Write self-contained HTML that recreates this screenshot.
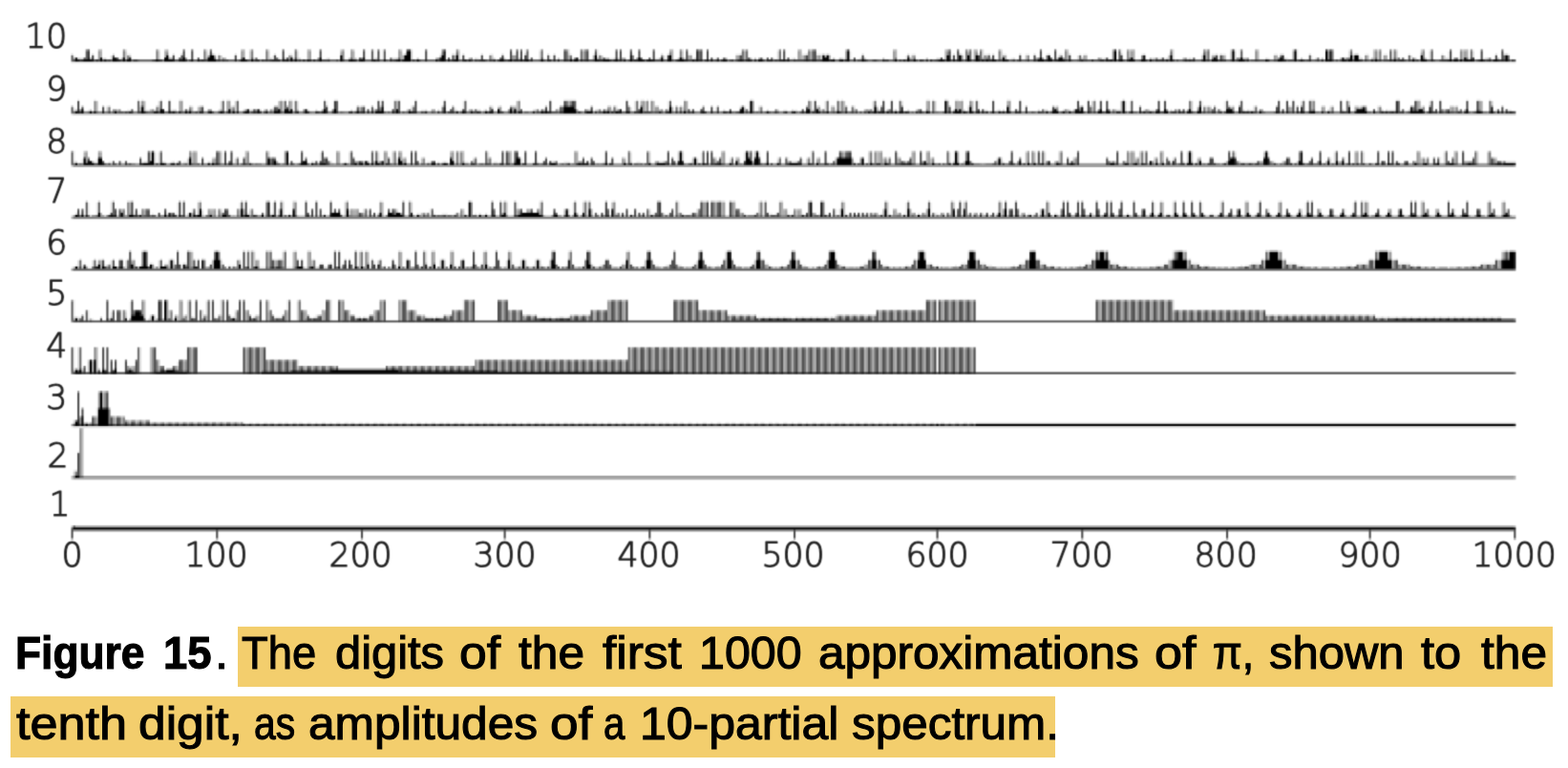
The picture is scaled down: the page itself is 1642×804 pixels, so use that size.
<!DOCTYPE html>
<html lang="en">
<head>
<meta charset="utf-8">
<title>Figure 15</title>
<style>
html,body{margin:0;padding:0;background:#fff;}
body{width:1642px;height:804px;position:relative;overflow:hidden;font-family:"Liberation Sans","DejaVu Sans",sans-serif;}
#chart{position:absolute;left:0;top:0;}
.hl{position:absolute;background:#F3CE6D;}
.cap{position:absolute;left:0;top:0;width:1642px;height:804px;margin:0;}
.w{position:absolute;display:block;white-space:nowrap;font-size:48px;line-height:80px;height:80px;color:#000;transform-origin:0 0;-webkit-text-stroke:1.1px #000;paint-order:stroke fill;}
.b{font-weight:bold;}
</style>
</head>
<body>
<div id="chart">
<svg width="1642" height="625" viewBox="0 0 1642 625">
<defs>
<filter id="b" x="0" y="0" width="1642" height="625" filterUnits="userSpaceOnUse" color-interpolation-filters="sRGB"><feColorMatrix type="matrix" values="0 0 0 0 0 0 0 0 0 0 0 0 0 0 0 1 0 0 0 0"/><feConvolveMatrix order="3" kernelMatrix="28.9 112.2 28.9 112.2 435.6 112.2 28.9 112.2 28.9" divisor="1000" edgeMode="none" preserveAlpha="false"/></filter>
<filter id="c" x="0" y="0" width="1642" height="625" filterUnits="userSpaceOnUse" color-interpolation-filters="sRGB"><feConvolveMatrix order="3" kernelMatrix="28.9 112.2 28.9 112.2 435.6 112.2 28.9 112.2 28.9" divisor="1000" edgeMode="none" preserveAlpha="false"/></filter>
</defs>
<g filter="url(#b)">
<rect x="0" y="0" width="1642" height="625" fill="#000"/>
<g fill="#fff">
<path style="mix-blend-mode:plus-lighter" fill-opacity="0.06" d="M74.49 64.49h1512.91v2.17h-1512.91zM74.49 279.07h2.17v2.17h-2.17zM91.83 279.07h4.34v2.17h-4.34zM189.37 279.07h2.17v2.17h-2.17zM208.88 279.07h2.17v2.17h-2.17zM237.06 279.07h2.17v2.17h-2.17zM252.23 279.07h2.17v2.17h-2.17zM271.74 279.07h6.5v2.17h-6.5zM299.92 279.07h6.5v2.17h-6.5zM319.42 279.07h2.17v2.17h-2.17zM347.6 279.07h2.17v2.17h-2.17zM362.77 279.07h2.17v2.17h-2.17zM369.28 279.07h2.17v2.17h-2.17zM386.62 279.07h2.17v2.17h-2.17zM393.12 279.07h2.17v2.17h-2.17zM403.95 279.07h2.17v2.17h-2.17zM477.65 279.07h2.17v2.17h-2.17zM74.49 445.97h2.17v2.17h-2.17zM76.66 57.99h2.17v2.17h-2.17zM176.37 57.99h2.17v2.17h-2.17zM1422.68 57.99h2.17v2.17h-2.17zM76.66 112.18h2.17v2.17h-2.17zM284.74 112.18h2.17v2.17h-2.17zM390.95 112.18h2.17v2.17h-2.17zM475.48 112.18h2.17v2.17h-2.17zM583.86 112.18h2.17v2.17h-2.17zM733.41 112.18h2.17v2.17h-2.17zM76.66 157.69h2.17v10.84h-2.17zM390.95 157.69h2.17v10.84h-2.17zM997.85 157.69h2.17v10.84h-2.17zM76.66 313.75h2.17v17.34h-2.17zM76.66 363.61h2.17v21.67h-2.17zM76.66 491.49h2.17v2.17h-2.17zM78.83 276.91h2.17v2.17h-2.17zM85.33 276.91h2.17v2.17h-2.17zM89.67 276.91h2.17v2.17h-2.17zM109.17 276.91h2.17v2.17h-2.17zM120.01 276.91h2.17v2.17h-2.17zM141.69 276.91h2.17v2.17h-2.17zM146.02 276.91h2.17v2.17h-2.17zM169.87 276.91h2.17v2.17h-2.17zM204.55 276.91h2.17v2.17h-2.17zM239.23 276.91h2.17v2.17h-2.17zM243.56 276.91h2.17v2.17h-2.17zM312.92 276.91h2.17v2.17h-2.17zM373.61 276.91h2.17v2.17h-2.17zM401.79 276.91h2.17v2.17h-2.17zM440.8 276.91h2.17v2.17h-2.17zM449.47 276.91h2.17v2.17h-2.17zM475.48 276.91h2.17v2.17h-2.17zM479.82 276.91h2.17v2.17h-2.17zM492.82 276.91h2.17v2.17h-2.17zM516.66 276.91h2.17v2.17h-2.17zM542.67 276.91h2.17v2.17h-2.17zM551.34 276.91h2.17v2.17h-2.17zM557.85 276.91h2.17v2.17h-2.17zM566.52 276.91h2.17v2.17h-2.17zM573.02 276.91h2.17v2.17h-2.17zM583.86 276.91h2.17v2.17h-2.17zM592.53 276.91h2.17v2.17h-2.17zM609.87 276.91h2.17v2.17h-2.17zM620.7 276.91h2.17v2.17h-2.17zM627.21 276.91h2.17v2.17h-2.17zM640.21 276.91h2.17v2.17h-2.17zM648.88 276.91h2.17v2.17h-2.17zM661.89 276.91h2.17v2.17h-2.17zM672.72 276.91h2.17v2.17h-2.17zM685.73 276.91h4.34v2.17h-4.34zM696.57 276.91h2.17v2.17h-2.17zM711.74 276.91h2.17v2.17h-2.17zM724.75 276.91h2.17v2.17h-2.17zM739.92 276.91h4.34v2.17h-4.34zM750.75 276.91h2.17v2.17h-2.17zM772.43 276.91h2.17v2.17h-2.17zM785.43 276.91h2.17v2.17h-2.17zM804.94 276.91h2.17v2.17h-2.17zM817.95 276.91h2.17v2.17h-2.17zM822.28 276.91h2.17v2.17h-2.17zM839.62 276.91h4.34v2.17h-4.34zM856.96 276.91h2.17v2.17h-2.17zM861.3 276.91h2.17v2.17h-2.17zM880.8 276.91h4.34v2.17h-4.34zM900.31 276.91h4.33v2.17h-4.33zM924.15 276.91h6.5v2.17h-6.5zM948 276.91h4.34v2.17h-4.34zM976.17 276.91h2.17v2.17h-2.17zM980.51 276.91h2.17v2.17h-2.17zM1000.02 276.91h2.17v2.17h-2.17zM1004.35 276.91h2.17v2.17h-2.17zM1032.53 276.91h6.5v2.17h-6.5zM1060.71 276.91h2.17v2.17h-2.17zM1065.04 276.91h2.17v2.17h-2.17zM1095.39 276.91h2.17v2.17h-2.17zM1099.72 276.91h4.34v2.17h-4.34zM1130.07 276.91h2.17v2.17h-2.17zM1134.4 276.91h2.17v2.17h-2.17zM1171.25 276.91h2.17v2.17h-2.17zM1175.59 276.91h4.33v2.17h-4.33zM1210.26 276.91h8.67v2.17h-8.67zM1255.78 276.91h2.17v2.17h-2.17zM1260.12 276.91h6.5v2.17h-6.5zM1299.13 276.91h2.17v2.17h-2.17zM1303.47 276.91h4.34v2.17h-4.34zM1359.82 276.91h6.5v2.17h-6.5zM1409.67 276.91h6.5v2.17h-6.5zM1418.35 276.91h2.17v2.17h-2.17zM1476.87 276.91h4.34v2.17h-4.34zM1483.37 276.91h4.34v2.17h-4.34zM1539.72 276.91h6.5v2.17h-6.5zM1548.39 276.91h2.17v2.17h-2.17zM81 103.51h2.17v2.17h-2.17zM98.34 103.51h2.17v2.17h-2.17zM143.86 103.51h2.17v2.17h-2.17zM148.19 103.51h2.17v2.17h-2.17zM167.7 103.51h2.17v2.17h-2.17zM176.37 103.51h2.17v2.17h-2.17zM187.21 103.51h4.34v2.17h-4.34zM232.72 103.51h2.17v2.17h-2.17zM237.06 103.51h4.34v2.17h-4.34zM247.9 103.51h2.17v2.17h-2.17zM293.41 103.51h2.17v2.17h-2.17zM297.75 103.51h2.17v2.17h-2.17zM302.08 103.51h4.34v2.17h-4.34zM308.59 103.51h2.17v2.17h-2.17zM338.93 103.51h2.17v2.17h-2.17zM349.77 103.51h4.34v2.17h-4.34zM395.29 103.51h2.17v2.17h-2.17zM399.62 103.51h2.17v2.17h-2.17zM412.62 103.51h6.5v2.17h-6.5zM434.3 103.51h2.17v2.17h-2.17zM464.64 103.51h2.17v2.17h-2.17zM486.32 103.51h2.17v2.17h-2.17zM542.67 103.51h2.17v2.17h-2.17zM575.19 103.51h2.17v2.17h-2.17zM590.36 103.51h13v2.17h-13zM655.38 103.51h2.17v2.17h-2.17zM666.22 103.51h2.17v2.17h-2.17zM670.56 103.51h4.33v2.17h-4.33zM677.06 103.51h2.17v2.17h-2.17zM681.39 103.51h2.17v2.17h-2.17zM700.9 103.51h2.17v2.17h-2.17zM716.07 103.51h2.17v2.17h-2.17zM787.6 103.51h2.17v2.17h-2.17zM846.12 103.51h2.17v2.17h-2.17zM852.63 103.51h2.17v2.17h-2.17zM865.63 103.51h2.17v2.17h-2.17zM876.47 103.51h2.17v2.17h-2.17zM880.8 103.51h2.17v2.17h-2.17zM915.48 103.51h2.17v2.17h-2.17zM924.15 103.51h2.17v2.17h-2.17zM932.82 103.51h2.17v2.17h-2.17zM941.49 103.51h2.17v2.17h-2.17zM969.67 103.51h4.34v2.17h-4.34zM976.17 103.51h2.17v2.17h-2.17zM991.35 103.51h2.17v2.17h-2.17zM1000.02 103.51h4.34v2.17h-4.34zM1006.52 103.51h2.17v2.17h-2.17zM1015.19 103.51h2.17v2.17h-2.17zM1021.69 103.51h2.17v2.17h-2.17zM1039.03 103.51h2.17v2.17h-2.17zM1054.2 103.51h4.34v2.17h-4.34zM1067.21 103.51h2.17v2.17h-2.17zM1127.9 103.51h2.17v2.17h-2.17zM1138.74 103.51h2.17v2.17h-2.17zM1145.24 103.51h2.17v2.17h-2.17zM1151.74 103.51h2.17v2.17h-2.17zM1158.24 103.51h2.17v2.17h-2.17zM1184.25 103.51h2.17v2.17h-2.17zM1212.43 103.51h2.17v2.17h-2.17zM1218.93 103.51h2.17v2.17h-2.17zM1244.94 103.51h2.17v2.17h-2.17zM1255.78 103.51h2.17v2.17h-2.17zM1283.96 103.51h2.17v2.17h-2.17zM1299.13 103.51h2.17v2.17h-2.17zM1338.15 103.51h2.17v2.17h-2.17zM1346.82 103.51h2.17v2.17h-2.17zM1353.32 103.51h2.17v2.17h-2.17zM1364.16 103.51h2.17v2.17h-2.17zM1370.66 103.51h6.5v2.17h-6.5zM1403.17 103.51h2.17v2.17h-2.17zM1409.67 103.51h2.17v2.17h-2.17zM1461.69 103.51h4.34v2.17h-4.34zM1481.2 103.51h6.5v2.17h-6.5zM1498.54 103.51h2.17v2.17h-2.17zM1507.21 103.51h2.17v2.17h-2.17zM1535.39 103.51h2.17v2.17h-2.17zM1546.23 103.51h4.34v2.17h-4.34zM1559.23 103.51h2.17v2.17h-2.17zM81 331.09h4.33v2.17h-4.33zM202.38 331.09h2.17v2.17h-2.17zM224.05 331.09h2.17v2.17h-2.17zM241.39 331.09h2.17v2.17h-2.17zM286.91 331.09h8.67v2.17h-8.67zM323.76 331.09h2.17v2.17h-2.17zM328.09 331.09h2.17v2.17h-2.17zM371.44 331.09h4.34v2.17h-4.34zM382.28 331.09h4.33v2.17h-4.33zM447.31 331.09h6.5v2.17h-6.5zM458.14 331.09h6.5v2.17h-6.5zM562.18 331.09h6.5v2.17h-6.5zM570.85 331.09h4.34v2.17h-4.34zM581.69 331.09h4.34v2.17h-4.34zM590.36 331.09h4.34v2.17h-4.34zM791.94 331.09h6.5v2.17h-6.5zM800.61 331.09h4.34v2.17h-4.34zM807.11 331.09h6.5v2.17h-6.5zM815.78 331.09h4.33v2.17h-4.33zM822.28 331.09h6.5v2.17h-6.5zM835.29 331.09h4.34v2.17h-4.34zM841.79 331.09h6.5v2.17h-6.5zM850.46 331.09h4.34v2.17h-4.34zM856.96 331.09h6.5v2.17h-6.5zM865.63 331.09h4.34v2.17h-4.34zM872.13 331.09h2.17v2.17h-2.17zM1440.02 331.09h6.5v2.17h-6.5zM1448.69 331.09h4.33v2.17h-4.33zM1455.19 331.09h6.5v2.17h-6.5zM1463.86 331.09h4.34v2.17h-4.34zM1472.53 331.09h4.33v2.17h-4.33zM1479.03 331.09h6.5v2.17h-6.5zM1487.7 331.09h4.34v2.17h-4.34zM1494.21 331.09h6.5v2.17h-6.5zM1502.88 331.09h4.33v2.17h-4.33zM1509.38 331.09h6.5v2.17h-6.5zM1518.05 331.09h4.34v2.17h-4.34zM1524.55 331.09h6.5v2.17h-6.5zM1533.22 331.09h4.34v2.17h-4.34zM1539.72 331.09h6.5v2.17h-6.5zM1548.39 331.09h4.34v2.17h-4.34zM1554.9 331.09h6.5v2.17h-6.5zM1563.57 331.09h4.34v2.17h-4.34zM81 471.98h2.17v2.17h-2.17zM83.16 222.72h2.17v2.17h-2.17zM113.51 222.72h2.17v2.17h-2.17zM139.52 222.72h2.17v2.17h-2.17zM143.86 222.72h4.33v2.17h-4.33zM159.03 222.72h2.17v2.17h-2.17zM174.2 222.72h2.17v2.17h-2.17zM182.87 222.72h2.17v2.17h-2.17zM239.23 222.72h2.17v2.17h-2.17zM265.24 222.72h4.33v2.17h-4.33zM276.07 222.72h2.17v2.17h-2.17zM282.57 222.72h2.17v2.17h-2.17zM302.08 222.72h2.17v2.17h-2.17zM338.93 222.72h2.17v2.17h-2.17zM356.27 222.72h2.17v2.17h-2.17zM438.63 222.72h2.17v2.17h-2.17zM453.81 222.72h2.17v2.17h-2.17zM462.48 222.72h6.5v2.17h-6.5zM475.48 222.72h2.17v2.17h-2.17zM486.32 222.72h2.17v2.17h-2.17zM497.16 222.72h2.17v2.17h-2.17zM625.04 222.72h2.17v2.17h-2.17zM648.88 222.72h2.17v2.17h-2.17zM659.72 222.72h2.17v2.17h-2.17zM674.89 222.72h2.17v2.17h-2.17zM681.39 222.72h4.33v2.17h-4.33zM698.73 222.72h2.17v2.17h-2.17zM713.91 222.72h2.17v2.17h-2.17zM722.58 222.72h2.17v2.17h-2.17zM778.93 222.72h2.17v2.17h-2.17zM789.77 222.72h2.17v2.17h-2.17zM804.94 222.72h4.33v2.17h-4.33zM811.44 222.72h2.17v2.17h-2.17zM824.45 222.72h2.17v2.17h-2.17zM828.78 222.72h2.17v2.17h-2.17zM839.62 222.72h2.17v2.17h-2.17zM856.96 222.72h2.17v2.17h-2.17zM863.46 222.72h2.17v2.17h-2.17zM885.14 222.72h2.17v2.17h-2.17zM921.99 222.72h2.17v2.17h-2.17zM930.66 222.72h2.17v2.17h-2.17zM945.83 222.72h2.17v2.17h-2.17zM980.51 222.72h2.17v2.17h-2.17zM1075.88 222.72h4.34v2.17h-4.34zM1082.38 222.72h2.17v2.17h-2.17zM1106.22 222.72h2.17v2.17h-2.17zM1221.1 222.72h4.34v2.17h-4.34zM1260.12 222.72h2.17v2.17h-2.17zM1266.62 222.72h4.34v2.17h-4.34zM1275.29 222.72h2.17v2.17h-2.17zM1314.3 222.72h2.17v2.17h-2.17zM1329.48 222.72h2.17v2.17h-2.17zM1335.98 222.72h2.17v2.17h-2.17zM1383.66 222.72h2.17v2.17h-2.17zM1414.01 222.72h2.17v2.17h-2.17zM1450.86 222.72h2.17v2.17h-2.17zM1468.2 222.72h2.17v2.17h-2.17zM85.33 166.36h2.17v4.34h-2.17zM100.5 166.36h2.17v4.34h-2.17zM839.62 166.36h2.17v4.34h-2.17zM87.5 274.74h2.17v2.17h-2.17zM113.51 274.74h2.17v2.17h-2.17zM159.03 274.74h2.17v2.17h-2.17zM172.03 274.74h4.34v2.17h-4.34zM182.87 274.74h2.17v2.17h-2.17zM187.21 274.74h2.17v2.17h-2.17zM193.71 274.74h2.17v2.17h-2.17zM219.72 274.74h2.17v2.17h-2.17zM232.72 274.74h2.17v2.17h-2.17zM334.6 274.74h4.33v2.17h-4.33zM343.26 274.74h2.17v2.17h-2.17zM358.44 274.74h2.17v2.17h-2.17zM367.11 274.74h2.17v2.17h-2.17zM412.62 274.74h2.17v2.17h-2.17zM436.47 274.74h2.17v2.17h-2.17zM497.16 274.74h2.17v2.17h-2.17zM503.66 274.74h2.17v2.17h-2.17zM536.17 274.74h2.17v2.17h-2.17zM581.69 274.74h2.17v2.17h-2.17zM599.03 274.74h2.17v2.17h-2.17zM618.54 274.74h2.17v2.17h-2.17zM631.54 274.74h2.17v2.17h-2.17zM638.04 274.74h2.17v2.17h-2.17zM651.05 274.74h4.34v2.17h-4.34zM659.72 274.74h2.17v2.17h-2.17zM683.56 274.74h2.17v2.17h-2.17zM700.9 274.74h2.17v2.17h-2.17zM707.4 274.74h2.17v2.17h-2.17zM726.91 274.74h2.17v2.17h-2.17zM737.75 274.74h2.17v2.17h-2.17zM755.09 274.74h2.17v2.17h-2.17zM768.09 274.74h2.17v2.17h-2.17zM787.6 274.74h2.17v2.17h-2.17zM800.61 274.74h4.34v2.17h-4.34zM824.45 274.74h2.17v2.17h-2.17zM837.45 274.74h2.17v2.17h-2.17zM863.46 274.74h2.17v2.17h-2.17zM876.47 274.74h2.17v2.17h-2.17zM904.65 274.74h4.34v2.17h-4.34zM921.99 274.74h2.17v2.17h-2.17zM954.5 274.74h2.17v2.17h-2.17zM969.67 274.74h6.5v2.17h-6.5zM1006.52 274.74h6.5v2.17h-6.5zM1026.03 274.74h6.5v2.17h-6.5zM1067.21 274.74h6.5v2.17h-6.5zM1091.05 274.74h4.34v2.17h-4.34zM1136.57 274.74h6.5v2.17h-6.5zM1162.58 274.74h8.67v2.17h-8.67zM1218.93 274.74h4.34v2.17h-4.34zM1247.11 274.74h8.67v2.17h-8.67zM1309.97 274.74h10.84v2.17h-10.84zM1346.82 274.74h10.84v2.17h-10.84zM1420.51 274.74h10.84v2.17h-10.84zM1463.86 274.74h13v2.17h-13zM1550.56 274.74h15.17v2.17h-15.17zM91.83 114.34h2.17v2.17h-2.17zM133.02 114.34h4.34v2.17h-4.34zM152.53 114.34h4.34v2.17h-4.34zM178.53 114.34h2.17v2.17h-2.17zM191.54 114.34h2.17v2.17h-2.17zM371.44 114.34h2.17v2.17h-2.17zM440.8 114.34h4.33v2.17h-4.33zM477.65 114.34h2.17v2.17h-2.17zM481.99 114.34h2.17v2.17h-2.17zM505.83 114.34h2.17v2.17h-2.17zM573.02 114.34h2.17v2.17h-2.17zM820.11 114.34h4.34v2.17h-4.34zM830.95 114.34h4.33v2.17h-4.33zM874.3 114.34h2.17v2.17h-2.17zM934.99 114.34h2.17v2.17h-2.17zM1030.36 114.34h4.34v2.17h-4.34zM1043.37 114.34h2.17v2.17h-2.17zM1099.72 114.34h2.17v2.17h-2.17zM1162.58 114.34h2.17v2.17h-2.17zM1203.76 114.34h6.5v2.17h-6.5zM1307.8 114.34h4.34v2.17h-4.34zM1431.35 114.34h2.17v2.17h-2.17zM1453.02 114.34h8.67v2.17h-8.67zM1466.03 114.34h2.17v2.17h-2.17zM1544.06 114.34h2.17v2.17h-2.17zM1565.73 114.34h2.17v2.17h-2.17zM1578.74 114.34h4.34v2.17h-4.34zM91.83 211.88h2.17v13h-2.17zM100.5 211.88h2.17v13h-2.17zM185.04 211.88h2.17v13h-2.17zM599.03 211.88h2.17v13h-2.17zM798.44 211.88h2.17v13h-2.17zM948 211.88h2.17v13h-2.17zM974.01 211.88h2.17v13h-2.17zM1208.1 211.88h2.17v13h-2.17zM1366.33 211.88h2.17v13h-2.17zM91.83 324.59h2.17v8.67h-2.17zM96.17 333.26h2.17v2.17h-2.17zM98.34 168.53h2.17v2.17h-2.17zM113.51 168.53h4.34v2.17h-4.34zM126.52 168.53h2.17v2.17h-2.17zM148.19 168.53h2.17v2.17h-2.17zM172.03 168.53h2.17v2.17h-2.17zM178.53 168.53h2.17v2.17h-2.17zM191.54 168.53h4.33v2.17h-4.33zM219.72 168.53h2.17v2.17h-2.17zM260.9 168.53h2.17v2.17h-2.17zM312.92 168.53h2.17v2.17h-2.17zM328.09 168.53h2.17v2.17h-2.17zM360.61 168.53h2.17v2.17h-2.17zM447.31 168.53h4.33v2.17h-4.33zM458.14 168.53h2.17v2.17h-2.17zM462.48 168.53h2.17v2.17h-2.17zM466.81 168.53h2.17v2.17h-2.17zM475.48 168.53h2.17v2.17h-2.17zM486.32 168.53h4.34v2.17h-4.34zM516.66 168.53h4.34v2.17h-4.34zM523.17 168.53h2.17v2.17h-2.17zM536.17 168.53h2.17v2.17h-2.17zM557.85 168.53h2.17v2.17h-2.17zM562.18 168.53h2.17v2.17h-2.17zM590.36 168.53h6.5v2.17h-6.5zM612.03 168.53h2.17v2.17h-2.17zM631.54 168.53h2.17v2.17h-2.17zM638.04 168.53h2.17v2.17h-2.17zM666.22 168.53h4.34v2.17h-4.34zM722.58 168.53h2.17v2.17h-2.17zM796.27 168.53h2.17v2.17h-2.17zM800.61 168.53h2.17v2.17h-2.17zM865.63 168.53h2.17v2.17h-2.17zM893.81 168.53h2.17v2.17h-2.17zM1017.36 168.53h2.17v2.17h-2.17zM1049.87 168.53h2.17v2.17h-2.17zM1060.71 168.53h2.17v2.17h-2.17zM1119.23 168.53h2.17v2.17h-2.17zM1251.45 168.53h2.17v2.17h-2.17zM1257.95 168.53h2.17v2.17h-2.17zM1264.45 168.53h2.17v2.17h-2.17zM1270.95 168.53h2.17v2.17h-2.17zM1281.79 168.53h2.17v2.17h-2.17zM1299.13 168.53h17.34v2.17h-17.34zM1333.81 168.53h2.17v2.17h-2.17zM1351.15 168.53h2.17v2.17h-2.17zM1364.16 168.53h2.17v2.17h-2.17zM1440.02 168.53h2.17v2.17h-2.17zM1463.86 168.53h2.17v2.17h-2.17zM1502.88 168.53h2.17v2.17h-2.17zM1518.05 168.53h2.17v2.17h-2.17zM100.5 426.46h2.17v8.67h-2.17zM102.67 270.4h4.33v2.17h-4.33zM137.35 270.4h4.33v2.17h-4.33zM176.37 270.4h2.17v2.17h-2.17zM180.7 270.4h2.17v2.17h-2.17zM221.89 270.4h2.17v2.17h-2.17zM230.56 270.4h2.17v2.17h-2.17zM247.9 270.4h4.34v2.17h-4.34zM267.4 270.4h4.33v2.17h-4.33zM286.91 270.4h4.33v2.17h-4.33zM325.93 270.4h4.33v2.17h-4.33zM427.8 270.4h2.17v2.17h-2.17zM460.31 270.4h2.17v2.17h-2.17zM464.64 270.4h2.17v2.17h-2.17zM481.99 270.4h2.17v2.17h-2.17zM544.84 270.4h2.17v2.17h-2.17zM549.18 270.4h2.17v2.17h-2.17zM560.01 270.4h2.17v2.17h-2.17zM564.35 270.4h2.17v2.17h-2.17zM575.19 270.4h2.17v2.17h-2.17zM674.89 270.4h2.17v2.17h-2.17zM789.77 270.4h2.17v2.17h-2.17zM833.12 270.4h2.17v2.17h-2.17zM865.63 270.4h2.17v2.17h-2.17zM917.65 270.4h2.17v2.17h-2.17zM958.83 270.4h2.17v2.17h-2.17zM1021.69 270.4h2.17v2.17h-2.17zM1145.24 270.4h2.17v2.17h-2.17zM1160.41 270.4h2.17v2.17h-2.17zM1223.27 270.4h4.34v2.17h-4.34zM1242.78 270.4h2.17v2.17h-2.17zM1322.97 270.4h2.17v2.17h-2.17zM1342.48 270.4h2.17v2.17h-2.17zM1437.85 270.4h2.17v2.17h-2.17zM1457.36 270.4h4.34v2.17h-4.34zM1567.9 270.4h4.34v2.17h-4.34zM104.84 387.45h2.17v2.17h-2.17zM111.34 110.01h2.17v2.17h-2.17zM200.21 110.01h2.17v2.17h-2.17zM206.71 110.01h2.17v2.17h-2.17zM241.39 110.01h2.17v2.17h-2.17zM375.78 110.01h2.17v2.17h-2.17zM429.97 110.01h2.17v2.17h-2.17zM514.5 110.01h2.17v2.17h-2.17zM521 110.01h2.17v2.17h-2.17zM644.55 110.01h2.17v2.17h-2.17zM703.07 110.01h2.17v2.17h-2.17zM713.91 110.01h2.17v2.17h-2.17zM774.6 110.01h2.17v2.17h-2.17zM778.93 110.01h2.17v2.17h-2.17zM794.1 110.01h2.17v2.17h-2.17zM893.81 110.01h2.17v2.17h-2.17zM917.65 110.01h2.17v2.17h-2.17zM1013.02 110.01h2.17v2.17h-2.17zM1104.06 110.01h2.17v2.17h-2.17zM1253.62 110.01h2.17v2.17h-2.17zM1262.28 110.01h2.17v2.17h-2.17zM1266.62 110.01h2.17v2.17h-2.17zM1288.29 110.01h2.17v2.17h-2.17zM1312.14 110.01h2.17v2.17h-2.17zM1351.15 110.01h2.17v2.17h-2.17zM1392.34 110.01h2.17v2.17h-2.17zM1422.68 110.01h2.17v2.17h-2.17zM1442.19 110.01h2.17v2.17h-2.17zM1487.7 110.01h2.17v2.17h-2.17zM1522.38 110.01h2.17v2.17h-2.17zM115.68 209.71h2.17v2.17h-2.17zM206.71 209.71h2.17v2.17h-2.17zM295.58 209.71h2.17v2.17h-2.17zM360.61 209.71h2.17v2.17h-2.17zM399.62 209.71h2.17v2.17h-2.17zM429.97 209.71h2.17v2.17h-2.17zM529.67 209.71h2.17v2.17h-2.17zM564.35 209.71h2.17v2.17h-2.17zM609.87 209.71h2.17v2.17h-2.17zM614.2 209.71h2.17v2.17h-2.17zM640.21 209.71h2.17v2.17h-2.17zM709.57 209.71h2.17v2.17h-2.17zM794.1 209.71h2.17v2.17h-2.17zM882.97 209.71h2.17v2.17h-2.17zM928.49 209.71h2.17v2.17h-2.17zM997.85 209.71h2.17v2.17h-2.17zM1008.69 209.71h2.17v2.17h-2.17zM1047.7 209.71h2.17v2.17h-2.17zM1097.55 209.71h2.17v2.17h-2.17zM1216.77 209.71h2.17v2.17h-2.17zM1227.61 209.71h2.17v2.17h-2.17zM1277.46 209.71h2.17v2.17h-2.17zM1338.15 209.71h2.17v2.17h-2.17zM1427.01 209.71h2.17v2.17h-2.17zM1431.35 209.71h2.17v2.17h-2.17zM1557.07 209.71h2.17v2.17h-2.17zM1572.24 209.71h2.17v2.17h-2.17zM115.68 324.59h2.17v2.17h-2.17zM126.52 324.59h2.17v10.84h-2.17zM133.02 55.82h4.34v2.17h-4.34zM217.55 55.82h2.17v2.17h-2.17zM224.05 55.82h2.17v2.17h-2.17zM228.39 55.82h2.17v2.17h-2.17zM302.08 55.82h4.34v2.17h-4.34zM421.3 55.82h2.17v2.17h-2.17zM460.31 55.82h2.17v2.17h-2.17zM475.48 55.82h2.17v2.17h-2.17zM512.33 55.82h4.34v2.17h-4.34zM536.17 55.82h4.34v2.17h-4.34zM596.86 55.82h2.17v2.17h-2.17zM620.7 55.82h2.17v2.17h-2.17zM627.21 55.82h2.17v2.17h-2.17zM661.89 55.82h2.17v2.17h-2.17zM720.41 55.82h4.34v2.17h-4.34zM770.26 55.82h4.34v2.17h-4.34zM839.62 55.82h4.34v2.17h-4.34zM854.79 55.82h6.5v2.17h-6.5zM863.46 55.82h2.17v2.17h-2.17zM867.8 55.82h2.17v2.17h-2.17zM954.5 55.82h4.33v2.17h-4.33zM1006.52 55.82h2.17v2.17h-2.17zM1030.36 55.82h4.34v2.17h-4.34zM1049.87 55.82h4.34v2.17h-4.34zM1073.71 55.82h4.34v2.17h-4.34zM1095.39 55.82h2.17v2.17h-2.17zM1108.39 55.82h4.34v2.17h-4.34zM1130.07 55.82h2.17v2.17h-2.17zM1134.4 55.82h4.34v2.17h-4.34zM1195.09 55.82h2.17v2.17h-2.17zM1223.27 55.82h2.17v2.17h-2.17zM1257.95 55.82h2.17v2.17h-2.17zM1268.79 55.82h4.34v2.17h-4.34zM1279.62 55.82h4.34v2.17h-4.34zM1333.81 55.82h4.34v2.17h-4.34zM1416.18 55.82h2.17v2.17h-2.17zM1429.18 55.82h4.34v2.17h-4.34zM1448.69 55.82h4.33v2.17h-4.33zM1474.7 55.82h2.17v2.17h-2.17zM1509.38 55.82h2.17v2.17h-2.17zM1578.74 55.82h2.17v2.17h-2.17zM135.19 315.92h2.17v17.34h-2.17zM161.2 157.69h2.17v2.17h-2.17zM165.53 157.69h2.17v2.17h-2.17zM364.94 157.69h2.17v2.17h-2.17zM395.29 157.69h2.17v2.17h-2.17zM510.16 157.69h2.17v2.17h-2.17zM659.72 157.69h2.17v2.17h-2.17zM778.93 157.69h2.17v2.17h-2.17zM794.1 157.69h2.17v2.17h-2.17zM993.51 157.69h2.17v2.17h-2.17zM1093.22 157.69h2.17v2.17h-2.17zM1292.63 157.69h2.17v2.17h-2.17zM1327.31 157.69h2.17v2.17h-2.17zM1396.67 157.69h2.17v2.17h-2.17zM1427.01 157.69h2.17v2.17h-2.17zM1511.55 157.69h2.17v2.17h-2.17zM161.2 328.93h2.17v2.17h-2.17zM191.54 328.93h2.17v2.17h-2.17zM330.26 328.93h2.17v2.17h-2.17zM874.3 328.93h2.17v2.17h-2.17zM172.03 385.28h2.17v2.17h-2.17zM185.04 60.16h2.17v2.17h-2.17zM291.25 60.16h2.17v2.17h-2.17zM341.1 60.16h2.17v2.17h-2.17zM499.32 60.16h2.17v2.17h-2.17zM568.68 60.16h2.17v2.17h-2.17zM599.03 60.16h2.17v2.17h-2.17zM638.04 60.16h4.34v2.17h-4.34zM685.73 60.16h4.34v2.17h-4.34zM724.75 60.16h2.17v2.17h-2.17zM748.59 60.16h2.17v2.17h-2.17zM755.09 60.16h2.17v2.17h-2.17zM798.44 60.16h2.17v2.17h-2.17zM809.28 60.16h2.17v2.17h-2.17zM828.78 60.16h2.17v2.17h-2.17zM882.97 60.16h2.17v2.17h-2.17zM987.01 60.16h2.17v2.17h-2.17zM1058.54 60.16h2.17v2.17h-2.17zM1101.89 60.16h2.17v2.17h-2.17zM1153.91 60.16h2.17v2.17h-2.17zM1212.43 60.16h2.17v2.17h-2.17zM1218.93 60.16h2.17v2.17h-2.17zM1242.78 60.16h2.17v2.17h-2.17zM1247.11 60.16h2.17v2.17h-2.17zM1327.31 60.16h2.17v2.17h-2.17zM1346.82 60.16h2.17v2.17h-2.17zM1466.03 60.16h2.17v2.17h-2.17zM1526.72 60.16h2.17v2.17h-2.17zM1537.56 60.16h2.17v2.17h-2.17zM1552.73 60.16h2.17v2.17h-2.17zM185.04 378.78h2.17v4.34h-2.17zM195.88 164.2h2.17v2.17h-2.17zM245.73 164.2h2.17v2.17h-2.17zM414.79 164.2h2.17v2.17h-2.17zM494.99 164.2h2.17v2.17h-2.17zM544.84 164.2h2.17v2.17h-2.17zM729.08 164.2h2.17v2.17h-2.17zM763.76 164.2h2.17v2.17h-2.17zM813.61 164.2h2.17v2.17h-2.17zM843.96 164.2h2.17v2.17h-2.17zM928.49 164.2h2.17v2.17h-2.17zM1043.37 164.2h2.17v2.17h-2.17zM1227.61 164.2h2.17v2.17h-2.17zM1392.34 164.2h2.17v2.17h-2.17zM1492.04 164.2h2.17v2.17h-2.17zM200.21 218.38h2.17v4.34h-2.17zM774.6 218.38h2.17v4.34h-2.17zM200.21 261.73h2.17v2.17h-2.17zM260.9 261.73h2.17v2.17h-2.17zM265.24 261.73h2.17v2.17h-2.17zM295.58 261.73h2.17v2.17h-2.17zM306.42 261.73h2.17v2.17h-2.17zM375.78 261.73h2.17v2.17h-2.17zM384.45 261.73h2.17v2.17h-2.17zM419.13 261.73h2.17v2.17h-2.17zM445.14 261.73h2.17v2.17h-2.17zM505.83 261.73h2.17v2.17h-2.17zM534 261.73h2.17v2.17h-2.17zM594.69 261.73h2.17v2.17h-2.17zM655.38 261.73h2.17v2.17h-2.17zM759.42 261.73h2.17v2.17h-2.17zM967.5 261.73h2.17v2.17h-2.17zM1013.02 261.73h2.17v2.17h-2.17zM1227.61 261.73h2.17v2.17h-2.17zM1572.24 261.73h2.17v2.17h-2.17zM211.05 218.38h2.17v2.17h-2.17zM215.38 313.75h2.17v2.17h-2.17zM234.89 315.92h2.17v19.51h-2.17zM250.06 211.88h2.17v6.5h-2.17zM540.51 211.88h2.17v6.5h-2.17zM254.4 441.64h2.17v2.17h-2.17zM260.9 441.64h4.33v2.17h-4.33zM267.4 441.64h4.33v2.17h-4.33zM276.07 441.64h4.34v2.17h-4.34zM282.57 441.64h4.34v2.17h-4.34zM291.25 441.64h4.33v2.17h-4.33zM297.75 441.64h4.33v2.17h-4.33zM306.42 441.64h4.33v2.17h-4.33zM312.92 441.64h4.33v2.17h-4.33zM321.59 441.64h4.33v2.17h-4.33zM330.26 441.64h2.17v2.17h-2.17zM336.76 441.64h4.34v2.17h-4.34zM345.43 441.64h2.17v2.17h-2.17zM351.94 441.64h4.33v2.17h-4.33zM360.61 441.64h4.33v2.17h-4.33zM367.11 441.64h4.33v2.17h-4.33zM375.78 441.64h4.33v2.17h-4.33zM382.28 441.64h4.33v2.17h-4.33zM390.95 441.64h4.34v2.17h-4.34zM397.45 441.64h4.34v2.17h-4.34zM406.12 441.64h4.33v2.17h-4.33zM412.62 441.64h4.33v2.17h-4.33zM421.3 441.64h4.33v2.17h-4.33zM429.97 441.64h2.17v2.17h-2.17zM436.47 441.64h4.33v2.17h-4.33zM445.14 441.64h2.17v2.17h-2.17zM451.64 441.64h4.34v2.17h-4.34zM460.31 441.64h4.33v2.17h-4.33zM466.81 441.64h4.33v2.17h-4.33zM475.48 441.64h4.33v2.17h-4.33zM481.99 441.64h4.33v2.17h-4.33zM490.66 441.64h4.33v2.17h-4.33zM497.16 441.64h4.33v2.17h-4.33zM505.83 441.64h4.34v2.17h-4.34zM512.33 441.64h4.34v2.17h-4.34zM521 441.64h4.33v2.17h-4.33zM529.67 441.64h2.17v2.17h-2.17zM536.17 441.64h4.34v2.17h-4.34zM544.84 441.64h2.17v2.17h-2.17zM551.34 441.64h4.34v2.17h-4.34zM560.01 441.64h4.33v2.17h-4.33zM566.52 441.64h4.34v2.17h-4.34zM575.19 441.64h4.33v2.17h-4.33zM581.69 441.64h4.34v2.17h-4.34zM590.36 441.64h4.34v2.17h-4.34zM596.86 441.64h4.34v2.17h-4.34zM605.53 441.64h4.34v2.17h-4.34zM612.03 441.64h4.34v2.17h-4.34zM620.7 441.64h4.34v2.17h-4.34zM629.38 441.64h2.17v2.17h-2.17zM635.88 441.64h4.34v2.17h-4.34zM644.55 441.64h2.17v2.17h-2.17zM651.05 441.64h4.34v2.17h-4.34zM659.72 441.64h4.34v2.17h-4.34zM666.22 441.64h4.34v2.17h-4.34zM674.89 441.64h4.34v2.17h-4.34zM681.39 441.64h4.33v2.17h-4.33zM690.06 441.64h4.34v2.17h-4.34zM696.57 441.64h4.33v2.17h-4.33zM705.24 441.64h4.34v2.17h-4.34zM711.74 441.64h4.34v2.17h-4.34zM720.41 441.64h4.34v2.17h-4.34zM729.08 441.64h2.17v2.17h-2.17zM735.58 441.64h4.33v2.17h-4.33zM744.25 441.64h2.17v2.17h-2.17zM750.75 441.64h4.33v2.17h-4.33zM759.42 441.64h4.34v2.17h-4.34zM765.93 441.64h4.34v2.17h-4.34zM774.6 441.64h4.34v2.17h-4.34zM781.1 441.64h4.34v2.17h-4.34zM789.77 441.64h4.33v2.17h-4.33zM796.27 441.64h4.34v2.17h-4.34zM804.94 441.64h4.33v2.17h-4.33zM811.44 441.64h4.34v2.17h-4.34zM820.11 441.64h4.34v2.17h-4.34zM828.78 441.64h2.17v2.17h-2.17zM835.29 441.64h4.34v2.17h-4.34zM843.96 441.64h2.17v2.17h-2.17zM850.46 441.64h4.34v2.17h-4.34zM859.13 441.64h4.33v2.17h-4.33zM865.63 441.64h4.34v2.17h-4.34zM874.3 441.64h4.34v2.17h-4.34zM880.8 441.64h4.34v2.17h-4.34zM889.47 441.64h4.34v2.17h-4.34zM895.98 441.64h4.34v2.17h-4.34zM904.65 441.64h4.34v2.17h-4.34zM911.15 441.64h4.33v2.17h-4.33zM919.82 441.64h4.34v2.17h-4.34zM928.49 441.64h2.17v2.17h-2.17zM934.99 441.64h4.34v2.17h-4.34zM943.66 441.64h2.17v2.17h-2.17zM950.16 441.64h4.34v2.17h-4.34zM958.83 441.64h4.34v2.17h-4.34zM965.34 441.64h4.33v2.17h-4.33zM974.01 441.64h4.34v2.17h-4.34zM980.51 441.64h2.17v2.17h-2.17zM984.84 441.64h4.34v2.17h-4.34zM993.51 441.64h2.17v2.17h-2.17zM1000.02 441.64h4.34v2.17h-4.34zM1008.69 441.64h4.33v2.17h-4.33zM1015.19 441.64h4.34v2.17h-4.34zM1021.69 441.64h565.72v2.17h-565.72zM284.74 57.99h2.17v4.34h-2.17zM575.19 57.99h2.17v4.34h-2.17zM948 57.99h2.17v4.34h-2.17zM1372.83 57.99h2.17v4.34h-2.17zM284.74 211.88h2.17v10.84h-2.17zM525.33 211.88h2.17v10.84h-2.17zM1257.95 211.88h2.17v10.84h-2.17zM1316.47 211.88h2.17v10.84h-2.17zM1416.18 211.88h2.17v10.84h-2.17zM299.92 313.75h2.17v10.84h-2.17zM425.63 313.75h2.17v10.84h-2.17zM484.15 313.75h2.17v10.84h-2.17zM310.75 51.49h2.17v2.17h-2.17zM564.35 51.49h2.17v2.17h-2.17zM813.61 51.49h2.17v2.17h-2.17zM1292.63 51.49h2.17v2.17h-2.17zM1411.84 51.49h2.17v2.17h-2.17zM1496.38 51.49h2.17v2.17h-2.17zM1541.89 51.49h2.17v2.17h-2.17zM334.6 159.86h2.17v8.67h-2.17zM341.1 105.67h2.17v4.34h-2.17zM1296.96 105.67h2.17v4.34h-2.17zM384.45 220.55h2.17v4.34h-2.17zM390.95 51.49h2.17v8.67h-2.17zM625.04 51.49h2.17v8.67h-2.17zM1296.96 51.49h2.17v8.67h-2.17zM1457.36 51.49h2.17v8.67h-2.17zM390.95 272.57h2.17v2.17h-2.17zM1431.35 272.57h2.17v2.17h-2.17zM399.62 51.49h2.17v10.84h-2.17zM1357.65 51.49h2.17v10.84h-2.17zM449.47 218.38h2.17v6.5h-2.17zM874.3 218.38h2.17v6.5h-2.17zM1407.51 218.38h2.17v6.5h-2.17zM1522.38 218.38h2.17v6.5h-2.17zM484.15 105.67h2.17v8.67h-2.17zM698.73 105.67h2.17v8.67h-2.17zM1023.86 105.67h2.17v8.67h-2.17zM549.18 51.49h2.17v4.34h-2.17zM1173.42 51.49h2.17v4.34h-2.17zM733.41 159.86h2.17v10.84h-2.17zM1088.88 159.86h2.17v10.84h-2.17zM748.59 112.18h2.17v4.33h-2.17zM1273.12 112.18h2.17v4.33h-2.17zM783.27 105.67h2.17v10.84h-2.17zM1182.09 105.67h2.17v10.84h-2.17zM1257.95 105.67h2.17v10.84h-2.17zM1281.79 105.67h2.17v10.84h-2.17zM824.45 164.2h2.17v4.34h-2.17zM848.29 157.69h2.17v13h-2.17zM1197.26 157.69h2.17v13h-2.17zM874.3 263.9h2.17v6.5h-2.17zM889.47 53.65h2.17v8.67h-2.17zM939.33 159.86h2.17v4.34h-2.17zM1088.88 272.57h2.17v4.33h-2.17zM1223.27 166.36h2.17v2.17h-2.17zM1407.51 164.2h2.17v6.5h-2.17zM1507.21 164.2h2.17v6.5h-2.17zM1515.88 53.65h2.17v6.5h-2.17z"/>
<path style="mix-blend-mode:plus-lighter" fill-opacity="0.12" d="M74.49 55.82h2.17v2.17h-2.17zM96.17 55.82h2.17v2.17h-2.17zM117.84 55.82h2.17v2.17h-2.17zM180.7 55.82h2.17v2.17h-2.17zM189.37 55.82h2.17v2.17h-2.17zM245.73 55.82h2.17v2.17h-2.17zM286.91 55.82h2.17v2.17h-2.17zM473.31 55.82h2.17v2.17h-2.17zM484.15 55.82h2.17v2.17h-2.17zM503.66 55.82h2.17v2.17h-2.17zM525.33 55.82h2.17v2.17h-2.17zM573.02 55.82h2.17v2.17h-2.17zM579.52 55.82h2.17v2.17h-2.17zM692.23 55.82h2.17v2.17h-2.17zM698.73 55.82h2.17v2.17h-2.17zM774.6 55.82h2.17v2.17h-2.17zM843.96 55.82h2.17v2.17h-2.17zM902.48 55.82h2.17v2.17h-2.17zM950.16 55.82h2.17v2.17h-2.17zM997.85 55.82h2.17v2.17h-2.17zM1023.86 55.82h2.17v2.17h-2.17zM1034.7 55.82h2.17v2.17h-2.17zM1039.03 55.82h2.17v2.17h-2.17zM1067.21 55.82h2.17v2.17h-2.17zM1082.38 55.82h2.17v2.17h-2.17zM1097.55 55.82h2.17v2.17h-2.17zM1119.23 55.82h2.17v2.17h-2.17zM1197.26 55.82h2.17v2.17h-2.17zM1273.12 55.82h2.17v2.17h-2.17zM1277.46 55.82h2.17v2.17h-2.17zM1340.32 55.82h4.33v2.17h-4.33zM1370.66 55.82h2.17v2.17h-2.17zM1565.73 55.82h2.17v2.17h-2.17zM1574.4 55.82h2.17v2.17h-2.17zM74.49 118.68h2.17v2.17h-2.17zM74.49 224.89h2.17v2.17h-2.17zM76.66 114.34h2.17v2.17h-2.17zM161.2 114.34h2.17v2.17h-2.17zM180.7 114.34h4.34v2.17h-4.34zM228.39 114.34h2.17v2.17h-2.17zM254.4 114.34h2.17v2.17h-2.17zM260.9 114.34h4.33v2.17h-4.33zM271.74 114.34h2.17v2.17h-2.17zM321.59 114.34h2.17v2.17h-2.17zM330.26 114.34h2.17v2.17h-2.17zM367.11 114.34h2.17v2.17h-2.17zM445.14 114.34h2.17v2.17h-2.17zM458.14 114.34h2.17v2.17h-2.17zM475.48 114.34h2.17v2.17h-2.17zM494.99 114.34h2.17v2.17h-2.17zM499.32 114.34h4.34v2.17h-4.34zM557.85 114.34h2.17v2.17h-2.17zM622.87 114.34h2.17v2.17h-2.17zM640.21 114.34h2.17v2.17h-2.17zM757.26 114.34h2.17v2.17h-2.17zM802.77 114.34h2.17v2.17h-2.17zM828.78 114.34h2.17v2.17h-2.17zM850.46 114.34h2.17v2.17h-2.17zM919.82 114.34h2.17v2.17h-2.17zM950.16 114.34h2.17v2.17h-2.17zM1008.69 114.34h2.17v2.17h-2.17zM1045.53 114.34h2.17v2.17h-2.17zM1049.87 114.34h2.17v2.17h-2.17zM1065.04 114.34h2.17v2.17h-2.17zM1086.72 114.34h2.17v2.17h-2.17zM1093.22 114.34h4.33v2.17h-4.33zM1112.73 114.34h2.17v2.17h-2.17zM1119.23 114.34h2.17v2.17h-2.17zM1169.08 114.34h4.34v2.17h-4.34zM1197.26 114.34h2.17v2.17h-2.17zM1225.44 114.34h2.17v2.17h-2.17zM1277.46 114.34h2.17v2.17h-2.17zM1301.3 114.34h2.17v2.17h-2.17zM1305.63 114.34h2.17v2.17h-2.17zM1390.17 114.34h2.17v2.17h-2.17zM1405.34 114.34h2.17v2.17h-2.17zM1446.52 114.34h2.17v2.17h-2.17zM1450.86 114.34h2.17v2.17h-2.17zM1474.7 114.34h2.17v2.17h-2.17zM1526.72 114.34h2.17v2.17h-2.17zM76.66 168.53h4.34v2.17h-4.34zM150.36 168.53h4.34v2.17h-4.34zM169.87 168.53h2.17v2.17h-2.17zM180.7 168.53h2.17v2.17h-2.17zM185.04 168.53h2.17v2.17h-2.17zM217.55 168.53h2.17v2.17h-2.17zM325.93 168.53h2.17v2.17h-2.17zM345.43 168.53h2.17v2.17h-2.17zM464.64 168.53h2.17v2.17h-2.17zM577.35 168.53h2.17v2.17h-2.17zM690.06 168.53h4.34v2.17h-4.34zM828.78 168.53h4.33v2.17h-4.33zM1238.44 168.53h2.17v2.17h-2.17zM1576.57 168.53h10.84v2.17h-10.84zM76.66 331.09h4.34v2.17h-4.34zM104.84 331.09h2.17v2.17h-2.17zM200.21 331.09h2.17v2.17h-2.17zM243.56 331.09h2.17v2.17h-2.17zM265.24 331.09h2.17v2.17h-2.17zM330.26 331.09h2.17v2.17h-2.17zM375.78 331.09h2.17v2.17h-2.17zM380.11 331.09h2.17v2.17h-2.17zM445.14 331.09h2.17v2.17h-2.17zM455.98 331.09h2.17v2.17h-2.17zM568.68 331.09h2.17v2.17h-2.17zM575.19 331.09h2.17v2.17h-2.17zM586.02 331.09h4.33v2.17h-4.33zM594.69 331.09h2.17v2.17h-2.17zM798.44 331.09h2.17v2.17h-2.17zM804.94 331.09h2.17v2.17h-2.17zM813.61 331.09h2.17v2.17h-2.17zM820.11 331.09h2.17v2.17h-2.17zM833.12 331.09h2.17v2.17h-2.17zM839.62 331.09h2.17v2.17h-2.17zM848.29 331.09h2.17v2.17h-2.17zM854.79 331.09h2.17v2.17h-2.17zM863.46 331.09h2.17v2.17h-2.17zM869.97 331.09h2.17v2.17h-2.17zM1446.52 331.09h2.17v2.17h-2.17zM1453.02 331.09h2.17v2.17h-2.17zM1461.69 331.09h2.17v2.17h-2.17zM1468.2 331.09h4.34v2.17h-4.34zM1476.87 331.09h2.17v2.17h-2.17zM1485.54 331.09h2.17v2.17h-2.17zM1492.04 331.09h2.17v2.17h-2.17zM1500.71 331.09h2.17v2.17h-2.17zM1507.21 331.09h2.17v2.17h-2.17zM1515.88 331.09h2.17v2.17h-2.17zM1522.38 331.09h2.17v2.17h-2.17zM1531.05 331.09h2.17v2.17h-2.17zM1537.56 331.09h2.17v2.17h-2.17zM1546.23 331.09h2.17v2.17h-2.17zM1552.73 331.09h2.17v2.17h-2.17zM1561.4 331.09h2.17v2.17h-2.17zM1567.9 331.09h4.34v2.17h-4.34zM76.66 385.28h2.17v2.17h-2.17zM85.33 385.28h2.17v2.17h-2.17zM109.17 385.28h2.17v2.17h-2.17zM117.84 385.28h2.17v2.17h-2.17zM76.66 439.47h2.17v2.17h-2.17zM76.66 445.97h1510.75v2.17h-1510.75zM78.83 222.72h2.17v2.17h-2.17zM195.88 222.72h2.17v2.17h-2.17zM258.73 222.72h2.17v2.17h-2.17zM284.74 222.72h2.17v2.17h-2.17zM436.47 222.72h2.17v2.17h-2.17zM501.49 222.72h2.17v2.17h-2.17zM508 222.72h2.17v2.17h-2.17zM694.4 222.72h2.17v2.17h-2.17zM908.98 222.72h2.17v2.17h-2.17zM961 222.72h2.17v2.17h-2.17zM978.34 222.72h2.17v2.17h-2.17zM993.51 222.72h2.17v2.17h-2.17zM1013.02 222.72h2.17v2.17h-2.17zM1028.19 222.72h2.17v2.17h-2.17zM1104.06 222.72h2.17v2.17h-2.17zM1143.07 222.72h2.17v2.17h-2.17zM1179.92 222.72h2.17v2.17h-2.17zM1307.8 222.72h2.17v2.17h-2.17zM1507.21 222.72h2.17v2.17h-2.17zM78.83 491.49h2.17v2.17h-2.17zM81 272.57h2.17v6.5h-2.17zM96.17 272.57h2.17v6.5h-2.17zM115.68 272.57h2.17v6.5h-2.17zM130.85 272.57h2.17v6.5h-2.17zM165.53 272.57h2.17v6.5h-2.17zM529.67 272.57h2.17v6.5h-2.17zM81 363.61h2.17v21.67h-2.17zM83.16 60.16h4.34v2.17h-4.34zM107.01 60.16h4.34v2.17h-4.34zM265.24 60.16h2.17v2.17h-2.17zM282.57 60.16h2.17v2.17h-2.17zM297.75 60.16h2.17v2.17h-2.17zM306.42 60.16h2.17v2.17h-2.17zM312.92 60.16h2.17v2.17h-2.17zM343.26 60.16h2.17v2.17h-2.17zM390.95 60.16h4.34v2.17h-4.34zM410.46 60.16h4.34v2.17h-4.34zM497.16 60.16h2.17v2.17h-2.17zM516.66 60.16h2.17v2.17h-2.17zM527.5 60.16h2.17v2.17h-2.17zM542.67 60.16h2.17v2.17h-2.17zM642.38 60.16h2.17v2.17h-2.17zM646.71 60.16h2.17v2.17h-2.17zM716.07 60.16h2.17v2.17h-2.17zM726.91 60.16h2.17v2.17h-2.17zM830.95 60.16h2.17v2.17h-2.17zM880.8 60.16h2.17v2.17h-2.17zM900.31 60.16h2.17v2.17h-2.17zM980.51 60.16h4.33v2.17h-4.33zM1060.71 60.16h2.17v2.17h-2.17zM1156.08 60.16h2.17v2.17h-2.17zM1205.93 60.16h2.17v2.17h-2.17zM1214.6 60.16h2.17v2.17h-2.17zM1221.1 60.16h2.17v2.17h-2.17zM1244.94 60.16h2.17v2.17h-2.17zM1325.14 60.16h2.17v2.17h-2.17zM1344.65 60.16h2.17v2.17h-2.17zM1377.16 60.16h2.17v2.17h-2.17zM1422.68 60.16h4.34v2.17h-4.34zM1457.36 60.16h2.17v2.17h-2.17zM1513.71 60.16h4.34v2.17h-4.34zM1554.9 60.16h2.17v2.17h-2.17zM83.16 270.4h2.17v2.17h-2.17zM98.34 270.4h2.17v2.17h-2.17zM107.01 270.4h2.17v2.17h-2.17zM117.84 270.4h2.17v2.17h-2.17zM124.35 270.4h4.34v2.17h-4.34zM133.02 270.4h2.17v2.17h-2.17zM167.7 270.4h2.17v2.17h-2.17zM202.38 270.4h2.17v2.17h-2.17zM206.71 270.4h2.17v2.17h-2.17zM213.22 270.4h2.17v2.17h-2.17zM284.74 270.4h2.17v2.17h-2.17zM291.25 270.4h4.33v2.17h-4.33zM310.75 270.4h2.17v2.17h-2.17zM315.09 270.4h2.17v2.17h-2.17zM360.61 270.4h2.17v2.17h-2.17zM364.94 270.4h2.17v2.17h-2.17zM388.78 270.4h2.17v2.17h-2.17zM397.45 270.4h2.17v2.17h-2.17zM410.46 270.4h2.17v2.17h-2.17zM521 270.4h2.17v2.17h-2.17zM612.03 270.4h2.17v2.17h-2.17zM633.71 270.4h4.34v2.17h-4.34zM681.39 270.4h2.17v2.17h-2.17zM703.07 270.4h2.17v2.17h-2.17zM735.58 270.4h2.17v2.17h-2.17zM757.26 270.4h2.17v2.17h-2.17zM765.93 270.4h2.17v2.17h-2.17zM796.27 270.4h4.34v2.17h-4.34zM826.62 270.4h2.17v2.17h-2.17zM835.29 270.4h2.17v2.17h-2.17zM908.98 270.4h4.34v2.17h-4.34zM919.82 270.4h2.17v2.17h-2.17zM956.67 270.4h2.17v2.17h-2.17zM1023.86 270.4h2.17v2.17h-2.17zM1073.71 270.4h4.34v2.17h-4.34zM1084.55 270.4h4.34v2.17h-4.34zM1143.07 270.4h2.17v2.17h-2.17zM1244.94 270.4h2.17v2.17h-2.17zM1320.81 270.4h2.17v2.17h-2.17zM1344.65 270.4h2.17v2.17h-2.17zM1433.52 270.4h4.34v2.17h-4.34zM1461.69 270.4h2.17v2.17h-2.17zM1565.73 270.4h2.17v2.17h-2.17zM91.83 333.26h2.17v2.17h-2.17zM154.69 333.26h2.17v2.17h-2.17zM180.7 333.26h2.17v2.17h-2.17zM91.83 441.64h2.17v2.17h-2.17zM100.5 276.91h2.17v2.17h-2.17zM510.16 276.91h2.17v2.17h-2.17zM629.38 276.91h2.17v2.17h-2.17zM698.73 276.91h2.17v2.17h-2.17zM709.57 276.91h2.17v2.17h-2.17zM1357.65 276.91h2.17v2.17h-2.17zM113.51 110.01h2.17v2.17h-2.17zM163.36 110.01h2.17v2.17h-2.17zM198.04 110.01h2.17v2.17h-2.17zM208.88 110.01h2.17v2.17h-2.17zM243.56 110.01h2.17v2.17h-2.17zM377.94 110.01h2.17v2.17h-2.17zM397.45 110.01h2.17v2.17h-2.17zM462.48 110.01h2.17v2.17h-2.17zM512.33 110.01h2.17v2.17h-2.17zM523.17 110.01h2.17v2.17h-2.17zM536.17 110.01h4.34v2.17h-4.34zM635.88 110.01h4.34v2.17h-4.34zM685.73 110.01h4.34v2.17h-4.34zM711.74 110.01h2.17v2.17h-2.17zM796.27 110.01h2.17v2.17h-2.17zM854.79 110.01h4.34v2.17h-4.34zM869.97 110.01h4.33v2.17h-4.33zM1106.22 110.01h2.17v2.17h-2.17zM1130.07 110.01h2.17v2.17h-2.17zM1260.12 110.01h2.17v2.17h-2.17zM1264.45 110.01h2.17v2.17h-2.17zM1290.46 110.01h2.17v2.17h-2.17zM1348.98 110.01h2.17v2.17h-2.17zM1383.66 110.01h4.34v2.17h-4.34zM1394.5 110.01h2.17v2.17h-2.17zM1418.35 110.01h4.33v2.17h-4.33zM1424.85 110.01h2.17v2.17h-2.17zM1444.36 110.01h2.17v2.17h-2.17zM1489.87 110.01h2.17v2.17h-2.17zM1518.05 110.01h4.34v2.17h-4.34zM1524.55 110.01h2.17v2.17h-2.17zM115.68 57.99h2.17v4.34h-2.17zM694.4 57.99h2.17v4.34h-2.17zM1127.9 57.99h2.17v4.34h-2.17zM1476.87 57.99h2.17v4.34h-2.17zM115.68 211.88h2.17v10.84h-2.17zM709.57 211.88h2.17v10.84h-2.17zM1277.46 211.88h2.17v10.84h-2.17zM1427.01 211.88h2.17v10.84h-2.17zM115.68 326.76h2.17v4.33h-2.17zM130.85 51.49h2.17v2.17h-2.17zM165.53 51.49h2.17v2.17h-2.17zM215.38 51.49h2.17v2.17h-2.17zM260.9 51.49h2.17v2.17h-2.17zM280.41 51.49h2.17v2.17h-2.17zM429.97 51.49h2.17v2.17h-2.17zM479.82 51.49h2.17v2.17h-2.17zM713.91 51.49h2.17v2.17h-2.17zM1047.7 51.49h2.17v2.17h-2.17zM1442.19 51.49h2.17v2.17h-2.17zM1461.69 51.49h2.17v2.17h-2.17zM130.85 324.59h2.17v2.17h-2.17zM245.73 324.59h2.17v2.17h-2.17zM133.02 209.71h4.34v2.17h-4.34zM208.88 209.71h2.17v2.17h-2.17zM306.42 209.71h4.33v2.17h-4.33zM397.45 209.71h2.17v2.17h-2.17zM492.82 209.71h2.17v2.17h-2.17zM642.38 209.71h2.17v2.17h-2.17zM735.58 209.71h4.33v2.17h-4.33zM748.59 209.71h2.17v2.17h-2.17zM755.09 209.71h4.34v2.17h-4.34zM765.93 209.71h4.34v2.17h-4.34zM815.78 209.71h4.33v2.17h-4.33zM880.8 209.71h2.17v2.17h-2.17zM1214.6 209.71h2.17v2.17h-2.17zM1303.47 209.71h4.34v2.17h-4.34zM1340.32 209.71h2.17v2.17h-2.17zM1429.18 209.71h2.17v2.17h-2.17zM1487.7 209.71h4.34v2.17h-4.34zM1574.4 209.71h2.17v2.17h-2.17zM146.02 105.67h2.17v4.34h-2.17zM165.53 105.67h2.17v4.34h-2.17zM943.66 105.67h2.17v4.34h-2.17zM1361.99 105.67h2.17v4.34h-2.17zM1496.38 105.67h2.17v4.34h-2.17zM146.02 363.61h2.17v26.01h-2.17zM148.19 261.73h2.17v2.17h-2.17zM198.04 261.73h2.17v2.17h-2.17zM228.39 261.73h2.17v2.17h-2.17zM280.41 261.73h2.17v2.17h-2.17zM308.59 261.73h2.17v2.17h-2.17zM321.59 261.73h4.33v2.17h-4.33zM377.94 261.73h2.17v2.17h-2.17zM382.28 261.73h2.17v2.17h-2.17zM416.96 261.73h2.17v2.17h-2.17zM451.64 261.73h4.34v2.17h-4.34zM471.15 261.73h4.34v2.17h-4.34zM508 261.73h2.17v2.17h-2.17zM531.84 261.73h2.17v2.17h-2.17zM657.55 261.73h2.17v2.17h-2.17zM731.25 261.73h2.17v2.17h-2.17zM1149.58 261.73h2.17v2.17h-2.17zM1156.08 261.73h2.17v2.17h-2.17zM1238.44 261.73h4.34v2.17h-4.34zM1327.31 261.73h2.17v2.17h-2.17zM1338.15 261.73h4.33v2.17h-4.33zM1442.19 261.73h2.17v2.17h-2.17zM1453.02 261.73h4.34v2.17h-4.34zM1574.4 261.73h2.17v2.17h-2.17zM1578.74 261.73h2.17v2.17h-2.17zM156.86 274.74h2.17v2.17h-2.17zM191.54 274.74h2.17v2.17h-2.17zM345.43 274.74h2.17v2.17h-2.17zM390.95 274.74h2.17v2.17h-2.17zM1431.35 274.74h2.17v2.17h-2.17zM156.86 328.93h2.17v2.17h-2.17zM185.04 328.93h2.17v2.17h-2.17zM267.4 328.93h4.33v2.17h-4.33zM440.8 328.93h2.17v2.17h-2.17zM466.81 328.93h4.33v2.17h-4.33zM549.18 328.93h2.17v2.17h-2.17zM555.68 328.93h4.34v2.17h-4.34zM599.03 328.93h2.17v2.17h-2.17zM605.53 328.93h4.34v2.17h-4.34zM614.2 328.93h2.17v2.17h-2.17zM763.76 328.93h2.17v2.17h-2.17zM770.26 328.93h4.34v2.17h-4.34zM778.93 328.93h2.17v2.17h-2.17zM785.43 328.93h4.34v2.17h-4.34zM882.97 328.93h2.17v2.17h-2.17zM889.47 328.93h2.17v2.17h-2.17zM898.14 328.93h2.17v2.17h-2.17zM904.65 328.93h4.34v2.17h-4.34zM913.32 328.93h2.17v2.17h-2.17zM1327.31 328.93h2.17v2.17h-2.17zM1333.81 328.93h4.34v2.17h-4.34zM1342.48 328.93h2.17v2.17h-2.17zM1348.98 328.93h4.34v2.17h-4.34zM1357.65 328.93h2.17v2.17h-2.17zM1366.33 328.93h2.17v2.17h-2.17zM1372.83 328.93h2.17v2.17h-2.17zM1381.5 328.93h2.17v2.17h-2.17zM1388 328.93h2.17v2.17h-2.17zM1396.67 328.93h2.17v2.17h-2.17zM1403.17 328.93h4.34v2.17h-4.34zM1411.84 328.93h2.17v2.17h-2.17zM1418.35 328.93h4.33v2.17h-4.33zM1427.01 328.93h2.17v2.17h-2.17zM1433.52 328.93h4.34v2.17h-4.34zM161.2 159.86h2.17v10.84h-2.17zM165.53 159.86h2.17v10.84h-2.17zM364.94 159.86h2.17v10.84h-2.17zM1093.22 159.86h2.17v10.84h-2.17zM1396.67 159.86h2.17v10.84h-2.17zM1427.01 159.86h2.17v10.84h-2.17zM1511.55 159.86h2.17v10.84h-2.17zM161.2 331.09h2.17v4.34h-2.17zM195.88 313.75h2.17v2.17h-2.17zM280.41 313.75h2.17v2.17h-2.17zM310.75 313.75h2.17v2.17h-2.17zM200.21 157.69h2.17v2.17h-2.17zM230.56 157.69h2.17v2.17h-2.17zM280.41 157.69h2.17v2.17h-2.17zM410.46 157.69h2.17v2.17h-2.17zM479.82 157.69h2.17v2.17h-2.17zM679.23 157.69h2.17v2.17h-2.17zM709.57 157.69h2.17v2.17h-2.17zM713.91 157.69h2.17v2.17h-2.17zM908.98 157.69h2.17v2.17h-2.17zM1073.71 157.69h2.17v2.17h-2.17zM1082.38 157.69h2.17v2.17h-2.17zM1108.39 157.69h2.17v2.17h-2.17zM1182.09 157.69h2.17v2.17h-2.17zM1192.92 157.69h2.17v2.17h-2.17zM1242.78 157.69h2.17v2.17h-2.17zM1247.11 157.69h2.17v2.17h-2.17zM1322.97 157.69h2.17v2.17h-2.17zM1546.23 157.69h2.17v2.17h-2.17zM1557.07 157.69h2.17v2.17h-2.17zM211.05 220.55h2.17v4.34h-2.17zM211.05 324.59h2.17v8.67h-2.17zM215.38 315.92h2.17v13h-2.17zM221.89 164.2h2.17v2.17h-2.17zM421.3 164.2h2.17v2.17h-2.17zM440.8 164.2h2.17v2.17h-2.17zM653.22 164.2h2.17v2.17h-2.17zM724.75 164.2h2.17v2.17h-2.17zM748.59 164.2h2.17v2.17h-2.17zM854.79 164.2h2.17v2.17h-2.17zM874.3 164.2h2.17v2.17h-2.17zM924.15 164.2h2.17v2.17h-2.17zM974.01 164.2h2.17v2.17h-2.17zM1047.7 164.2h2.17v2.17h-2.17zM1123.57 164.2h2.17v2.17h-2.17zM1188.59 164.2h2.17v2.17h-2.17zM1208.1 164.2h2.17v2.17h-2.17zM1253.62 164.2h2.17v2.17h-2.17zM1487.7 164.2h2.17v2.17h-2.17zM1565.73 164.2h2.17v2.17h-2.17zM230.56 105.67h2.17v8.67h-2.17zM310.75 105.67h2.17v8.67h-2.17zM230.56 218.38h2.17v2.17h-2.17zM260.9 218.38h2.17v2.17h-2.17zM364.94 218.38h2.17v2.17h-2.17zM414.79 218.38h2.17v2.17h-2.17zM679.23 218.38h2.17v2.17h-2.17zM1361.99 218.38h2.17v2.17h-2.17zM1492.04 218.38h2.17v2.17h-2.17zM1576.57 218.38h2.17v2.17h-2.17zM230.56 313.75h2.17v15.17h-2.17zM241.39 279.07h2.17v2.17h-2.17zM330.26 279.07h2.17v2.17h-2.17zM338.93 279.07h4.33v2.17h-4.33zM356.27 279.07h2.17v2.17h-2.17zM414.79 279.07h2.17v2.17h-2.17zM455.98 279.07h2.17v2.17h-2.17zM468.98 279.07h2.17v2.17h-2.17zM525.33 279.07h2.17v2.17h-2.17zM586.02 279.07h2.17v2.17h-2.17zM668.39 279.07h2.17v2.17h-2.17zM848.29 279.07h2.17v2.17h-2.17zM852.63 279.07h2.17v2.17h-2.17zM1112.73 279.07h2.17v2.17h-2.17zM1117.06 279.07h2.17v2.17h-2.17zM1188.59 279.07h2.17v2.17h-2.17zM1286.13 279.07h2.17v2.17h-2.17zM1381.5 279.07h2.17v2.17h-2.17zM1392.34 279.07h2.17v2.17h-2.17zM1502.88 279.07h2.17v2.17h-2.17zM1515.88 279.07h2.17v2.17h-2.17zM260.9 263.9h2.17v15.17h-2.17zM295.58 211.88h2.17v13h-2.17zM614.2 211.88h2.17v13h-2.17zM1227.61 211.88h2.17v13h-2.17zM310.75 53.65h2.17v6.5h-2.17zM1411.84 53.65h2.17v6.5h-2.17zM1541.89 53.65h2.17v6.5h-2.17zM310.75 376.61h2.17v6.5h-2.17zM345.43 313.75h2.17v21.68h-2.17zM380.11 218.38h2.17v4.34h-2.17zM729.08 218.38h2.17v4.34h-2.17zM1327.31 218.38h2.17v4.34h-2.17zM1561.4 218.38h2.17v4.34h-2.17zM395.29 159.86h2.17v8.67h-2.17zM659.72 159.86h2.17v8.67h-2.17zM778.93 159.86h2.17v8.67h-2.17zM993.51 159.86h2.17v8.67h-2.17zM414.79 166.36h2.17v4.34h-2.17zM544.84 166.36h2.17v4.34h-2.17zM1392.34 166.36h2.17v4.34h-2.17zM429.97 112.18h2.17v2.17h-2.17zM644.55 112.18h2.17v2.17h-2.17zM893.81 112.18h2.17v2.17h-2.17zM445.14 263.9h2.17v10.84h-2.17zM510.16 159.86h2.17v4.34h-2.17zM794.1 159.86h2.17v4.34h-2.17zM1292.63 159.86h2.17v4.34h-2.17zM1327.31 159.86h2.17v4.34h-2.17zM564.35 53.65h2.17v8.67h-2.17zM813.61 53.65h2.17v8.67h-2.17zM1292.63 53.65h2.17v8.67h-2.17zM1496.38 53.65h2.17v8.67h-2.17zM564.35 211.88h2.17v6.5h-2.17zM594.69 51.49h2.17v4.34h-2.17zM594.69 218.38h2.17v6.5h-2.17zM878.64 218.38h2.17v6.5h-2.17zM1093.22 218.38h2.17v6.5h-2.17zM659.72 112.18h2.17v4.33h-2.17zM709.57 112.18h2.17v4.33h-2.17zM1013.02 112.18h2.17v4.33h-2.17zM1312.14 112.18h2.17v4.33h-2.17zM664.05 105.67h2.17v10.84h-2.17zM863.46 105.67h2.17v10.84h-2.17zM913.32 105.67h2.17v10.84h-2.17zM1177.75 105.67h2.17v10.84h-2.17zM729.08 272.57h2.17v2.17h-2.17zM763.76 166.36h2.17v2.17h-2.17zM813.61 166.36h2.17v2.17h-2.17zM928.49 166.36h2.17v2.17h-2.17zM1227.61 166.36h2.17v2.17h-2.17zM785.43 103.51h2.17v2.17h-2.17zM989.18 103.51h2.17v2.17h-2.17zM1175.59 103.51h2.17v2.17h-2.17zM1013.02 263.9h2.17v6.5h-2.17zM1227.61 263.9h2.17v6.5h-2.17zM1028.19 51.49h2.17v8.67h-2.17zM1227.61 51.49h2.17v10.84h-2.17zM1227.61 313.75h2.17v10.84h-2.17z"/>
<path style="mix-blend-mode:plus-lighter" fill-opacity="0.19" d="M74.49 110.01h2.17v2.17h-2.17zM85.33 110.01h2.17v2.17h-2.17zM107.01 110.01h2.17v2.17h-2.17zM146.02 110.01h2.17v2.17h-2.17zM165.53 110.01h2.17v2.17h-2.17zM211.05 110.01h2.17v2.17h-2.17zM286.91 110.01h4.33v2.17h-4.33zM299.92 110.01h2.17v2.17h-2.17zM373.61 110.01h2.17v2.17h-2.17zM380.11 110.01h2.17v2.17h-2.17zM388.78 110.01h2.17v2.17h-2.17zM432.13 110.01h2.17v2.17h-2.17zM473.31 110.01h2.17v2.17h-2.17zM534 110.01h2.17v2.17h-2.17zM570.85 110.01h2.17v2.17h-2.17zM586.02 110.01h4.33v2.17h-4.33zM618.54 110.01h2.17v2.17h-2.17zM642.38 110.01h2.17v2.17h-2.17zM657.55 110.01h2.17v2.17h-2.17zM707.4 110.01h2.17v2.17h-2.17zM735.58 110.01h2.17v2.17h-2.17zM744.25 110.01h2.17v2.17h-2.17zM750.75 110.01h2.17v2.17h-2.17zM843.96 110.01h2.17v2.17h-2.17zM885.14 110.01h2.17v2.17h-2.17zM891.64 110.01h2.17v2.17h-2.17zM921.99 110.01h2.17v2.17h-2.17zM993.51 110.01h2.17v2.17h-2.17zM1073.71 110.01h2.17v2.17h-2.17zM1101.89 110.01h2.17v2.17h-2.17zM1140.9 110.01h2.17v2.17h-2.17zM1192.92 110.01h2.17v2.17h-2.17zM1270.95 110.01h2.17v2.17h-2.17zM1286.13 110.01h2.17v2.17h-2.17zM1314.3 110.01h2.17v2.17h-2.17zM1335.98 110.01h2.17v2.17h-2.17zM1357.65 110.01h2.17v2.17h-2.17zM1429.18 110.01h2.17v2.17h-2.17zM1479.03 110.01h2.17v2.17h-2.17zM1572.24 110.01h2.17v2.17h-2.17zM74.49 172.87h2.17v2.17h-2.17zM74.49 500.16h2.17v2.17h-2.17zM74.49 550.01h2.17v2.17h-2.17zM76.66 118.68h1510.75v2.17h-1510.75zM76.66 441.64h2.17v2.17h-2.17zM87.5 441.64h2.17v2.17h-2.17zM156.86 441.64h2.17v2.17h-2.17zM165.53 441.64h2.17v2.17h-2.17zM172.03 441.64h2.17v2.17h-2.17zM180.7 441.64h2.17v2.17h-2.17zM187.21 441.64h4.34v2.17h-4.34zM195.88 441.64h2.17v2.17h-2.17zM202.38 441.64h4.34v2.17h-4.34zM211.05 441.64h2.17v2.17h-2.17zM219.72 441.64h2.17v2.17h-2.17zM226.22 441.64h2.17v2.17h-2.17zM234.89 441.64h2.17v2.17h-2.17zM241.39 441.64h2.17v2.17h-2.17zM250.06 441.64h2.17v2.17h-2.17zM76.66 493.66h2.17v4.34h-2.17zM78.83 114.34h2.17v2.17h-2.17zM94 114.34h2.17v2.17h-2.17zM195.88 114.34h2.17v2.17h-2.17zM276.07 114.34h2.17v2.17h-2.17zM425.63 114.34h2.17v2.17h-2.17zM429.97 114.34h2.17v2.17h-2.17zM508 114.34h2.17v2.17h-2.17zM560.01 114.34h2.17v2.17h-2.17zM616.37 114.34h2.17v2.17h-2.17zM625.04 114.34h2.17v2.17h-2.17zM813.61 114.34h2.17v2.17h-2.17zM859.13 114.34h2.17v2.17h-2.17zM937.16 114.34h2.17v2.17h-2.17zM958.83 114.34h2.17v2.17h-2.17zM997.85 114.34h2.17v2.17h-2.17zM1123.57 114.34h2.17v2.17h-2.17zM81 60.16h2.17v2.17h-2.17zM126.52 60.16h2.17v2.17h-2.17zM310.75 60.16h2.17v2.17h-2.17zM364.94 60.16h2.17v2.17h-2.17zM371.44 60.16h2.17v2.17h-2.17zM414.79 60.16h2.17v2.17h-2.17zM436.47 60.16h2.17v2.17h-2.17zM583.86 60.16h2.17v2.17h-2.17zM709.57 60.16h2.17v2.17h-2.17zM785.43 60.16h2.17v2.17h-2.17zM789.77 60.16h2.17v2.17h-2.17zM872.13 60.16h2.17v2.17h-2.17zM878.64 60.16h2.17v2.17h-2.17zM904.65 60.16h2.17v2.17h-2.17zM924.15 60.16h2.17v2.17h-2.17zM969.67 60.16h2.17v2.17h-2.17zM1036.87 60.16h2.17v2.17h-2.17zM1106.22 60.16h2.17v2.17h-2.17zM1132.23 60.16h2.17v2.17h-2.17zM1208.1 60.16h2.17v2.17h-2.17zM1361.99 60.16h2.17v2.17h-2.17zM1383.66 60.16h2.17v2.17h-2.17zM1435.68 60.16h2.17v2.17h-2.17zM1481.2 60.16h2.17v2.17h-2.17zM1492.04 60.16h2.17v2.17h-2.17zM1557.07 60.16h2.17v2.17h-2.17zM1567.9 60.16h2.17v2.17h-2.17zM81 385.28h2.17v2.17h-2.17zM102.67 385.28h2.17v2.17h-2.17zM85.33 279.07h2.17v2.17h-2.17zM115.68 279.07h2.17v2.17h-2.17zM130.85 279.07h2.17v2.17h-2.17zM161.2 279.07h2.17v2.17h-2.17zM165.53 279.07h2.17v2.17h-2.17zM260.9 279.07h2.17v2.17h-2.17zM317.25 279.07h2.17v2.17h-2.17zM332.43 279.07h2.17v2.17h-2.17zM408.29 279.07h2.17v2.17h-2.17zM423.46 279.07h2.17v2.17h-2.17zM447.31 279.07h2.17v2.17h-2.17zM514.5 279.07h2.17v2.17h-2.17zM646.71 279.07h2.17v2.17h-2.17zM692.23 279.07h2.17v2.17h-2.17zM716.07 279.07h2.17v2.17h-2.17zM746.42 279.07h2.17v2.17h-2.17zM776.76 279.07h2.17v2.17h-2.17zM809.28 279.07h2.17v2.17h-2.17zM813.61 279.07h2.17v2.17h-2.17zM846.12 279.07h2.17v2.17h-2.17zM932.82 279.07h2.17v2.17h-2.17zM943.66 279.07h2.17v2.17h-2.17zM982.68 279.07h2.17v2.17h-2.17zM993.51 279.07h2.17v2.17h-2.17zM1043.37 279.07h4.34v2.17h-4.34zM1049.87 279.07h2.17v2.17h-2.17zM1054.2 279.07h2.17v2.17h-2.17zM1104.06 279.07h2.17v2.17h-2.17zM1110.56 279.07h2.17v2.17h-2.17zM1123.57 279.07h2.17v2.17h-2.17zM1182.09 279.07h2.17v2.17h-2.17zM1195.09 279.07h2.17v2.17h-2.17zM1201.6 279.07h2.17v2.17h-2.17zM1273.12 279.07h2.17v2.17h-2.17zM1279.62 279.07h2.17v2.17h-2.17zM1292.63 279.07h2.17v2.17h-2.17zM1372.83 279.07h2.17v2.17h-2.17zM1379.33 279.07h2.17v2.17h-2.17zM1394.5 279.07h2.17v2.17h-2.17zM1401 279.07h2.17v2.17h-2.17zM1496.38 279.07h2.17v2.17h-2.17zM1505.04 279.07h2.17v2.17h-2.17zM1522.38 279.07h2.17v2.17h-2.17zM1531.05 279.07h2.17v2.17h-2.17zM87.5 157.69h2.17v2.17h-2.17zM104.84 157.69h2.17v2.17h-2.17zM156.86 157.69h2.17v2.17h-2.17zM204.55 157.69h2.17v2.17h-2.17zM256.56 157.69h2.17v2.17h-2.17zM354.1 157.69h2.17v2.17h-2.17zM403.95 157.69h2.17v2.17h-2.17zM419.13 157.69h2.17v2.17h-2.17zM471.15 157.69h2.17v2.17h-2.17zM484.15 157.69h2.17v2.17h-2.17zM534 157.69h2.17v2.17h-2.17zM603.36 157.69h2.17v2.17h-2.17zM755.09 157.69h2.17v2.17h-2.17zM783.27 157.69h2.17v2.17h-2.17zM789.77 157.69h2.17v2.17h-2.17zM882.97 157.69h2.17v2.17h-2.17zM917.65 157.69h4.34v2.17h-4.34zM954.5 157.69h2.17v2.17h-2.17zM969.67 157.69h2.17v2.17h-2.17zM1002.18 157.69h2.17v2.17h-2.17zM1186.42 157.69h2.17v2.17h-2.17zM1216.77 157.69h2.17v2.17h-2.17zM1418.35 157.69h2.17v2.17h-2.17zM1485.54 157.69h2.17v2.17h-2.17zM1522.38 157.69h2.17v2.17h-2.17zM89.67 209.71h2.17v2.17h-2.17zM102.67 209.71h2.17v2.17h-2.17zM117.84 209.71h2.17v2.17h-2.17zM252.23 209.71h2.17v2.17h-2.17zM278.24 209.71h2.17v2.17h-2.17zM293.41 209.71h2.17v2.17h-2.17zM362.77 209.71h2.17v2.17h-2.17zM427.8 209.71h2.17v2.17h-2.17zM523.17 209.71h2.17v2.17h-2.17zM527.5 209.71h2.17v2.17h-2.17zM538.34 209.71h2.17v2.17h-2.17zM566.52 209.71h2.17v2.17h-2.17zM601.2 209.71h2.17v2.17h-2.17zM612.03 209.71h2.17v2.17h-2.17zM616.37 209.71h2.17v2.17h-2.17zM707.4 209.71h2.17v2.17h-2.17zM746.42 209.71h2.17v2.17h-2.17zM750.75 209.71h2.17v2.17h-2.17zM796.27 209.71h2.17v2.17h-2.17zM800.61 209.71h2.17v2.17h-2.17zM846.12 209.71h2.17v2.17h-2.17zM861.3 209.71h2.17v2.17h-2.17zM926.32 209.71h2.17v2.17h-2.17zM950.16 209.71h2.17v2.17h-2.17zM971.84 209.71h2.17v2.17h-2.17zM995.68 209.71h2.17v2.17h-2.17zM1010.85 209.71h2.17v2.17h-2.17zM1045.53 209.71h2.17v2.17h-2.17zM1095.39 209.71h2.17v2.17h-2.17zM1205.93 209.71h2.17v2.17h-2.17zM1229.77 209.71h2.17v2.17h-2.17zM1255.78 209.71h2.17v2.17h-2.17zM1279.62 209.71h2.17v2.17h-2.17zM1424.85 209.71h2.17v2.17h-2.17zM1559.23 209.71h2.17v2.17h-2.17zM91.83 376.61h2.17v2.17h-2.17zM94 224.89h2.17v2.17h-2.17zM109.17 224.89h2.17v2.17h-2.17zM122.18 224.89h2.17v2.17h-2.17zM163.36 224.89h2.17v2.17h-2.17zM193.71 224.89h2.17v2.17h-2.17zM213.22 224.89h2.17v2.17h-2.17zM226.22 224.89h2.17v2.17h-2.17zM312.92 224.89h6.5v2.17h-6.5zM328.09 224.89h2.17v2.17h-2.17zM332.43 224.89h2.17v2.17h-2.17zM358.44 224.89h2.17v2.17h-2.17zM393.12 224.89h2.17v2.17h-2.17zM401.79 224.89h2.17v2.17h-2.17zM531.84 224.89h4.33v2.17h-4.33zM570.85 224.89h6.5v2.17h-6.5zM588.19 224.89h2.17v2.17h-2.17zM596.86 224.89h2.17v2.17h-2.17zM605.53 224.89h2.17v2.17h-2.17zM620.7 224.89h2.17v2.17h-2.17zM627.21 224.89h2.17v2.17h-2.17zM657.55 224.89h2.17v2.17h-2.17zM666.22 224.89h2.17v2.17h-2.17zM705.24 224.89h2.17v2.17h-2.17zM742.08 224.89h2.17v2.17h-2.17zM759.42 224.89h4.34v2.17h-4.34zM869.97 224.89h2.17v2.17h-2.17zM891.64 224.89h2.17v2.17h-2.17zM900.31 224.89h2.17v2.17h-2.17zM989.18 224.89h2.17v2.17h-2.17zM1000.02 224.89h2.17v2.17h-2.17zM1017.36 224.89h2.17v2.17h-2.17zM1034.7 224.89h2.17v2.17h-2.17zM1041.2 224.89h2.17v2.17h-2.17zM1080.21 224.89h2.17v2.17h-2.17zM1086.72 224.89h2.17v2.17h-2.17zM1101.89 224.89h2.17v2.17h-2.17zM1160.41 224.89h2.17v2.17h-2.17zM1184.25 224.89h2.17v2.17h-2.17zM1201.6 224.89h2.17v2.17h-2.17zM1210.26 224.89h2.17v2.17h-2.17zM1218.93 224.89h2.17v2.17h-2.17zM1225.44 224.89h2.17v2.17h-2.17zM1234.11 224.89h4.34v2.17h-4.34zM1244.94 224.89h2.17v2.17h-2.17zM1253.62 224.89h2.17v2.17h-2.17zM1262.28 224.89h4.34v2.17h-4.34zM1270.95 224.89h4.34v2.17h-4.34zM1301.3 224.89h2.17v2.17h-2.17zM1309.97 224.89h4.33v2.17h-4.33zM1331.64 224.89h4.34v2.17h-4.34zM1353.32 224.89h4.34v2.17h-4.34zM1364.16 224.89h2.17v2.17h-2.17zM1385.83 224.89h4.34v2.17h-4.34zM1398.84 224.89h4.34v2.17h-4.34zM1409.67 224.89h4.34v2.17h-4.34zM1433.52 224.89h2.17v2.17h-2.17zM1446.52 224.89h4.33v2.17h-4.33zM1459.53 224.89h2.17v2.17h-2.17zM1470.37 224.89h4.34v2.17h-4.34zM1485.54 224.89h2.17v2.17h-2.17zM1498.54 224.89h4.34v2.17h-4.34zM1524.55 224.89h4.34v2.17h-4.34zM1539.72 224.89h4.34v2.17h-4.34zM1554.9 224.89h2.17v2.17h-2.17zM1567.9 224.89h4.34v2.17h-4.34zM1583.08 224.89h4.33v2.17h-4.33zM100.5 435.13h2.17v2.17h-2.17zM120.01 435.13h2.17v2.17h-2.17zM126.52 435.13h2.17v2.17h-2.17zM102.67 409.12h2.17v2.17h-2.17zM107.01 409.12h2.17v2.17h-2.17zM111.34 112.18h2.17v4.33h-2.17zM713.91 112.18h2.17v4.33h-2.17zM794.1 112.18h2.17v4.33h-2.17zM1262.28 112.18h2.17v4.33h-2.17zM1392.34 112.18h2.17v4.33h-2.17zM1442.19 112.18h2.17v4.33h-2.17zM111.34 276.91h2.17v2.17h-2.17zM878.64 276.91h2.17v2.17h-2.17zM115.68 331.09h2.17v2.17h-2.17zM130.85 53.65h2.17v8.67h-2.17zM165.53 53.65h2.17v8.67h-2.17zM260.9 53.65h2.17v8.67h-2.17zM280.41 53.65h2.17v8.67h-2.17zM429.97 53.65h2.17v8.67h-2.17zM479.82 53.65h2.17v8.67h-2.17zM1442.19 53.65h2.17v8.67h-2.17zM130.85 326.76h2.17v4.33h-2.17zM135.19 383.11h2.17v2.17h-2.17zM135.19 439.47h2.17v2.17h-2.17zM141.69 439.47h2.17v2.17h-2.17zM150.36 439.47h2.17v2.17h-2.17zM150.36 313.75h2.17v2.17h-2.17zM152.53 261.73h2.17v2.17h-2.17zM224.05 261.73h2.17v2.17h-2.17zM254.4 261.73h2.17v2.17h-2.17zM258.73 261.73h2.17v2.17h-2.17zM263.07 261.73h2.17v2.17h-2.17zM278.24 261.73h2.17v2.17h-2.17zM282.57 261.73h2.17v2.17h-2.17zM297.75 261.73h2.17v2.17h-2.17zM354.1 261.73h2.17v2.17h-2.17zM442.97 261.73h2.17v2.17h-2.17zM577.35 261.73h2.17v2.17h-2.17zM596.86 261.73h2.17v2.17h-2.17zM616.37 261.73h2.17v2.17h-2.17zM677.06 261.73h2.17v2.17h-2.17zM791.94 261.73h2.17v2.17h-2.17zM830.95 261.73h2.17v2.17h-2.17zM915.48 261.73h2.17v2.17h-2.17zM961 261.73h2.17v2.17h-2.17zM1019.52 261.73h2.17v2.17h-2.17zM1229.77 261.73h2.17v2.17h-2.17zM1325.14 261.73h2.17v2.17h-2.17zM1440.02 261.73h2.17v2.17h-2.17zM165.53 376.61h2.17v6.5h-2.17zM172.03 51.49h2.17v2.17h-2.17zM356.27 51.49h2.17v2.17h-2.17zM369.28 51.49h2.17v2.17h-2.17zM419.13 51.49h2.17v2.17h-2.17zM609.87 51.49h2.17v2.17h-2.17zM778.93 51.49h2.17v2.17h-2.17zM848.29 51.49h2.17v2.17h-2.17zM989.18 51.49h2.17v2.17h-2.17zM1013.02 51.49h2.17v2.17h-2.17zM1117.06 51.49h2.17v2.17h-2.17zM1182.09 51.49h2.17v2.17h-2.17zM1262.28 51.49h2.17v2.17h-2.17zM1288.29 51.49h2.17v2.17h-2.17zM1316.47 51.49h2.17v2.17h-2.17zM1353.32 51.49h2.17v2.17h-2.17zM1437.85 51.49h2.17v2.17h-2.17zM1487.7 51.49h2.17v2.17h-2.17zM1531.05 51.49h2.17v2.17h-2.17zM176.37 272.57h2.17v6.5h-2.17zM460.31 272.57h2.17v6.5h-2.17zM464.64 272.57h2.17v6.5h-2.17zM544.84 272.57h2.17v6.5h-2.17zM560.01 272.57h2.17v6.5h-2.17zM564.35 272.57h2.17v6.5h-2.17zM176.37 324.59h2.17v8.67h-2.17zM178.53 270.4h2.17v2.17h-2.17zM211.05 270.4h2.17v2.17h-2.17zM425.63 270.4h2.17v2.17h-2.17zM462.48 270.4h2.17v2.17h-2.17zM484.15 270.4h2.17v2.17h-2.17zM547.01 270.4h2.17v2.17h-2.17zM562.18 270.4h2.17v2.17h-2.17zM874.3 270.4h2.17v2.17h-2.17zM180.7 272.57h2.17v4.33h-2.17zM230.56 272.57h2.17v4.33h-2.17zM182.87 328.93h2.17v2.17h-2.17zM193.71 328.93h2.17v2.17h-2.17zM213.22 328.93h4.34v2.17h-4.34zM228.39 328.93h4.33v2.17h-4.33zM332.43 328.93h2.17v2.17h-2.17zM442.97 328.93h2.17v2.17h-2.17zM547.01 328.93h2.17v2.17h-2.17zM596.86 328.93h2.17v2.17h-2.17zM612.03 328.93h2.17v2.17h-2.17zM761.59 328.93h2.17v2.17h-2.17zM776.76 328.93h2.17v2.17h-2.17zM781.1 328.93h2.17v2.17h-2.17zM876.47 328.93h2.17v2.17h-2.17zM880.8 328.93h2.17v2.17h-2.17zM891.64 328.93h2.17v2.17h-2.17zM895.98 328.93h2.17v2.17h-2.17zM911.15 328.93h2.17v2.17h-2.17zM915.48 328.93h2.17v2.17h-2.17zM1325.14 328.93h2.17v2.17h-2.17zM1329.48 328.93h2.17v2.17h-2.17zM1340.32 328.93h2.17v2.17h-2.17zM1344.65 328.93h2.17v2.17h-2.17zM1359.82 328.93h2.17v2.17h-2.17zM1364.16 328.93h2.17v2.17h-2.17zM1374.99 328.93h2.17v2.17h-2.17zM1379.33 328.93h2.17v2.17h-2.17zM1390.17 328.93h2.17v2.17h-2.17zM1394.5 328.93h2.17v2.17h-2.17zM1409.67 328.93h2.17v2.17h-2.17zM1414.01 328.93h2.17v2.17h-2.17zM1424.85 328.93h2.17v2.17h-2.17zM1429.18 328.93h2.17v2.17h-2.17zM195.88 166.36h2.17v4.34h-2.17zM245.73 166.36h2.17v4.34h-2.17zM729.08 166.36h2.17v4.34h-2.17zM843.96 166.36h2.17v4.34h-2.17zM1208.1 166.36h2.17v4.34h-2.17zM195.88 315.92h2.17v19.51h-2.17zM310.75 315.92h2.17v19.51h-2.17zM215.38 53.65h2.17v6.5h-2.17zM713.91 53.65h2.17v6.5h-2.17zM1047.7 53.65h2.17v6.5h-2.17zM1461.69 53.65h2.17v6.5h-2.17zM221.89 55.82h2.17v2.17h-2.17zM423.46 55.82h2.17v2.17h-2.17zM549.18 55.82h2.17v2.17h-2.17zM594.69 55.82h2.17v2.17h-2.17zM861.3 55.82h2.17v2.17h-2.17zM865.63 55.82h2.17v2.17h-2.17zM1004.35 55.82h2.17v2.17h-2.17zM1173.42 55.82h2.17v2.17h-2.17zM1418.35 55.82h4.33v2.17h-4.33zM1576.57 55.82h2.17v2.17h-2.17zM224.05 164.2h2.17v2.17h-2.17zM423.46 164.2h2.17v2.17h-2.17zM442.97 164.2h2.17v2.17h-2.17zM510.16 164.2h2.17v2.17h-2.17zM651.05 164.2h2.17v2.17h-2.17zM770.26 164.2h4.34v2.17h-4.34zM856.96 164.2h2.17v2.17h-2.17zM891.64 164.2h2.17v2.17h-2.17zM900.31 164.2h2.17v2.17h-2.17zM939.33 164.2h4.33v2.17h-4.33zM1190.76 164.2h2.17v2.17h-2.17zM1255.78 164.2h2.17v2.17h-2.17zM1489.87 164.2h2.17v2.17h-2.17zM1563.57 164.2h2.17v2.17h-2.17zM230.56 57.99h2.17v4.34h-2.17zM859.13 57.99h2.17v4.34h-2.17zM1257.95 57.99h2.17v4.34h-2.17zM1511.55 57.99h2.17v4.34h-2.17zM230.56 159.86h2.17v10.84h-2.17zM410.46 159.86h2.17v10.84h-2.17zM479.82 159.86h2.17v10.84h-2.17zM908.98 159.86h2.17v10.84h-2.17zM1192.92 159.86h2.17v10.84h-2.17zM1546.23 159.86h2.17v10.84h-2.17zM230.56 220.55h2.17v2.17h-2.17zM414.79 220.55h2.17v2.17h-2.17zM1492.04 220.55h2.17v2.17h-2.17zM1576.57 220.55h2.17v2.17h-2.17zM245.73 105.67h2.17v10.84h-2.17zM295.58 105.67h2.17v10.84h-2.17zM878.64 105.67h2.17v10.84h-2.17zM978.34 105.67h2.17v10.84h-2.17zM1247.11 105.67h2.17v10.84h-2.17zM245.73 326.76h2.17v6.5h-2.17zM260.9 220.55h2.17v4.34h-2.17zM364.94 220.55h2.17v4.34h-2.17zM679.23 220.55h2.17v4.34h-2.17zM1361.99 220.55h2.17v4.34h-2.17zM265.24 263.9h2.17v15.17h-2.17zM280.41 159.86h2.17v4.34h-2.17zM280.41 315.92h2.17v8.67h-2.17zM291.25 218.38h2.17v2.17h-2.17zM484.15 218.38h2.17v2.17h-2.17zM590.36 218.38h2.17v2.17h-2.17zM833.12 218.38h2.17v2.17h-2.17zM924.15 218.38h2.17v2.17h-2.17zM1088.88 218.38h2.17v2.17h-2.17zM1381.5 218.38h2.17v2.17h-2.17zM295.58 263.9h2.17v8.67h-2.17zM360.61 211.88h2.17v13h-2.17zM529.67 211.88h2.17v13h-2.17zM928.49 211.88h2.17v13h-2.17zM1047.7 211.88h2.17v13h-2.17zM364.94 324.59h2.17v4.34h-2.17zM390.95 324.59h2.17v2.17h-2.17zM434.3 324.59h2.17v2.17h-2.17zM395.29 222.72h2.17v2.17h-2.17zM445.14 222.72h2.17v2.17h-2.17zM479.82 222.72h2.17v2.17h-2.17zM644.55 222.72h2.17v2.17h-2.17zM913.32 222.72h2.17v2.17h-2.17zM1043.37 222.72h2.17v2.17h-2.17zM1212.43 222.72h2.17v2.17h-2.17zM395.29 272.57h2.17v2.17h-2.17zM429.97 211.88h2.17v10.84h-2.17zM609.87 211.88h2.17v10.84h-2.17zM794.1 211.88h2.17v10.84h-2.17zM1097.55 211.88h2.17v10.84h-2.17zM460.31 57.99h2.17v2.17h-2.17zM514.5 57.99h2.17v2.17h-2.17zM629.38 57.99h2.17v2.17h-2.17zM1108.39 57.99h2.17v2.17h-2.17zM494.99 166.36h2.17v2.17h-2.17zM1043.37 166.36h2.17v2.17h-2.17zM1047.7 166.36h2.17v2.17h-2.17zM1492.04 166.36h2.17v2.17h-2.17zM514.5 112.18h2.17v2.17h-2.17zM778.93 112.18h2.17v2.17h-2.17zM594.69 263.9h2.17v6.5h-2.17zM759.42 263.9h2.17v6.5h-2.17zM659.72 168.53h2.17v2.17h-2.17zM763.76 168.53h2.17v2.17h-2.17zM813.61 168.53h2.17v2.17h-2.17zM833.12 168.53h2.17v2.17h-2.17zM928.49 168.53h2.17v2.17h-2.17zM993.51 168.53h2.17v2.17h-2.17zM997.85 168.53h2.17v2.17h-2.17zM1008.69 168.53h2.17v2.17h-2.17zM1296.96 168.53h2.17v2.17h-2.17zM1342.48 168.53h2.17v2.17h-2.17zM1357.65 168.53h2.17v2.17h-2.17zM679.23 159.86h2.17v8.67h-2.17zM709.57 159.86h2.17v8.67h-2.17zM713.91 159.86h2.17v8.67h-2.17zM1108.39 159.86h2.17v8.67h-2.17zM1242.78 159.86h2.17v8.67h-2.17zM1247.11 159.86h2.17v8.67h-2.17zM729.08 274.74h2.17v2.17h-2.17zM997.85 211.88h2.17v6.5h-2.17zM1008.69 211.88h2.17v6.5h-2.17zM1143.07 105.67h2.17v6.5h-2.17zM1411.84 105.67h2.17v4.34h-2.17zM1561.4 105.67h2.17v4.34h-2.17z"/>
<path style="mix-blend-mode:plus-lighter" fill-opacity="0.25" d="M74.49 497.99h2.17v2.17h-2.17zM76.66 279.07h2.17v2.17h-2.17zM438.63 279.07h2.17v2.17h-2.17zM486.32 279.07h2.17v2.17h-2.17zM501.49 279.07h2.17v2.17h-2.17zM510.16 279.07h2.17v2.17h-2.17zM529.67 279.07h2.17v2.17h-2.17zM538.34 279.07h4.34v2.17h-4.34zM553.51 279.07h4.34v2.17h-4.34zM570.85 279.07h2.17v2.17h-2.17zM601.2 279.07h4.33v2.17h-4.33zM607.7 279.07h2.17v2.17h-2.17zM622.87 279.07h4.34v2.17h-4.34zM640.21 279.07h2.17v2.17h-2.17zM720.41 279.07h4.34v2.17h-4.34zM783.27 279.07h2.17v2.17h-2.17zM885.14 279.07h4.33v2.17h-4.33zM893.81 279.07h2.17v2.17h-2.17zM898.14 279.07h2.17v2.17h-2.17zM937.16 279.07h4.33v2.17h-4.33zM987.01 279.07h2.17v2.17h-2.17zM1047.7 279.07h2.17v2.17h-2.17zM1052.04 279.07h2.17v2.17h-2.17zM1056.37 279.07h2.17v2.17h-2.17zM1106.22 279.07h2.17v2.17h-2.17zM1119.23 279.07h2.17v2.17h-2.17zM1186.42 279.07h2.17v2.17h-2.17zM1197.26 279.07h4.34v2.17h-4.34zM1277.46 279.07h2.17v2.17h-2.17zM1288.29 279.07h2.17v2.17h-2.17zM1398.84 279.07h2.17v2.17h-2.17zM1487.7 279.07h4.34v2.17h-4.34zM1518.05 279.07h4.34v2.17h-4.34zM83.16 435.13h2.17v2.17h-2.17zM98.34 435.13h2.17v2.17h-2.17zM117.84 435.13h2.17v2.17h-2.17zM128.68 435.13h2.17v2.17h-2.17zM85.33 328.93h2.17v2.17h-2.17zM239.23 328.93h2.17v2.17h-2.17zM260.9 328.93h2.17v2.17h-2.17zM284.74 328.93h2.17v2.17h-2.17zM295.58 328.93h2.17v2.17h-2.17zM321.59 328.93h2.17v2.17h-2.17zM334.6 328.93h2.17v2.17h-2.17zM364.94 328.93h6.5v2.17h-6.5zM386.62 328.93h4.33v2.17h-4.33zM436.47 328.93h4.33v2.17h-4.33zM464.64 328.93h2.17v2.17h-2.17zM471.15 328.93h2.17v2.17h-2.17zM551.34 328.93h4.34v2.17h-4.34zM560.01 328.93h2.17v2.17h-2.17zM601.2 328.93h4.33v2.17h-4.33zM609.87 328.93h2.17v2.17h-2.17zM616.37 328.93h2.17v2.17h-2.17zM765.93 328.93h4.34v2.17h-4.34zM774.6 328.93h2.17v2.17h-2.17zM783.27 328.93h2.17v2.17h-2.17zM789.77 328.93h2.17v2.17h-2.17zM878.64 328.93h2.17v2.17h-2.17zM885.14 328.93h4.33v2.17h-4.33zM893.81 328.93h2.17v2.17h-2.17zM900.31 328.93h4.33v2.17h-4.33zM908.98 328.93h2.17v2.17h-2.17zM1331.64 328.93h2.17v2.17h-2.17zM1338.15 328.93h2.17v2.17h-2.17zM1346.82 328.93h2.17v2.17h-2.17zM1353.32 328.93h4.34v2.17h-4.34zM1361.99 328.93h2.17v2.17h-2.17zM1368.49 328.93h4.34v2.17h-4.34zM1377.16 328.93h2.17v2.17h-2.17zM1383.66 328.93h4.34v2.17h-4.34zM1392.34 328.93h2.17v2.17h-2.17zM1398.84 328.93h4.34v2.17h-4.34zM1407.51 328.93h2.17v2.17h-2.17zM1416.18 328.93h2.17v2.17h-2.17zM1422.68 328.93h2.17v2.17h-2.17zM1431.35 328.93h2.17v2.17h-2.17zM1437.85 328.93h2.17v2.17h-2.17zM85.33 448.14h2.17v49.85h-2.17zM89.67 157.69h2.17v2.17h-2.17zM102.67 157.69h2.17v2.17h-2.17zM202.38 157.69h2.17v2.17h-2.17zM258.73 157.69h2.17v2.17h-2.17zM351.94 157.69h2.17v2.17h-2.17zM401.79 157.69h2.17v2.17h-2.17zM416.96 157.69h2.17v2.17h-2.17zM473.31 157.69h2.17v2.17h-2.17zM481.99 157.69h2.17v2.17h-2.17zM531.84 157.69h2.17v2.17h-2.17zM601.2 157.69h2.17v2.17h-2.17zM757.26 157.69h2.17v2.17h-2.17zM880.8 157.69h2.17v2.17h-2.17zM915.48 157.69h2.17v2.17h-2.17zM921.99 157.69h2.17v2.17h-2.17zM956.67 157.69h2.17v2.17h-2.17zM971.84 157.69h2.17v2.17h-2.17zM1184.25 157.69h2.17v2.17h-2.17zM1214.6 157.69h2.17v2.17h-2.17zM1420.51 157.69h2.17v2.17h-2.17zM1483.37 157.69h2.17v2.17h-2.17zM1524.55 157.69h2.17v2.17h-2.17zM89.67 441.64h2.17v2.17h-2.17zM94 441.64h2.17v2.17h-2.17zM159.03 441.64h2.17v2.17h-2.17zM163.36 441.64h2.17v2.17h-2.17zM174.2 441.64h2.17v2.17h-2.17zM217.55 441.64h2.17v2.17h-2.17zM228.39 441.64h2.17v2.17h-2.17zM232.72 441.64h2.17v2.17h-2.17zM243.56 441.64h2.17v2.17h-2.17zM247.9 441.64h2.17v2.17h-2.17zM91.83 378.78h2.17v10.84h-2.17zM94 60.16h2.17v2.17h-2.17zM178.53 60.16h2.17v2.17h-2.17zM234.89 60.16h2.17v2.17h-2.17zM455.98 60.16h2.17v2.17h-2.17zM490.66 60.16h2.17v2.17h-2.17zM514.5 60.16h2.17v2.17h-2.17zM625.04 60.16h2.17v2.17h-2.17zM633.71 60.16h4.34v2.17h-4.34zM690.06 60.16h2.17v2.17h-2.17zM759.42 60.16h2.17v2.17h-2.17zM952.33 60.16h2.17v2.17h-2.17zM1151.74 60.16h2.17v2.17h-2.17zM1203.76 60.16h2.17v2.17h-2.17zM1238.44 60.16h2.17v2.17h-2.17zM1301.3 60.16h4.34v2.17h-4.34zM1403.17 60.16h2.17v2.17h-2.17zM1407.51 60.16h2.17v2.17h-2.17zM94 333.26h2.17v2.17h-2.17zM113.51 333.26h2.17v2.17h-2.17zM163.36 333.26h2.17v2.17h-2.17zM169.87 333.26h2.17v2.17h-2.17zM96.17 168.53h2.17v2.17h-2.17zM380.11 168.53h2.17v2.17h-2.17zM395.29 168.53h2.17v2.17h-2.17zM579.52 168.53h2.17v2.17h-2.17zM679.23 168.53h2.17v2.17h-2.17zM694.4 168.53h2.17v2.17h-2.17zM948 168.53h2.17v2.17h-2.17zM1047.7 168.53h2.17v2.17h-2.17zM1104.06 168.53h2.17v2.17h-2.17zM1108.39 168.53h2.17v2.17h-2.17zM1162.58 168.53h2.17v2.17h-2.17zM1166.91 168.53h2.17v2.17h-2.17zM1177.75 168.53h2.17v2.17h-2.17zM1242.78 168.53h2.17v2.17h-2.17zM1331.64 168.53h2.17v2.17h-2.17zM1388 168.53h2.17v2.17h-2.17zM1401 168.53h2.17v2.17h-2.17zM1492.04 168.53h2.17v2.17h-2.17zM1572.24 168.53h2.17v2.17h-2.17zM96.17 376.61h2.17v2.17h-2.17zM191.54 376.61h2.17v2.17h-2.17zM280.41 376.61h2.17v2.17h-2.17zM295.58 376.61h2.17v2.17h-2.17zM304.25 376.61h2.17v2.17h-2.17zM499.32 376.61h2.17v2.17h-2.17zM505.83 376.61h2.17v2.17h-2.17zM514.5 376.61h2.17v2.17h-2.17zM521 376.61h2.17v2.17h-2.17zM529.67 376.61h2.17v2.17h-2.17zM544.84 376.61h2.17v2.17h-2.17zM553.51 376.61h2.17v2.17h-2.17zM560.01 376.61h2.17v2.17h-2.17zM568.68 376.61h2.17v2.17h-2.17zM575.19 376.61h2.17v2.17h-2.17zM583.86 376.61h2.17v2.17h-2.17zM590.36 376.61h2.17v2.17h-2.17zM599.03 376.61h2.17v2.17h-2.17zM605.53 376.61h2.17v2.17h-2.17zM614.2 376.61h2.17v2.17h-2.17zM620.7 376.61h2.17v2.17h-2.17zM629.38 376.61h2.17v2.17h-2.17zM644.55 376.61h2.17v2.17h-2.17zM653.22 376.61h2.17v2.17h-2.17zM100.5 105.67h2.17v10.84h-2.17zM150.36 105.67h2.17v10.84h-2.17zM674.89 105.67h2.17v10.84h-2.17zM683.56 105.67h2.17v10.84h-2.17zM848.29 105.67h2.17v10.84h-2.17zM1017.36 105.67h2.17v10.84h-2.17zM1173.42 105.67h2.17v10.84h-2.17zM100.5 363.61h2.17v23.84h-2.17zM102.67 51.49h4.33v2.17h-4.33zM174.2 51.49h2.17v2.17h-2.17zM252.23 51.49h4.33v2.17h-4.33zM321.59 51.49h4.33v2.17h-4.33zM700.9 51.49h4.34v2.17h-4.34zM835.29 51.49h4.34v2.17h-4.34zM885.14 51.49h2.17v2.17h-2.17zM934.99 51.49h4.34v2.17h-4.34zM1019.52 51.49h4.33v2.17h-4.33zM1184.25 51.49h4.34v2.17h-4.34zM1533.22 51.49h4.34v2.17h-4.34zM109.17 409.12h2.17v2.17h-2.17zM113.51 426.46h2.17v2.17h-2.17zM122.18 114.34h2.17v2.17h-2.17zM156.86 114.34h2.17v2.17h-2.17zM284.74 114.34h2.17v2.17h-2.17zM310.75 114.34h2.17v2.17h-2.17zM390.95 114.34h2.17v2.17h-2.17zM490.66 114.34h2.17v2.17h-2.17zM568.68 114.34h2.17v2.17h-2.17zM583.86 114.34h2.17v2.17h-2.17zM633.71 114.34h2.17v2.17h-2.17zM644.55 114.34h2.17v2.17h-2.17zM690.06 114.34h2.17v2.17h-2.17zM698.73 114.34h2.17v2.17h-2.17zM904.65 114.34h2.17v2.17h-2.17zM928.49 114.34h2.17v2.17h-2.17zM1117.06 114.34h2.17v2.17h-2.17zM1166.91 114.34h2.17v2.17h-2.17zM1201.6 114.34h2.17v2.17h-2.17zM1231.94 114.34h2.17v2.17h-2.17zM1511.55 114.34h2.17v2.17h-2.17zM126.52 218.38h2.17v2.17h-2.17zM150.36 218.38h2.17v2.17h-2.17zM219.72 218.38h4.34v2.17h-4.34zM250.06 218.38h2.17v2.17h-2.17zM254.4 218.38h2.17v2.17h-2.17zM369.28 218.38h4.33v2.17h-4.33zM540.51 218.38h2.17v2.17h-2.17zM553.51 218.38h2.17v2.17h-2.17zM564.35 218.38h2.17v2.17h-2.17zM618.54 218.38h2.17v2.17h-2.17zM820.11 218.38h2.17v2.17h-2.17zM835.29 218.38h4.34v2.17h-4.34zM934.99 218.38h4.34v2.17h-4.34zM952.33 218.38h2.17v2.17h-2.17zM969.67 218.38h2.17v2.17h-2.17zM1453.02 218.38h2.17v2.17h-2.17zM1502.88 218.38h2.17v2.17h-2.17zM130.85 331.09h2.17v2.17h-2.17zM156.86 331.09h2.17v2.17h-2.17zM191.54 331.09h2.17v2.17h-2.17zM874.3 331.09h2.17v2.17h-2.17zM133.02 439.47h2.17v2.17h-2.17zM143.86 439.47h2.17v2.17h-2.17zM148.19 439.47h2.17v2.17h-2.17zM135.19 57.99h2.17v2.17h-2.17zM135.19 261.73h2.17v2.17h-2.17zM185.04 261.73h2.17v2.17h-2.17zM195.88 261.73h2.17v2.17h-2.17zM349.77 261.73h2.17v2.17h-2.17zM371.44 261.73h2.17v2.17h-2.17zM434.3 261.73h2.17v2.17h-2.17zM494.99 261.73h2.17v2.17h-2.17zM518.83 261.73h2.17v2.17h-2.17zM579.52 261.73h2.17v2.17h-2.17zM614.2 261.73h2.17v2.17h-2.17zM679.23 261.73h2.17v2.17h-2.17zM705.24 261.73h2.17v2.17h-2.17zM794.1 261.73h2.17v2.17h-2.17zM828.78 261.73h2.17v2.17h-2.17zM867.8 261.73h2.17v2.17h-2.17zM913.32 261.73h2.17v2.17h-2.17zM1078.05 261.73h2.17v2.17h-2.17zM1147.41 261.73h2.17v2.17h-2.17zM1158.24 261.73h2.17v2.17h-2.17zM1231.94 261.73h2.17v2.17h-2.17zM1576.57 261.73h2.17v2.17h-2.17zM1585.24 261.73h2.17v2.17h-2.17zM137.35 209.71h2.17v2.17h-2.17zM187.21 209.71h2.17v2.17h-2.17zM191.54 209.71h2.17v2.17h-2.17zM256.56 209.71h2.17v2.17h-2.17zM286.91 209.71h2.17v2.17h-2.17zM319.42 209.71h2.17v2.17h-2.17zM330.26 209.71h2.17v2.17h-2.17zM345.43 209.71h2.17v2.17h-2.17zM421.3 209.71h2.17v2.17h-2.17zM514.5 209.71h2.17v2.17h-2.17zM633.71 209.71h2.17v2.17h-2.17zM687.9 209.71h4.34v2.17h-4.34zM733.41 209.71h2.17v2.17h-2.17zM739.92 209.71h2.17v2.17h-2.17zM744.25 209.71h2.17v2.17h-2.17zM752.92 209.71h2.17v2.17h-2.17zM763.76 209.71h2.17v2.17h-2.17zM1004.35 209.71h2.17v2.17h-2.17zM1052.04 209.71h2.17v2.17h-2.17zM1062.88 209.71h2.17v2.17h-2.17zM1112.73 209.71h2.17v2.17h-2.17zM1117.06 209.71h2.17v2.17h-2.17zM1127.9 209.71h2.17v2.17h-2.17zM1132.23 209.71h2.17v2.17h-2.17zM1147.41 209.71h2.17v2.17h-2.17zM1158.24 209.71h2.17v2.17h-2.17zM1162.58 209.71h2.17v2.17h-2.17zM1173.42 209.71h2.17v2.17h-2.17zM1186.42 209.71h2.17v2.17h-2.17zM1238.44 209.71h2.17v2.17h-2.17zM1247.11 209.71h2.17v2.17h-2.17zM1318.64 209.71h2.17v2.17h-2.17zM1368.49 209.71h2.17v2.17h-2.17zM1372.83 209.71h2.17v2.17h-2.17zM1418.35 209.71h2.17v2.17h-2.17zM1476.87 209.71h2.17v2.17h-2.17zM1481.2 209.71h2.17v2.17h-2.17zM1515.88 209.71h2.17v2.17h-2.17zM1535.39 209.71h2.17v2.17h-2.17zM137.35 383.11h2.17v2.17h-2.17zM185.04 383.11h2.17v2.17h-2.17zM310.75 383.11h2.17v2.17h-2.17zM319.42 383.11h2.17v2.17h-2.17zM325.93 383.11h2.17v2.17h-2.17zM334.6 383.11h2.17v2.17h-2.17zM341.1 383.11h2.17v2.17h-2.17zM349.77 383.11h2.17v2.17h-2.17zM406.12 383.11h2.17v2.17h-2.17zM414.79 383.11h2.17v2.17h-2.17zM421.3 383.11h2.17v2.17h-2.17zM429.97 383.11h2.17v2.17h-2.17zM436.47 383.11h2.17v2.17h-2.17zM445.14 383.11h2.17v2.17h-2.17zM453.81 383.11h2.17v2.17h-2.17zM460.31 383.11h2.17v2.17h-2.17zM468.98 383.11h2.17v2.17h-2.17zM475.48 383.11h2.17v2.17h-2.17zM484.15 383.11h2.17v2.17h-2.17zM490.66 383.11h2.17v2.17h-2.17zM150.36 315.92h2.17v17.34h-2.17zM156.86 363.61h2.17v26.01h-2.17zM185.04 331.09h2.17v4.34h-2.17zM187.21 313.75h4.34v2.17h-4.34zM356.27 313.75h2.17v2.17h-2.17zM399.62 313.75h2.17v2.17h-2.17zM419.13 313.75h2.17v2.17h-2.17zM490.66 313.75h2.17v2.17h-2.17zM525.33 313.75h2.17v2.17h-2.17zM635.88 313.75h4.34v2.17h-4.34zM644.55 313.75h2.17v2.17h-2.17zM651.05 313.75h4.34v2.17h-4.34zM709.57 313.75h2.17v2.17h-2.17zM718.24 313.75h2.17v2.17h-2.17zM724.75 313.75h2.17v2.17h-2.17zM974.01 313.75h2.17v2.17h-2.17zM984.84 313.75h4.34v2.17h-4.34zM993.51 313.75h2.17v2.17h-2.17zM1002.18 313.75h2.17v2.17h-2.17zM1008.69 313.75h2.17v2.17h-2.17zM1017.36 313.75h2.17v2.17h-2.17zM1151.74 313.75h2.17v2.17h-2.17zM1158.24 313.75h2.17v2.17h-2.17zM1166.91 313.75h2.17v2.17h-2.17zM1173.42 313.75h2.17v2.17h-2.17zM1182.09 313.75h2.17v2.17h-2.17zM1188.59 313.75h2.17v2.17h-2.17zM1197.26 313.75h2.17v2.17h-2.17zM1203.76 313.75h2.17v2.17h-2.17zM1212.43 313.75h2.17v2.17h-2.17zM1218.93 313.75h4.34v2.17h-4.34zM200.21 112.18h2.17v4.33h-2.17zM206.71 112.18h2.17v4.33h-2.17zM1522.38 112.18h2.17v4.33h-2.17zM200.21 159.86h2.17v10.84h-2.17zM534 159.86h2.17v10.84h-2.17zM917.65 159.86h2.17v10.84h-2.17zM1073.71 159.86h2.17v10.84h-2.17zM1182.09 159.86h2.17v10.84h-2.17zM1557.07 159.86h2.17v10.84h-2.17zM200.21 263.9h2.17v8.67h-2.17zM200.21 363.61h2.17v2.17h-2.17zM256.56 363.61h2.17v2.17h-2.17zM265.24 363.61h2.17v2.17h-2.17zM659.72 363.61h2.17v2.17h-2.17zM668.39 363.61h2.17v2.17h-2.17zM674.89 363.61h2.17v2.17h-2.17zM683.56 363.61h2.17v2.17h-2.17zM690.06 363.61h2.17v2.17h-2.17zM698.73 363.61h2.17v2.17h-2.17zM705.24 363.61h2.17v2.17h-2.17zM713.91 363.61h2.17v2.17h-2.17zM729.08 363.61h2.17v2.17h-2.17zM744.25 363.61h2.17v2.17h-2.17zM759.42 363.61h2.17v2.17h-2.17zM768.09 363.61h2.17v2.17h-2.17zM774.6 363.61h2.17v2.17h-2.17zM783.27 363.61h2.17v2.17h-2.17zM789.77 363.61h2.17v2.17h-2.17zM798.44 363.61h2.17v2.17h-2.17zM804.94 363.61h2.17v2.17h-2.17zM813.61 363.61h2.17v2.17h-2.17zM828.78 363.61h2.17v2.17h-2.17zM843.96 363.61h2.17v2.17h-2.17zM859.13 363.61h2.17v2.17h-2.17zM867.8 363.61h2.17v2.17h-2.17zM874.3 363.61h2.17v2.17h-2.17zM882.97 363.61h2.17v2.17h-2.17zM889.47 363.61h2.17v2.17h-2.17zM898.14 363.61h2.17v2.17h-2.17zM904.65 363.61h2.17v2.17h-2.17zM913.32 363.61h2.17v2.17h-2.17zM928.49 363.61h2.17v2.17h-2.17zM943.66 363.61h2.17v2.17h-2.17zM958.83 363.61h2.17v2.17h-2.17zM967.5 363.61h2.17v2.17h-2.17zM974.01 363.61h2.17v2.17h-2.17zM993.51 363.61h2.17v2.17h-2.17zM1008.69 363.61h2.17v2.17h-2.17zM1017.36 363.61h2.17v2.17h-2.17zM206.71 211.88h2.17v10.84h-2.17zM1338.15 211.88h2.17v10.84h-2.17zM241.39 112.18h2.17v2.17h-2.17zM774.6 112.18h2.17v2.17h-2.17zM917.65 112.18h2.17v2.17h-2.17zM1266.62 112.18h2.17v2.17h-2.17zM1422.68 112.18h2.17v2.17h-2.17zM1487.7 112.18h2.17v2.17h-2.17zM241.39 224.89h2.17v2.17h-2.17zM245.73 224.89h2.17v2.17h-2.17zM276.07 224.89h2.17v2.17h-2.17zM310.75 224.89h2.17v2.17h-2.17zM341.1 224.89h2.17v2.17h-2.17zM384.45 224.89h2.17v2.17h-2.17zM425.63 224.89h2.17v2.17h-2.17zM434.3 224.89h2.17v2.17h-2.17zM449.47 224.89h2.17v2.17h-2.17zM499.32 224.89h2.17v2.17h-2.17zM521 224.89h2.17v2.17h-2.17zM536.17 224.89h2.17v2.17h-2.17zM638.04 224.89h2.17v2.17h-2.17zM648.88 224.89h2.17v2.17h-2.17zM653.22 224.89h2.17v2.17h-2.17zM674.89 224.89h2.17v2.17h-2.17zM798.44 224.89h2.17v2.17h-2.17zM887.31 224.89h2.17v2.17h-2.17zM908.98 224.89h2.17v2.17h-2.17zM1054.2 224.89h2.17v2.17h-2.17zM1067.21 224.89h2.17v2.17h-2.17zM1073.71 224.89h2.17v2.17h-2.17zM1108.39 224.89h2.17v2.17h-2.17zM1192.92 224.89h2.17v2.17h-2.17zM1281.79 224.89h2.17v2.17h-2.17zM1322.97 224.89h2.17v2.17h-2.17zM1342.48 224.89h2.17v2.17h-2.17zM1377.16 224.89h2.17v2.17h-2.17zM1422.68 224.89h2.17v2.17h-2.17zM1457.36 224.89h2.17v2.17h-2.17zM1461.69 224.89h2.17v2.17h-2.17zM1511.55 224.89h2.17v2.17h-2.17zM247.9 164.2h2.17v2.17h-2.17zM282.57 164.2h2.17v2.17h-2.17zM497.16 164.2h2.17v2.17h-2.17zM512.33 164.2h2.17v2.17h-2.17zM746.42 164.2h2.17v2.17h-2.17zM846.12 164.2h2.17v2.17h-2.17zM926.32 164.2h2.17v2.17h-2.17zM930.66 164.2h2.17v2.17h-2.17zM976.17 164.2h2.17v2.17h-2.17zM1125.73 164.2h2.17v2.17h-2.17zM1210.26 164.2h2.17v2.17h-2.17zM1229.77 164.2h2.17v2.17h-2.17zM1494.21 164.2h2.17v2.17h-2.17zM250.06 272.57h2.17v2.17h-2.17zM256.56 159.86h2.17v4.34h-2.17zM789.77 159.86h2.17v4.34h-2.17zM1322.97 159.86h2.17v4.34h-2.17zM256.56 324.59h2.17v2.17h-2.17zM280.41 324.59h2.17v2.17h-2.17zM299.92 324.59h2.17v2.17h-2.17zM319.42 324.59h2.17v2.17h-2.17zM425.63 324.59h2.17v2.17h-2.17zM475.48 324.59h2.17v2.17h-2.17zM484.15 324.59h2.17v2.17h-2.17zM534 324.59h2.17v2.17h-2.17zM540.51 324.59h2.17v2.17h-2.17zM620.7 324.59h2.17v2.17h-2.17zM629.38 324.59h2.17v2.17h-2.17zM733.41 324.59h2.17v2.17h-2.17zM739.92 324.59h2.17v2.17h-2.17zM748.59 324.59h2.17v2.17h-2.17zM755.09 324.59h2.17v2.17h-2.17zM919.82 324.59h2.17v2.17h-2.17zM928.49 324.59h2.17v2.17h-2.17zM943.66 324.59h2.17v2.17h-2.17zM952.33 324.59h2.17v2.17h-2.17zM958.83 324.59h2.17v2.17h-2.17zM967.5 324.59h2.17v2.17h-2.17zM1227.61 324.59h2.17v2.17h-2.17zM1236.27 324.59h2.17v2.17h-2.17zM1242.78 324.59h2.17v2.17h-2.17zM1251.45 324.59h2.17v2.17h-2.17zM1257.95 324.59h2.17v2.17h-2.17zM1266.62 324.59h2.17v2.17h-2.17zM1273.12 324.59h2.17v2.17h-2.17zM1281.79 324.59h2.17v2.17h-2.17zM1288.29 324.59h2.17v2.17h-2.17zM1296.96 324.59h2.17v2.17h-2.17zM1303.47 324.59h2.17v2.17h-2.17zM1312.14 324.59h2.17v2.17h-2.17zM1318.64 324.59h2.17v2.17h-2.17zM291.25 105.67h2.17v6.5h-2.17zM882.97 105.67h2.17v6.5h-2.17zM291.25 220.55h2.17v4.34h-2.17zM484.15 220.55h2.17v4.34h-2.17zM590.36 220.55h2.17v4.34h-2.17zM833.12 220.55h2.17v4.34h-2.17zM924.15 220.55h2.17v4.34h-2.17zM1088.88 220.55h2.17v4.34h-2.17zM306.42 211.88h2.17v6.5h-2.17zM640.21 211.88h2.17v6.5h-2.17zM306.42 263.9h2.17v15.17h-2.17zM375.78 263.9h2.17v15.17h-2.17zM325.93 272.57h2.17v4.33h-2.17zM789.77 272.57h2.17v4.33h-2.17zM1223.27 272.57h2.17v4.33h-2.17zM341.1 110.01h2.17v2.17h-2.17zM1132.23 110.01h2.17v2.17h-2.17zM1427.01 110.01h2.17v2.17h-2.17zM1476.87 110.01h2.17v2.17h-2.17zM384.45 263.9h2.17v10.84h-2.17zM390.95 326.76h2.17v4.33h-2.17zM434.3 326.76h2.17v4.33h-2.17zM395.29 274.74h2.17v2.17h-2.17zM445.14 274.74h2.17v2.17h-2.17zM399.62 211.88h2.17v13h-2.17zM882.97 211.88h2.17v13h-2.17zM1216.77 211.88h2.17v13h-2.17zM1431.35 211.88h2.17v13h-2.17zM1487.7 211.88h2.17v13h-2.17zM1557.07 211.88h2.17v13h-2.17zM1572.24 211.88h2.17v13h-2.17zM440.8 166.36h2.17v4.34h-2.17zM724.75 166.36h2.17v4.34h-2.17zM924.15 166.36h2.17v4.34h-2.17zM974.01 166.36h2.17v4.34h-2.17zM1487.7 166.36h2.17v4.34h-2.17zM440.8 222.72h2.17v2.17h-2.17zM917.65 222.72h2.17v2.17h-2.17zM939.33 222.72h2.17v2.17h-2.17zM967.5 222.72h2.17v2.17h-2.17zM1357.65 222.72h2.17v2.17h-2.17zM484.15 159.86h2.17v8.67h-2.17zM1082.38 159.86h2.17v8.67h-2.17zM1216.77 159.86h2.17v8.67h-2.17zM534 263.9h2.17v13h-2.17zM540.51 105.67h2.17v8.67h-2.17zM549.18 272.57h2.17v6.5h-2.17zM575.19 272.57h2.17v6.5h-2.17zM674.89 272.57h2.17v6.5h-2.17zM748.59 166.36h2.17v2.17h-2.17zM874.3 166.36h2.17v2.17h-2.17zM1123.57 166.36h2.17v2.17h-2.17zM1188.59 166.36h2.17v2.17h-2.17zM1565.73 166.36h2.17v2.17h-2.17zM759.42 270.4h2.17v2.17h-2.17zM1013.02 270.4h2.17v2.17h-2.17zM839.62 57.99h2.17v4.34h-2.17zM1073.71 57.99h2.17v4.34h-2.17zM1223.27 57.99h2.17v4.34h-2.17zM1281.79 57.99h2.17v4.34h-2.17zM1431.35 57.99h2.17v4.34h-2.17zM967.5 263.9h2.17v6.5h-2.17zM1572.24 263.9h2.17v6.5h-2.17zM989.18 53.65h2.17v8.67h-2.17zM1288.29 53.65h2.17v8.67h-2.17zM1316.47 53.65h2.17v8.67h-2.17zM1117.06 53.65h2.17v4.34h-2.17zM1182.09 53.65h2.17v6.5h-2.17zM1437.85 53.65h2.17v6.5h-2.17zM1531.05 53.65h2.17v6.5h-2.17zM1307.8 276.91h2.17v2.17h-2.17zM1381.5 220.55h2.17v2.17h-2.17zM1487.7 53.65h2.17v2.17h-2.17zM1522.38 159.86h2.17v6.5h-2.17zM1585.24 500.16h2.17v2.17h-2.17zM1585.24 550.01h2.17v2.17h-2.17z"/>
<path style="mix-blend-mode:plus-lighter" fill-opacity="0.31" d="M74.49 227.05h2.17v2.17h-2.17zM76.66 60.16h2.17v2.17h-2.17zM176.37 60.16h2.17v2.17h-2.17zM215.38 60.16h2.17v2.17h-2.17zM629.38 60.16h2.17v2.17h-2.17zM651.05 60.16h4.34v2.17h-4.34zM794.1 60.16h2.17v2.17h-2.17zM1028.19 60.16h2.17v2.17h-2.17zM1047.7 60.16h2.17v2.17h-2.17zM1084.55 60.16h2.17v2.17h-2.17zM1437.85 60.16h2.17v2.17h-2.17zM1461.69 60.16h2.17v2.17h-2.17zM1531.05 60.16h2.17v2.17h-2.17zM76.66 333.26h2.17v2.17h-2.17zM81 333.26h2.17v2.17h-2.17zM156.86 333.26h2.17v2.17h-2.17zM76.66 387.45h2.17v2.17h-2.17zM85.33 387.45h2.17v2.17h-2.17zM100.5 387.45h2.17v2.17h-2.17zM76.66 500.16h1508.58v2.17h-1508.58zM78.83 385.28h2.17v2.17h-2.17zM137.35 385.28h2.17v2.17h-2.17zM174.2 385.28h6.5v2.17h-6.5zM185.04 385.28h2.17v2.17h-2.17zM310.75 385.28h2.17v2.17h-2.17zM319.42 385.28h2.17v2.17h-2.17zM325.93 385.28h2.17v2.17h-2.17zM334.6 385.28h2.17v2.17h-2.17zM341.1 385.28h2.17v2.17h-2.17zM354.1 385.28h49.85v2.17h-49.85zM421.3 385.28h2.17v2.17h-2.17zM429.97 385.28h2.17v2.17h-2.17zM445.14 385.28h2.17v2.17h-2.17zM453.81 385.28h2.17v2.17h-2.17zM460.31 385.28h2.17v2.17h-2.17zM468.98 385.28h2.17v2.17h-2.17zM475.48 385.28h2.17v2.17h-2.17zM484.15 385.28h2.17v2.17h-2.17zM490.66 385.28h2.17v2.17h-2.17zM78.83 550.01h1506.41v2.17h-1506.41zM87.5 159.86h2.17v4.34h-2.17zM104.84 159.86h2.17v4.34h-2.17zM471.15 159.86h2.17v4.34h-2.17zM783.27 159.86h2.17v4.34h-2.17zM882.97 159.86h2.17v4.34h-2.17zM91.83 164.2h2.17v2.17h-2.17zM146.02 164.2h2.17v2.17h-2.17zM211.05 164.2h2.17v2.17h-2.17zM254.4 164.2h2.17v2.17h-2.17zM286.91 164.2h2.17v2.17h-2.17zM319.42 164.2h2.17v2.17h-2.17zM338.93 164.2h2.17v2.17h-2.17zM369.28 164.2h2.17v2.17h-2.17zM406.12 164.2h2.17v2.17h-2.17zM570.85 164.2h2.17v2.17h-2.17zM609.87 164.2h2.17v2.17h-2.17zM618.54 164.2h2.17v2.17h-2.17zM640.21 164.2h2.17v2.17h-2.17zM703.07 164.2h2.17v2.17h-2.17zM752.92 164.2h2.17v2.17h-2.17zM765.93 164.2h2.17v2.17h-2.17zM815.78 164.2h2.17v2.17h-2.17zM822.28 164.2h2.17v2.17h-2.17zM837.45 164.2h2.17v2.17h-2.17zM952.33 164.2h2.17v2.17h-2.17zM1067.21 164.2h2.17v2.17h-2.17zM1117.06 164.2h2.17v2.17h-2.17zM1158.24 164.2h2.17v2.17h-2.17zM1221.1 164.2h2.17v2.17h-2.17zM1268.79 164.2h2.17v2.17h-2.17zM1348.98 164.2h2.17v2.17h-2.17zM1372.83 164.2h2.17v2.17h-2.17zM1390.17 164.2h2.17v2.17h-2.17zM1405.34 164.2h2.17v2.17h-2.17zM1500.71 164.2h2.17v2.17h-2.17zM1505.04 164.2h2.17v2.17h-2.17zM1520.22 164.2h2.17v2.17h-2.17zM1541.89 164.2h2.17v2.17h-2.17zM1561.4 164.2h2.17v2.17h-2.17zM96.17 378.78h2.17v10.84h-2.17zM100.5 437.3h2.17v6.5h-2.17zM120.01 437.3h2.17v6.5h-2.17zM126.52 437.3h2.17v6.5h-2.17zM104.84 53.65h2.17v6.5h-2.17zM172.03 53.65h2.17v6.5h-2.17zM254.4 53.65h2.17v6.5h-2.17zM937.16 53.65h2.17v6.5h-2.17zM1535.39 53.65h2.17v6.5h-2.17zM104.84 222.72h2.17v2.17h-2.17zM200.21 222.72h2.17v2.17h-2.17zM206.71 222.72h2.17v2.17h-2.17zM230.56 222.72h2.17v2.17h-2.17zM380.11 222.72h2.17v2.17h-2.17zM603.36 222.72h2.17v2.17h-2.17zM709.57 222.72h2.17v2.17h-2.17zM729.08 222.72h2.17v2.17h-2.17zM774.6 222.72h2.17v2.17h-2.17zM794.1 222.72h2.17v2.17h-2.17zM852.63 222.72h2.17v2.17h-2.17zM954.5 222.72h2.17v2.17h-2.17zM987.01 222.72h2.17v2.17h-2.17zM1019.52 222.72h2.17v2.17h-2.17zM1069.38 222.72h2.17v2.17h-2.17zM1203.76 222.72h2.17v2.17h-2.17zM1231.94 222.72h2.17v2.17h-2.17zM104.84 272.57h2.17v6.5h-2.17zM200.21 272.57h2.17v6.5h-2.17zM221.89 272.57h2.17v6.5h-2.17zM269.57 272.57h2.17v6.5h-2.17zM286.91 272.57h2.17v6.5h-2.17zM295.58 272.57h2.17v6.5h-2.17zM759.42 272.57h2.17v6.5h-2.17zM833.12 272.57h2.17v6.5h-2.17zM917.65 272.57h2.17v6.5h-2.17zM958.83 272.57h2.17v6.5h-2.17zM1242.78 272.57h2.17v6.5h-2.17zM1322.97 272.57h2.17v6.5h-2.17zM1342.48 272.57h2.17v6.5h-2.17zM1437.85 272.57h2.17v6.5h-2.17zM1457.36 272.57h2.17v6.5h-2.17zM1567.9 272.57h2.17v6.5h-2.17zM107.01 411.29h2.17v15.17h-2.17zM124.35 435.13h2.17v2.17h-2.17zM126.52 220.55h2.17v2.17h-2.17zM219.72 220.55h2.17v2.17h-2.17zM553.51 220.55h2.17v2.17h-2.17zM564.35 220.55h2.17v2.17h-2.17zM1453.02 220.55h2.17v2.17h-2.17zM128.68 279.07h2.17v2.17h-2.17zM176.37 279.07h2.17v2.17h-2.17zM215.38 279.07h2.17v2.17h-2.17zM306.42 279.07h2.17v2.17h-2.17zM375.78 279.07h2.17v2.17h-2.17zM399.62 279.07h2.17v2.17h-2.17zM429.97 279.07h2.17v2.17h-2.17zM460.31 279.07h2.17v2.17h-2.17zM464.64 279.07h2.17v2.17h-2.17zM490.66 279.07h2.17v2.17h-2.17zM527.5 279.07h2.17v2.17h-2.17zM590.36 279.07h2.17v2.17h-2.17zM642.38 279.07h4.33v2.17h-4.33zM664.05 279.07h2.17v2.17h-2.17zM690.06 279.07h2.17v2.17h-2.17zM718.24 279.07h2.17v2.17h-2.17zM744.25 279.07h2.17v2.17h-2.17zM778.93 279.07h4.33v2.17h-4.33zM811.44 279.07h2.17v2.17h-2.17zM850.46 279.07h2.17v2.17h-2.17zM889.47 279.07h4.34v2.17h-4.34zM895.98 279.07h2.17v2.17h-2.17zM930.66 279.07h2.17v2.17h-2.17zM945.83 279.07h2.17v2.17h-2.17zM989.18 279.07h4.34v2.17h-4.34zM995.68 279.07h2.17v2.17h-2.17zM1114.89 279.07h2.17v2.17h-2.17zM1125.73 279.07h2.17v2.17h-2.17zM1179.92 279.07h2.17v2.17h-2.17zM1190.76 279.07h4.34v2.17h-4.34zM1208.1 279.07h2.17v2.17h-2.17zM1266.62 279.07h2.17v2.17h-2.17zM1275.29 279.07h2.17v2.17h-2.17zM1281.79 279.07h4.34v2.17h-4.34zM1294.8 279.07h2.17v2.17h-2.17zM1366.33 279.07h2.17v2.17h-2.17zM1374.99 279.07h2.17v2.17h-2.17zM1383.66 279.07h8.67v2.17h-8.67zM1407.51 279.07h2.17v2.17h-2.17zM1494.21 279.07h2.17v2.17h-2.17zM1507.21 279.07h8.67v2.17h-8.67zM1524.55 279.07h2.17v2.17h-2.17zM1528.89 279.07h2.17v2.17h-2.17zM1537.56 279.07h2.17v2.17h-2.17zM135.19 211.88h2.17v10.84h-2.17zM135.19 441.64h2.17v2.17h-2.17zM141.69 441.64h2.17v2.17h-2.17zM150.36 441.64h2.17v2.17h-2.17zM167.7 441.64h2.17v2.17h-2.17zM178.53 441.64h2.17v2.17h-2.17zM182.87 441.64h2.17v2.17h-2.17zM193.71 441.64h2.17v2.17h-2.17zM198.04 441.64h2.17v2.17h-2.17zM208.88 441.64h2.17v2.17h-2.17zM213.22 441.64h2.17v2.17h-2.17zM137.35 272.57h2.17v2.17h-2.17zM139.52 383.11h2.17v2.17h-2.17zM317.25 383.11h2.17v2.17h-2.17zM408.29 383.11h2.17v2.17h-2.17zM423.46 383.11h2.17v2.17h-2.17zM438.63 383.11h2.17v2.17h-2.17zM451.64 383.11h2.17v2.17h-2.17zM466.81 383.11h2.17v2.17h-2.17zM146.02 112.18h2.17v4.33h-2.17zM165.53 112.18h2.17v4.33h-2.17zM375.78 112.18h2.17v4.33h-2.17zM703.07 112.18h2.17v4.33h-2.17zM869.97 112.18h2.17v4.33h-2.17zM882.97 112.18h2.17v4.33h-2.17zM1143.07 112.18h2.17v4.33h-2.17zM1351.15 112.18h2.17v4.33h-2.17zM1385.83 112.18h2.17v4.33h-2.17zM1418.35 112.18h2.17v4.33h-2.17zM1518.05 112.18h2.17v4.33h-2.17zM148.19 313.75h2.17v2.17h-2.17zM174.2 313.75h2.17v2.17h-2.17zM358.44 313.75h2.17v2.17h-2.17zM397.45 313.75h2.17v2.17h-2.17zM416.96 313.75h2.17v2.17h-2.17zM492.82 313.75h2.17v2.17h-2.17zM716.07 313.75h2.17v2.17h-2.17zM976.17 313.75h2.17v2.17h-2.17zM1000.02 313.75h2.17v2.17h-2.17zM1015.19 313.75h2.17v2.17h-2.17zM1149.58 313.75h2.17v2.17h-2.17zM1164.75 313.75h2.17v2.17h-2.17zM1175.59 313.75h2.17v2.17h-2.17zM1179.92 313.75h2.17v2.17h-2.17zM1190.76 313.75h2.17v2.17h-2.17zM1205.93 313.75h2.17v2.17h-2.17zM150.36 220.55h2.17v4.34h-2.17zM221.89 220.55h2.17v4.34h-2.17zM250.06 220.55h2.17v4.34h-2.17zM254.4 220.55h2.17v4.34h-2.17zM369.28 220.55h4.33v4.34h-4.33zM540.51 220.55h2.17v4.34h-2.17zM618.54 220.55h2.17v4.34h-2.17zM820.11 220.55h2.17v4.34h-2.17zM837.45 220.55h2.17v4.34h-2.17zM937.16 220.55h2.17v4.34h-2.17zM952.33 220.55h2.17v4.34h-2.17zM969.67 220.55h2.17v4.34h-2.17zM1502.88 220.55h2.17v4.34h-2.17zM150.36 261.73h2.17v2.17h-2.17zM226.22 261.73h2.17v2.17h-2.17zM733.41 261.73h2.17v2.17h-2.17zM761.59 261.73h4.33v2.17h-4.33zM869.97 261.73h4.33v2.17h-4.33zM963.17 261.73h4.34v2.17h-4.34zM1015.19 261.73h4.34v2.17h-4.34zM1080.21 261.73h4.34v2.17h-4.34zM1151.74 261.73h4.34v2.17h-4.34zM1234.11 261.73h4.34v2.17h-4.34zM1329.48 261.73h8.67v2.17h-8.67zM1444.36 261.73h8.67v2.17h-8.67zM1580.91 261.73h4.33v2.17h-4.33zM156.86 159.86h2.17v8.67h-2.17zM419.13 159.86h2.17v8.67h-2.17zM1002.18 159.86h2.17v8.67h-2.17zM165.53 383.11h2.17v4.33h-2.17zM180.7 276.91h2.17v2.17h-2.17zM230.56 276.91h2.17v2.17h-2.17zM325.93 276.91h2.17v2.17h-2.17zM534 276.91h2.17v2.17h-2.17zM618.54 276.91h2.17v2.17h-2.17zM653.22 276.91h2.17v2.17h-2.17zM729.08 276.91h2.17v2.17h-2.17zM789.77 276.91h2.17v2.17h-2.17zM802.77 276.91h2.17v2.17h-2.17zM904.65 276.91h2.17v2.17h-2.17zM969.67 276.91h2.17v2.17h-2.17zM1008.69 276.91h2.17v2.17h-2.17zM1028.19 276.91h2.17v2.17h-2.17zM1069.38 276.91h2.17v2.17h-2.17zM1088.88 276.91h2.17v2.17h-2.17zM1138.74 276.91h2.17v2.17h-2.17zM1166.91 276.91h2.17v2.17h-2.17zM1223.27 276.91h2.17v2.17h-2.17zM1251.45 276.91h2.17v2.17h-2.17zM1316.47 276.91h2.17v2.17h-2.17zM1351.15 276.91h2.17v2.17h-2.17zM1422.68 276.91h2.17v2.17h-2.17zM1431.35 276.91h2.17v2.17h-2.17zM1466.03 276.91h2.17v2.17h-2.17zM1472.53 276.91h2.17v2.17h-2.17zM1552.73 276.91h2.17v2.17h-2.17zM1561.4 276.91h2.17v2.17h-2.17zM185.04 224.89h2.17v2.17h-2.17zM195.88 224.89h2.17v2.17h-2.17zM211.05 224.89h2.17v2.17h-2.17zM243.56 224.89h2.17v2.17h-2.17zM289.08 224.89h2.17v2.17h-2.17zM343.26 224.89h2.17v2.17h-2.17zM423.46 224.89h2.17v2.17h-2.17zM479.82 224.89h2.17v2.17h-2.17zM510.16 224.89h4.33v2.17h-4.33zM518.83 224.89h2.17v2.17h-2.17zM568.68 224.89h2.17v2.17h-2.17zM614.2 224.89h2.17v2.17h-2.17zM943.66 224.89h2.17v2.17h-2.17zM974.01 224.89h2.17v2.17h-2.17zM978.34 224.89h2.17v2.17h-2.17zM1006.52 224.89h2.17v2.17h-2.17zM1023.86 224.89h2.17v2.17h-2.17zM1028.19 224.89h2.17v2.17h-2.17zM1060.71 224.89h2.17v2.17h-2.17zM1114.89 224.89h2.17v2.17h-2.17zM1123.57 224.89h2.17v2.17h-2.17zM1130.07 224.89h2.17v2.17h-2.17zM1143.07 224.89h4.34v2.17h-4.34zM1151.74 224.89h2.17v2.17h-2.17zM1166.91 224.89h2.17v2.17h-2.17zM1175.59 224.89h4.33v2.17h-4.33zM1199.43 224.89h2.17v2.17h-2.17zM1227.61 224.89h2.17v2.17h-2.17zM1242.78 224.89h2.17v2.17h-2.17zM1290.46 224.89h4.34v2.17h-4.34zM1320.81 224.89h2.17v2.17h-2.17zM1374.99 224.89h2.17v2.17h-2.17zM1396.67 224.89h2.17v2.17h-2.17zM1420.51 224.89h2.17v2.17h-2.17zM1483.37 224.89h2.17v2.17h-2.17zM1496.38 224.89h2.17v2.17h-2.17zM1509.38 224.89h2.17v2.17h-2.17zM1513.71 224.89h2.17v2.17h-2.17zM1565.73 224.89h2.17v2.17h-2.17zM1580.91 224.89h2.17v2.17h-2.17zM187.21 105.67h2.17v10.84h-2.17zM237.06 105.67h2.17v10.84h-2.17zM718.24 105.67h2.17v10.84h-2.17zM1550.56 105.67h2.17v10.84h-2.17zM187.21 315.92h2.17v19.51h-2.17zM356.27 315.92h2.17v19.51h-2.17zM399.62 315.92h2.17v19.51h-2.17zM419.13 315.92h2.17v19.51h-2.17zM490.66 315.92h2.17v19.51h-2.17zM525.33 315.92h2.17v19.51h-2.17zM644.55 315.92h2.17v19.51h-2.17zM653.22 315.92h2.17v19.51h-2.17zM709.57 315.92h2.17v19.51h-2.17zM718.24 315.92h2.17v19.51h-2.17zM724.75 315.92h2.17v19.51h-2.17zM974.01 315.92h2.17v19.51h-2.17zM987.01 315.92h2.17v19.51h-2.17zM993.51 315.92h2.17v19.51h-2.17zM1002.18 315.92h2.17v19.51h-2.17zM1008.69 315.92h2.17v19.51h-2.17zM1017.36 315.92h2.17v19.51h-2.17zM1151.74 315.92h2.17v19.51h-2.17zM1158.24 315.92h2.17v19.51h-2.17zM1166.91 315.92h2.17v19.51h-2.17zM1173.42 315.92h2.17v19.51h-2.17zM1182.09 315.92h2.17v19.51h-2.17zM1188.59 315.92h2.17v19.51h-2.17zM1197.26 315.92h2.17v19.51h-2.17zM1203.76 315.92h2.17v19.51h-2.17zM1212.43 315.92h2.17v19.51h-2.17zM1218.93 315.92h2.17v19.51h-2.17zM191.54 378.78h2.17v8.67h-2.17zM280.41 378.78h2.17v8.67h-2.17zM295.58 378.78h2.17v8.67h-2.17zM304.25 378.78h2.17v8.67h-2.17zM499.32 378.78h2.17v8.67h-2.17zM505.83 378.78h2.17v8.67h-2.17zM514.5 378.78h2.17v8.67h-2.17zM521 378.78h2.17v8.67h-2.17zM529.67 378.78h2.17v8.67h-2.17zM544.84 378.78h2.17v8.67h-2.17zM553.51 378.78h2.17v8.67h-2.17zM560.01 378.78h2.17v8.67h-2.17zM568.68 378.78h2.17v8.67h-2.17zM575.19 378.78h2.17v8.67h-2.17zM583.86 378.78h2.17v8.67h-2.17zM590.36 378.78h2.17v8.67h-2.17zM599.03 378.78h2.17v8.67h-2.17zM605.53 378.78h2.17v8.67h-2.17zM614.2 378.78h2.17v8.67h-2.17zM620.7 378.78h2.17v8.67h-2.17zM629.38 378.78h2.17v8.67h-2.17zM644.55 378.78h2.17v8.67h-2.17zM653.22 378.78h2.17v8.67h-2.17zM198.04 157.69h2.17v2.17h-2.17zM228.39 157.69h2.17v2.17h-2.17zM278.24 157.69h2.17v2.17h-2.17zM297.75 157.69h2.17v2.17h-2.17zM412.62 157.69h2.17v2.17h-2.17zM477.65 157.69h2.17v2.17h-2.17zM677.06 157.69h2.17v2.17h-2.17zM911.15 157.69h2.17v2.17h-2.17zM1010.85 157.69h2.17v2.17h-2.17zM1075.88 157.69h2.17v2.17h-2.17zM1080.21 157.69h2.17v2.17h-2.17zM1110.56 157.69h2.17v2.17h-2.17zM1179.92 157.69h2.17v2.17h-2.17zM1195.09 157.69h2.17v2.17h-2.17zM1359.82 157.69h2.17v2.17h-2.17zM1544.06 157.69h2.17v2.17h-2.17zM1559.23 157.69h2.17v2.17h-2.17zM200.21 365.77h2.17v23.84h-2.17zM256.56 365.77h2.17v23.84h-2.17zM265.24 365.77h2.17v23.84h-2.17zM705.24 365.77h2.17v23.84h-2.17zM713.91 365.77h2.17v23.84h-2.17zM729.08 365.77h2.17v23.84h-2.17zM744.25 365.77h2.17v23.84h-2.17zM759.42 365.77h2.17v23.84h-2.17zM768.09 365.77h2.17v23.84h-2.17zM774.6 365.77h2.17v23.84h-2.17zM783.27 365.77h2.17v23.84h-2.17zM789.77 365.77h2.17v23.84h-2.17zM798.44 365.77h2.17v23.84h-2.17zM804.94 365.77h2.17v23.84h-2.17zM813.61 365.77h2.17v23.84h-2.17zM828.78 365.77h2.17v23.84h-2.17zM843.96 365.77h2.17v23.84h-2.17zM859.13 365.77h2.17v23.84h-2.17zM867.8 365.77h2.17v23.84h-2.17zM874.3 365.77h2.17v23.84h-2.17zM882.97 365.77h2.17v23.84h-2.17zM889.47 365.77h2.17v23.84h-2.17zM898.14 365.77h2.17v23.84h-2.17zM904.65 365.77h2.17v23.84h-2.17zM913.32 365.77h2.17v23.84h-2.17zM928.49 365.77h2.17v23.84h-2.17zM943.66 365.77h2.17v23.84h-2.17zM958.83 365.77h2.17v23.84h-2.17zM967.5 365.77h2.17v23.84h-2.17zM974.01 365.77h2.17v23.84h-2.17zM993.51 365.77h2.17v23.84h-2.17zM1008.69 365.77h2.17v23.84h-2.17zM1017.36 365.77h2.17v23.84h-2.17zM204.55 159.86h2.17v10.84h-2.17zM354.1 159.86h2.17v10.84h-2.17zM403.95 159.86h2.17v10.84h-2.17zM603.36 159.86h2.17v10.84h-2.17zM755.09 159.86h2.17v10.84h-2.17zM919.82 159.86h2.17v10.84h-2.17zM954.5 159.86h2.17v10.84h-2.17zM969.67 159.86h2.17v10.84h-2.17zM1186.42 159.86h2.17v10.84h-2.17zM1418.35 159.86h2.17v10.84h-2.17zM1485.54 159.86h2.17v10.84h-2.17zM215.38 331.09h2.17v4.34h-2.17zM230.56 331.09h2.17v4.34h-2.17zM269.57 331.09h2.17v4.34h-2.17zM364.94 331.09h2.17v4.34h-2.17zM390.95 331.09h2.17v4.34h-2.17zM434.3 331.09h2.17v4.34h-2.17zM614.2 331.09h2.17v4.34h-2.17zM763.76 331.09h2.17v4.34h-2.17zM913.32 331.09h2.17v4.34h-2.17zM1327.31 331.09h2.17v4.34h-2.17zM1335.98 331.09h2.17v4.34h-2.17zM217.55 218.38h2.17v2.17h-2.17zM224.05 218.38h2.17v2.17h-2.17zM367.11 218.38h2.17v2.17h-2.17zM373.61 218.38h2.17v2.17h-2.17zM481.99 218.38h2.17v2.17h-2.17zM542.67 218.38h2.17v2.17h-2.17zM551.34 218.38h2.17v2.17h-2.17zM822.28 218.38h2.17v2.17h-2.17zM830.95 218.38h2.17v2.17h-2.17zM1049.87 218.38h2.17v2.17h-2.17zM1455.19 218.38h2.17v2.17h-2.17zM1463.86 218.38h2.17v2.17h-2.17zM1505.04 218.38h2.17v2.17h-2.17zM221.89 166.36h2.17v2.17h-2.17zM653.22 166.36h2.17v2.17h-2.17zM770.26 166.36h2.17v2.17h-2.17zM854.79 166.36h2.17v2.17h-2.17zM230.56 114.34h2.17v2.17h-2.17zM241.39 114.34h2.17v2.17h-2.17zM336.76 114.34h2.17v2.17h-2.17zM451.64 114.34h4.34v2.17h-4.34zM540.51 114.34h2.17v2.17h-2.17zM603.36 114.34h2.17v2.17h-2.17zM614.2 114.34h2.17v2.17h-2.17zM778.93 114.34h2.17v2.17h-2.17zM893.81 114.34h2.17v2.17h-2.17zM908.98 114.34h2.17v2.17h-2.17zM917.65 114.34h2.17v2.17h-2.17zM1242.78 114.34h2.17v2.17h-2.17zM1266.62 114.34h2.17v2.17h-2.17zM1320.81 114.34h2.17v2.17h-2.17zM1533.22 114.34h2.17v2.17h-2.17zM250.06 274.74h2.17v2.17h-2.17zM256.56 164.2h2.17v6.5h-2.17zM256.56 326.76h2.17v8.67h-2.17zM280.41 326.76h2.17v8.67h-2.17zM299.92 326.76h2.17v8.67h-2.17zM425.63 326.76h2.17v8.67h-2.17zM475.48 326.76h2.17v8.67h-2.17zM484.15 326.76h2.17v8.67h-2.17zM534 326.76h2.17v8.67h-2.17zM540.51 326.76h2.17v8.67h-2.17zM620.7 326.76h2.17v8.67h-2.17zM629.38 326.76h2.17v8.67h-2.17zM733.41 326.76h2.17v8.67h-2.17zM739.92 326.76h2.17v8.67h-2.17zM748.59 326.76h2.17v8.67h-2.17zM755.09 326.76h2.17v8.67h-2.17zM919.82 326.76h2.17v8.67h-2.17zM928.49 326.76h2.17v8.67h-2.17zM943.66 326.76h2.17v8.67h-2.17zM952.33 326.76h2.17v8.67h-2.17zM958.83 326.76h2.17v8.67h-2.17zM967.5 326.76h2.17v8.67h-2.17zM1227.61 326.76h2.17v8.67h-2.17zM1236.27 326.76h2.17v8.67h-2.17zM1242.78 326.76h2.17v8.67h-2.17zM1251.45 326.76h2.17v8.67h-2.17zM1257.95 326.76h2.17v8.67h-2.17zM1266.62 326.76h2.17v8.67h-2.17zM1273.12 326.76h2.17v8.67h-2.17zM1281.79 326.76h2.17v8.67h-2.17zM1288.29 326.76h2.17v8.67h-2.17zM1296.96 326.76h2.17v8.67h-2.17zM1303.47 326.76h2.17v8.67h-2.17zM1312.14 326.76h2.17v8.67h-2.17zM1318.64 326.76h2.17v8.67h-2.17zM271.74 363.61h2.17v26.01h-2.17zM720.41 363.61h2.17v26.01h-2.17zM752.92 363.61h2.17v26.01h-2.17zM820.11 363.61h2.17v26.01h-2.17zM837.45 363.61h2.17v26.01h-2.17zM852.63 363.61h2.17v26.01h-2.17zM919.82 363.61h2.17v26.01h-2.17zM937.16 363.61h2.17v26.01h-2.17zM952.33 363.61h2.17v26.01h-2.17zM987.01 363.61h2.17v26.01h-2.17zM1002.18 363.61h2.17v26.01h-2.17zM280.41 209.71h2.17v2.17h-2.17zM490.66 209.71h2.17v2.17h-2.17zM848.29 209.71h2.17v2.17h-2.17zM859.13 209.71h2.17v2.17h-2.17zM280.41 263.9h2.17v15.17h-2.17zM321.59 263.9h2.17v15.17h-2.17zM505.83 263.9h2.17v15.17h-2.17zM286.91 376.61h2.17v10.84h-2.17zM289.08 168.53h2.17v2.17h-2.17zM384.45 168.53h2.17v2.17h-2.17zM390.95 168.53h2.17v2.17h-2.17zM494.99 168.53h2.17v2.17h-2.17zM685.73 168.53h2.17v2.17h-2.17zM748.59 168.53h2.17v2.17h-2.17zM787.6 168.53h2.17v2.17h-2.17zM824.45 168.53h2.17v2.17h-2.17zM874.3 168.53h2.17v2.17h-2.17zM1043.37 168.53h2.17v2.17h-2.17zM1082.38 168.53h2.17v2.17h-2.17zM1123.57 168.53h2.17v2.17h-2.17zM1247.11 168.53h2.17v2.17h-2.17zM1283.96 168.53h2.17v2.17h-2.17zM1318.64 168.53h4.34v2.17h-4.34zM1403.17 168.53h2.17v2.17h-2.17zM1481.2 168.53h2.17v2.17h-2.17zM1533.22 168.53h4.34v2.17h-4.34zM1565.73 168.53h2.17v2.17h-2.17zM289.08 376.61h2.17v2.17h-2.17zM302.08 376.61h2.17v2.17h-2.17zM523.17 376.61h2.17v2.17h-2.17zM536.17 376.61h4.34v2.17h-4.34zM551.34 376.61h2.17v2.17h-2.17zM622.87 376.61h2.17v2.17h-2.17zM635.88 376.61h4.34v2.17h-4.34zM651.05 376.61h2.17v2.17h-2.17zM291.25 112.18h2.17v2.17h-2.17zM521 112.18h2.17v2.17h-2.17zM854.79 112.18h2.17v2.17h-2.17zM1104.06 112.18h2.17v2.17h-2.17zM1253.62 112.18h2.17v2.17h-2.17zM1288.29 112.18h2.17v2.17h-2.17zM304.25 57.99h2.17v2.17h-2.17zM863.46 57.99h2.17v2.17h-2.17zM1032.53 57.99h2.17v2.17h-2.17zM1268.79 57.99h2.17v2.17h-2.17zM304.25 105.67h2.17v8.67h-2.17zM414.79 105.67h2.17v8.67h-2.17zM969.67 105.67h2.17v8.67h-2.17zM1002.18 105.67h4.34v8.67h-4.34zM1372.83 105.67h2.17v8.67h-2.17zM1485.54 105.67h2.17v8.67h-2.17zM317.25 324.59h2.17v2.17h-2.17zM338.93 324.59h2.17v2.17h-2.17zM622.87 324.59h2.17v2.17h-2.17zM757.26 324.59h2.17v2.17h-2.17zM921.99 324.59h2.17v2.17h-2.17zM934.99 324.59h2.17v2.17h-2.17zM950.16 324.59h2.17v2.17h-2.17zM1234.11 324.59h2.17v2.17h-2.17zM1249.28 324.59h2.17v2.17h-2.17zM1305.63 324.59h2.17v2.17h-2.17zM1320.81 324.59h2.17v2.17h-2.17zM319.42 326.76h2.17v6.5h-2.17zM321.59 53.65h2.17v8.67h-2.17zM369.28 53.65h2.17v8.67h-2.17zM419.13 53.65h2.17v8.67h-2.17zM609.87 53.65h2.17v8.67h-2.17zM703.07 53.65h2.17v8.67h-2.17zM778.93 53.65h2.17v8.67h-2.17zM837.45 53.65h2.17v8.67h-2.17zM848.29 53.65h2.17v8.67h-2.17zM1019.52 53.65h2.17v8.67h-2.17zM1186.42 53.65h2.17v8.67h-2.17zM1262.28 53.65h2.17v8.67h-2.17zM1353.32 53.65h2.17v8.67h-2.17zM336.76 324.59h2.17v10.84h-2.17zM937.16 324.59h2.17v10.84h-2.17zM356.27 53.65h2.17v2.17h-2.17zM1013.02 53.65h2.17v2.17h-2.17zM358.44 51.49h2.17v2.17h-2.17zM367.11 51.49h2.17v2.17h-2.17zM416.96 51.49h2.17v2.17h-2.17zM846.12 51.49h2.17v2.17h-2.17zM991.35 51.49h2.17v2.17h-2.17zM1045.53 51.49h2.17v2.17h-2.17zM1114.89 51.49h2.17v2.17h-2.17zM1164.75 51.49h2.17v2.17h-2.17zM1179.92 51.49h2.17v2.17h-2.17zM1314.3 51.49h2.17v2.17h-2.17zM1390.17 51.49h2.17v2.17h-2.17zM1440.02 51.49h2.17v2.17h-2.17zM1489.87 51.49h2.17v2.17h-2.17zM1528.89 51.49h2.17v2.17h-2.17zM419.13 263.9h2.17v17.34h-2.17zM421.3 57.99h2.17v4.34h-2.17zM475.48 57.99h2.17v4.34h-2.17zM594.69 57.99h2.17v4.34h-2.17zM620.7 57.99h2.17v4.34h-2.17zM720.41 57.99h2.17v4.34h-2.17zM770.26 57.99h2.17v4.34h-2.17zM854.79 57.99h2.17v4.34h-2.17zM867.8 57.99h2.17v4.34h-2.17zM954.5 57.99h2.17v4.34h-2.17zM1052.04 57.99h2.17v4.34h-2.17zM1117.06 57.99h2.17v4.34h-2.17zM1136.57 57.99h2.17v4.34h-2.17zM1335.98 57.99h2.17v4.34h-2.17zM1416.18 57.99h2.17v4.34h-2.17zM1450.86 57.99h2.17v4.34h-2.17zM421.3 166.36h2.17v4.34h-2.17zM510.16 166.36h2.17v4.34h-2.17zM939.33 166.36h2.17v4.34h-2.17zM1253.62 166.36h2.17v4.34h-2.17zM1522.38 166.36h2.17v4.34h-2.17zM440.8 331.09h2.17v2.17h-2.17zM468.98 331.09h2.17v2.17h-2.17zM549.18 331.09h2.17v2.17h-2.17zM555.68 331.09h2.17v2.17h-2.17zM599.03 331.09h2.17v2.17h-2.17zM605.53 331.09h2.17v2.17h-2.17zM770.26 331.09h2.17v2.17h-2.17zM778.93 331.09h2.17v2.17h-2.17zM882.97 331.09h2.17v2.17h-2.17zM889.47 331.09h2.17v2.17h-2.17zM898.14 331.09h2.17v2.17h-2.17zM904.65 331.09h2.17v2.17h-2.17zM1342.48 331.09h2.17v2.17h-2.17zM1351.15 331.09h2.17v2.17h-2.17zM1357.65 331.09h2.17v2.17h-2.17zM1366.33 331.09h2.17v2.17h-2.17zM1372.83 331.09h2.17v2.17h-2.17zM1381.5 331.09h2.17v2.17h-2.17zM1388 331.09h2.17v2.17h-2.17zM1396.67 331.09h2.17v2.17h-2.17zM1403.17 331.09h2.17v2.17h-2.17zM1411.84 331.09h2.17v2.17h-2.17zM1418.35 331.09h2.17v2.17h-2.17zM1427.01 331.09h2.17v2.17h-2.17zM1435.68 331.09h2.17v2.17h-2.17zM453.81 263.9h2.17v10.84h-2.17zM471.15 263.9h2.17v10.84h-2.17zM594.69 105.67h2.17v4.34h-2.17zM670.56 105.67h2.17v4.34h-2.17zM1054.2 105.67h2.17v4.34h-2.17zM594.69 270.4h2.17v2.17h-2.17zM1227.61 270.4h2.17v2.17h-2.17zM655.38 263.9h2.17v6.5h-2.17zM1238.44 263.9h2.17v6.5h-2.17zM1327.31 263.9h2.17v6.5h-2.17zM1338.15 263.9h2.17v6.5h-2.17zM1442.19 263.9h2.17v6.5h-2.17zM1453.02 263.9h2.17v6.5h-2.17zM659.72 365.77h2.17v21.68h-2.17zM668.39 365.77h2.17v21.68h-2.17zM674.89 365.77h2.17v21.68h-2.17zM683.56 365.77h2.17v21.68h-2.17zM690.06 365.77h2.17v21.68h-2.17zM698.73 365.77h2.17v21.68h-2.17zM735.58 363.61h4.33v2.17h-4.33zM822.28 363.61h2.17v2.17h-2.17zM835.29 363.61h2.17v2.17h-2.17zM921.99 363.61h2.17v2.17h-2.17zM934.99 363.61h2.17v2.17h-2.17zM984.84 363.61h2.17v2.17h-2.17zM748.59 211.88h2.17v13h-2.17zM755.09 211.88h2.17v13h-2.17zM768.09 211.88h2.17v13h-2.17zM817.95 211.88h2.17v13h-2.17zM1303.47 211.88h2.17v13h-2.17zM776.76 110.01h2.17v2.17h-2.17zM943.66 110.01h2.17v2.17h-2.17zM1296.96 110.01h2.17v2.17h-2.17zM1361.99 110.01h2.17v2.17h-2.17zM1496.38 110.01h2.17v2.17h-2.17zM1585.24 172.87h2.17v2.17h-2.17zM1585.24 497.99h2.17v2.17h-2.17z"/>
<path style="mix-blend-mode:plus-lighter" fill-opacity="0.38" d="M74.49 157.69h2.17v2.17h-2.17zM167.7 157.69h2.17v2.17h-2.17zM367.11 157.69h2.17v2.17h-2.17zM388.78 157.69h2.17v2.17h-2.17zM393.12 157.69h2.17v2.17h-2.17zM508 157.69h2.17v2.17h-2.17zM657.55 157.69h2.17v2.17h-2.17zM850.46 157.69h2.17v2.17h-2.17zM885.14 157.69h2.17v2.17h-2.17zM991.35 157.69h2.17v2.17h-2.17zM1091.05 157.69h2.17v2.17h-2.17zM1199.43 157.69h2.17v2.17h-2.17zM1290.46 157.69h2.17v2.17h-2.17zM1398.84 157.69h2.17v2.17h-2.17zM1424.85 157.69h2.17v2.17h-2.17zM1513.71 157.69h2.17v2.17h-2.17zM74.49 281.24h2.17v2.17h-2.17zM74.49 443.8h2.17v2.17h-2.17zM74.49 563.02h2.17v2.17h-2.17zM226.22 563.02h2.17v2.17h-2.17zM377.94 563.02h2.17v2.17h-2.17zM527.5 563.02h2.17v2.17h-2.17zM679.23 563.02h2.17v2.17h-2.17zM830.95 563.02h2.17v2.17h-2.17zM980.51 563.02h2.17v2.17h-2.17zM1132.23 563.02h2.17v2.17h-2.17zM1283.96 563.02h2.17v2.17h-2.17zM1433.52 563.02h2.17v2.17h-2.17zM1585.24 563.02h2.17v2.17h-2.17zM76.66 172.87h39.02v2.17h-39.02zM117.84 172.87h4.33v2.17h-4.33zM124.35 172.87h2.17v2.17h-2.17zM130.85 172.87h10.84v2.17h-10.84zM146.02 172.87h28.18v2.17h-28.18zM176.37 172.87h13v2.17h-13zM191.54 172.87h17.34v2.17h-17.34zM211.05 172.87h39.01v2.17h-39.01zM252.23 172.87h21.68v2.17h-21.68zM278.24 172.87h15.17v2.17h-15.17zM295.58 172.87h6.5v2.17h-6.5zM304.25 172.87h4.34v2.17h-4.34zM310.75 172.87h13v2.17h-13zM325.93 172.87h23.84v2.17h-23.84zM351.94 172.87h4.33v2.17h-4.33zM358.44 172.87h73.69v2.17h-73.69zM434.3 172.87h4.33v2.17h-4.33zM440.8 172.87h34.68v2.17h-34.68zM477.65 172.87h13v2.17h-13zM492.82 172.87h6.5v2.17h-6.5zM501.49 172.87h13v2.17h-13zM516.66 172.87h10.84v2.17h-10.84zM529.67 172.87h21.67v2.17h-21.67zM557.85 172.87h15.17v2.17h-15.17zM575.19 172.87h8.67v2.17h-8.67zM586.02 172.87h30.35v2.17h-30.35zM618.54 172.87h23.84v2.17h-23.84zM651.05 172.87h10.84v2.17h-10.84zM664.05 172.87h19.51v2.17h-19.51zM685.73 172.87h15.17v2.17h-15.17zM703.07 172.87h4.34v2.17h-4.34zM709.57 172.87h32.51v2.17h-32.51zM744.25 172.87h15.17v2.17h-15.17zM761.59 172.87h6.5v2.17h-6.5zM770.26 172.87h39.01v2.17h-39.01zM811.44 172.87h6.5v2.17h-6.5zM822.28 172.87h17.34v2.17h-17.34zM843.96 172.87h8.67v2.17h-8.67zM854.79 172.87h78.03v2.17h-78.03zM937.16 172.87h21.67v2.17h-21.67zM963.17 172.87h21.67v2.17h-21.67zM987.01 172.87h8.67v2.17h-8.67zM997.85 172.87h6.5v2.17h-6.5zM1006.52 172.87h21.67v2.17h-21.67zM1030.36 172.87h71.53v2.17h-71.53zM1104.06 172.87h8.67v2.17h-8.67zM1117.06 172.87h13v2.17h-13zM1158.24 172.87h13.01v2.17h-13.01zM1175.59 172.87h26.01v2.17h-26.01zM1203.76 172.87h15.17v2.17h-15.17zM1221.1 172.87h4.34v2.17h-4.34zM1227.61 172.87h13v2.17h-13zM1242.78 172.87h6.5v2.17h-6.5zM1251.45 172.87h26.01v2.17h-26.01zM1279.62 172.87h58.52v2.17h-58.52zM1340.32 172.87h13v2.17h-13zM1355.49 172.87h75.86v2.17h-75.86zM1433.52 172.87h4.34v2.17h-4.34zM1440.02 172.87h4.34v2.17h-4.34zM1446.52 172.87h4.33v2.17h-4.33zM1453.02 172.87h6.5v2.17h-6.5zM1461.69 172.87h4.34v2.17h-4.34zM1468.2 172.87h8.67v2.17h-8.67zM1479.03 172.87h17.34v2.17h-17.34zM1500.71 172.87h6.5v2.17h-6.5zM1511.55 172.87h15.17v2.17h-15.17zM1531.05 172.87h17.34v2.17h-17.34zM1557.07 172.87h28.18v2.17h-28.18zM76.66 224.89h2.17v2.17h-2.17zM87.5 224.89h2.17v2.17h-2.17zM107.01 224.89h2.17v2.17h-2.17zM130.85 224.89h2.17v2.17h-2.17zM269.57 224.89h2.17v2.17h-2.17zM295.58 224.89h2.17v2.17h-2.17zM299.92 224.89h2.17v2.17h-2.17zM304.25 224.89h2.17v2.17h-2.17zM323.76 224.89h2.17v2.17h-2.17zM336.76 224.89h2.17v2.17h-2.17zM360.61 224.89h2.17v2.17h-2.17zM388.78 224.89h2.17v2.17h-2.17zM399.62 224.89h2.17v2.17h-2.17zM440.8 224.89h2.17v2.17h-2.17zM488.49 224.89h2.17v2.17h-2.17zM586.02 224.89h2.17v2.17h-2.17zM694.4 224.89h2.17v2.17h-2.17zM698.73 224.89h2.17v2.17h-2.17zM781.1 224.89h2.17v2.17h-2.17zM833.12 224.89h2.17v2.17h-2.17zM874.3 224.89h2.17v2.17h-2.17zM878.64 224.89h2.17v2.17h-2.17zM928.49 224.89h2.17v2.17h-2.17zM932.82 224.89h2.17v2.17h-2.17zM948 224.89h2.17v2.17h-2.17zM958.83 224.89h2.17v2.17h-2.17zM963.17 224.89h2.17v2.17h-2.17zM982.68 224.89h2.17v2.17h-2.17zM1030.36 224.89h2.17v2.17h-2.17zM1047.7 224.89h2.17v2.17h-2.17zM1121.4 224.89h2.17v2.17h-2.17zM1136.57 224.89h2.17v2.17h-2.17zM1169.08 224.89h2.17v2.17h-2.17zM1182.09 224.89h2.17v2.17h-2.17zM1190.76 224.89h2.17v2.17h-2.17zM1283.96 224.89h2.17v2.17h-2.17zM1366.33 224.89h2.17v2.17h-2.17zM1435.68 224.89h2.17v2.17h-2.17zM1537.56 224.89h2.17v2.17h-2.17zM1552.73 224.89h2.17v2.17h-2.17zM81 279.07h2.17v2.17h-2.17zM89.67 279.07h2.17v2.17h-2.17zM104.84 279.07h2.17v2.17h-2.17zM122.18 279.07h2.17v2.17h-2.17zM143.86 279.07h2.17v2.17h-2.17zM180.7 279.07h2.17v2.17h-2.17zM217.55 279.07h2.17v2.17h-2.17zM221.89 279.07h2.17v2.17h-2.17zM230.56 279.07h2.17v2.17h-2.17zM245.73 279.07h2.17v2.17h-2.17zM280.41 279.07h2.17v2.17h-2.17zM321.59 279.07h2.17v2.17h-2.17zM380.11 279.07h2.17v2.17h-2.17zM432.13 279.07h2.17v2.17h-2.17zM505.83 279.07h2.17v2.17h-2.17zM523.17 279.07h2.17v2.17h-2.17zM534 279.07h2.17v2.17h-2.17zM544.84 279.07h2.17v2.17h-2.17zM549.18 279.07h2.17v2.17h-2.17zM560.01 279.07h2.17v2.17h-2.17zM564.35 279.07h2.17v2.17h-2.17zM575.19 279.07h2.17v2.17h-2.17zM605.53 279.07h2.17v2.17h-2.17zM618.54 279.07h2.17v2.17h-2.17zM629.38 279.07h2.17v2.17h-2.17zM653.22 279.07h2.17v2.17h-2.17zM674.89 279.07h2.17v2.17h-2.17zM685.73 279.07h4.34v2.17h-4.34zM698.73 279.07h2.17v2.17h-2.17zM709.57 279.07h2.17v2.17h-2.17zM729.08 279.07h2.17v2.17h-2.17zM739.92 279.07h2.17v2.17h-2.17zM752.92 279.07h2.17v2.17h-2.17zM759.42 279.07h2.17v2.17h-2.17zM770.26 279.07h2.17v2.17h-2.17zM789.77 279.07h2.17v2.17h-2.17zM802.77 279.07h2.17v2.17h-2.17zM807.11 279.07h2.17v2.17h-2.17zM815.78 279.07h2.17v2.17h-2.17zM820.11 279.07h2.17v2.17h-2.17zM833.12 279.07h2.17v2.17h-2.17zM839.62 279.07h2.17v2.17h-2.17zM859.13 279.07h2.17v2.17h-2.17zM878.64 279.07h2.17v2.17h-2.17zM904.65 279.07h2.17v2.17h-2.17zM917.65 279.07h2.17v2.17h-2.17zM924.15 279.07h2.17v2.17h-2.17zM934.99 279.07h2.17v2.17h-2.17zM941.49 279.07h2.17v2.17h-2.17zM952.33 279.07h2.17v2.17h-2.17zM958.83 279.07h2.17v2.17h-2.17zM969.67 279.07h2.17v2.17h-2.17zM978.34 279.07h2.17v2.17h-2.17zM984.84 279.07h2.17v2.17h-2.17zM1002.18 279.07h2.17v2.17h-2.17zM1008.69 279.07h2.17v2.17h-2.17zM1028.19 279.07h2.17v2.17h-2.17zM1034.7 279.07h4.34v2.17h-4.34zM1041.2 279.07h2.17v2.17h-2.17zM1062.88 279.07h2.17v2.17h-2.17zM1069.38 279.07h2.17v2.17h-2.17zM1088.88 279.07h2.17v2.17h-2.17zM1097.55 279.07h2.17v2.17h-2.17zM1121.4 279.07h2.17v2.17h-2.17zM1132.23 279.07h2.17v2.17h-2.17zM1138.74 279.07h2.17v2.17h-2.17zM1166.91 279.07h2.17v2.17h-2.17zM1173.42 279.07h2.17v2.17h-2.17zM1184.25 279.07h2.17v2.17h-2.17zM1205.93 279.07h2.17v2.17h-2.17zM1216.77 279.07h2.17v2.17h-2.17zM1223.27 279.07h2.17v2.17h-2.17zM1242.78 279.07h2.17v2.17h-2.17zM1251.45 279.07h2.17v2.17h-2.17zM1257.95 279.07h2.17v2.17h-2.17zM1268.79 279.07h4.34v2.17h-4.34zM1290.46 279.07h2.17v2.17h-2.17zM1301.3 279.07h2.17v2.17h-2.17zM1307.8 279.07h2.17v2.17h-2.17zM1316.47 279.07h2.17v2.17h-2.17zM1322.97 279.07h2.17v2.17h-2.17zM1342.48 279.07h2.17v2.17h-2.17zM1351.15 279.07h2.17v2.17h-2.17zM1357.65 279.07h2.17v2.17h-2.17zM1368.49 279.07h4.34v2.17h-4.34zM1405.34 279.07h2.17v2.17h-2.17zM1416.18 279.07h2.17v2.17h-2.17zM1422.68 279.07h2.17v2.17h-2.17zM1431.35 279.07h2.17v2.17h-2.17zM1437.85 279.07h2.17v2.17h-2.17zM1457.36 279.07h2.17v2.17h-2.17zM1466.03 279.07h2.17v2.17h-2.17zM1472.53 279.07h2.17v2.17h-2.17zM1481.2 279.07h2.17v2.17h-2.17zM1498.54 279.07h2.17v2.17h-2.17zM1533.22 279.07h2.17v2.17h-2.17zM1546.23 279.07h2.17v2.17h-2.17zM1552.73 279.07h2.17v2.17h-2.17zM1561.4 279.07h2.17v2.17h-2.17zM1567.9 279.07h2.17v2.17h-2.17zM81 409.12h2.17v2.17h-2.17zM111.34 409.12h2.17v2.17h-2.17zM83.16 114.34h2.17v2.17h-2.17zM117.84 114.34h4.33v2.17h-4.33zM124.35 114.34h2.17v2.17h-2.17zM159.03 114.34h2.17v2.17h-2.17zM217.55 114.34h4.34v2.17h-4.34zM256.56 114.34h2.17v2.17h-2.17zM267.4 114.34h2.17v2.17h-2.17zM282.57 114.34h2.17v2.17h-2.17zM317.25 114.34h2.17v2.17h-2.17zM492.82 114.34h2.17v2.17h-2.17zM531.84 114.34h2.17v2.17h-2.17zM581.69 114.34h2.17v2.17h-2.17zM692.23 114.34h2.17v2.17h-2.17zM906.81 114.34h2.17v2.17h-2.17zM1114.89 114.34h2.17v2.17h-2.17zM1164.75 114.34h2.17v2.17h-2.17zM1199.43 114.34h2.17v2.17h-2.17zM1229.77 114.34h2.17v2.17h-2.17zM83.16 448.14h2.17v2.17h-2.17zM85.33 426.46h2.17v2.17h-2.17zM87.5 497.99h1497.74v2.17h-1497.74zM89.67 159.86h2.17v8.67h-2.17zM473.31 159.86h2.17v8.67h-2.17zM96.17 435.13h2.17v2.17h-2.17zM115.68 435.13h2.17v2.17h-2.17zM122.18 435.13h2.17v2.17h-2.17zM102.67 53.65h2.17v8.67h-2.17zM323.76 53.65h2.17v8.67h-2.17zM835.29 53.65h2.17v8.67h-2.17zM885.14 53.65h2.17v8.67h-2.17zM934.99 53.65h2.17v8.67h-2.17zM102.67 159.86h2.17v4.34h-2.17zM416.96 159.86h2.17v4.34h-2.17zM102.67 272.57h2.17v2.17h-2.17zM102.67 411.29h2.17v15.17h-2.17zM115.68 170.7h2.17v4.34h-2.17zM122.18 170.7h2.17v4.34h-2.17zM126.52 170.7h4.34v4.34h-4.34zM141.69 170.7h4.34v4.34h-4.34zM174.2 170.7h2.17v4.34h-2.17zM189.37 170.7h2.17v4.34h-2.17zM208.88 170.7h2.17v4.34h-2.17zM250.06 170.7h2.17v4.34h-2.17zM273.91 170.7h4.33v4.34h-4.33zM293.41 170.7h2.17v4.34h-2.17zM302.08 170.7h2.17v4.34h-2.17zM308.59 170.7h2.17v4.34h-2.17zM323.76 170.7h2.17v4.34h-2.17zM349.77 170.7h2.17v4.34h-2.17zM356.27 170.7h2.17v4.34h-2.17zM432.13 170.7h2.17v4.34h-2.17zM438.63 170.7h2.17v4.34h-2.17zM475.48 170.7h2.17v4.34h-2.17zM490.66 170.7h2.17v4.34h-2.17zM499.32 170.7h2.17v4.34h-2.17zM514.5 170.7h2.17v4.34h-2.17zM527.5 170.7h2.17v4.34h-2.17zM551.34 170.7h6.5v4.34h-6.5zM573.02 170.7h2.17v4.34h-2.17zM583.86 170.7h2.17v4.34h-2.17zM616.37 170.7h2.17v4.34h-2.17zM642.38 170.7h8.67v4.34h-8.67zM661.89 170.7h2.17v4.34h-2.17zM683.56 170.7h2.17v4.34h-2.17zM700.9 170.7h2.17v4.34h-2.17zM707.4 170.7h2.17v4.34h-2.17zM742.08 170.7h2.17v4.34h-2.17zM759.42 170.7h2.17v4.34h-2.17zM768.09 170.7h2.17v4.34h-2.17zM809.28 170.7h2.17v4.34h-2.17zM817.95 170.7h4.33v4.34h-4.33zM839.62 170.7h4.34v4.34h-4.34zM852.63 170.7h2.17v4.34h-2.17zM932.82 170.7h4.34v4.34h-4.34zM958.83 170.7h4.34v4.34h-4.34zM984.84 170.7h2.17v4.34h-2.17zM995.68 170.7h2.17v4.34h-2.17zM1004.35 170.7h2.17v4.34h-2.17zM1028.19 170.7h2.17v4.34h-2.17zM1101.89 170.7h2.17v4.34h-2.17zM1112.73 170.7h4.34v4.34h-4.34zM1130.07 170.7h28.18v4.34h-28.18zM1171.25 170.7h4.34v4.34h-4.34zM1201.6 170.7h2.17v4.34h-2.17zM1218.93 170.7h2.17v4.34h-2.17zM1225.44 170.7h2.17v4.34h-2.17zM1240.61 170.7h2.17v4.34h-2.17zM1249.28 170.7h2.17v4.34h-2.17zM1277.46 170.7h2.17v4.34h-2.17zM1338.15 170.7h2.17v4.34h-2.17zM1353.32 170.7h2.17v4.34h-2.17zM1431.35 170.7h2.17v4.34h-2.17zM1437.85 170.7h2.17v4.34h-2.17zM1444.36 170.7h2.17v4.34h-2.17zM1450.86 170.7h2.17v4.34h-2.17zM1459.53 170.7h2.17v4.34h-2.17zM1466.03 170.7h2.17v4.34h-2.17zM1476.87 170.7h2.17v4.34h-2.17zM1496.38 170.7h4.34v4.34h-4.34zM1507.21 170.7h4.34v4.34h-4.34zM1526.72 170.7h4.33v4.34h-4.33zM1548.39 170.7h8.67v4.34h-8.67zM117.84 437.3h2.17v6.5h-2.17zM128.68 51.49h2.17v2.17h-2.17zM163.36 51.49h2.17v2.17h-2.17zM213.22 51.49h2.17v2.17h-2.17zM263.07 51.49h2.17v2.17h-2.17zM278.24 51.49h2.17v2.17h-2.17zM462.48 51.49h2.17v2.17h-2.17zM477.65 51.49h2.17v2.17h-2.17zM592.53 51.49h2.17v2.17h-2.17zM612.03 51.49h2.17v2.17h-2.17zM711.74 51.49h2.17v2.17h-2.17zM731.25 51.49h2.17v2.17h-2.17zM776.76 51.49h2.17v2.17h-2.17zM781.1 51.49h2.17v2.17h-2.17zM1010.85 51.49h2.17v2.17h-2.17zM1026.03 51.49h2.17v2.17h-2.17zM1225.44 51.49h2.17v2.17h-2.17zM1260.12 51.49h2.17v2.17h-2.17zM1394.5 51.49h2.17v2.17h-2.17zM1414.01 51.49h2.17v2.17h-2.17zM1444.36 51.49h2.17v2.17h-2.17zM1459.53 51.49h2.17v2.17h-2.17zM128.68 218.38h2.17v2.17h-2.17zM148.19 218.38h2.17v2.17h-2.17zM228.39 218.38h2.17v2.17h-2.17zM247.9 218.38h2.17v2.17h-2.17zM263.07 218.38h2.17v2.17h-2.17zM412.62 218.38h2.17v2.17h-2.17zM562.18 218.38h2.17v2.17h-2.17zM1110.56 218.38h2.17v2.17h-2.17zM1195.09 218.38h2.17v2.17h-2.17zM1294.8 218.38h2.17v2.17h-2.17zM1359.82 218.38h2.17v2.17h-2.17zM1379.33 218.38h2.17v2.17h-2.17zM1394.5 218.38h2.17v2.17h-2.17zM1494.21 218.38h2.17v2.17h-2.17zM130.85 439.47h2.17v2.17h-2.17zM137.35 439.47h4.33v2.17h-4.33zM146.02 439.47h2.17v2.17h-2.17zM152.53 439.47h4.34v2.17h-4.34zM133.02 383.11h2.17v2.17h-2.17zM182.87 383.11h2.17v2.17h-2.17zM328.09 383.11h2.17v2.17h-2.17zM332.43 383.11h2.17v2.17h-2.17zM343.26 383.11h2.17v2.17h-2.17zM347.6 383.11h2.17v2.17h-2.17zM412.62 383.11h2.17v2.17h-2.17zM477.65 383.11h2.17v2.17h-2.17zM481.99 383.11h2.17v2.17h-2.17zM492.82 383.11h2.17v2.17h-2.17zM135.19 222.72h2.17v2.17h-2.17zM219.72 222.72h2.17v2.17h-2.17zM419.13 222.72h2.17v2.17h-2.17zM525.33 222.72h2.17v2.17h-2.17zM564.35 222.72h2.17v2.17h-2.17zM850.46 222.72h2.17v2.17h-2.17zM956.67 222.72h2.17v2.17h-2.17zM984.84 222.72h2.17v2.17h-2.17zM1021.69 222.72h2.17v2.17h-2.17zM1071.54 222.72h2.17v2.17h-2.17zM1403.17 222.72h2.17v2.17h-2.17zM1427.01 222.72h2.17v2.17h-2.17zM1518.05 222.72h2.17v2.17h-2.17zM135.19 333.26h2.17v2.17h-2.17zM211.05 333.26h2.17v2.17h-2.17zM139.52 272.57h2.17v6.5h-2.17zM289.08 272.57h2.17v6.5h-2.17zM1021.69 272.57h2.17v6.5h-2.17zM139.52 385.28h2.17v2.17h-2.17zM317.25 385.28h2.17v2.17h-2.17zM423.46 385.28h2.17v2.17h-2.17zM436.47 385.28h4.33v2.17h-4.33zM451.64 385.28h2.17v2.17h-2.17zM466.81 385.28h2.17v2.17h-2.17zM159.03 328.93h2.17v2.17h-2.17zM159.03 363.61h2.17v2.17h-2.17zM258.73 363.61h2.17v2.17h-2.17zM666.22 363.61h2.17v2.17h-2.17zM681.39 363.61h2.17v2.17h-2.17zM692.23 363.61h2.17v2.17h-2.17zM707.4 363.61h2.17v2.17h-2.17zM765.93 363.61h2.17v2.17h-2.17zM791.94 363.61h2.17v2.17h-2.17zM865.63 363.61h2.17v2.17h-2.17zM891.64 363.61h2.17v2.17h-2.17zM965.34 363.61h2.17v2.17h-2.17zM1015.19 363.61h2.17v2.17h-2.17zM161.2 441.64h2.17v2.17h-2.17zM169.87 441.64h2.17v2.17h-2.17zM176.37 441.64h2.17v2.17h-2.17zM185.04 441.64h2.17v2.17h-2.17zM191.54 441.64h2.17v2.17h-2.17zM200.21 441.64h2.17v2.17h-2.17zM206.71 441.64h2.17v2.17h-2.17zM215.38 441.64h2.17v2.17h-2.17zM221.89 441.64h4.33v2.17h-4.33zM230.56 441.64h2.17v2.17h-2.17zM237.06 441.64h4.34v2.17h-4.34zM245.73 441.64h2.17v2.17h-2.17zM252.23 441.64h2.17v2.17h-2.17zM172.03 276.91h4.34v2.17h-4.34zM651.05 276.91h2.17v2.17h-2.17zM800.61 276.91h2.17v2.17h-2.17zM906.81 276.91h2.17v2.17h-2.17zM971.84 276.91h2.17v2.17h-2.17zM1249.28 276.91h2.17v2.17h-2.17zM1348.98 276.91h2.17v2.17h-2.17zM1554.9 276.91h2.17v2.17h-2.17zM174.2 53.65h2.17v2.17h-2.17zM700.9 53.65h2.17v2.17h-2.17zM1021.69 53.65h2.17v2.17h-2.17zM174.2 315.92h2.17v17.34h-2.17zM189.37 315.92h2.17v17.34h-2.17zM178.53 324.59h2.17v2.17h-2.17zM258.73 324.59h2.17v2.17h-2.17zM297.75 324.59h2.17v2.17h-2.17zM393.12 324.59h2.17v2.17h-2.17zM427.8 324.59h2.17v2.17h-2.17zM432.13 324.59h2.17v2.17h-2.17zM477.65 324.59h2.17v2.17h-2.17zM481.99 324.59h2.17v2.17h-2.17zM531.84 324.59h2.17v2.17h-2.17zM542.67 324.59h2.17v2.17h-2.17zM731.25 324.59h2.17v2.17h-2.17zM742.08 324.59h2.17v2.17h-2.17zM746.42 324.59h2.17v2.17h-2.17zM965.34 324.59h2.17v2.17h-2.17zM1260.12 324.59h2.17v2.17h-2.17zM1264.45 324.59h2.17v2.17h-2.17zM1275.29 324.59h2.17v2.17h-2.17zM1279.62 324.59h2.17v2.17h-2.17zM1290.46 324.59h2.17v2.17h-2.17zM1294.8 324.59h2.17v2.17h-2.17zM189.37 105.67h2.17v10.84h-2.17zM672.72 105.67h2.17v10.84h-2.17zM787.6 105.67h2.17v10.84h-2.17zM971.84 105.67h2.17v10.84h-2.17zM1006.52 105.67h2.17v10.84h-2.17zM1056.37 105.67h2.17v10.84h-2.17zM193.71 60.16h2.17v2.17h-2.17zM232.72 60.16h2.17v2.17h-2.17zM332.43 60.16h2.17v2.17h-2.17zM458.14 60.16h2.17v2.17h-2.17zM492.82 60.16h2.17v2.17h-2.17zM666.22 60.16h2.17v2.17h-2.17zM1091.05 60.16h2.17v2.17h-2.17zM1112.73 60.16h2.17v2.17h-2.17zM1149.58 60.16h2.17v2.17h-2.17zM1240.61 60.16h2.17v2.17h-2.17zM1305.63 60.16h2.17v2.17h-2.17zM193.71 376.61h2.17v2.17h-2.17zM497.16 376.61h2.17v2.17h-2.17zM508 376.61h2.17v2.17h-2.17zM566.52 376.61h2.17v2.17h-2.17zM577.35 376.61h2.17v2.17h-2.17zM581.69 376.61h2.17v2.17h-2.17zM592.53 376.61h2.17v2.17h-2.17zM596.86 376.61h2.17v2.17h-2.17zM607.7 376.61h2.17v2.17h-2.17zM198.04 313.75h2.17v2.17h-2.17zM278.24 313.75h2.17v2.17h-2.17zM312.92 313.75h2.17v2.17h-2.17zM527.5 313.75h2.17v2.17h-2.17zM646.71 313.75h2.17v2.17h-2.17zM711.74 313.75h2.17v2.17h-2.17zM726.91 313.75h2.17v2.17h-2.17zM995.68 313.75h2.17v2.17h-2.17zM1010.85 313.75h2.17v2.17h-2.17zM1160.41 313.75h2.17v2.17h-2.17zM1195.09 313.75h2.17v2.17h-2.17zM1210.26 313.75h2.17v2.17h-2.17zM1225.44 313.75h2.17v2.17h-2.17zM202.38 159.86h2.17v10.84h-2.17zM351.94 159.86h2.17v10.84h-2.17zM401.79 159.86h2.17v10.84h-2.17zM601.2 159.86h2.17v10.84h-2.17zM757.26 159.86h2.17v10.84h-2.17zM921.99 159.86h2.17v10.84h-2.17zM956.67 159.86h2.17v10.84h-2.17zM971.84 159.86h2.17v10.84h-2.17zM1184.25 159.86h2.17v10.84h-2.17zM1420.51 159.86h2.17v10.84h-2.17zM1483.37 159.86h2.17v10.84h-2.17zM217.55 57.99h2.17v2.17h-2.17zM224.05 57.99h2.17v2.17h-2.17zM956.67 57.99h2.17v2.17h-2.17zM1049.87 57.99h2.17v2.17h-2.17zM1270.95 57.99h2.17v2.17h-2.17zM217.55 220.55h2.17v4.34h-2.17zM224.05 220.55h2.17v4.34h-2.17zM367.11 220.55h2.17v4.34h-2.17zM373.61 220.55h2.17v4.34h-2.17zM822.28 220.55h2.17v4.34h-2.17zM835.29 220.55h2.17v4.34h-2.17zM934.99 220.55h2.17v4.34h-2.17zM1049.87 220.55h2.17v4.34h-2.17zM1455.19 220.55h2.17v4.34h-2.17zM221.89 168.53h2.17v2.17h-2.17zM371.44 168.53h4.34v2.17h-4.34zM484.15 168.53h2.17v2.17h-2.17zM605.53 168.53h4.34v2.17h-4.34zM653.22 168.53h2.17v2.17h-2.17zM687.9 168.53h2.17v2.17h-2.17zM854.79 168.53h2.17v2.17h-2.17zM965.34 168.53h2.17v2.17h-2.17zM1002.18 168.53h2.17v2.17h-2.17zM1065.04 168.53h2.17v2.17h-2.17zM1188.59 168.53h2.17v2.17h-2.17zM1205.93 168.53h2.17v2.17h-2.17zM1216.77 168.53h2.17v2.17h-2.17zM1537.56 168.53h4.34v2.17h-4.34zM224.05 166.36h2.17v4.34h-2.17zM651.05 166.36h2.17v4.34h-2.17zM772.43 166.36h2.17v4.34h-2.17zM856.96 166.36h2.17v4.34h-2.17zM900.31 166.36h2.17v4.34h-2.17zM239.23 105.67h2.17v8.67h-2.17zM302.08 105.67h2.17v8.67h-2.17zM1000.02 105.67h2.17v8.67h-2.17zM1483.37 105.67h2.17v8.67h-2.17zM1548.39 105.67h2.17v8.67h-2.17zM252.23 53.65h2.17v6.5h-2.17zM367.11 53.65h2.17v6.5h-2.17zM416.96 53.65h2.17v6.5h-2.17zM1184.25 53.65h2.17v6.5h-2.17zM1533.22 53.65h2.17v6.5h-2.17zM267.4 272.57h2.17v4.33h-2.17zM267.4 331.09h2.17v2.17h-2.17zM466.81 331.09h2.17v2.17h-2.17zM772.43 331.09h2.17v2.17h-2.17zM785.43 331.09h4.34v2.17h-4.34zM906.81 331.09h2.17v2.17h-2.17zM1348.98 331.09h2.17v2.17h-2.17zM1405.34 331.09h2.17v2.17h-2.17zM1420.51 331.09h2.17v2.17h-2.17zM1433.52 331.09h2.17v2.17h-2.17zM273.91 363.61h2.17v23.84h-2.17zM284.74 164.2h2.17v2.17h-2.17zM341.1 164.2h2.17v2.17h-2.17zM1266.62 164.2h2.17v2.17h-2.17zM1346.82 164.2h2.17v2.17h-2.17zM289.08 378.78h2.17v8.67h-2.17zM302.08 378.78h2.17v8.67h-2.17zM523.17 378.78h2.17v8.67h-2.17zM536.17 378.78h4.34v8.67h-4.34zM551.34 378.78h2.17v8.67h-2.17zM622.87 378.78h2.17v8.67h-2.17zM635.88 378.78h4.34v8.67h-4.34zM651.05 378.78h2.17v8.67h-2.17zM302.08 57.99h2.17v4.34h-2.17zM536.17 57.99h4.34v4.34h-4.34zM722.58 57.99h2.17v4.34h-2.17zM772.43 57.99h2.17v4.34h-2.17zM856.96 57.99h2.17v4.34h-2.17zM1006.52 57.99h2.17v4.34h-2.17zM1134.4 57.99h2.17v4.34h-2.17zM1333.81 57.99h2.17v4.34h-2.17zM1448.69 57.99h2.17v4.34h-2.17zM317.25 326.76h2.17v8.67h-2.17zM338.93 326.76h2.17v8.67h-2.17zM622.87 326.76h2.17v8.67h-2.17zM757.26 326.76h2.17v8.67h-2.17zM921.99 326.76h2.17v8.67h-2.17zM934.99 326.76h2.17v8.67h-2.17zM950.16 326.76h2.17v8.67h-2.17zM1234.11 326.76h2.17v8.67h-2.17zM1249.28 326.76h2.17v8.67h-2.17zM1305.63 326.76h2.17v8.67h-2.17zM1320.81 326.76h2.17v8.67h-2.17zM323.76 263.9h2.17v15.17h-2.17zM451.64 263.9h2.17v15.17h-2.17zM473.31 263.9h2.17v15.17h-2.17zM356.27 55.82h2.17v2.17h-2.17zM1487.7 55.82h2.17v2.17h-2.17zM384.45 274.74h2.17v2.17h-2.17zM471.15 274.74h2.17v2.17h-2.17zM416.96 263.9h2.17v13h-2.17zM416.96 315.92h2.17v19.51h-2.17zM635.88 315.92h4.34v19.51h-4.34zM651.05 315.92h2.17v19.51h-2.17zM984.84 315.92h2.17v19.51h-2.17zM1000.02 315.92h2.17v19.51h-2.17zM1149.58 315.92h2.17v19.51h-2.17zM1205.93 315.92h2.17v19.51h-2.17zM1221.1 315.92h2.17v19.51h-2.17zM423.46 166.36h2.17v2.17h-2.17zM1255.78 166.36h2.17v2.17h-2.17zM523.17 112.18h2.17v4.33h-2.17zM536.17 112.18h2.17v4.33h-2.17zM638.04 112.18h2.17v4.33h-2.17zM685.73 112.18h4.34v4.33h-4.34zM856.96 112.18h2.17v4.33h-2.17zM872.13 112.18h2.17v4.33h-2.17zM1348.98 112.18h2.17v4.33h-2.17zM1383.66 112.18h2.17v4.33h-2.17zM1520.22 112.18h2.17v4.33h-2.17zM538.34 112.18h2.17v2.17h-2.17zM635.88 112.18h2.17v2.17h-2.17zM1106.22 112.18h2.17v2.17h-2.17zM1420.51 112.18h2.17v2.17h-2.17zM551.34 220.55h2.17v2.17h-2.17zM1505.04 220.55h2.17v2.17h-2.17zM722.58 363.61h2.17v26.01h-2.17zM750.75 363.61h2.17v26.01h-2.17zM807.11 363.61h2.17v26.01h-2.17zM850.46 363.61h2.17v26.01h-2.17zM906.81 363.61h2.17v26.01h-2.17zM950.16 363.61h2.17v26.01h-2.17zM1000.02 363.61h2.17v26.01h-2.17zM735.58 211.88h4.33v13h-4.33zM757.26 211.88h2.17v13h-2.17zM735.58 365.77h4.33v23.84h-4.33zM822.28 365.77h2.17v23.84h-2.17zM835.29 365.77h2.17v23.84h-2.17zM921.99 365.77h2.17v23.84h-2.17zM934.99 365.77h2.17v23.84h-2.17zM984.84 365.77h2.17v23.84h-2.17zM1071.54 276.91h2.17v4.34h-2.17zM1149.58 263.9h2.17v6.5h-2.17zM1156.08 263.9h2.17v6.5h-2.17zM1455.19 263.9h2.17v6.5h-2.17zM1305.63 211.88h2.17v10.84h-2.17zM1333.81 331.09h2.17v4.34h-2.17zM1411.84 110.01h2.17v2.17h-2.17zM1561.4 110.01h2.17v2.17h-2.17zM1570.07 272.57h2.17v8.67h-2.17zM1572.24 270.4h2.17v2.17h-2.17z"/>
<path style="mix-blend-mode:plus-lighter" fill-opacity="0.44" d="M74.49 313.75h2.17v2.17h-2.17zM167.7 313.75h2.17v2.17h-2.17zM217.55 313.75h2.17v2.17h-2.17zM232.72 313.75h2.17v2.17h-2.17zM302.08 313.75h2.17v2.17h-2.17zM343.26 313.75h2.17v2.17h-2.17zM401.79 313.75h2.17v2.17h-2.17zM423.46 313.75h2.17v2.17h-2.17zM523.17 313.75h2.17v2.17h-2.17zM642.38 313.75h2.17v2.17h-2.17zM707.4 313.75h2.17v2.17h-2.17zM722.58 313.75h2.17v2.17h-2.17zM971.84 313.75h2.17v2.17h-2.17zM991.35 313.75h2.17v2.17h-2.17zM1006.52 313.75h2.17v2.17h-2.17zM1156.08 313.75h2.17v2.17h-2.17zM1199.43 313.75h2.17v2.17h-2.17zM1214.6 313.75h2.17v2.17h-2.17zM76.66 554.35h149.56v2.17h-149.56zM228.39 554.35h149.56v2.17h-149.56zM380.11 554.35h147.39v2.17h-147.39zM529.67 554.35h149.56v2.17h-149.56zM681.39 554.35h149.56v2.17h-149.56zM833.12 554.35h147.39v2.17h-147.39zM982.68 554.35h149.56v2.17h-149.56zM1134.4 554.35h149.56v2.17h-149.56zM1286.13 554.35h147.39v2.17h-147.39zM1435.68 554.35h149.56v2.17h-149.56zM83.16 437.3h2.17v6.5h-2.17zM98.34 437.3h2.17v6.5h-2.17zM83.16 450.31h2.17v47.69h-2.17zM89.67 51.49h2.17v2.17h-2.17zM308.59 51.49h2.17v2.17h-2.17zM388.78 51.49h2.17v2.17h-2.17zM401.79 51.49h2.17v2.17h-2.17zM551.34 51.49h2.17v2.17h-2.17zM566.52 51.49h2.17v2.17h-2.17zM607.7 51.49h2.17v2.17h-2.17zM622.87 51.49h2.17v2.17h-2.17zM815.78 51.49h2.17v2.17h-2.17zM850.46 51.49h2.17v2.17h-2.17zM1015.19 51.49h2.17v2.17h-2.17zM1171.25 51.49h2.17v2.17h-2.17zM1264.45 51.49h2.17v2.17h-2.17zM1299.13 51.49h2.17v2.17h-2.17zM1455.19 51.49h2.17v2.17h-2.17zM1498.54 51.49h2.17v2.17h-2.17zM1539.72 51.49h2.17v2.17h-2.17zM89.67 168.53h2.17v2.17h-2.17zM397.45 168.53h2.17v2.17h-2.17zM423.46 168.53h2.17v2.17h-2.17zM945.83 168.53h2.17v2.17h-2.17zM1095.39 168.53h2.17v2.17h-2.17zM1106.22 168.53h2.17v2.17h-2.17zM1164.75 168.53h2.17v2.17h-2.17zM1294.8 168.53h2.17v2.17h-2.17zM1329.48 168.53h2.17v2.17h-2.17zM1344.65 168.53h2.17v2.17h-2.17zM1379.33 168.53h2.17v2.17h-2.17zM1479.03 168.53h2.17v2.17h-2.17zM96.17 224.89h4.33v2.17h-4.33zM104.84 224.89h2.17v2.17h-2.17zM167.7 224.89h4.33v2.17h-4.33zM200.21 224.89h2.17v2.17h-2.17zM221.89 224.89h2.17v2.17h-2.17zM230.56 224.89h2.17v2.17h-2.17zM250.06 224.89h2.17v2.17h-2.17zM260.9 224.89h2.17v2.17h-2.17zM271.74 224.89h2.17v2.17h-2.17zM369.28 224.89h4.33v2.17h-4.33zM380.11 224.89h2.17v2.17h-2.17zM432.13 224.89h2.17v2.17h-2.17zM473.31 224.89h2.17v2.17h-2.17zM484.15 224.89h2.17v2.17h-2.17zM503.66 224.89h4.33v2.17h-4.33zM577.35 224.89h2.17v2.17h-2.17zM583.86 224.89h2.17v2.17h-2.17zM599.03 224.89h2.17v2.17h-2.17zM607.7 224.89h2.17v2.17h-2.17zM631.54 224.89h2.17v2.17h-2.17zM661.89 224.89h2.17v2.17h-2.17zM670.56 224.89h2.17v2.17h-2.17zM679.23 224.89h2.17v2.17h-2.17zM709.57 224.89h2.17v2.17h-2.17zM729.08 224.89h2.17v2.17h-2.17zM748.59 224.89h2.17v2.17h-2.17zM755.09 224.89h2.17v2.17h-2.17zM768.09 224.89h2.17v2.17h-2.17zM774.6 224.89h2.17v2.17h-2.17zM794.1 224.89h2.17v2.17h-2.17zM804.94 224.89h2.17v2.17h-2.17zM817.95 224.89h4.33v2.17h-4.33zM826.62 224.89h2.17v2.17h-2.17zM865.63 224.89h2.17v2.17h-2.17zM882.97 224.89h2.17v2.17h-2.17zM895.98 224.89h2.17v2.17h-2.17zM904.65 224.89h2.17v2.17h-2.17zM917.65 224.89h4.34v2.17h-4.34zM924.15 224.89h2.17v2.17h-2.17zM952.33 224.89h2.17v2.17h-2.17zM969.67 224.89h2.17v2.17h-2.17zM993.51 224.89h2.17v2.17h-2.17zM1013.02 224.89h2.17v2.17h-2.17zM1069.38 224.89h2.17v2.17h-2.17zM1093.22 224.89h2.17v2.17h-2.17zM1138.74 224.89h2.17v2.17h-2.17zM1153.91 224.89h2.17v2.17h-2.17zM1208.1 224.89h2.17v2.17h-2.17zM1216.77 224.89h2.17v2.17h-2.17zM1251.45 224.89h2.17v2.17h-2.17zM1344.65 224.89h2.17v2.17h-2.17zM1351.15 224.89h2.17v2.17h-2.17zM1390.17 224.89h2.17v2.17h-2.17zM1437.85 224.89h2.17v2.17h-2.17zM1444.36 224.89h2.17v2.17h-2.17zM1474.7 224.89h2.17v2.17h-2.17zM1528.89 224.89h2.17v2.17h-2.17zM1544.06 224.89h2.17v2.17h-2.17zM1550.56 224.89h2.17v2.17h-2.17zM98.34 105.67h2.17v10.84h-2.17zM293.41 105.67h2.17v10.84h-2.17zM542.67 105.67h2.17v10.84h-2.17zM677.06 105.67h2.17v10.84h-2.17zM681.39 105.67h2.17v10.84h-2.17zM880.8 105.67h2.17v10.84h-2.17zM991.35 105.67h2.17v10.84h-2.17zM98.34 363.61h2.17v13h-2.17zM102.67 274.74h2.17v2.17h-2.17zM137.35 274.74h2.17v2.17h-2.17zM453.81 274.74h2.17v2.17h-2.17zM109.17 411.29h2.17v15.17h-2.17zM124.35 218.38h2.17v2.17h-2.17zM382.28 218.38h2.17v2.17h-2.17zM516.66 218.38h2.17v2.17h-2.17zM677.06 218.38h2.17v2.17h-2.17zM731.25 218.38h2.17v2.17h-2.17zM1056.37 218.38h2.17v2.17h-2.17zM1065.04 218.38h2.17v2.17h-2.17zM1149.58 218.38h2.17v2.17h-2.17zM1325.14 218.38h2.17v2.17h-2.17zM1548.39 218.38h2.17v2.17h-2.17zM1563.57 218.38h2.17v2.17h-2.17zM1578.74 218.38h2.17v2.17h-2.17zM128.68 324.59h2.17v2.17h-2.17zM247.9 324.59h2.17v2.17h-2.17zM362.77 324.59h2.17v2.17h-2.17zM627.21 324.59h2.17v2.17h-2.17zM631.54 324.59h2.17v2.17h-2.17zM926.32 324.59h2.17v2.17h-2.17zM930.66 324.59h2.17v2.17h-2.17zM945.83 324.59h2.17v2.17h-2.17zM961 324.59h2.17v2.17h-2.17zM1229.77 324.59h2.17v2.17h-2.17zM1244.94 324.59h2.17v2.17h-2.17zM1309.97 324.59h2.17v2.17h-2.17zM133.02 57.99h2.17v2.17h-2.17zM133.02 211.88h2.17v13h-2.17zM308.59 211.88h2.17v13h-2.17zM492.82 211.88h2.17v13h-2.17zM642.38 211.88h2.17v13h-2.17zM765.93 211.88h2.17v13h-2.17zM815.78 211.88h2.17v13h-2.17zM1340.32 211.88h2.17v13h-2.17zM133.02 385.28h2.17v2.17h-2.17zM182.87 385.28h2.17v2.17h-2.17zM332.43 385.28h2.17v2.17h-2.17zM343.26 385.28h2.17v2.17h-2.17zM481.99 385.28h2.17v2.17h-2.17zM492.82 385.28h2.17v2.17h-2.17zM133.02 441.64h2.17v2.17h-2.17zM143.86 441.64h2.17v2.17h-2.17zM148.19 441.64h2.17v2.17h-2.17zM139.52 387.45h2.17v2.17h-2.17zM165.53 387.45h2.17v2.17h-2.17zM191.54 387.45h2.17v2.17h-2.17zM280.41 387.45h2.17v2.17h-2.17zM286.91 387.45h4.33v2.17h-4.33zM295.58 387.45h2.17v2.17h-2.17zM521 387.45h2.17v2.17h-2.17zM529.67 387.45h2.17v2.17h-2.17zM536.17 387.45h4.34v2.17h-4.34zM544.84 387.45h2.17v2.17h-2.17zM553.51 387.45h2.17v2.17h-2.17zM560.01 387.45h2.17v2.17h-2.17zM568.68 387.45h2.17v2.17h-2.17zM575.19 387.45h2.17v2.17h-2.17zM583.86 387.45h2.17v2.17h-2.17zM590.36 387.45h2.17v2.17h-2.17zM599.03 387.45h2.17v2.17h-2.17zM605.53 387.45h2.17v2.17h-2.17zM614.2 387.45h2.17v2.17h-2.17zM620.7 387.45h2.17v2.17h-2.17zM629.38 387.45h2.17v2.17h-2.17zM635.88 387.45h4.34v2.17h-4.34zM644.55 387.45h2.17v2.17h-2.17zM653.22 387.45h2.17v2.17h-2.17zM659.72 387.45h2.17v2.17h-2.17zM668.39 387.45h2.17v2.17h-2.17zM674.89 387.45h2.17v2.17h-2.17zM683.56 387.45h2.17v2.17h-2.17zM690.06 387.45h2.17v2.17h-2.17zM698.73 387.45h2.17v2.17h-2.17zM148.19 105.67h2.17v4.34h-2.17zM1015.19 105.67h2.17v4.34h-2.17zM148.19 220.55h2.17v4.34h-2.17zM247.9 220.55h2.17v4.34h-2.17zM481.99 220.55h2.17v4.34h-2.17zM830.95 220.55h2.17v4.34h-2.17zM1379.33 220.55h2.17v4.34h-2.17zM1463.86 220.55h2.17v4.34h-2.17zM148.19 263.9h2.17v13h-2.17zM148.19 315.92h2.17v13h-2.17zM154.69 157.69h2.17v2.17h-2.17zM226.22 157.69h2.17v2.17h-2.17zM234.89 157.69h2.17v2.17h-2.17zM241.39 157.69h2.17v2.17h-2.17zM315.09 157.69h2.17v2.17h-2.17zM336.76 157.69h2.17v2.17h-2.17zM429.97 157.69h2.17v2.17h-2.17zM434.3 157.69h2.17v2.17h-2.17zM525.33 157.69h2.17v2.17h-2.17zM529.67 157.69h2.17v2.17h-2.17zM538.34 157.69h4.34v2.17h-4.34zM549.18 157.69h2.17v2.17h-2.17zM560.01 157.69h2.17v2.17h-2.17zM633.71 157.69h2.17v2.17h-2.17zM698.73 157.69h2.17v2.17h-2.17zM735.58 157.69h2.17v2.17h-2.17zM739.92 157.69h2.17v2.17h-2.17zM744.25 157.69h2.17v2.17h-2.17zM785.43 157.69h2.17v2.17h-2.17zM802.77 157.69h2.17v2.17h-2.17zM863.46 157.69h2.17v2.17h-2.17zM878.64 157.69h2.17v2.17h-2.17zM887.31 157.69h4.34v2.17h-4.34zM937.16 157.69h2.17v2.17h-2.17zM963.17 157.69h2.17v2.17h-2.17zM1058.54 157.69h2.17v2.17h-2.17zM1086.72 157.69h2.17v2.17h-2.17zM1127.9 157.69h2.17v2.17h-2.17zM1169.08 157.69h2.17v2.17h-2.17zM1236.27 157.69h2.17v2.17h-2.17zM1286.13 157.69h2.17v2.17h-2.17zM1381.5 157.69h2.17v2.17h-2.17zM1411.84 157.69h2.17v2.17h-2.17zM1442.19 157.69h2.17v2.17h-2.17zM1453.02 157.69h2.17v2.17h-2.17zM1457.36 157.69h2.17v2.17h-2.17zM1531.05 157.69h2.17v2.17h-2.17zM159.03 276.91h2.17v4.34h-2.17zM1091.05 276.91h2.17v4.34h-2.17zM1140.9 276.91h2.17v4.34h-2.17zM1164.75 276.91h2.17v4.34h-2.17zM1314.3 276.91h2.17v4.34h-2.17zM1463.86 276.91h2.17v4.34h-2.17zM159.03 365.77h2.17v23.84h-2.17zM258.73 365.77h2.17v23.84h-2.17zM707.4 365.77h2.17v23.84h-2.17zM765.93 365.77h2.17v23.84h-2.17zM791.94 365.77h2.17v23.84h-2.17zM865.63 365.77h2.17v23.84h-2.17zM891.64 365.77h2.17v23.84h-2.17zM965.34 365.77h2.17v23.84h-2.17zM1015.19 365.77h2.17v23.84h-2.17zM163.36 279.07h2.17v2.17h-2.17zM234.89 279.07h2.17v2.17h-2.17zM451.64 279.07h2.17v2.17h-2.17zM473.31 279.07h2.17v2.17h-2.17zM488.49 279.07h2.17v2.17h-2.17zM499.32 279.07h2.17v2.17h-2.17zM512.33 279.07h2.17v2.17h-2.17zM568.68 279.07h2.17v2.17h-2.17zM651.05 279.07h2.17v2.17h-2.17zM670.56 279.07h2.17v2.17h-2.17zM694.4 279.07h2.17v2.17h-2.17zM713.91 279.07h2.17v2.17h-2.17zM748.59 279.07h4.33v2.17h-4.33zM772.43 279.07h4.34v2.17h-4.34zM800.61 279.07h2.17v2.17h-2.17zM822.28 279.07h2.17v2.17h-2.17zM841.79 279.07h4.34v2.17h-4.34zM854.79 279.07h2.17v2.17h-2.17zM906.81 279.07h2.17v2.17h-2.17zM950.16 279.07h2.17v2.17h-2.17zM971.84 279.07h2.17v2.17h-2.17zM997.85 279.07h4.34v2.17h-4.34zM1021.69 279.07h2.17v2.17h-2.17zM1039.03 279.07h2.17v2.17h-2.17zM1058.54 279.07h2.17v2.17h-2.17zM1108.39 279.07h2.17v2.17h-2.17zM1127.9 279.07h2.17v2.17h-2.17zM1203.76 279.07h2.17v2.17h-2.17zM1214.6 279.07h2.17v2.17h-2.17zM1249.28 279.07h2.17v2.17h-2.17zM1264.45 279.07h2.17v2.17h-2.17zM1296.96 279.07h4.34v2.17h-4.34zM1348.98 279.07h2.17v2.17h-2.17zM1364.16 279.07h2.17v2.17h-2.17zM1377.16 279.07h2.17v2.17h-2.17zM1396.67 279.07h2.17v2.17h-2.17zM1403.17 279.07h2.17v2.17h-2.17zM1414.01 279.07h2.17v2.17h-2.17zM1492.04 279.07h2.17v2.17h-2.17zM1500.71 279.07h2.17v2.17h-2.17zM1526.72 279.07h2.17v2.17h-2.17zM1535.39 279.07h2.17v2.17h-2.17zM1539.72 279.07h2.17v2.17h-2.17zM1554.9 279.07h2.17v2.17h-2.17zM163.36 376.61h2.17v2.17h-2.17zM278.24 376.61h2.17v2.17h-2.17zM293.41 376.61h2.17v2.17h-2.17zM297.75 376.61h2.17v2.17h-2.17zM512.33 376.61h2.17v2.17h-2.17zM527.5 376.61h2.17v2.17h-2.17zM547.01 376.61h2.17v2.17h-2.17zM562.18 376.61h2.17v2.17h-2.17zM612.03 376.61h2.17v2.17h-2.17zM627.21 376.61h2.17v2.17h-2.17zM646.71 376.61h2.17v2.17h-2.17zM176.37 170.7h2.17v2.17h-2.17zM195.88 170.7h2.17v2.17h-2.17zM213.22 170.7h4.34v2.17h-4.34zM232.72 170.7h2.17v2.17h-2.17zM243.56 170.7h4.34v2.17h-4.34zM265.24 170.7h2.17v2.17h-2.17zM345.43 170.7h4.33v2.17h-4.33zM364.94 170.7h2.17v2.17h-2.17zM414.79 170.7h2.17v2.17h-2.17zM425.63 170.7h4.34v2.17h-4.34zM445.14 170.7h2.17v2.17h-2.17zM460.31 170.7h2.17v2.17h-2.17zM468.98 170.7h2.17v2.17h-2.17zM479.82 170.7h2.17v2.17h-2.17zM596.86 170.7h2.17v2.17h-2.17zM622.87 170.7h2.17v2.17h-2.17zM627.21 170.7h2.17v2.17h-2.17zM635.88 170.7h2.17v2.17h-2.17zM672.72 170.7h2.17v2.17h-2.17zM681.39 170.7h2.17v2.17h-2.17zM718.24 170.7h2.17v2.17h-2.17zM761.59 170.7h2.17v2.17h-2.17zM776.76 170.7h2.17v2.17h-2.17zM804.94 170.7h2.17v2.17h-2.17zM811.44 170.7h2.17v2.17h-2.17zM843.96 170.7h2.17v2.17h-2.17zM895.98 170.7h2.17v2.17h-2.17zM904.65 170.7h2.17v2.17h-2.17zM1026.03 170.7h2.17v2.17h-2.17zM1030.36 170.7h2.17v2.17h-2.17zM1062.88 170.7h2.17v2.17h-2.17zM1093.22 170.7h2.17v2.17h-2.17zM1099.72 170.7h2.17v2.17h-2.17zM1192.92 170.7h2.17v2.17h-2.17zM1212.43 170.7h2.17v2.17h-2.17zM1262.28 170.7h2.17v2.17h-2.17zM1392.34 170.7h2.17v2.17h-2.17zM1407.51 170.7h2.17v2.17h-2.17zM1429.18 170.7h2.17v2.17h-2.17zM1468.2 170.7h2.17v2.17h-2.17zM1474.7 170.7h2.17v2.17h-2.17zM1511.55 170.7h2.17v2.17h-2.17zM193.71 276.91h2.17v2.17h-2.17zM267.4 276.91h2.17v2.17h-2.17zM416.96 276.91h2.17v2.17h-2.17zM1424.85 276.91h2.17v2.17h-2.17zM1429.18 276.91h2.17v2.17h-2.17zM1474.7 276.91h2.17v2.17h-2.17zM193.71 331.09h2.17v4.34h-2.17zM547.01 331.09h2.17v4.34h-2.17zM193.71 378.78h2.17v8.67h-2.17zM497.16 378.78h2.17v8.67h-2.17zM508 378.78h2.17v8.67h-2.17zM566.52 378.78h2.17v8.67h-2.17zM581.69 378.78h2.17v8.67h-2.17zM592.53 378.78h2.17v8.67h-2.17zM607.7 378.78h2.17v8.67h-2.17zM198.04 112.18h2.17v2.17h-2.17zM243.56 112.18h2.17v2.17h-2.17zM397.45 112.18h2.17v2.17h-2.17zM1130.07 112.18h2.17v2.17h-2.17zM1424.85 112.18h2.17v2.17h-2.17zM198.04 159.86h2.17v4.34h-2.17zM880.8 159.86h2.17v4.34h-2.17zM198.04 263.9h2.17v15.17h-2.17zM308.59 263.9h2.17v15.17h-2.17zM198.04 363.61h2.17v26.01h-2.17zM776.76 363.61h2.17v26.01h-2.17zM781.1 363.61h2.17v26.01h-2.17zM876.47 363.61h2.17v26.01h-2.17zM880.8 363.61h2.17v26.01h-2.17zM976.17 363.61h2.17v26.01h-2.17zM208.88 112.18h2.17v4.33h-2.17zM1264.45 112.18h2.17v4.33h-2.17zM1290.46 112.18h2.17v4.33h-2.17zM1489.87 112.18h2.17v4.33h-2.17zM1524.55 112.18h2.17v4.33h-2.17zM208.88 211.88h2.17v6.5h-2.17zM880.8 211.88h2.17v6.5h-2.17zM245.73 333.26h2.17v2.17h-2.17zM319.42 333.26h2.17v2.17h-2.17zM371.44 333.26h2.17v2.17h-2.17zM384.45 333.26h2.17v2.17h-2.17zM440.8 333.26h2.17v2.17h-2.17zM468.98 333.26h2.17v2.17h-2.17zM549.18 333.26h2.17v2.17h-2.17zM555.68 333.26h2.17v2.17h-2.17zM599.03 333.26h2.17v2.17h-2.17zM605.53 333.26h2.17v2.17h-2.17zM778.93 333.26h2.17v2.17h-2.17zM794.1 333.26h2.17v2.17h-2.17zM867.8 333.26h2.17v2.17h-2.17zM874.3 333.26h2.17v2.17h-2.17zM882.97 333.26h2.17v2.17h-2.17zM889.47 333.26h2.17v2.17h-2.17zM898.14 333.26h2.17v2.17h-2.17zM904.65 333.26h2.17v2.17h-2.17zM1342.48 333.26h2.17v2.17h-2.17zM1351.15 333.26h2.17v2.17h-2.17zM1357.65 333.26h2.17v2.17h-2.17zM1366.33 333.26h2.17v2.17h-2.17zM1372.83 333.26h2.17v2.17h-2.17zM1381.5 333.26h2.17v2.17h-2.17zM1388 333.26h2.17v2.17h-2.17zM1396.67 333.26h2.17v2.17h-2.17zM1403.17 333.26h2.17v2.17h-2.17zM1411.84 333.26h2.17v2.17h-2.17zM1427.01 333.26h2.17v2.17h-2.17zM1442.19 333.26h2.17v2.17h-2.17zM1450.86 333.26h2.17v2.17h-2.17zM1585.24 333.26h2.17v2.17h-2.17zM247.9 272.57h2.17v6.5h-2.17zM481.99 272.57h2.17v6.5h-2.17zM1225.44 272.57h2.17v6.5h-2.17zM258.73 159.86h2.17v10.84h-2.17zM297.75 159.86h2.17v10.84h-2.17zM481.99 159.86h2.17v10.84h-2.17zM531.84 159.86h2.17v10.84h-2.17zM915.48 159.86h2.17v10.84h-2.17zM1080.21 159.86h2.17v10.84h-2.17zM1179.92 159.86h2.17v10.84h-2.17zM1214.6 159.86h2.17v10.84h-2.17zM1524.55 159.86h2.17v10.84h-2.17zM258.73 326.76h2.17v8.67h-2.17zM297.75 326.76h2.17v8.67h-2.17zM393.12 326.76h2.17v8.67h-2.17zM432.13 326.76h2.17v8.67h-2.17zM481.99 326.76h2.17v8.67h-2.17zM531.84 326.76h2.17v8.67h-2.17zM542.67 326.76h2.17v8.67h-2.17zM731.25 326.76h2.17v8.67h-2.17zM742.08 326.76h2.17v8.67h-2.17zM965.34 326.76h2.17v8.67h-2.17zM1264.45 326.76h2.17v8.67h-2.17zM1275.29 326.76h2.17v8.67h-2.17zM1279.62 326.76h2.17v8.67h-2.17zM1290.46 326.76h2.17v8.67h-2.17zM263.07 363.61h2.17v2.17h-2.17zM661.89 363.61h2.17v2.17h-2.17zM696.57 363.61h2.17v2.17h-2.17zM711.74 363.61h2.17v2.17h-2.17zM761.59 363.61h2.17v2.17h-2.17zM796.27 363.61h2.17v2.17h-2.17zM811.44 363.61h2.17v2.17h-2.17zM861.3 363.61h2.17v2.17h-2.17zM895.98 363.61h2.17v2.17h-2.17zM911.15 363.61h2.17v2.17h-2.17zM961 363.61h2.17v2.17h-2.17zM1010.85 363.61h2.17v2.17h-2.17zM278.24 114.34h2.17v2.17h-2.17zM347.6 114.34h2.17v2.17h-2.17zM562.18 114.34h2.17v2.17h-2.17zM612.03 114.34h2.17v2.17h-2.17zM627.21 114.34h2.17v2.17h-2.17zM646.71 114.34h2.17v2.17h-2.17zM696.57 114.34h2.17v2.17h-2.17zM811.44 114.34h2.17v2.17h-2.17zM861.3 114.34h2.17v2.17h-2.17zM895.98 114.34h2.17v2.17h-2.17zM911.15 114.34h2.17v2.17h-2.17zM961 114.34h2.17v2.17h-2.17zM969.67 114.34h2.17v2.17h-2.17zM1002.18 114.34h2.17v2.17h-2.17zM1149.58 114.34h2.17v2.17h-2.17zM1221.1 114.34h2.17v2.17h-2.17zM1253.62 114.34h2.17v2.17h-2.17zM1318.64 114.34h2.17v2.17h-2.17zM1372.83 114.34h2.17v2.17h-2.17zM1509.38 114.34h2.17v2.17h-2.17zM312.92 383.11h2.17v2.17h-2.17zM427.8 383.11h2.17v2.17h-2.17zM432.13 383.11h2.17v2.17h-2.17zM442.97 383.11h2.17v2.17h-2.17zM447.31 383.11h2.17v2.17h-2.17zM462.48 383.11h2.17v2.17h-2.17zM358.44 53.65h2.17v8.67h-2.17zM1114.89 53.65h2.17v8.67h-2.17zM1164.75 53.65h2.17v8.67h-2.17zM1179.92 53.65h2.17v8.67h-2.17zM1314.3 53.65h2.17v8.67h-2.17zM1390.17 53.65h2.17v8.67h-2.17zM1528.89 53.65h2.17v8.67h-2.17zM358.44 315.92h2.17v19.51h-2.17zM397.45 315.92h2.17v19.51h-2.17zM492.82 315.92h2.17v19.51h-2.17zM716.07 315.92h2.17v19.51h-2.17zM726.91 315.92h2.17v19.51h-2.17zM976.17 315.92h2.17v19.51h-2.17zM1015.19 315.92h2.17v19.51h-2.17zM1164.75 315.92h2.17v19.51h-2.17zM1175.59 315.92h2.17v19.51h-2.17zM1179.92 315.92h2.17v19.51h-2.17zM1190.76 315.92h2.17v19.51h-2.17zM382.28 263.9h2.17v17.34h-2.17zM657.55 263.9h2.17v17.34h-2.17zM397.45 211.88h2.17v10.84h-2.17zM1214.6 211.88h2.17v10.84h-2.17zM1429.18 211.88h2.17v10.84h-2.17zM1489.87 211.88h2.17v10.84h-2.17zM1574.4 211.88h2.17v10.84h-2.17zM442.97 166.36h2.17v4.34h-2.17zM891.64 166.36h2.17v4.34h-2.17zM941.49 166.36h2.17v4.34h-2.17zM1125.73 166.36h2.17v4.34h-2.17zM1190.76 166.36h2.17v4.34h-2.17zM1489.87 166.36h2.17v4.34h-2.17zM1563.57 166.36h2.17v4.34h-2.17zM442.97 222.72h2.17v2.17h-2.17zM776.76 222.72h2.17v2.17h-2.17zM915.48 222.72h2.17v2.17h-2.17zM941.49 222.72h2.17v2.17h-2.17zM965.34 222.72h2.17v2.17h-2.17zM1370.66 222.72h2.17v2.17h-2.17zM442.97 331.09h2.17v2.17h-2.17zM557.85 331.09h2.17v2.17h-2.17zM607.7 331.09h2.17v2.17h-2.17zM876.47 331.09h2.17v2.17h-2.17zM880.8 331.09h2.17v2.17h-2.17zM891.64 331.09h2.17v2.17h-2.17zM1364.16 331.09h2.17v2.17h-2.17zM1374.99 331.09h2.17v2.17h-2.17zM1379.33 331.09h2.17v2.17h-2.17zM1390.17 331.09h2.17v2.17h-2.17zM508 263.9h2.17v10.84h-2.17zM531.84 263.9h2.17v6.5h-2.17zM731.25 263.9h2.17v6.5h-2.17zM1240.61 263.9h2.17v6.5h-2.17zM1340.32 263.9h2.17v6.5h-2.17zM1574.4 263.9h2.17v6.5h-2.17zM1578.74 263.9h2.17v6.5h-2.17zM542.67 220.55h2.17v2.17h-2.17zM655.38 270.4h2.17v2.17h-2.17zM967.5 270.4h2.17v2.17h-2.17zM1238.44 270.4h2.17v2.17h-2.17zM1327.31 270.4h2.17v2.17h-2.17zM1338.15 270.4h2.17v2.17h-2.17zM1442.19 270.4h2.17v2.17h-2.17zM1453.02 270.4h2.17v2.17h-2.17zM666.22 365.77h2.17v21.68h-2.17zM681.39 365.77h2.17v21.68h-2.17zM692.23 365.77h2.17v21.68h-2.17zM677.06 363.61h2.17v23.84h-2.17zM713.91 60.16h2.17v2.17h-2.17zM1210.26 60.16h2.17v2.17h-2.17zM1294.8 60.16h4.34v2.17h-4.34zM1338.15 60.16h2.17v2.17h-2.17zM1409.67 60.16h2.17v2.17h-2.17zM1479.03 60.16h2.17v2.17h-2.17zM1522.38 60.16h2.17v2.17h-2.17zM1559.23 60.16h2.17v2.17h-2.17zM716.07 105.67h2.17v8.67h-2.17zM1374.99 105.67h2.17v8.67h-2.17zM841.79 57.99h2.17v4.34h-2.17zM1030.36 57.99h2.17v4.34h-2.17zM1075.88 57.99h2.17v4.34h-2.17zM1279.62 57.99h2.17v4.34h-2.17zM1429.18 57.99h2.17v4.34h-2.17zM865.63 272.57h2.17v8.67h-2.17zM926.32 166.36h2.17v2.17h-2.17zM976.17 166.36h2.17v2.17h-2.17zM991.35 53.65h2.17v2.17h-2.17zM1013.02 55.82h2.17v2.17h-2.17zM1075.88 159.86h2.17v8.67h-2.17zM1292.63 164.2h2.17v2.17h-2.17zM1440.02 53.65h2.17v6.5h-2.17zM1489.87 53.65h2.17v6.5h-2.17zM1585.24 227.05h2.17v2.17h-2.17z"/>
<path style="mix-blend-mode:plus-lighter" fill-opacity="0.5" d="M74.49 335.43h2.17v2.17h-2.17zM76.66 227.05h34.68v2.17h-34.68zM113.51 227.05h60.69v2.17h-60.69zM176.37 227.05h47.69v2.17h-47.69zM226.22 227.05h138.72v2.17h-138.72zM369.28 227.05h4.33v2.17h-4.33zM375.78 227.05h28.18v2.17h-28.18zM406.12 227.05h32.51v2.17h-32.51zM440.8 227.05h4.33v2.17h-4.33zM447.31 227.05h8.67v2.17h-8.67zM458.14 227.05h8.67v2.17h-8.67zM468.98 227.05h60.69v2.17h-60.69zM531.84 227.05h151.73v2.17h-151.73zM685.73 227.05h30.35v2.17h-30.35zM718.24 227.05h4.34v2.17h-4.34zM724.75 227.05h10.84v2.17h-10.84zM739.92 227.05h17.34v2.17h-17.34zM759.42 227.05h23.84v2.17h-23.84zM789.77 227.05h32.51v2.17h-32.51zM824.45 227.05h10.84v2.17h-10.84zM839.62 227.05h2.17v2.17h-2.17zM843.96 227.05h6.5v2.17h-6.5zM852.63 227.05h4.34v2.17h-4.34zM859.13 227.05h75.86v2.17h-75.86zM939.33 227.05h17.34v2.17h-17.34zM958.83 227.05h26.01v2.17h-26.01zM987.01 227.05h34.68v2.17h-34.68zM1023.86 227.05h13.01v2.17h-13.01zM1039.03 227.05h60.69v2.17h-60.69zM1101.89 227.05h4.34v2.17h-4.34zM1108.39 227.05h190.74v2.17h-190.74zM1301.3 227.05h60.69v2.17h-60.69zM1364.16 227.05h221.08v2.17h-221.08zM76.66 497.99h2.17v2.17h-2.17zM78.83 493.66h2.17v2.17h-2.17zM81 170.7h2.17v2.17h-2.17zM85.33 170.7h2.17v2.17h-2.17zM111.34 170.7h2.17v2.17h-2.17zM137.35 170.7h4.33v2.17h-4.33zM161.2 170.7h2.17v2.17h-2.17zM165.53 170.7h2.17v2.17h-2.17zM191.54 170.7h2.17v2.17h-2.17zM230.56 170.7h2.17v2.17h-2.17zM237.06 170.7h2.17v2.17h-2.17zM269.57 170.7h4.34v2.17h-4.34zM295.58 170.7h2.17v2.17h-2.17zM310.75 170.7h2.17v2.17h-2.17zM332.43 170.7h2.17v2.17h-2.17zM386.62 170.7h2.17v2.17h-2.17zM410.46 170.7h2.17v2.17h-2.17zM449.47 170.7h2.17v2.17h-2.17zM455.98 170.7h2.17v2.17h-2.17zM505.83 170.7h2.17v2.17h-2.17zM521 170.7h2.17v2.17h-2.17zM534 170.7h2.17v2.17h-2.17zM544.84 170.7h2.17v2.17h-2.17zM564.35 170.7h2.17v2.17h-2.17zM586.02 170.7h2.17v2.17h-2.17zM590.36 170.7h2.17v2.17h-2.17zM599.03 170.7h2.17v2.17h-2.17zM625.04 170.7h2.17v2.17h-2.17zM629.38 170.7h2.17v2.17h-2.17zM655.38 170.7h2.17v2.17h-2.17zM716.07 170.7h2.17v2.17h-2.17zM729.08 170.7h2.17v2.17h-2.17zM733.41 170.7h2.17v2.17h-2.17zM774.6 170.7h2.17v2.17h-2.17zM798.44 170.7h2.17v2.17h-2.17zM867.8 170.7h2.17v2.17h-2.17zM908.98 170.7h2.17v2.17h-2.17zM924.15 170.7h2.17v2.17h-2.17zM974.01 170.7h2.17v2.17h-2.17zM980.51 170.7h2.17v2.17h-2.17zM989.18 170.7h2.17v2.17h-2.17zM1008.69 170.7h2.17v2.17h-2.17zM1019.52 170.7h6.5v2.17h-6.5zM1032.53 170.7h6.5v2.17h-6.5zM1052.04 170.7h4.34v2.17h-4.34zM1069.38 170.7h2.17v2.17h-2.17zM1073.71 170.7h2.17v2.17h-2.17zM1084.55 170.7h2.17v2.17h-2.17zM1182.09 170.7h2.17v2.17h-2.17zM1208.1 170.7h2.17v2.17h-2.17zM1231.94 170.7h2.17v2.17h-2.17zM1257.95 170.7h2.17v2.17h-2.17zM1273.12 170.7h4.34v2.17h-4.34zM1335.98 170.7h2.17v2.17h-2.17zM1342.48 170.7h2.17v2.17h-2.17zM1357.65 170.7h2.17v2.17h-2.17zM1366.33 170.7h2.17v2.17h-2.17zM1383.66 170.7h2.17v2.17h-2.17zM1388 170.7h2.17v2.17h-2.17zM1396.67 170.7h2.17v2.17h-2.17zM1414.01 170.7h2.17v2.17h-2.17zM1422.68 170.7h2.17v2.17h-2.17zM1435.68 170.7h2.17v2.17h-2.17zM1487.7 170.7h2.17v2.17h-2.17zM1546.23 170.7h2.17v2.17h-2.17zM1557.07 170.7h2.17v2.17h-2.17zM83.16 363.61h2.17v2.17h-2.17zM143.86 363.61h2.17v2.17h-2.17zM726.91 363.61h2.17v2.17h-2.17zM731.25 363.61h2.17v2.17h-2.17zM742.08 363.61h2.17v2.17h-2.17zM826.62 363.61h2.17v2.17h-2.17zM830.95 363.61h2.17v2.17h-2.17zM841.79 363.61h2.17v2.17h-2.17zM926.32 363.61h2.17v2.17h-2.17zM930.66 363.61h2.17v2.17h-2.17zM941.49 363.61h2.17v2.17h-2.17zM991.35 363.61h2.17v2.17h-2.17zM87.5 116.51h4.33v2.17h-4.33zM102.67 116.51h4.33v2.17h-4.33zM109.17 116.51h2.17v2.17h-2.17zM115.68 116.51h2.17v2.17h-2.17zM139.52 116.51h4.34v2.17h-4.34zM213.22 116.51h4.34v2.17h-4.34zM224.05 116.51h4.34v2.17h-4.34zM250.06 116.51h4.34v2.17h-4.34zM273.91 116.51h2.17v2.17h-2.17zM306.42 116.51h2.17v2.17h-2.17zM312.92 116.51h4.33v2.17h-4.33zM325.93 116.51h4.33v2.17h-4.33zM343.26 116.51h4.34v2.17h-4.34zM354.1 116.51h2.17v2.17h-2.17zM360.61 116.51h4.33v2.17h-4.33zM382.28 116.51h2.17v2.17h-2.17zM403.95 116.51h2.17v2.17h-2.17zM408.29 116.51h2.17v2.17h-2.17zM419.13 116.51h2.17v2.17h-2.17zM436.47 116.51h4.33v2.17h-4.33zM447.31 116.51h4.33v2.17h-4.33zM455.98 116.51h2.17v2.17h-2.17zM503.66 116.51h2.17v2.17h-2.17zM516.66 116.51h4.34v2.17h-4.34zM527.5 116.51h4.34v2.17h-4.34zM547.01 116.51h2.17v2.17h-2.17zM553.51 116.51h2.17v2.17h-2.17zM609.87 116.51h2.17v2.17h-2.17zM620.7 116.51h2.17v2.17h-2.17zM694.4 116.51h2.17v2.17h-2.17zM705.24 116.51h2.17v2.17h-2.17zM729.08 116.51h4.34v2.17h-4.34zM739.92 116.51h4.34v2.17h-4.34zM752.92 116.51h2.17v2.17h-2.17zM798.44 116.51h2.17v2.17h-2.17zM815.78 116.51h4.33v2.17h-4.33zM824.45 116.51h4.34v2.17h-4.34zM835.29 116.51h2.17v2.17h-2.17zM898.14 116.51h2.17v2.17h-2.17zM902.48 116.51h2.17v2.17h-2.17zM952.33 116.51h2.17v2.17h-2.17zM956.67 116.51h2.17v2.17h-2.17zM974.01 116.51h2.17v2.17h-2.17zM982.68 116.51h4.34v2.17h-4.34zM995.68 116.51h2.17v2.17h-2.17zM1034.7 116.51h2.17v2.17h-2.17zM1069.38 116.51h4.33v2.17h-4.33zM1084.55 116.51h2.17v2.17h-2.17zM1136.57 116.51h2.17v2.17h-2.17zM1179.92 116.51h2.17v2.17h-2.17zM1190.76 116.51h2.17v2.17h-2.17zM1223.27 116.51h2.17v2.17h-2.17zM1240.61 116.51h2.17v2.17h-2.17zM1273.12 116.51h2.17v2.17h-2.17zM1279.62 116.51h2.17v2.17h-2.17zM1292.63 116.51h2.17v2.17h-2.17zM1316.47 116.51h2.17v2.17h-2.17zM1325.14 116.51h8.67v2.17h-8.67zM1344.65 116.51h2.17v2.17h-2.17zM1355.49 116.51h2.17v2.17h-2.17zM1381.5 116.51h2.17v2.17h-2.17zM1396.67 116.51h6.5v2.17h-6.5zM1416.18 116.51h2.17v2.17h-2.17zM1435.68 116.51h2.17v2.17h-2.17zM1470.37 116.51h2.17v2.17h-2.17zM1492.04 116.51h2.17v2.17h-2.17zM1505.04 116.51h2.17v2.17h-2.17zM1531.05 116.51h2.17v2.17h-2.17zM1539.72 116.51h2.17v2.17h-2.17zM1557.07 116.51h2.17v2.17h-2.17zM1565.73 116.51h2.17v2.17h-2.17zM1574.4 116.51h2.17v2.17h-2.17zM89.67 324.59h2.17v2.17h-2.17zM117.84 324.59h2.17v2.17h-2.17zM124.35 324.59h2.17v2.17h-2.17zM139.52 324.59h2.17v2.17h-2.17zM208.88 324.59h2.17v2.17h-2.17zM282.57 324.59h2.17v2.17h-2.17zM473.31 324.59h2.17v2.17h-2.17zM750.75 324.59h2.17v2.17h-2.17zM941.49 324.59h2.17v2.17h-2.17zM956.67 324.59h2.17v2.17h-2.17zM1240.61 324.59h2.17v2.17h-2.17zM1255.78 324.59h2.17v2.17h-2.17zM1270.95 324.59h2.17v2.17h-2.17zM1283.96 324.59h2.17v2.17h-2.17zM1299.13 324.59h2.17v2.17h-2.17zM1314.3 324.59h2.17v2.17h-2.17zM104.84 409.12h2.17v2.17h-2.17zM111.34 224.89h2.17v4.34h-2.17zM174.2 224.89h2.17v4.34h-2.17zM224.05 224.89h2.17v4.34h-2.17zM364.94 224.89h4.34v4.34h-4.34zM373.61 224.89h2.17v4.34h-2.17zM403.95 224.89h2.17v4.34h-2.17zM438.63 224.89h2.17v4.34h-2.17zM445.14 224.89h2.17v4.34h-2.17zM455.98 224.89h2.17v4.34h-2.17zM466.81 224.89h2.17v4.34h-2.17zM529.67 224.89h2.17v4.34h-2.17zM683.56 224.89h2.17v4.34h-2.17zM716.07 224.89h2.17v4.34h-2.17zM722.58 224.89h2.17v4.34h-2.17zM735.58 224.89h4.33v4.34h-4.33zM757.26 224.89h2.17v4.34h-2.17zM783.27 224.89h6.5v4.34h-6.5zM822.28 224.89h2.17v4.34h-2.17zM835.29 224.89h4.34v4.34h-4.34zM841.79 224.89h2.17v4.34h-2.17zM850.46 224.89h2.17v4.34h-2.17zM856.96 224.89h2.17v4.34h-2.17zM934.99 224.89h4.34v4.34h-4.34zM956.67 224.89h2.17v4.34h-2.17zM984.84 224.89h2.17v4.34h-2.17zM1021.69 224.89h2.17v4.34h-2.17zM1036.87 224.89h2.17v4.34h-2.17zM1099.72 224.89h2.17v4.34h-2.17zM1106.22 224.89h2.17v4.34h-2.17zM1299.13 224.89h2.17v4.34h-2.17zM1361.99 224.89h2.17v4.34h-2.17zM111.34 279.07h2.17v2.17h-2.17zM198.04 279.07h4.33v2.17h-4.33zM247.9 279.07h2.17v2.17h-2.17zM269.57 279.07h2.17v2.17h-2.17zM295.58 279.07h2.17v2.17h-2.17zM406.12 279.07h2.17v2.17h-2.17zM421.3 279.07h2.17v2.17h-2.17zM458.14 279.07h2.17v2.17h-2.17zM466.81 279.07h2.17v2.17h-2.17zM481.99 279.07h2.17v2.17h-2.17zM492.82 279.07h2.17v2.17h-2.17zM588.19 279.07h2.17v2.17h-2.17zM592.53 279.07h2.17v2.17h-2.17zM666.22 279.07h2.17v2.17h-2.17zM696.57 279.07h2.17v2.17h-2.17zM711.74 279.07h2.17v2.17h-2.17zM742.08 279.07h2.17v2.17h-2.17zM861.3 279.07h2.17v2.17h-2.17zM926.32 279.07h2.17v2.17h-2.17zM1095.39 279.07h2.17v2.17h-2.17zM1130.07 279.07h2.17v2.17h-2.17zM1175.59 279.07h2.17v2.17h-2.17zM1210.26 279.07h2.17v2.17h-2.17zM1225.44 279.07h2.17v2.17h-2.17zM1260.12 279.07h2.17v2.17h-2.17zM1359.82 279.07h2.17v2.17h-2.17zM1409.67 279.07h2.17v2.17h-2.17zM1424.85 279.07h2.17v2.17h-2.17zM1429.18 279.07h2.17v2.17h-2.17zM1474.7 279.07h2.17v2.17h-2.17zM1479.03 279.07h2.17v2.17h-2.17zM1544.06 279.07h2.17v2.17h-2.17zM111.34 313.75h2.17v2.17h-2.17zM137.35 313.75h2.17v2.17h-2.17zM204.55 313.75h2.17v2.17h-2.17zM221.89 313.75h2.17v2.17h-2.17zM237.06 313.75h2.17v2.17h-2.17zM250.06 313.75h2.17v2.17h-2.17zM254.4 313.75h2.17v2.17h-2.17zM271.74 313.75h2.17v2.17h-2.17zM341.1 313.75h2.17v2.17h-2.17zM354.1 313.75h2.17v2.17h-2.17zM421.3 313.75h2.17v2.17h-2.17zM486.32 313.75h4.34v2.17h-4.34zM494.99 313.75h2.17v2.17h-2.17zM521 313.75h2.17v2.17h-2.17zM529.67 313.75h2.17v2.17h-2.17zM640.21 313.75h2.17v2.17h-2.17zM648.88 313.75h2.17v2.17h-2.17zM655.38 313.75h2.17v2.17h-2.17zM705.24 313.75h2.17v2.17h-2.17zM713.91 313.75h2.17v2.17h-2.17zM720.41 313.75h2.17v2.17h-2.17zM729.08 313.75h2.17v2.17h-2.17zM969.67 313.75h2.17v2.17h-2.17zM978.34 313.75h2.17v2.17h-2.17zM982.68 313.75h2.17v2.17h-2.17zM989.18 313.75h2.17v2.17h-2.17zM997.85 313.75h2.17v2.17h-2.17zM1004.35 313.75h2.17v2.17h-2.17zM1013.02 313.75h2.17v2.17h-2.17zM1019.52 313.75h2.17v2.17h-2.17zM1147.41 313.75h2.17v2.17h-2.17zM1153.91 313.75h2.17v2.17h-2.17zM1162.58 313.75h2.17v2.17h-2.17zM1169.08 313.75h4.34v2.17h-4.34zM1177.75 313.75h2.17v2.17h-2.17zM1184.25 313.75h4.34v2.17h-4.34zM1192.92 313.75h2.17v2.17h-2.17zM1201.6 313.75h2.17v2.17h-2.17zM1208.1 313.75h2.17v2.17h-2.17zM1216.77 313.75h2.17v2.17h-2.17zM1223.27 313.75h2.17v2.17h-2.17zM113.51 112.18h2.17v4.33h-2.17zM163.36 112.18h2.17v4.33h-2.17zM377.94 112.18h2.17v4.33h-2.17zM462.48 112.18h2.17v4.33h-2.17zM512.33 112.18h2.17v4.33h-2.17zM711.74 112.18h2.17v4.33h-2.17zM796.27 112.18h2.17v4.33h-2.17zM1260.12 112.18h2.17v4.33h-2.17zM1394.5 112.18h2.17v4.33h-2.17zM1444.36 112.18h2.17v4.33h-2.17zM113.51 276.91h2.17v2.17h-2.17zM148.19 276.91h2.17v2.17h-2.17zM412.62 276.91h2.17v2.17h-2.17zM1559.23 276.91h2.17v2.17h-2.17zM113.51 428.63h2.17v15.17h-2.17zM128.68 53.65h2.17v6.5h-2.17zM263.07 53.65h2.17v6.5h-2.17zM711.74 53.65h2.17v6.5h-2.17zM1459.53 53.65h2.17v6.5h-2.17zM128.68 220.55h2.17v4.34h-2.17zM228.39 220.55h2.17v4.34h-2.17zM263.07 220.55h2.17v4.34h-2.17zM1110.56 220.55h2.17v4.34h-2.17zM1195.09 220.55h2.17v4.34h-2.17zM1294.8 220.55h2.17v4.34h-2.17zM1394.5 220.55h2.17v4.34h-2.17zM1494.21 220.55h2.17v4.34h-2.17zM128.68 326.76h2.17v8.67h-2.17zM178.53 326.76h2.17v8.67h-2.17zM362.77 326.76h2.17v8.67h-2.17zM427.8 326.76h2.17v8.67h-2.17zM477.65 326.76h2.17v8.67h-2.17zM627.21 326.76h2.17v8.67h-2.17zM746.42 326.76h2.17v8.67h-2.17zM945.83 326.76h2.17v8.67h-2.17zM961 326.76h2.17v8.67h-2.17zM1244.94 326.76h2.17v8.67h-2.17zM1260.12 326.76h2.17v8.67h-2.17zM1294.8 326.76h2.17v8.67h-2.17zM1309.97 326.76h2.17v8.67h-2.17zM128.68 437.3h2.17v6.5h-2.17zM135.19 385.28h2.17v2.17h-2.17zM312.92 385.28h2.17v2.17h-2.17zM328.09 385.28h2.17v2.17h-2.17zM349.77 385.28h2.17v2.17h-2.17zM406.12 385.28h2.17v2.17h-2.17zM414.79 385.28h2.17v2.17h-2.17zM427.8 385.28h2.17v2.17h-2.17zM462.48 385.28h2.17v2.17h-2.17zM477.65 385.28h2.17v2.17h-2.17zM152.53 218.38h4.34v2.17h-4.34zM202.38 218.38h2.17v2.17h-2.17zM237.06 218.38h2.17v2.17h-2.17zM354.1 218.38h2.17v2.17h-2.17zM386.62 218.38h2.17v2.17h-2.17zM451.64 218.38h2.17v2.17h-2.17zM635.88 218.38h2.17v2.17h-2.17zM703.07 218.38h2.17v2.17h-2.17zM770.26 218.38h4.34v2.17h-4.34zM872.13 218.38h2.17v2.17h-2.17zM1134.4 218.38h2.17v2.17h-2.17zM1171.25 218.38h2.17v2.17h-2.17zM1405.34 218.38h2.17v2.17h-2.17zM1520.22 218.38h2.17v2.17h-2.17zM163.36 53.65h2.17v8.67h-2.17zM213.22 53.65h2.17v8.67h-2.17zM278.24 53.65h2.17v8.67h-2.17zM612.03 53.65h2.17v8.67h-2.17zM846.12 53.65h2.17v8.67h-2.17zM1010.85 53.65h2.17v8.67h-2.17zM1045.53 53.65h2.17v8.67h-2.17zM1394.5 53.65h2.17v8.67h-2.17zM1444.36 53.65h2.17v8.67h-2.17zM163.36 378.78h2.17v8.67h-2.17zM278.24 378.78h2.17v8.67h-2.17zM512.33 378.78h2.17v8.67h-2.17zM527.5 378.78h2.17v8.67h-2.17zM562.18 378.78h2.17v8.67h-2.17zM577.35 378.78h2.17v8.67h-2.17zM596.86 378.78h2.17v8.67h-2.17zM612.03 378.78h2.17v8.67h-2.17zM627.21 378.78h2.17v8.67h-2.17zM646.71 378.78h2.17v8.67h-2.17zM167.7 383.11h2.17v2.17h-2.17zM323.76 383.11h2.17v2.17h-2.17zM338.93 383.11h2.17v2.17h-2.17zM351.94 383.11h2.17v2.17h-2.17zM416.96 383.11h2.17v2.17h-2.17zM458.14 383.11h2.17v2.17h-2.17zM473.31 383.11h2.17v2.17h-2.17zM486.32 383.11h4.34v2.17h-4.34zM174.2 55.82h2.17v2.17h-2.17zM700.9 55.82h2.17v2.17h-2.17zM991.35 55.82h2.17v2.17h-2.17zM1021.69 55.82h2.17v2.17h-2.17zM174.2 333.26h2.17v2.17h-2.17zM189.37 333.26h2.17v2.17h-2.17zM226.22 333.26h2.17v2.17h-2.17zM286.91 333.26h2.17v2.17h-2.17zM770.26 333.26h4.34v2.17h-4.34zM785.43 333.26h4.34v2.17h-4.34zM1405.34 333.26h2.17v2.17h-2.17zM1418.35 333.26h4.33v2.17h-4.33zM1433.52 333.26h4.34v2.17h-4.34zM178.53 222.72h2.17v2.17h-2.17zM377.94 222.72h2.17v2.17h-2.17zM447.31 222.72h2.17v2.17h-2.17zM477.65 222.72h2.17v2.17h-2.17zM542.67 222.72h2.17v2.17h-2.17zM646.71 222.72h2.17v2.17h-2.17zM711.74 222.72h2.17v2.17h-2.17zM726.91 222.72h2.17v2.17h-2.17zM911.15 222.72h2.17v2.17h-2.17zM1240.61 222.72h2.17v2.17h-2.17zM1489.87 222.72h2.17v2.17h-2.17zM1574.4 222.72h2.17v2.17h-2.17zM182.87 331.09h2.17v2.17h-2.17zM213.22 331.09h2.17v2.17h-2.17zM228.39 331.09h2.17v2.17h-2.17zM596.86 331.09h2.17v2.17h-2.17zM612.03 331.09h2.17v2.17h-2.17zM895.98 331.09h2.17v2.17h-2.17zM911.15 331.09h2.17v2.17h-2.17zM1344.65 331.09h2.17v2.17h-2.17zM1359.82 331.09h2.17v2.17h-2.17zM1394.5 331.09h2.17v2.17h-2.17zM1409.67 331.09h2.17v2.17h-2.17zM191.54 51.49h2.17v2.17h-2.17zM200.21 51.49h2.17v2.17h-2.17zM219.72 51.49h2.17v2.17h-2.17zM295.58 51.49h2.17v2.17h-2.17zM334.6 51.49h2.17v2.17h-2.17zM380.11 51.49h2.17v2.17h-2.17zM395.29 51.49h2.17v2.17h-2.17zM445.14 51.49h2.17v2.17h-2.17zM534 51.49h2.17v2.17h-2.17zM540.51 51.49h2.17v2.17h-2.17zM544.84 51.49h2.17v2.17h-2.17zM590.36 51.49h2.17v2.17h-2.17zM614.2 51.49h2.17v2.17h-2.17zM644.55 51.49h2.17v2.17h-2.17zM648.88 51.49h2.17v2.17h-2.17zM659.72 51.49h2.17v2.17h-2.17zM668.39 51.49h2.17v2.17h-2.17zM683.56 51.49h2.17v2.17h-2.17zM718.24 51.49h2.17v2.17h-2.17zM733.41 51.49h2.17v2.17h-2.17zM739.92 51.49h2.17v2.17h-2.17zM820.11 51.49h2.17v2.17h-2.17zM852.63 51.49h2.17v2.17h-2.17zM993.51 51.49h2.17v2.17h-2.17zM1002.18 51.49h2.17v2.17h-2.17zM1088.88 51.49h2.17v2.17h-2.17zM1104.06 51.49h2.17v2.17h-2.17zM1518.05 51.49h2.17v2.17h-2.17zM1550.56 51.49h2.17v2.17h-2.17zM1572.24 51.49h2.17v2.17h-2.17zM213.22 272.57h2.17v6.5h-2.17zM328.09 272.57h2.17v6.5h-2.17zM796.27 272.57h2.17v6.5h-2.17zM911.15 272.57h2.17v6.5h-2.17zM1244.94 272.57h2.17v6.5h-2.17zM1344.65 272.57h2.17v6.5h-2.17zM228.39 57.99h2.17v4.34h-2.17zM512.33 57.99h2.17v4.34h-2.17zM627.21 57.99h2.17v4.34h-2.17zM661.89 57.99h2.17v4.34h-2.17zM1095.39 57.99h2.17v4.34h-2.17zM1195.09 57.99h2.17v4.34h-2.17zM1509.38 57.99h2.17v4.34h-2.17zM228.39 159.86h2.17v10.84h-2.17zM278.24 159.86h2.17v10.84h-2.17zM412.62 159.86h2.17v10.84h-2.17zM477.65 159.86h2.17v10.84h-2.17zM1110.56 159.86h2.17v10.84h-2.17zM1195.09 159.86h2.17v10.84h-2.17zM1544.06 159.86h2.17v10.84h-2.17zM1559.23 159.86h2.17v10.84h-2.17zM228.39 263.9h2.17v6.5h-2.17zM577.35 263.9h2.17v6.5h-2.17zM961 263.9h2.17v6.5h-2.17zM263.07 263.9h2.17v17.34h-2.17zM263.07 365.77h2.17v23.84h-2.17zM711.74 365.77h2.17v23.84h-2.17zM761.59 365.77h2.17v23.84h-2.17zM796.27 365.77h2.17v23.84h-2.17zM811.44 365.77h2.17v23.84h-2.17zM861.3 365.77h2.17v23.84h-2.17zM895.98 365.77h2.17v23.84h-2.17zM911.15 365.77h2.17v23.84h-2.17zM961 365.77h2.17v23.84h-2.17zM1010.85 365.77h2.17v23.84h-2.17zM273.91 387.45h2.17v2.17h-2.17zM302.08 387.45h2.17v2.17h-2.17zM523.17 387.45h2.17v2.17h-2.17zM551.34 387.45h2.17v2.17h-2.17zM566.52 387.45h2.17v2.17h-2.17zM581.69 387.45h2.17v2.17h-2.17zM592.53 387.45h2.17v2.17h-2.17zM607.7 387.45h2.17v2.17h-2.17zM622.87 387.45h2.17v2.17h-2.17zM651.05 387.45h2.17v2.17h-2.17zM666.22 387.45h2.17v2.17h-2.17zM681.39 387.45h2.17v2.17h-2.17zM692.23 387.45h2.17v2.17h-2.17zM278.24 211.88h2.17v13h-2.17zM427.8 211.88h2.17v13h-2.17zM612.03 211.88h2.17v13h-2.17zM746.42 211.88h2.17v13h-2.17zM796.27 211.88h2.17v13h-2.17zM846.12 211.88h2.17v13h-2.17zM861.3 211.88h2.17v13h-2.17zM995.68 211.88h2.17v13h-2.17zM1010.85 211.88h2.17v13h-2.17zM1095.39 211.88h2.17v13h-2.17zM1559.23 211.88h2.17v13h-2.17zM278.24 263.9h2.17v15.17h-2.17zM377.94 263.9h2.17v15.17h-2.17zM596.86 263.9h2.17v15.17h-2.17zM278.24 315.92h2.17v19.51h-2.17zM312.92 315.92h2.17v19.51h-2.17zM527.5 315.92h2.17v19.51h-2.17zM646.71 315.92h2.17v19.51h-2.17zM711.74 315.92h2.17v19.51h-2.17zM995.68 315.92h2.17v19.51h-2.17zM1010.85 315.92h2.17v19.51h-2.17zM1160.41 315.92h2.17v19.51h-2.17zM1195.09 315.92h2.17v19.51h-2.17zM1210.26 315.92h2.17v19.51h-2.17zM282.57 376.61h2.17v2.17h-2.17zM308.59 376.61h2.17v2.17h-2.17zM501.49 376.61h2.17v2.17h-2.17zM516.66 376.61h2.17v2.17h-2.17zM531.84 376.61h2.17v2.17h-2.17zM542.67 376.61h2.17v2.17h-2.17zM557.85 376.61h2.17v2.17h-2.17zM573.02 376.61h2.17v2.17h-2.17zM601.2 376.61h2.17v2.17h-2.17zM616.37 376.61h2.17v2.17h-2.17zM631.54 376.61h2.17v2.17h-2.17zM642.38 376.61h2.17v2.17h-2.17zM302.08 114.34h2.17v2.17h-2.17zM393.12 114.34h2.17v2.17h-2.17zM427.8 114.34h2.17v2.17h-2.17zM497.16 114.34h2.17v2.17h-2.17zM566.52 114.34h2.17v2.17h-2.17zM631.54 114.34h2.17v2.17h-2.17zM635.88 114.34h2.17v2.17h-2.17zM716.07 114.34h2.17v2.17h-2.17zM781.1 114.34h2.17v2.17h-2.17zM930.66 114.34h2.17v2.17h-2.17zM1091.05 114.34h2.17v2.17h-2.17zM1106.22 114.34h2.17v2.17h-2.17zM1160.41 114.34h2.17v2.17h-2.17zM1275.29 114.34h2.17v2.17h-2.17zM1483.37 114.34h2.17v2.17h-2.17zM1513.71 114.34h2.17v2.17h-2.17zM1528.89 114.34h2.17v2.17h-2.17zM1548.39 114.34h2.17v2.17h-2.17zM343.26 168.53h2.17v2.17h-2.17zM492.82 168.53h2.17v2.17h-2.17zM581.69 168.53h2.17v2.17h-2.17zM696.57 168.53h2.17v2.17h-2.17zM826.62 168.53h2.17v2.17h-2.17zM976.17 168.53h2.17v2.17h-2.17zM1041.2 168.53h2.17v2.17h-2.17zM1075.88 168.53h2.17v2.17h-2.17zM1160.41 168.53h2.17v2.17h-2.17zM1175.59 168.53h2.17v2.17h-2.17zM1574.4 168.53h2.17v2.17h-2.17zM362.77 211.88h2.17v6.5h-2.17zM377.94 60.16h2.17v2.17h-2.17zM408.29 60.16h2.17v2.17h-2.17zM601.2 60.16h2.17v2.17h-2.17zM937.16 60.16h2.17v2.17h-2.17zM1032.53 60.16h2.17v2.17h-2.17zM1086.72 60.16h2.17v2.17h-2.17zM1182.09 60.16h2.17v2.17h-2.17zM1268.79 60.16h2.17v2.17h-2.17zM1379.33 60.16h2.17v2.17h-2.17zM1411.84 60.16h2.17v2.17h-2.17zM1463.86 60.16h2.17v2.17h-2.17zM1535.39 60.16h2.17v2.17h-2.17zM412.62 105.67h2.17v10.84h-2.17zM1145.24 105.67h2.17v10.84h-2.17zM1409.67 105.67h2.17v10.84h-2.17zM1559.23 105.67h2.17v10.84h-2.17zM412.62 220.55h2.17v2.17h-2.17zM562.18 220.55h2.17v2.17h-2.17zM1359.82 220.55h2.17v2.17h-2.17zM427.8 272.57h2.17v8.67h-2.17zM612.03 272.57h2.17v8.67h-2.17zM1145.24 272.57h2.17v8.67h-2.17zM1160.41 272.57h2.17v8.67h-2.17zM1459.53 272.57h2.17v8.67h-2.17zM462.48 53.65h2.17v2.17h-2.17zM477.65 53.65h2.17v2.17h-2.17zM1260.12 53.65h2.17v2.17h-2.17zM508 274.74h2.17v2.17h-2.17zM512.33 166.36h2.17v4.34h-2.17zM746.42 166.36h2.17v4.34h-2.17zM846.12 166.36h2.17v4.34h-2.17zM1494.21 166.36h2.17v4.34h-2.17zM527.5 211.88h2.17v10.84h-2.17zM1045.53 211.88h2.17v10.84h-2.17zM542.67 164.2h2.17v2.17h-2.17zM726.91 164.2h2.17v2.17h-2.17zM794.1 164.2h2.17v2.17h-2.17zM876.47 164.2h2.17v2.17h-2.17zM902.48 164.2h2.17v2.17h-2.17zM1045.53 164.2h2.17v2.17h-2.17zM1288.29 164.2h2.17v2.17h-2.17zM1327.31 164.2h2.17v2.17h-2.17zM594.69 110.01h2.17v2.17h-2.17zM670.56 110.01h2.17v2.17h-2.17zM1054.2 110.01h2.17v2.17h-2.17zM596.86 57.99h2.17v2.17h-2.17zM1110.56 57.99h2.17v2.17h-2.17zM596.86 105.67h2.17v4.34h-2.17zM661.89 365.77h2.17v21.68h-2.17zM696.57 365.77h2.17v21.68h-2.17zM746.42 363.61h2.17v26.01h-2.17zM846.12 363.61h2.17v26.01h-2.17zM945.83 363.61h2.17v26.01h-2.17zM995.68 363.61h2.17v26.01h-2.17zM761.59 331.09h2.17v4.34h-2.17zM846.12 105.67h2.17v8.67h-2.17zM1244.94 105.67h2.17v8.67h-2.17zM911.15 159.86h2.17v8.67h-2.17zM1010.85 159.86h2.17v8.67h-2.17zM1359.82 159.86h2.17v8.67h-2.17zM1010.85 276.91h2.17v4.34h-2.17zM1309.97 276.91h2.17v4.34h-2.17zM1149.58 270.4h2.17v2.17h-2.17zM1156.08 270.4h2.17v2.17h-2.17zM1340.32 270.4h2.17v2.17h-2.17zM1455.19 270.4h2.17v2.17h-2.17zM1210.26 166.36h2.17v2.17h-2.17z"/>
<path style="mix-blend-mode:plus-lighter" fill-opacity="0.56" d="M74.49 363.61h2.17v2.17h-2.17zM202.38 363.61h2.17v2.17h-2.17zM267.4 363.61h2.17v2.17h-2.17zM672.72 363.61h2.17v2.17h-2.17zM700.9 363.61h2.17v2.17h-2.17zM757.26 363.61h2.17v2.17h-2.17zM772.43 363.61h2.17v2.17h-2.17zM785.43 363.61h2.17v2.17h-2.17zM800.61 363.61h2.17v2.17h-2.17zM856.96 363.61h2.17v2.17h-2.17zM872.13 363.61h2.17v2.17h-2.17zM885.14 363.61h2.17v2.17h-2.17zM900.31 363.61h2.17v2.17h-2.17zM956.67 363.61h2.17v2.17h-2.17zM971.84 363.61h2.17v2.17h-2.17zM1006.52 363.61h2.17v2.17h-2.17zM74.49 389.62h2.17v2.17h-2.17zM1585.24 389.62h2.17v2.17h-2.17zM76.66 170.7h2.17v2.17h-2.17zM83.16 170.7h2.17v2.17h-2.17zM133.02 170.7h2.17v2.17h-2.17zM182.87 170.7h2.17v2.17h-2.17zM202.38 170.7h4.34v2.17h-4.34zM219.72 170.7h2.17v2.17h-2.17zM252.23 170.7h2.17v2.17h-2.17zM263.07 170.7h2.17v2.17h-2.17zM267.4 170.7h2.17v2.17h-2.17zM351.94 170.7h4.33v2.17h-4.33zM358.44 170.7h2.17v2.17h-2.17zM362.77 170.7h2.17v2.17h-2.17zM380.11 170.7h2.17v2.17h-2.17zM390.95 170.7h2.17v2.17h-2.17zM401.79 170.7h2.17v2.17h-2.17zM408.29 170.7h2.17v2.17h-2.17zM486.32 170.7h4.34v2.17h-4.34zM501.49 170.7h2.17v2.17h-2.17zM518.83 170.7h2.17v2.17h-2.17zM536.17 170.7h2.17v2.17h-2.17zM566.52 170.7h2.17v2.17h-2.17zM601.2 170.7h2.17v2.17h-2.17zM651.05 170.7h2.17v2.17h-2.17zM668.39 170.7h2.17v2.17h-2.17zM724.75 170.7h2.17v2.17h-2.17zM772.43 170.7h2.17v2.17h-2.17zM787.6 170.7h2.17v2.17h-2.17zM859.13 170.7h4.33v2.17h-4.33zM874.3 170.7h2.17v2.17h-2.17zM921.99 170.7h2.17v2.17h-2.17zM971.84 170.7h2.17v2.17h-2.17zM978.34 170.7h2.17v2.17h-2.17zM1006.52 170.7h2.17v2.17h-2.17zM1043.37 170.7h2.17v2.17h-2.17zM1047.7 170.7h2.17v2.17h-2.17zM1078.05 170.7h2.17v2.17h-2.17zM1104.06 170.7h2.17v2.17h-2.17zM1184.25 170.7h2.17v2.17h-2.17zM1253.62 170.7h2.17v2.17h-2.17zM1260.12 170.7h2.17v2.17h-2.17zM1279.62 170.7h2.17v2.17h-2.17zM1283.96 170.7h2.17v2.17h-2.17zM1296.96 170.7h2.17v2.17h-2.17zM1303.47 170.7h2.17v2.17h-2.17zM1312.14 170.7h2.17v2.17h-2.17zM1318.64 170.7h4.34v2.17h-4.34zM1331.64 170.7h2.17v2.17h-2.17zM1340.32 170.7h2.17v2.17h-2.17zM1374.99 170.7h4.34v2.17h-4.34zM1401 170.7h4.34v2.17h-4.34zM1418.35 170.7h2.17v2.17h-2.17zM1485.54 170.7h2.17v2.17h-2.17zM76.66 550.01h2.17v2.17h-2.17zM78.83 439.47h2.17v2.17h-2.17zM78.83 495.82h2.17v2.17h-2.17zM81 218.38h2.17v2.17h-2.17zM85.33 218.38h2.17v2.17h-2.17zM120.01 218.38h2.17v2.17h-2.17zM141.69 218.38h2.17v2.17h-2.17zM172.03 218.38h2.17v2.17h-2.17zM234.89 218.38h2.17v2.17h-2.17zM325.93 218.38h2.17v2.17h-2.17zM334.6 218.38h2.17v2.17h-2.17zM349.77 218.38h2.17v2.17h-2.17zM406.12 218.38h2.17v2.17h-2.17zM410.46 218.38h2.17v2.17h-2.17zM544.84 218.38h2.17v2.17h-2.17zM555.68 218.38h2.17v2.17h-2.17zM579.52 218.38h2.17v2.17h-2.17zM655.38 218.38h2.17v2.17h-2.17zM664.05 218.38h2.17v2.17h-2.17zM1002.18 218.38h2.17v2.17h-2.17zM1288.29 218.38h2.17v2.17h-2.17zM1346.82 218.38h2.17v2.17h-2.17zM1442.19 218.38h2.17v2.17h-2.17zM1531.05 218.38h2.17v2.17h-2.17zM83.16 224.89h2.17v2.17h-2.17zM91.83 224.89h2.17v2.17h-2.17zM100.5 224.89h2.17v2.17h-2.17zM128.68 224.89h2.17v2.17h-2.17zM133.02 224.89h2.17v2.17h-2.17zM148.19 224.89h2.17v2.17h-2.17zM156.86 224.89h2.17v2.17h-2.17zM215.38 224.89h2.17v2.17h-2.17zM247.9 224.89h2.17v2.17h-2.17zM282.57 224.89h2.17v2.17h-2.17zM460.31 224.89h2.17v2.17h-2.17zM471.15 224.89h2.17v2.17h-2.17zM481.99 224.89h2.17v2.17h-2.17zM492.82 224.89h2.17v2.17h-2.17zM618.54 224.89h2.17v2.17h-2.17zM625.04 224.89h2.17v2.17h-2.17zM642.38 224.89h2.17v2.17h-2.17zM746.42 224.89h2.17v2.17h-2.17zM765.93 224.89h2.17v2.17h-2.17zM776.76 224.89h2.17v2.17h-2.17zM815.78 224.89h2.17v2.17h-2.17zM830.95 224.89h2.17v2.17h-2.17zM846.12 224.89h2.17v2.17h-2.17zM913.32 224.89h2.17v2.17h-2.17zM939.33 224.89h4.33v2.17h-4.33zM965.34 224.89h4.33v2.17h-4.33zM980.51 224.89h2.17v2.17h-2.17zM995.68 224.89h2.17v2.17h-2.17zM1010.85 224.89h2.17v2.17h-2.17zM1082.38 224.89h2.17v2.17h-2.17zM1088.88 224.89h2.17v2.17h-2.17zM1095.39 224.89h2.17v2.17h-2.17zM1260.12 224.89h2.17v2.17h-2.17zM1314.3 224.89h2.17v2.17h-2.17zM1407.51 224.89h2.17v2.17h-2.17zM1414.01 224.89h2.17v2.17h-2.17zM1487.7 224.89h2.17v2.17h-2.17zM1522.38 224.89h2.17v2.17h-2.17zM1557.07 224.89h2.17v2.17h-2.17zM1572.24 224.89h2.17v2.17h-2.17zM83.16 272.57h2.17v6.5h-2.17zM98.34 272.57h2.17v6.5h-2.17zM133.02 272.57h2.17v6.5h-2.17zM293.41 272.57h2.17v6.5h-2.17zM765.93 272.57h2.17v6.5h-2.17zM83.16 333.26h2.17v2.17h-2.17zM263.07 333.26h2.17v2.17h-2.17zM267.4 333.26h2.17v2.17h-2.17zM293.41 333.26h2.17v2.17h-2.17zM325.93 333.26h2.17v2.17h-2.17zM377.94 333.26h2.17v2.17h-2.17zM442.97 333.26h2.17v2.17h-2.17zM453.81 333.26h2.17v2.17h-2.17zM466.81 333.26h2.17v2.17h-2.17zM557.85 333.26h2.17v2.17h-2.17zM577.35 333.26h4.34v2.17h-4.34zM596.86 333.26h2.17v2.17h-2.17zM607.7 333.26h2.17v2.17h-2.17zM828.78 333.26h4.33v2.17h-4.33zM876.47 333.26h2.17v2.17h-2.17zM880.8 333.26h2.17v2.17h-2.17zM891.64 333.26h2.17v2.17h-2.17zM906.81 333.26h2.17v2.17h-2.17zM1348.98 333.26h2.17v2.17h-2.17zM1364.16 333.26h2.17v2.17h-2.17zM1374.99 333.26h2.17v2.17h-2.17zM1379.33 333.26h2.17v2.17h-2.17zM1390.17 333.26h2.17v2.17h-2.17zM1448.69 333.26h2.17v2.17h-2.17zM1572.24 333.26h13v2.17h-13zM83.16 365.77h2.17v19.51h-2.17zM85.33 497.99h2.17v2.17h-2.17zM87.5 383.11h2.17v2.17h-2.17zM169.87 383.11h2.17v2.17h-2.17zM180.7 383.11h2.17v2.17h-2.17zM315.09 383.11h2.17v2.17h-2.17zM321.59 383.11h2.17v2.17h-2.17zM330.26 383.11h2.17v2.17h-2.17zM336.76 383.11h2.17v2.17h-2.17zM345.43 383.11h2.17v2.17h-2.17zM403.95 383.11h2.17v2.17h-2.17zM410.46 383.11h2.17v2.17h-2.17zM419.13 383.11h2.17v2.17h-2.17zM425.63 383.11h2.17v2.17h-2.17zM434.3 383.11h2.17v2.17h-2.17zM440.8 383.11h2.17v2.17h-2.17zM449.47 383.11h2.17v2.17h-2.17zM455.98 383.11h2.17v2.17h-2.17zM464.64 383.11h2.17v2.17h-2.17zM471.15 383.11h2.17v2.17h-2.17zM479.82 383.11h2.17v2.17h-2.17zM494.99 383.11h2.17v2.17h-2.17zM91.83 51.49h2.17v2.17h-2.17zM96.17 279.07h2.17v2.17h-2.17zM139.52 279.07h2.17v2.17h-2.17zM174.2 279.07h2.17v2.17h-2.17zM213.22 279.07h2.17v2.17h-2.17zM243.56 279.07h2.17v2.17h-2.17zM256.56 279.07h2.17v2.17h-2.17zM278.24 279.07h2.17v2.17h-2.17zM286.91 279.07h2.17v2.17h-2.17zM351.94 279.07h2.17v2.17h-2.17zM373.61 279.07h2.17v2.17h-2.17zM412.62 279.07h2.17v2.17h-2.17zM542.67 279.07h2.17v2.17h-2.17zM596.86 279.07h2.17v2.17h-2.17zM627.21 279.07h2.17v2.17h-2.17zM661.89 279.07h2.17v2.17h-2.17zM796.27 279.07h2.17v2.17h-2.17zM880.8 279.07h2.17v2.17h-2.17zM911.15 279.07h2.17v2.17h-2.17zM976.17 279.07h2.17v2.17h-2.17zM1060.71 279.07h2.17v2.17h-2.17zM1244.94 279.07h2.17v2.17h-2.17zM1344.65 279.07h2.17v2.17h-2.17zM1559.23 279.07h2.17v2.17h-2.17zM111.34 116.51h2.17v2.17h-2.17zM234.89 116.51h2.17v2.17h-2.17zM280.41 116.51h2.17v2.17h-2.17zM295.58 116.51h2.17v2.17h-2.17zM323.76 116.51h2.17v2.17h-2.17zM358.44 116.51h2.17v2.17h-2.17zM369.28 116.51h2.17v2.17h-2.17zM386.62 116.51h2.17v2.17h-2.17zM423.46 116.51h2.17v2.17h-2.17zM460.31 116.51h2.17v2.17h-2.17zM466.81 116.51h2.17v2.17h-2.17zM479.82 116.51h2.17v2.17h-2.17zM488.49 116.51h2.17v2.17h-2.17zM555.68 116.51h2.17v2.17h-2.17zM659.72 116.51h4.34v2.17h-4.34zM709.57 116.51h2.17v2.17h-2.17zM726.91 116.51h2.17v2.17h-2.17zM746.42 116.51h4.34v2.17h-4.34zM755.09 116.51h2.17v2.17h-2.17zM768.09 116.51h2.17v2.17h-2.17zM789.77 116.51h2.17v2.17h-2.17zM794.1 116.51h2.17v2.17h-2.17zM807.11 116.51h2.17v2.17h-2.17zM867.8 116.51h2.17v2.17h-2.17zM887.31 116.51h2.17v2.17h-2.17zM967.5 116.51h2.17v2.17h-2.17zM978.34 116.51h4.33v2.17h-4.33zM1019.52 116.51h2.17v2.17h-2.17zM1043.37 116.51h2.17v2.17h-2.17zM1058.54 116.51h4.34v2.17h-4.34zM1075.88 116.51h4.34v2.17h-4.34zM1097.55 116.51h2.17v2.17h-2.17zM1108.39 116.51h2.17v2.17h-2.17zM1147.41 116.51h2.17v2.17h-2.17zM1162.58 116.51h2.17v2.17h-2.17zM1251.45 116.51h2.17v2.17h-2.17zM1262.28 116.51h2.17v2.17h-2.17zM1294.8 116.51h2.17v2.17h-2.17zM1340.32 116.51h2.17v2.17h-2.17zM1366.33 116.51h2.17v2.17h-2.17zM1377.16 116.51h4.34v2.17h-4.34zM1388 116.51h2.17v2.17h-2.17zM1414.01 116.51h2.17v2.17h-2.17zM1442.19 116.51h2.17v2.17h-2.17zM1552.73 116.51h4.34v2.17h-4.34zM115.68 376.61h2.17v2.17h-2.17zM120.01 376.61h2.17v2.17h-2.17zM130.85 376.61h2.17v2.17h-2.17zM141.69 376.61h2.17v2.17h-2.17zM187.21 376.61h4.34v2.17h-4.34zM284.74 376.61h2.17v2.17h-2.17zM291.25 376.61h2.17v2.17h-2.17zM299.92 376.61h2.17v2.17h-2.17zM306.42 376.61h2.17v2.17h-2.17zM503.66 376.61h2.17v2.17h-2.17zM510.16 376.61h2.17v2.17h-2.17zM518.83 376.61h2.17v2.17h-2.17zM525.33 376.61h2.17v2.17h-2.17zM534 376.61h2.17v2.17h-2.17zM540.51 376.61h2.17v2.17h-2.17zM549.18 376.61h2.17v2.17h-2.17zM555.68 376.61h2.17v2.17h-2.17zM564.35 376.61h2.17v2.17h-2.17zM570.85 376.61h2.17v2.17h-2.17zM579.52 376.61h2.17v2.17h-2.17zM586.02 376.61h4.33v2.17h-4.33zM594.69 376.61h2.17v2.17h-2.17zM603.36 376.61h2.17v2.17h-2.17zM609.87 376.61h2.17v2.17h-2.17zM618.54 376.61h2.17v2.17h-2.17zM625.04 376.61h2.17v2.17h-2.17zM633.71 376.61h2.17v2.17h-2.17zM640.21 376.61h2.17v2.17h-2.17zM648.88 376.61h2.17v2.17h-2.17zM655.38 376.61h2.17v2.17h-2.17zM117.84 168.53h2.17v2.17h-2.17zM124.35 168.53h2.17v2.17h-2.17zM239.23 168.53h2.17v2.17h-2.17zM377.94 168.53h2.17v2.17h-2.17zM750.75 168.53h2.17v2.17h-2.17zM835.29 168.53h2.17v2.17h-2.17zM872.13 168.53h2.17v2.17h-2.17zM911.15 168.53h2.17v2.17h-2.17zM926.32 168.53h2.17v2.17h-2.17zM950.16 168.53h2.17v2.17h-2.17zM1015.19 168.53h2.17v2.17h-2.17zM1056.37 168.53h2.17v2.17h-2.17zM1210.26 168.53h2.17v2.17h-2.17zM1370.66 168.53h2.17v2.17h-2.17zM1448.69 168.53h2.17v2.17h-2.17zM1470.37 168.53h2.17v2.17h-2.17zM1570.07 168.53h2.17v2.17h-2.17zM122.18 324.59h2.17v2.17h-2.17zM315.09 324.59h2.17v2.17h-2.17zM360.61 324.59h2.17v2.17h-2.17zM395.29 324.59h2.17v2.17h-2.17zM429.97 324.59h2.17v2.17h-2.17zM479.82 324.59h2.17v2.17h-2.17zM536.17 324.59h4.34v2.17h-4.34zM544.84 324.59h2.17v2.17h-2.17zM618.54 324.59h2.17v2.17h-2.17zM625.04 324.59h2.17v2.17h-2.17zM633.71 324.59h2.17v2.17h-2.17zM735.58 324.59h4.33v2.17h-4.33zM744.25 324.59h2.17v2.17h-2.17zM752.92 324.59h2.17v2.17h-2.17zM759.42 324.59h2.17v2.17h-2.17zM917.65 324.59h2.17v2.17h-2.17zM924.15 324.59h2.17v2.17h-2.17zM932.82 324.59h2.17v2.17h-2.17zM939.33 324.59h2.17v2.17h-2.17zM948 324.59h2.17v2.17h-2.17zM954.5 324.59h2.17v2.17h-2.17zM963.17 324.59h2.17v2.17h-2.17zM1231.94 324.59h2.17v2.17h-2.17zM1238.44 324.59h2.17v2.17h-2.17zM1247.11 324.59h2.17v2.17h-2.17zM1253.62 324.59h2.17v2.17h-2.17zM1262.28 324.59h2.17v2.17h-2.17zM1268.79 324.59h2.17v2.17h-2.17zM1277.46 324.59h2.17v2.17h-2.17zM1286.13 324.59h2.17v2.17h-2.17zM1292.63 324.59h2.17v2.17h-2.17zM1301.3 324.59h2.17v2.17h-2.17zM1307.8 324.59h2.17v2.17h-2.17zM1316.47 324.59h2.17v2.17h-2.17zM1322.97 324.59h2.17v2.17h-2.17zM133.02 60.16h2.17v2.17h-2.17zM224.05 60.16h2.17v2.17h-2.17zM252.23 60.16h2.17v2.17h-2.17zM267.4 60.16h2.17v2.17h-2.17zM289.08 60.16h2.17v2.17h-2.17zM367.11 60.16h2.17v2.17h-2.17zM416.96 60.16h2.17v2.17h-2.17zM523.17 60.16h2.17v2.17h-2.17zM750.75 60.16h2.17v2.17h-2.17zM807.11 60.16h2.17v2.17h-2.17zM956.67 60.16h2.17v2.17h-2.17zM1249.28 60.16h2.17v2.17h-2.17zM1440.02 60.16h2.17v2.17h-2.17zM1468.2 60.16h2.17v2.17h-2.17zM1489.87 60.16h2.17v2.17h-2.17zM1524.55 60.16h2.17v2.17h-2.17zM137.35 114.34h2.17v2.17h-2.17zM193.71 114.34h2.17v2.17h-2.17zM198.04 114.34h2.17v2.17h-2.17zM243.56 114.34h2.17v2.17h-2.17zM397.45 114.34h2.17v2.17h-2.17zM1130.07 114.34h2.17v2.17h-2.17zM1210.26 114.34h2.17v2.17h-2.17zM1234.11 114.34h2.17v2.17h-2.17zM1268.79 114.34h2.17v2.17h-2.17zM1374.99 114.34h2.17v2.17h-2.17zM1468.2 114.34h2.17v2.17h-2.17zM1567.9 114.34h2.17v2.17h-2.17zM143.86 105.67h2.17v10.84h-2.17zM232.72 105.67h2.17v10.84h-2.17zM247.9 105.67h2.17v10.84h-2.17zM308.59 105.67h2.17v10.84h-2.17zM666.22 105.67h2.17v10.84h-2.17zM865.63 105.67h2.17v10.84h-2.17zM941.49 105.67h2.17v10.84h-2.17zM976.17 105.67h2.17v10.84h-2.17zM1364.16 105.67h2.17v10.84h-2.17zM1463.86 105.67h2.17v10.84h-2.17zM143.86 365.77h2.17v23.84h-2.17zM726.91 365.77h2.17v23.84h-2.17zM731.25 365.77h2.17v23.84h-2.17zM742.08 365.77h2.17v23.84h-2.17zM826.62 365.77h2.17v23.84h-2.17zM830.95 365.77h2.17v23.84h-2.17zM841.79 365.77h2.17v23.84h-2.17zM926.32 365.77h2.17v23.84h-2.17zM930.66 365.77h2.17v23.84h-2.17zM941.49 365.77h2.17v23.84h-2.17zM991.35 365.77h2.17v23.84h-2.17zM163.36 387.45h2.17v2.17h-2.17zM193.71 387.45h2.17v2.17h-2.17zM562.18 387.45h2.17v2.17h-2.17zM577.35 387.45h2.17v2.17h-2.17zM596.86 387.45h2.17v2.17h-2.17zM612.03 387.45h2.17v2.17h-2.17zM661.89 387.45h2.17v2.17h-2.17zM677.06 387.45h2.17v2.17h-2.17zM696.57 387.45h2.17v2.17h-2.17zM165.53 313.75h2.17v2.17h-2.17zM182.87 276.91h2.17v2.17h-2.17zM232.72 276.91h2.17v2.17h-2.17zM343.26 276.91h2.17v2.17h-2.17zM358.44 276.91h2.17v2.17h-2.17zM707.4 276.91h2.17v2.17h-2.17zM198.04 315.92h2.17v19.51h-2.17zM232.72 315.92h2.17v19.51h-2.17zM343.26 315.92h2.17v19.51h-2.17zM642.38 315.92h2.17v19.51h-2.17zM707.4 315.92h2.17v19.51h-2.17zM991.35 315.92h2.17v19.51h-2.17zM1214.6 315.92h2.17v19.51h-2.17zM1225.44 315.92h2.17v19.51h-2.17zM208.88 326.76h2.17v8.67h-2.17zM247.9 326.76h2.17v8.67h-2.17zM282.57 326.76h2.17v8.67h-2.17zM631.54 326.76h2.17v8.67h-2.17zM926.32 326.76h2.17v8.67h-2.17zM930.66 326.76h2.17v8.67h-2.17zM941.49 326.76h2.17v8.67h-2.17zM1229.77 326.76h2.17v8.67h-2.17zM1240.61 326.76h2.17v8.67h-2.17zM1314.3 326.76h2.17v8.67h-2.17zM228.39 270.4h2.17v2.17h-2.17zM531.84 270.4h2.17v2.17h-2.17zM731.25 270.4h2.17v2.17h-2.17zM1240.61 270.4h2.17v2.17h-2.17zM1574.4 270.4h2.17v2.17h-2.17zM1578.74 270.4h2.17v2.17h-2.17zM247.9 166.36h2.17v4.34h-2.17zM282.57 166.36h2.17v4.34h-2.17zM497.16 166.36h2.17v4.34h-2.17zM765.93 166.36h2.17v4.34h-2.17zM815.78 166.36h2.17v4.34h-2.17zM930.66 166.36h2.17v4.34h-2.17zM1229.77 166.36h2.17v4.34h-2.17zM258.73 263.9h2.17v15.17h-2.17zM282.57 263.9h2.17v15.17h-2.17zM280.41 164.2h2.17v2.17h-2.17zM1322.97 164.2h2.17v2.17h-2.17zM282.57 378.78h2.17v8.67h-2.17zM293.41 378.78h2.17v8.67h-2.17zM297.75 378.78h2.17v8.67h-2.17zM308.59 378.78h2.17v8.67h-2.17zM516.66 378.78h2.17v8.67h-2.17zM531.84 378.78h2.17v8.67h-2.17zM542.67 378.78h2.17v8.67h-2.17zM547.01 378.78h2.17v8.67h-2.17zM557.85 378.78h2.17v8.67h-2.17zM616.37 378.78h2.17v8.67h-2.17zM631.54 378.78h2.17v8.67h-2.17zM642.38 378.78h2.17v8.67h-2.17zM293.41 211.88h2.17v6.5h-2.17zM616.37 211.88h2.17v6.5h-2.17zM926.32 211.88h2.17v6.5h-2.17zM297.75 105.67h2.17v8.67h-2.17zM876.47 105.67h2.17v8.67h-2.17zM297.75 263.9h2.17v17.34h-2.17zM442.97 263.9h2.17v17.34h-2.17zM299.92 157.69h2.17v2.17h-2.17zM1013.02 157.69h2.17v2.17h-2.17zM1361.99 157.69h2.17v2.17h-2.17zM308.59 53.65h2.17v6.5h-2.17zM566.52 53.65h2.17v6.5h-2.17zM1539.72 53.65h2.17v6.5h-2.17zM332.43 331.09h2.17v2.17h-2.17zM765.93 331.09h2.17v2.17h-2.17zM776.76 331.09h2.17v2.17h-2.17zM781.1 331.09h2.17v2.17h-2.17zM1414.01 331.09h2.17v2.17h-2.17zM1424.85 331.09h2.17v2.17h-2.17zM1429.18 331.09h2.17v2.17h-2.17zM382.28 220.55h2.17v4.34h-2.17zM516.66 220.55h2.17v4.34h-2.17zM677.06 220.55h2.17v4.34h-2.17zM731.25 220.55h2.17v4.34h-2.17zM1065.04 220.55h2.17v4.34h-2.17zM1325.14 220.55h2.17v4.34h-2.17zM1563.57 220.55h2.17v4.34h-2.17zM1578.74 220.55h2.17v4.34h-2.17zM393.12 159.86h2.17v8.67h-2.17zM397.45 272.57h2.17v8.67h-2.17zM681.39 272.57h2.17v8.67h-2.17zM826.62 272.57h2.17v8.67h-2.17zM1075.88 272.57h2.17v8.67h-2.17zM408.29 385.28h2.17v2.17h-2.17zM432.13 385.28h2.17v2.17h-2.17zM442.97 385.28h2.17v2.17h-2.17zM447.31 385.28h2.17v2.17h-2.17zM458.14 385.28h2.17v2.17h-2.17zM412.62 222.72h2.17v2.17h-2.17zM692.23 222.72h2.17v2.17h-2.17zM791.94 222.72h2.17v2.17h-2.17zM906.81 222.72h2.17v2.17h-2.17zM976.17 222.72h2.17v2.17h-2.17zM991.35 222.72h2.17v2.17h-2.17zM1015.19 222.72h2.17v2.17h-2.17zM1026.03 222.72h2.17v2.17h-2.17zM1125.73 222.72h2.17v2.17h-2.17zM1164.75 222.72h2.17v2.17h-2.17zM1479.03 222.72h2.17v2.17h-2.17zM432.13 112.18h2.17v4.33h-2.17zM642.38 112.18h2.17v4.33h-2.17zM657.55 112.18h2.17v4.33h-2.17zM707.4 112.18h2.17v4.33h-2.17zM891.64 112.18h2.17v4.33h-2.17zM1140.9 112.18h2.17v4.33h-2.17zM1314.3 112.18h2.17v4.33h-2.17zM462.48 55.82h2.17v2.17h-2.17zM497.16 276.91h2.17v4.34h-2.17zM581.69 276.91h2.17v4.34h-2.17zM631.54 276.91h2.17v4.34h-2.17zM726.91 276.91h2.17v4.34h-2.17zM876.47 276.91h2.17v4.34h-2.17zM1026.03 276.91h2.17v4.34h-2.17zM1030.36 276.91h2.17v4.34h-2.17zM1563.57 276.91h2.17v4.34h-2.17zM508 159.86h2.17v10.84h-2.17zM657.55 159.86h2.17v10.84h-2.17zM677.06 159.86h2.17v10.84h-2.17zM991.35 159.86h2.17v10.84h-2.17zM1091.05 159.86h2.17v10.84h-2.17zM1424.85 159.86h2.17v10.84h-2.17zM1513.71 159.86h2.17v10.84h-2.17zM566.52 211.88h2.17v13h-2.17zM707.4 211.88h2.17v13h-2.17zM1279.62 211.88h2.17v13h-2.17zM1424.85 211.88h2.17v13h-2.17zM592.53 53.65h2.17v8.67h-2.17zM607.7 53.65h2.17v8.67h-2.17zM731.25 53.65h2.17v8.67h-2.17zM776.76 53.65h2.17v8.67h-2.17zM781.1 53.65h2.17v8.67h-2.17zM815.78 53.65h2.17v8.67h-2.17zM1015.19 53.65h2.17v8.67h-2.17zM1026.03 53.65h2.17v8.67h-2.17zM1264.45 53.65h2.17v8.67h-2.17zM592.53 105.67h2.17v4.34h-2.17zM915.48 105.67h2.17v4.34h-2.17zM616.37 263.9h2.17v10.84h-2.17zM616.37 331.09h2.17v4.34h-2.17zM915.48 331.09h2.17v4.34h-2.17zM1325.14 331.09h2.17v4.34h-2.17zM1329.48 331.09h2.17v4.34h-2.17zM1340.32 331.09h2.17v4.34h-2.17zM657.55 363.61h2.17v23.84h-2.17zM677.06 263.9h2.17v6.5h-2.17zM791.94 263.9h2.17v6.5h-2.17zM830.95 263.9h2.17v6.5h-2.17zM915.48 263.9h2.17v6.5h-2.17zM1229.77 263.9h2.17v6.5h-2.17zM1325.14 263.9h2.17v6.5h-2.17zM1440.02 263.9h2.17v6.5h-2.17zM692.23 57.99h2.17v2.17h-2.17zM1340.32 57.99h2.17v2.17h-2.17zM716.07 363.61h2.17v26.01h-2.17zM815.78 363.61h2.17v26.01h-2.17zM915.48 363.61h2.17v26.01h-2.17zM1015.19 110.01h2.17v2.17h-2.17zM1130.07 57.99h2.17v4.34h-2.17zM1474.7 57.99h2.17v4.34h-2.17zM1574.4 57.99h2.17v4.34h-2.17zM1578.74 57.99h2.17v4.34h-2.17zM1225.44 53.65h2.17v2.17h-2.17zM1414.01 53.65h2.17v2.17h-2.17zM1229.77 211.88h2.17v10.84h-2.17zM1290.46 159.86h2.17v4.34h-2.17zM1390.17 166.36h2.17v2.17h-2.17zM1429.18 112.18h2.17v2.17h-2.17zM1479.03 112.18h2.17v2.17h-2.17zM1585.24 281.24h2.17v2.17h-2.17z"/>
<path style="mix-blend-mode:plus-lighter" fill-opacity="0.62" d="M74.49 57.99h2.17v6.5h-2.17zM74.49 112.18h2.17v6.5h-2.17zM74.49 159.86h2.17v13h-2.17zM74.49 315.92h2.17v19.51h-2.17zM217.55 315.92h2.17v19.51h-2.17zM302.08 315.92h2.17v19.51h-2.17zM401.79 315.92h2.17v19.51h-2.17zM423.46 315.92h2.17v19.51h-2.17zM486.32 315.92h4.34v19.51h-4.34zM523.17 315.92h2.17v19.51h-2.17zM722.58 315.92h2.17v19.51h-2.17zM971.84 315.92h2.17v19.51h-2.17zM1006.52 315.92h2.17v19.51h-2.17zM1156.08 315.92h2.17v19.51h-2.17zM1171.25 315.92h2.17v19.51h-2.17zM1184.25 315.92h2.17v19.51h-2.17zM1199.43 315.92h2.17v19.51h-2.17zM74.49 365.77h2.17v23.84h-2.17zM202.38 365.77h2.17v23.84h-2.17zM267.4 365.77h2.17v23.84h-2.17zM757.26 365.77h2.17v23.84h-2.17zM772.43 365.77h2.17v23.84h-2.17zM785.43 365.77h2.17v23.84h-2.17zM800.61 365.77h2.17v23.84h-2.17zM856.96 365.77h2.17v23.84h-2.17zM872.13 365.77h2.17v23.84h-2.17zM885.14 365.77h2.17v23.84h-2.17zM900.31 365.77h2.17v23.84h-2.17zM956.67 365.77h2.17v23.84h-2.17zM971.84 365.77h2.17v23.84h-2.17zM1006.52 365.77h2.17v23.84h-2.17zM74.49 552.18h2.17v2.17h-2.17zM76.66 116.51h2.17v2.17h-2.17zM91.83 116.51h2.17v2.17h-2.17zM96.17 116.51h2.17v2.17h-2.17zM100.5 116.51h2.17v2.17h-2.17zM122.18 116.51h2.17v2.17h-2.17zM128.68 116.51h2.17v2.17h-2.17zM154.69 116.51h4.33v2.17h-4.33zM172.03 116.51h4.34v2.17h-4.34zM185.04 116.51h2.17v2.17h-2.17zM191.54 116.51h2.17v2.17h-2.17zM200.21 116.51h4.34v2.17h-4.34zM206.71 116.51h2.17v2.17h-2.17zM241.39 116.51h2.17v2.17h-2.17zM245.73 116.51h2.17v2.17h-2.17zM260.9 116.51h2.17v2.17h-2.17zM284.74 116.51h2.17v2.17h-2.17zM356.27 116.51h2.17v2.17h-2.17zM390.95 116.51h2.17v2.17h-2.17zM401.79 116.51h2.17v2.17h-2.17zM406.12 116.51h2.17v2.17h-2.17zM425.63 116.51h2.17v2.17h-2.17zM453.81 116.51h2.17v2.17h-2.17zM475.48 116.51h2.17v2.17h-2.17zM490.66 116.51h2.17v2.17h-2.17zM505.83 116.51h2.17v2.17h-2.17zM540.51 116.51h2.17v2.17h-2.17zM549.18 116.51h4.34v2.17h-4.34zM560.01 116.51h2.17v2.17h-2.17zM583.86 116.51h2.17v2.17h-2.17zM603.36 116.51h2.17v2.17h-2.17zM607.7 116.51h2.17v2.17h-2.17zM625.04 116.51h2.17v2.17h-2.17zM651.05 116.51h4.34v2.17h-4.34zM683.56 116.51h2.17v2.17h-2.17zM703.07 116.51h2.17v2.17h-2.17zM713.91 116.51h2.17v2.17h-2.17zM718.24 116.51h2.17v2.17h-2.17zM765.93 116.51h2.17v2.17h-2.17zM778.93 116.51h2.17v2.17h-2.17zM783.27 116.51h2.17v2.17h-2.17zM791.94 116.51h2.17v2.17h-2.17zM800.61 116.51h2.17v2.17h-2.17zM809.28 116.51h2.17v2.17h-2.17zM833.12 116.51h2.17v2.17h-2.17zM848.29 116.51h2.17v2.17h-2.17zM859.13 116.51h2.17v2.17h-2.17zM869.97 116.51h2.17v2.17h-2.17zM874.3 116.51h2.17v2.17h-2.17zM882.97 116.51h2.17v2.17h-2.17zM889.47 116.51h2.17v2.17h-2.17zM893.81 116.51h2.17v2.17h-2.17zM926.32 116.51h2.17v2.17h-2.17zM939.33 116.51h2.17v2.17h-2.17zM954.5 116.51h2.17v2.17h-2.17zM987.01 116.51h2.17v2.17h-2.17zM1013.02 116.51h2.17v2.17h-2.17zM1026.03 116.51h2.17v2.17h-2.17zM1041.2 116.51h2.17v2.17h-2.17zM1082.38 116.51h2.17v2.17h-2.17zM1093.22 116.51h2.17v2.17h-2.17zM1117.06 116.51h2.17v2.17h-2.17zM1121.4 116.51h4.33v2.17h-4.33zM1143.07 116.51h2.17v2.17h-2.17zM1166.91 116.51h2.17v2.17h-2.17zM1173.42 116.51h2.17v2.17h-2.17zM1186.42 116.51h4.34v2.17h-4.34zM1208.1 116.51h2.17v2.17h-2.17zM1231.94 116.51h2.17v2.17h-2.17zM1249.28 116.51h2.17v2.17h-2.17zM1257.95 116.51h2.17v2.17h-2.17zM1266.62 116.51h2.17v2.17h-2.17zM1322.97 116.51h2.17v2.17h-2.17zM1333.81 116.51h2.17v2.17h-2.17zM1351.15 116.51h2.17v2.17h-2.17zM1368.49 116.51h2.17v2.17h-2.17zM1385.83 116.51h2.17v2.17h-2.17zM1392.34 116.51h2.17v2.17h-2.17zM1431.35 116.51h4.34v2.17h-4.34zM1440.02 116.51h2.17v2.17h-2.17zM1472.53 116.51h2.17v2.17h-2.17zM1511.55 116.51h2.17v2.17h-2.17zM1522.38 116.51h2.17v2.17h-2.17zM1537.56 116.51h2.17v2.17h-2.17zM1541.89 116.51h2.17v2.17h-2.17zM1570.07 116.51h2.17v2.17h-2.17zM76.66 281.24h56.36v2.17h-56.36zM135.19 281.24h47.69v2.17h-47.69zM185.04 281.24h47.68v2.17h-47.68zM234.89 281.24h73.7v2.17h-73.7zM310.75 281.24h17.34v2.17h-17.34zM330.26 281.24h36.85v2.17h-36.85zM369.28 281.24h32.51v2.17h-32.51zM403.95 281.24h112.71v2.17h-112.71zM518.83 281.24h32.51v2.17h-32.51zM553.51 281.24h4.34v2.17h-4.34zM560.01 281.24h6.5v2.17h-6.5zM568.68 281.24h4.34v2.17h-4.34zM575.19 281.24h97.54v2.17h-97.54zM674.89 281.24h26.01v2.17h-26.01zM703.07 281.24h4.34v2.17h-4.34zM709.57 281.24h47.68v2.17h-47.68zM759.42 281.24h6.5v2.17h-6.5zM768.09 281.24h88.87v2.17h-88.87zM859.13 281.24h41.18v2.17h-41.18zM902.48 281.24h19.51v2.17h-19.51zM924.15 281.24h32.51v2.17h-32.51zM958.83 281.24h47.69v2.17h-47.69zM1008.69 281.24h56.36v2.17h-56.36zM1067.21 281.24h32.51v2.17h-32.51zM1101.89 281.24h153.89v2.17h-153.89zM1257.95 281.24h47.68v2.17h-47.68zM1307.8 281.24h47.68v2.17h-47.68zM1357.65 281.24h75.86v2.17h-75.86zM1435.68 281.24h47.68v2.17h-47.68zM1485.54 281.24h62.86v2.17h-62.86zM1550.56 281.24h34.68v2.17h-34.68zM83.16 497.99h2.17v2.17h-2.17zM87.5 60.16h2.17v2.17h-2.17zM122.18 60.16h2.17v2.17h-2.17zM187.21 60.16h2.17v2.17h-2.17zM206.71 60.16h2.17v2.17h-2.17zM263.07 60.16h2.17v2.17h-2.17zM299.92 60.16h2.17v2.17h-2.17zM375.78 60.16h2.17v2.17h-2.17zM468.98 60.16h2.17v2.17h-2.17zM555.68 60.16h2.17v2.17h-2.17zM596.86 60.16h2.17v2.17h-2.17zM631.54 60.16h2.17v2.17h-2.17zM670.56 60.16h2.17v2.17h-2.17zM679.23 60.16h2.17v2.17h-2.17zM744.25 60.16h2.17v2.17h-2.17zM757.26 60.16h2.17v2.17h-2.17zM783.27 60.16h2.17v2.17h-2.17zM796.27 60.16h2.17v2.17h-2.17zM802.77 60.16h2.17v2.17h-2.17zM824.45 60.16h2.17v2.17h-2.17zM893.81 60.16h2.17v2.17h-2.17zM1099.72 60.16h2.17v2.17h-2.17zM1158.24 60.16h2.17v2.17h-2.17zM1216.77 60.16h2.17v2.17h-2.17zM1459.53 60.16h2.17v2.17h-2.17zM89.67 53.65h2.17v8.67h-2.17zM388.78 53.65h2.17v8.67h-2.17zM401.79 53.65h2.17v8.67h-2.17zM551.34 53.65h2.17v8.67h-2.17zM850.46 53.65h2.17v8.67h-2.17zM1171.25 53.65h2.17v8.67h-2.17zM1455.19 53.65h2.17v8.67h-2.17zM1498.54 53.65h2.17v8.67h-2.17zM89.67 211.88h2.17v13h-2.17zM117.84 211.88h2.17v13h-2.17zM523.17 211.88h2.17v13h-2.17zM538.34 211.88h2.17v13h-2.17zM687.9 211.88h2.17v13h-2.17zM750.75 211.88h2.17v13h-2.17zM800.61 211.88h2.17v13h-2.17zM1255.78 211.88h2.17v13h-2.17zM89.67 326.76h2.17v8.67h-2.17zM117.84 326.76h2.17v8.67h-2.17zM124.35 326.76h2.17v8.67h-2.17zM473.31 326.76h2.17v8.67h-2.17zM536.17 326.76h4.34v8.67h-4.34zM735.58 326.76h4.33v8.67h-4.33zM750.75 326.76h2.17v8.67h-2.17zM956.67 326.76h2.17v8.67h-2.17zM1255.78 326.76h2.17v8.67h-2.17zM1270.95 326.76h2.17v8.67h-2.17zM1283.96 326.76h2.17v8.67h-2.17zM1299.13 326.76h2.17v8.67h-2.17zM102.67 211.88h2.17v10.84h-2.17zM601.2 211.88h2.17v10.84h-2.17zM1205.93 211.88h2.17v10.84h-2.17zM104.84 164.2h2.17v2.17h-2.17zM471.15 164.2h2.17v2.17h-2.17zM783.27 164.2h2.17v2.17h-2.17zM789.77 164.2h2.17v2.17h-2.17zM882.97 164.2h2.17v2.17h-2.17zM107.01 363.61h2.17v2.17h-2.17zM111.34 363.61h2.17v2.17h-2.17zM161.2 363.61h2.17v2.17h-2.17zM195.88 363.61h2.17v2.17h-2.17zM204.55 363.61h2.17v2.17h-2.17zM254.4 363.61h2.17v2.17h-2.17zM260.9 363.61h2.17v2.17h-2.17zM269.57 363.61h2.17v2.17h-2.17zM276.07 363.61h2.17v2.17h-2.17zM664.05 363.61h2.17v2.17h-2.17zM670.56 363.61h2.17v2.17h-2.17zM679.23 363.61h2.17v2.17h-2.17zM694.4 363.61h2.17v2.17h-2.17zM703.07 363.61h2.17v2.17h-2.17zM709.57 363.61h2.17v2.17h-2.17zM718.24 363.61h2.17v2.17h-2.17zM724.75 363.61h2.17v2.17h-2.17zM733.41 363.61h2.17v2.17h-2.17zM739.92 363.61h2.17v2.17h-2.17zM748.59 363.61h2.17v2.17h-2.17zM755.09 363.61h2.17v2.17h-2.17zM763.76 363.61h2.17v2.17h-2.17zM770.26 363.61h2.17v2.17h-2.17zM778.93 363.61h2.17v2.17h-2.17zM794.1 363.61h2.17v2.17h-2.17zM802.77 363.61h2.17v2.17h-2.17zM809.28 363.61h2.17v2.17h-2.17zM817.95 363.61h2.17v2.17h-2.17zM824.45 363.61h2.17v2.17h-2.17zM833.12 363.61h2.17v2.17h-2.17zM839.62 363.61h2.17v2.17h-2.17zM848.29 363.61h2.17v2.17h-2.17zM854.79 363.61h2.17v2.17h-2.17zM863.46 363.61h2.17v2.17h-2.17zM869.97 363.61h2.17v2.17h-2.17zM878.64 363.61h2.17v2.17h-2.17zM887.31 363.61h2.17v2.17h-2.17zM893.81 363.61h2.17v2.17h-2.17zM902.48 363.61h2.17v2.17h-2.17zM908.98 363.61h2.17v2.17h-2.17zM917.65 363.61h2.17v2.17h-2.17zM924.15 363.61h2.17v2.17h-2.17zM932.82 363.61h2.17v2.17h-2.17zM939.33 363.61h2.17v2.17h-2.17zM948 363.61h2.17v2.17h-2.17zM954.5 363.61h2.17v2.17h-2.17zM963.17 363.61h2.17v2.17h-2.17zM969.67 363.61h2.17v2.17h-2.17zM978.34 363.61h2.17v2.17h-2.17zM982.68 363.61h2.17v2.17h-2.17zM989.18 363.61h2.17v2.17h-2.17zM997.85 363.61h2.17v2.17h-2.17zM1004.35 363.61h2.17v2.17h-2.17zM1013.02 363.61h2.17v2.17h-2.17zM1019.52 363.61h2.17v2.17h-2.17zM109.17 170.7h2.17v2.17h-2.17zM120.01 170.7h2.17v2.17h-2.17zM193.71 170.7h2.17v2.17h-2.17zM200.21 170.7h2.17v2.17h-2.17zM206.71 170.7h2.17v2.17h-2.17zM258.73 170.7h2.17v2.17h-2.17zM291.25 170.7h2.17v2.17h-2.17zM297.75 170.7h2.17v2.17h-2.17zM306.42 170.7h2.17v2.17h-2.17zM321.59 170.7h2.17v2.17h-2.17zM373.61 170.7h2.17v2.17h-2.17zM440.8 170.7h4.33v2.17h-4.33zM481.99 170.7h2.17v2.17h-2.17zM503.66 170.7h2.17v2.17h-2.17zM516.66 170.7h2.17v2.17h-2.17zM588.19 170.7h2.17v2.17h-2.17zM592.53 170.7h2.17v2.17h-2.17zM631.54 170.7h2.17v2.17h-2.17zM664.05 170.7h4.34v2.17h-4.34zM670.56 170.7h2.17v2.17h-2.17zM674.89 170.7h2.17v2.17h-2.17zM720.41 170.7h2.17v2.17h-2.17zM757.26 170.7h2.17v2.17h-2.17zM796.27 170.7h2.17v2.17h-2.17zM800.61 170.7h2.17v2.17h-2.17zM856.96 170.7h2.17v2.17h-2.17zM869.97 170.7h2.17v2.17h-2.17zM891.64 170.7h2.17v2.17h-2.17zM900.31 170.7h2.17v2.17h-2.17zM913.32 170.7h4.33v2.17h-4.33zM956.67 170.7h2.17v2.17h-2.17zM987.01 170.7h2.17v2.17h-2.17zM1039.03 170.7h2.17v2.17h-2.17zM1065.04 170.7h2.17v2.17h-2.17zM1080.21 170.7h2.17v2.17h-2.17zM1125.73 170.7h2.17v2.17h-2.17zM1190.76 170.7h2.17v2.17h-2.17zM1205.93 170.7h2.17v2.17h-2.17zM1214.6 170.7h2.17v2.17h-2.17zM1234.11 170.7h2.17v2.17h-2.17zM1305.63 170.7h2.17v2.17h-2.17zM1329.48 170.7h2.17v2.17h-2.17zM1368.49 170.7h2.17v2.17h-2.17zM1379.33 170.7h2.17v2.17h-2.17zM1385.83 170.7h2.17v2.17h-2.17zM1394.5 170.7h2.17v2.17h-2.17zM1409.67 170.7h2.17v2.17h-2.17zM1479.03 170.7h2.17v2.17h-2.17zM1524.55 170.7h2.17v2.17h-2.17zM117.84 57.99h2.17v2.17h-2.17zM950.16 57.99h2.17v2.17h-2.17zM117.84 272.57h2.17v6.5h-2.17zM124.35 272.57h2.17v6.5h-2.17zM167.7 272.57h2.17v6.5h-2.17zM202.38 272.57h2.17v6.5h-2.17zM388.78 272.57h2.17v6.5h-2.17zM635.88 272.57h2.17v6.5h-2.17zM735.58 272.57h2.17v6.5h-2.17zM835.29 272.57h2.17v6.5h-2.17zM1084.55 272.57h2.17v6.5h-2.17zM1320.81 272.57h2.17v6.5h-2.17zM124.35 220.55h2.17v4.34h-2.17zM152.53 220.55h2.17v4.34h-2.17zM451.64 220.55h2.17v4.34h-2.17zM635.88 220.55h2.17v4.34h-2.17zM772.43 220.55h2.17v4.34h-2.17zM872.13 220.55h2.17v4.34h-2.17zM1056.37 220.55h2.17v4.34h-2.17zM1134.4 220.55h2.17v4.34h-2.17zM1149.58 220.55h2.17v4.34h-2.17zM1171.25 220.55h2.17v4.34h-2.17zM1548.39 220.55h2.17v4.34h-2.17zM124.35 437.3h2.17v6.5h-2.17zM130.85 168.53h2.17v2.17h-2.17zM187.21 168.53h2.17v2.17h-2.17zM304.25 168.53h2.17v2.17h-2.17zM330.26 168.53h2.17v2.17h-2.17zM436.47 168.53h2.17v2.17h-2.17zM451.64 168.53h2.17v2.17h-2.17zM568.68 168.53h2.17v2.17h-2.17zM620.7 168.53h2.17v2.17h-2.17zM705.24 168.53h2.17v2.17h-2.17zM943.66 168.53h2.17v2.17h-2.17zM1121.4 168.53h2.17v2.17h-2.17zM1316.47 168.53h2.17v2.17h-2.17zM1461.69 168.53h2.17v2.17h-2.17zM1515.88 168.53h2.17v2.17h-2.17zM1567.9 168.53h2.17v2.17h-2.17zM133.02 279.07h2.17v4.33h-2.17zM182.87 279.07h2.17v4.33h-2.17zM232.72 279.07h2.17v4.33h-2.17zM308.59 279.07h2.17v4.33h-2.17zM328.09 279.07h2.17v4.33h-2.17zM401.79 279.07h2.17v4.33h-2.17zM516.66 279.07h2.17v4.33h-2.17zM551.34 279.07h2.17v4.33h-2.17zM557.85 279.07h2.17v4.33h-2.17zM566.52 279.07h2.17v4.33h-2.17zM573.02 279.07h2.17v4.33h-2.17zM672.72 279.07h2.17v4.33h-2.17zM707.4 279.07h2.17v4.33h-2.17zM765.93 279.07h2.17v4.33h-2.17zM856.96 279.07h2.17v4.33h-2.17zM900.31 279.07h2.17v4.33h-2.17zM1065.04 279.07h2.17v4.33h-2.17zM1099.72 279.07h2.17v4.33h-2.17zM1255.78 279.07h2.17v4.33h-2.17zM1305.63 279.07h2.17v4.33h-2.17zM1483.37 279.07h2.17v4.33h-2.17zM1548.39 279.07h2.17v4.33h-2.17zM137.35 62.32h2.17v2.17h-2.17zM146.02 62.32h13v2.17h-13zM169.87 62.32h2.17v2.17h-2.17zM195.88 62.32h2.17v2.17h-2.17zM202.38 62.32h4.34v2.17h-4.34zM239.23 62.32h6.5v2.17h-6.5zM247.9 62.32h2.17v2.17h-2.17zM271.74 62.32h2.17v2.17h-2.17zM293.41 62.32h2.17v2.17h-2.17zM345.43 62.32h6.5v2.17h-6.5zM354.1 62.32h2.17v2.17h-2.17zM360.61 62.32h4.33v2.17h-4.33zM373.61 62.32h2.17v2.17h-2.17zM382.28 62.32h6.5v2.17h-6.5zM397.45 62.32h4.34v2.17h-4.34zM406.12 62.32h2.17v2.17h-2.17zM440.8 62.32h4.33v2.17h-4.33zM447.31 62.32h8.67v2.17h-8.67zM481.99 62.32h2.17v2.17h-2.17zM494.99 62.32h2.17v2.17h-2.17zM510.16 62.32h2.17v2.17h-2.17zM518.83 62.32h2.17v2.17h-2.17zM557.85 62.32h6.5v2.17h-6.5zM570.85 62.32h2.17v2.17h-2.17zM577.35 62.32h2.17v2.17h-2.17zM581.69 62.32h2.17v2.17h-2.17zM586.02 62.32h4.33v2.17h-4.33zM605.53 62.32h2.17v2.17h-2.17zM655.38 62.32h2.17v2.17h-2.17zM696.57 62.32h2.17v2.17h-2.17zM705.24 62.32h2.17v2.17h-2.17zM735.58 62.32h2.17v2.17h-2.17zM761.59 62.32h2.17v2.17h-2.17zM768.09 62.32h2.17v2.17h-2.17zM787.6 62.32h2.17v2.17h-2.17zM800.61 62.32h2.17v2.17h-2.17zM874.3 62.32h4.34v2.17h-4.34zM889.47 62.32h4.34v2.17h-4.34zM895.98 62.32h2.17v2.17h-2.17zM908.98 62.32h4.34v2.17h-4.34zM919.82 62.32h4.34v2.17h-4.34zM930.66 62.32h4.34v2.17h-4.34zM939.33 62.32h2.17v2.17h-2.17zM961 62.32h2.17v2.17h-2.17zM967.5 62.32h2.17v2.17h-2.17zM971.84 62.32h2.17v2.17h-2.17zM1008.69 62.32h2.17v2.17h-2.17zM1017.36 62.32h2.17v2.17h-2.17zM1056.37 62.32h2.17v2.17h-2.17zM1062.88 62.32h2.17v2.17h-2.17zM1069.38 62.32h4.33v2.17h-4.33zM1078.05 62.32h4.34v2.17h-4.34zM1123.57 62.32h4.33v2.17h-4.33zM1177.75 62.32h2.17v2.17h-2.17zM1188.59 62.32h4.34v2.17h-4.34zM1201.6 62.32h2.17v2.17h-2.17zM1229.77 62.32h2.17v2.17h-2.17zM1234.11 62.32h4.34v2.17h-4.34zM1251.45 62.32h6.5v2.17h-6.5zM1266.62 62.32h2.17v2.17h-2.17zM1283.96 62.32h4.33v2.17h-4.33zM1307.8 62.32h2.17v2.17h-2.17zM1329.48 62.32h4.34v2.17h-4.34zM1372.83 62.32h4.34v2.17h-4.34zM1381.5 62.32h2.17v2.17h-2.17zM1385.83 62.32h2.17v2.17h-2.17zM1396.67 62.32h2.17v2.17h-2.17zM1401 62.32h2.17v2.17h-2.17zM1427.01 62.32h2.17v2.17h-2.17zM1433.52 62.32h2.17v2.17h-2.17zM1446.52 62.32h2.17v2.17h-2.17zM1472.53 62.32h2.17v2.17h-2.17zM1485.54 62.32h2.17v2.17h-2.17zM1502.88 62.32h4.33v2.17h-4.33zM1544.06 62.32h2.17v2.17h-2.17zM1580.91 62.32h2.17v2.17h-2.17zM139.52 326.76h2.17v2.17h-2.17zM139.52 441.64h2.17v2.17h-2.17zM152.53 441.64h2.17v2.17h-2.17zM143.86 224.89h2.17v2.17h-2.17zM150.36 224.89h2.17v2.17h-2.17zM161.2 224.89h2.17v2.17h-2.17zM189.37 224.89h2.17v2.17h-2.17zM217.55 224.89h2.17v2.17h-2.17zM228.39 224.89h2.17v2.17h-2.17zM263.07 224.89h2.17v2.17h-2.17zM278.24 224.89h2.17v2.17h-2.17zM297.75 224.89h2.17v2.17h-2.17zM377.94 224.89h2.17v2.17h-2.17zM382.28 224.89h2.17v2.17h-2.17zM395.29 224.89h2.17v2.17h-2.17zM447.31 224.89h2.17v2.17h-2.17zM458.14 224.89h2.17v2.17h-2.17zM462.48 224.89h2.17v2.17h-2.17zM468.98 224.89h2.17v2.17h-2.17zM477.65 224.89h2.17v2.17h-2.17zM494.99 224.89h4.33v2.17h-4.33zM594.69 224.89h2.17v2.17h-2.17zM612.03 224.89h2.17v2.17h-2.17zM644.55 224.89h4.34v2.17h-4.34zM677.06 224.89h2.17v2.17h-2.17zM692.23 224.89h2.17v2.17h-2.17zM696.57 224.89h2.17v2.17h-2.17zM711.74 224.89h2.17v2.17h-2.17zM718.24 224.89h4.34v2.17h-4.34zM726.91 224.89h2.17v2.17h-2.17zM731.25 224.89h2.17v2.17h-2.17zM791.94 224.89h2.17v2.17h-2.17zM796.27 224.89h2.17v2.17h-2.17zM811.44 224.89h2.17v2.17h-2.17zM852.63 224.89h4.34v2.17h-4.34zM861.3 224.89h2.17v2.17h-2.17zM876.47 224.89h2.17v2.17h-2.17zM911.15 224.89h2.17v2.17h-2.17zM954.5 224.89h2.17v2.17h-2.17zM1043.37 224.89h2.17v2.17h-2.17zM1049.87 224.89h2.17v2.17h-2.17zM1075.88 224.89h2.17v2.17h-2.17zM1275.29 224.89h2.17v2.17h-2.17zM1303.47 224.89h2.17v2.17h-2.17zM1329.48 224.89h2.17v2.17h-2.17zM148.19 110.01h2.17v2.17h-2.17zM150.36 333.26h2.17v2.17h-2.17zM176.37 333.26h2.17v2.17h-2.17zM191.54 333.26h2.17v2.17h-2.17zM202.38 333.26h2.17v2.17h-2.17zM224.05 333.26h2.17v2.17h-2.17zM228.39 333.26h2.17v2.17h-2.17zM291.25 333.26h2.17v2.17h-2.17zM462.48 333.26h2.17v2.17h-2.17zM562.18 333.26h2.17v2.17h-2.17zM612.03 333.26h2.17v2.17h-2.17zM776.76 333.26h2.17v2.17h-2.17zM895.98 333.26h2.17v2.17h-2.17zM911.15 333.26h2.17v2.17h-2.17zM1344.65 333.26h2.17v2.17h-2.17zM1359.82 333.26h2.17v2.17h-2.17zM1394.5 333.26h2.17v2.17h-2.17zM1409.67 333.26h2.17v2.17h-2.17zM1424.85 333.26h2.17v2.17h-2.17zM1429.18 333.26h2.17v2.17h-2.17zM1444.36 333.26h2.17v2.17h-2.17zM152.53 263.9h2.17v13h-2.17zM159.03 157.69h2.17v2.17h-2.17zM711.74 157.69h2.17v2.17h-2.17zM781.1 157.69h2.17v2.17h-2.17zM791.94 157.69h2.17v2.17h-2.17zM1000.02 157.69h2.17v2.17h-2.17zM1244.94 157.69h2.17v2.17h-2.17zM1325.14 157.69h2.17v2.17h-2.17zM167.7 105.67h2.17v8.67h-2.17zM338.93 105.67h2.17v8.67h-2.17zM601.2 105.67h2.17v8.67h-2.17zM1283.96 105.67h2.17v8.67h-2.17zM167.7 159.86h2.17v10.84h-2.17zM367.11 159.86h2.17v10.84h-2.17zM388.78 159.86h2.17v10.84h-2.17zM735.58 159.86h2.17v10.84h-2.17zM850.46 159.86h2.17v10.84h-2.17zM1199.43 159.86h2.17v10.84h-2.17zM167.7 315.92h2.17v17.34h-2.17zM167.7 385.28h2.17v2.17h-2.17zM323.76 385.28h2.17v2.17h-2.17zM338.93 385.28h2.17v2.17h-2.17zM347.6 385.28h2.17v2.17h-2.17zM412.62 385.28h2.17v2.17h-2.17zM416.96 385.28h2.17v2.17h-2.17zM473.31 385.28h2.17v2.17h-2.17zM486.32 385.28h4.34v2.17h-4.34zM189.37 57.99h2.17v4.34h-2.17zM473.31 57.99h2.17v4.34h-2.17zM573.02 57.99h2.17v4.34h-2.17zM1034.7 57.99h2.17v4.34h-2.17zM1370.66 57.99h2.17v4.34h-2.17zM189.37 378.78h2.17v8.67h-2.17zM501.49 378.78h2.17v8.67h-2.17zM573.02 378.78h2.17v8.67h-2.17zM586.02 378.78h4.33v8.67h-4.33zM601.2 378.78h2.17v8.67h-2.17zM202.38 220.55h2.17v2.17h-2.17zM1405.34 220.55h2.17v2.17h-2.17zM1520.22 220.55h2.17v2.17h-2.17zM224.05 263.9h2.17v6.5h-2.17zM232.72 222.72h2.17v2.17h-2.17zM273.91 222.72h2.17v2.17h-2.17zM581.69 222.72h2.17v2.17h-2.17zM622.87 222.72h2.17v2.17h-2.17zM651.05 222.72h2.17v2.17h-2.17zM672.72 222.72h2.17v2.17h-2.17zM685.73 222.72h2.17v2.17h-2.17zM700.9 222.72h2.17v2.17h-2.17zM1084.55 222.72h2.17v2.17h-2.17zM1140.9 222.72h2.17v2.17h-2.17zM1156.08 222.72h2.17v2.17h-2.17zM1249.28 222.72h2.17v2.17h-2.17zM1348.98 222.72h2.17v2.17h-2.17zM1440.02 222.72h2.17v2.17h-2.17zM1533.22 222.72h2.17v2.17h-2.17zM239.23 331.09h2.17v4.34h-2.17zM252.23 211.88h2.17v6.5h-2.17zM950.16 211.88h2.17v6.5h-2.17zM971.84 211.88h2.17v6.5h-2.17zM265.24 114.34h2.17v2.17h-2.17zM384.45 114.34h2.17v2.17h-2.17zM410.46 114.34h2.17v2.17h-2.17zM471.15 114.34h2.17v2.17h-2.17zM544.84 114.34h2.17v2.17h-2.17zM668.39 114.34h2.17v2.17h-2.17zM720.41 114.34h2.17v2.17h-2.17zM724.75 114.34h2.17v2.17h-2.17zM763.76 114.34h2.17v2.17h-2.17zM839.62 114.34h2.17v2.17h-2.17zM876.47 114.34h2.17v2.17h-2.17zM963.17 114.34h2.17v2.17h-2.17zM1028.19 114.34h2.17v2.17h-2.17zM1062.88 114.34h2.17v2.17h-2.17zM1238.44 114.34h2.17v2.17h-2.17zM1342.48 114.34h2.17v2.17h-2.17zM1429.18 114.34h2.17v2.17h-2.17zM1437.85 114.34h2.17v2.17h-2.17zM1479.03 114.34h2.17v2.17h-2.17zM1502.88 114.34h2.17v2.17h-2.17zM1515.88 114.34h2.17v2.17h-2.17zM1576.57 114.34h2.17v2.17h-2.17zM278.24 387.45h2.17v2.17h-2.17zM282.57 387.45h2.17v2.17h-2.17zM293.41 387.45h2.17v2.17h-2.17zM297.75 387.45h2.17v2.17h-2.17zM527.5 387.45h2.17v2.17h-2.17zM531.84 387.45h2.17v2.17h-2.17zM542.67 387.45h2.17v2.17h-2.17zM547.01 387.45h2.17v2.17h-2.17zM557.85 387.45h2.17v2.17h-2.17zM616.37 387.45h2.17v2.17h-2.17zM627.21 387.45h2.17v2.17h-2.17zM631.54 387.45h2.17v2.17h-2.17zM642.38 387.45h2.17v2.17h-2.17zM646.71 387.45h2.17v2.17h-2.17zM657.55 387.45h2.17v2.17h-2.17zM289.08 112.18h2.17v2.17h-2.17zM373.61 112.18h2.17v2.17h-2.17zM338.93 166.36h2.17v4.34h-2.17zM822.28 166.36h2.17v4.34h-2.17zM1221.1 166.36h2.17v4.34h-2.17zM1348.98 166.36h2.17v4.34h-2.17zM1520.22 166.36h2.17v4.34h-2.17zM351.94 105.67h2.17v10.84h-2.17zM416.96 105.67h2.17v10.84h-2.17zM486.32 105.67h2.17v10.84h-2.17zM1021.69 105.67h2.17v10.84h-2.17zM1184.25 105.67h2.17v10.84h-2.17zM1299.13 105.67h2.17v10.84h-2.17zM1370.66 105.67h2.17v10.84h-2.17zM1498.54 105.67h2.17v10.84h-2.17zM367.11 276.91h2.17v6.5h-2.17zM700.9 276.91h2.17v6.5h-2.17zM921.99 276.91h2.17v6.5h-2.17zM1006.52 276.91h2.17v6.5h-2.17zM1355.49 276.91h2.17v6.5h-2.17zM367.11 331.09h2.17v2.17h-2.17zM388.78 331.09h2.17v2.17h-2.17zM436.47 331.09h4.33v2.17h-4.33zM551.34 331.09h2.17v2.17h-2.17zM601.2 331.09h2.17v2.17h-2.17zM885.14 331.09h2.17v2.17h-2.17zM900.31 331.09h2.17v2.17h-2.17zM1355.49 331.09h2.17v2.17h-2.17zM1370.66 331.09h2.17v2.17h-2.17zM1383.66 331.09h2.17v2.17h-2.17zM1398.84 331.09h2.17v2.17h-2.17zM388.78 112.18h2.17v4.33h-2.17zM473.31 112.18h2.17v4.33h-2.17zM586.02 112.18h4.33v4.33h-4.33zM735.58 112.18h2.17v4.33h-2.17zM750.75 112.18h2.17v4.33h-2.17zM885.14 112.18h2.17v4.33h-2.17zM921.99 112.18h2.17v4.33h-2.17zM1270.95 112.18h2.17v4.33h-2.17zM425.63 51.49h2.17v2.17h-2.17zM464.64 51.49h2.17v2.17h-2.17zM729.08 51.49h2.17v2.17h-2.17zM1392.34 51.49h2.17v2.17h-2.17zM436.47 276.91h2.17v2.17h-2.17zM536.17 276.91h2.17v2.17h-2.17zM638.04 276.91h2.17v2.17h-2.17zM737.75 276.91h2.17v2.17h-2.17zM787.6 276.91h2.17v2.17h-2.17zM1221.1 276.91h2.17v2.17h-2.17zM1420.51 276.91h2.17v2.17h-2.17zM1470.37 276.91h2.17v2.17h-2.17zM477.65 55.82h2.17v2.17h-2.17zM1225.44 55.82h2.17v2.17h-2.17zM1260.12 55.82h2.17v2.17h-2.17zM1414.01 55.82h2.17v2.17h-2.17zM538.34 159.86h2.17v8.67h-2.17zM785.43 159.86h2.17v8.67h-2.17zM1398.84 159.86h2.17v8.67h-2.17zM577.35 270.4h2.17v2.17h-2.17zM677.06 270.4h2.17v2.17h-2.17zM791.94 270.4h2.17v2.17h-2.17zM830.95 270.4h2.17v2.17h-2.17zM961 270.4h2.17v2.17h-2.17zM1229.77 270.4h2.17v2.17h-2.17zM1325.14 270.4h2.17v2.17h-2.17zM616.37 274.74h2.17v2.17h-2.17zM622.87 53.65h2.17v2.17h-2.17zM672.72 365.77h2.17v21.68h-2.17zM700.9 365.77h2.17v21.68h-2.17zM685.73 363.61h4.34v23.84h-4.34zM700.9 105.67h2.17v4.34h-2.17zM1255.78 105.67h2.17v4.34h-2.17zM757.26 272.57h2.17v10.84h-2.17zM956.67 272.57h2.17v10.84h-2.17zM1433.52 272.57h2.17v10.84h-2.17zM787.6 363.61h2.17v26.01h-2.17zM885.14 159.86h2.17v4.34h-2.17zM1058.54 218.38h2.17v2.17h-2.17zM1546.23 218.38h2.17v2.17h-2.17zM1299.13 53.65h2.17v6.5h-2.17zM1405.34 166.36h2.17v2.17h-2.17zM1505.04 166.36h2.17v2.17h-2.17z"/>
<path style="mix-blend-mode:plus-lighter" fill-opacity="0.69" d="M74.49 554.35h2.17v8.67h-2.17zM226.22 554.35h2.17v8.67h-2.17zM377.94 554.35h2.17v8.67h-2.17zM527.5 554.35h2.17v8.67h-2.17zM679.23 554.35h2.17v8.67h-2.17zM830.95 554.35h2.17v8.67h-2.17zM980.51 554.35h2.17v8.67h-2.17zM1132.23 554.35h2.17v8.67h-2.17zM1283.96 554.35h2.17v8.67h-2.17zM1433.52 554.35h2.17v8.67h-2.17zM1585.24 554.35h2.17v8.67h-2.17zM76.66 335.43h2.17v2.17h-2.17zM81 335.43h2.17v2.17h-2.17zM87.5 335.43h2.17v2.17h-2.17zM91.83 335.43h2.17v2.17h-2.17zM96.17 335.43h8.67v2.17h-8.67zM107.01 335.43h4.34v2.17h-4.34zM120.01 335.43h2.17v2.17h-2.17zM126.52 335.43h2.17v2.17h-2.17zM133.02 335.43h2.17v2.17h-2.17zM152.53 335.43h2.17v2.17h-2.17zM156.86 335.43h2.17v2.17h-2.17zM161.2 335.43h2.17v2.17h-2.17zM180.7 335.43h2.17v2.17h-2.17zM185.04 335.43h2.17v2.17h-2.17zM195.88 335.43h2.17v2.17h-2.17zM206.71 335.43h2.17v2.17h-2.17zM215.38 335.43h2.17v2.17h-2.17zM219.72 335.43h2.17v2.17h-2.17zM230.56 335.43h2.17v2.17h-2.17zM234.89 335.43h2.17v2.17h-2.17zM252.23 335.43h2.17v2.17h-2.17zM256.56 335.43h2.17v2.17h-2.17zM269.57 335.43h2.17v2.17h-2.17zM273.91 335.43h4.33v2.17h-4.33zM280.41 335.43h2.17v2.17h-2.17zM299.92 335.43h2.17v2.17h-2.17zM304.25 335.43h8.67v2.17h-8.67zM345.43 335.43h8.67v2.17h-8.67zM356.27 335.43h2.17v2.17h-2.17zM364.94 335.43h2.17v2.17h-2.17zM390.95 335.43h2.17v2.17h-2.17zM399.62 335.43h2.17v2.17h-2.17zM403.95 335.43h13v2.17h-13zM419.13 335.43h2.17v2.17h-2.17zM425.63 335.43h2.17v2.17h-2.17zM434.3 335.43h2.17v2.17h-2.17zM475.48 335.43h2.17v2.17h-2.17zM484.15 335.43h2.17v2.17h-2.17zM490.66 335.43h2.17v2.17h-2.17zM497.16 335.43h23.84v2.17h-23.84zM525.33 335.43h2.17v2.17h-2.17zM534 335.43h2.17v2.17h-2.17zM540.51 335.43h2.17v2.17h-2.17zM614.2 335.43h2.17v2.17h-2.17zM620.7 335.43h2.17v2.17h-2.17zM629.38 335.43h2.17v2.17h-2.17zM644.55 335.43h2.17v2.17h-2.17zM653.22 335.43h2.17v2.17h-2.17zM657.55 335.43h47.69v2.17h-47.69zM709.57 335.43h2.17v2.17h-2.17zM718.24 335.43h2.17v2.17h-2.17zM724.75 335.43h2.17v2.17h-2.17zM733.41 335.43h2.17v2.17h-2.17zM739.92 335.43h2.17v2.17h-2.17zM748.59 335.43h2.17v2.17h-2.17zM755.09 335.43h2.17v2.17h-2.17zM763.76 335.43h2.17v2.17h-2.17zM913.32 335.43h2.17v2.17h-2.17zM919.82 335.43h2.17v2.17h-2.17zM928.49 335.43h2.17v2.17h-2.17zM943.66 335.43h2.17v2.17h-2.17zM952.33 335.43h2.17v2.17h-2.17zM958.83 335.43h2.17v2.17h-2.17zM967.5 335.43h2.17v2.17h-2.17zM974.01 335.43h2.17v2.17h-2.17zM980.51 335.43h2.17v2.17h-2.17zM993.51 335.43h2.17v2.17h-2.17zM1002.18 335.43h2.17v2.17h-2.17zM1008.69 335.43h2.17v2.17h-2.17zM1017.36 335.43h2.17v2.17h-2.17zM1021.69 335.43h125.72v2.17h-125.72zM1151.74 335.43h2.17v2.17h-2.17zM1158.24 335.43h2.17v2.17h-2.17zM1166.91 335.43h2.17v2.17h-2.17zM1173.42 335.43h2.17v2.17h-2.17zM1182.09 335.43h2.17v2.17h-2.17zM1188.59 335.43h2.17v2.17h-2.17zM1197.26 335.43h2.17v2.17h-2.17zM1203.76 335.43h2.17v2.17h-2.17zM1212.43 335.43h2.17v2.17h-2.17zM1227.61 335.43h2.17v2.17h-2.17zM1242.78 335.43h2.17v2.17h-2.17zM1251.45 335.43h2.17v2.17h-2.17zM1257.95 335.43h2.17v2.17h-2.17zM1266.62 335.43h2.17v2.17h-2.17zM1273.12 335.43h2.17v2.17h-2.17zM1281.79 335.43h2.17v2.17h-2.17zM1288.29 335.43h2.17v2.17h-2.17zM1296.96 335.43h2.17v2.17h-2.17zM1303.47 335.43h2.17v2.17h-2.17zM1312.14 335.43h2.17v2.17h-2.17zM1327.31 335.43h2.17v2.17h-2.17zM1585.24 335.43h2.17v2.17h-2.17zM76.66 443.8h2.17v2.17h-2.17zM87.5 443.8h2.17v2.17h-2.17zM91.83 443.8h2.17v2.17h-2.17zM100.5 443.8h2.17v2.17h-2.17zM120.01 443.8h2.17v2.17h-2.17zM126.52 443.8h2.17v2.17h-2.17zM135.19 443.8h2.17v2.17h-2.17zM141.69 443.8h2.17v2.17h-2.17zM150.36 443.8h2.17v2.17h-2.17zM156.86 443.8h2.17v2.17h-2.17zM165.53 443.8h2.17v2.17h-2.17zM172.03 443.8h2.17v2.17h-2.17zM180.7 443.8h2.17v2.17h-2.17zM187.21 443.8h2.17v2.17h-2.17zM195.88 443.8h2.17v2.17h-2.17zM204.55 443.8h2.17v2.17h-2.17zM211.05 443.8h2.17v2.17h-2.17zM219.72 443.8h2.17v2.17h-2.17zM226.22 443.8h2.17v2.17h-2.17zM234.89 443.8h2.17v2.17h-2.17zM241.39 443.8h2.17v2.17h-2.17zM250.06 443.8h2.17v2.17h-2.17zM256.56 443.8h2.17v2.17h-2.17zM265.24 443.8h2.17v2.17h-2.17zM271.74 443.8h2.17v2.17h-2.17zM280.41 443.8h2.17v2.17h-2.17zM286.91 443.8h2.17v2.17h-2.17zM295.58 443.8h2.17v2.17h-2.17zM304.25 443.8h2.17v2.17h-2.17zM310.75 443.8h2.17v2.17h-2.17zM319.42 443.8h2.17v2.17h-2.17zM325.93 443.8h2.17v2.17h-2.17zM334.6 443.8h2.17v2.17h-2.17zM341.1 443.8h2.17v2.17h-2.17zM349.77 443.8h2.17v2.17h-2.17zM356.27 443.8h2.17v2.17h-2.17zM364.94 443.8h2.17v2.17h-2.17zM371.44 443.8h2.17v2.17h-2.17zM380.11 443.8h2.17v2.17h-2.17zM386.62 443.8h2.17v2.17h-2.17zM395.29 443.8h2.17v2.17h-2.17zM403.95 443.8h2.17v2.17h-2.17zM410.46 443.8h2.17v2.17h-2.17zM419.13 443.8h2.17v2.17h-2.17zM425.63 443.8h2.17v2.17h-2.17zM434.3 443.8h2.17v2.17h-2.17zM440.8 443.8h2.17v2.17h-2.17zM449.47 443.8h2.17v2.17h-2.17zM455.98 443.8h2.17v2.17h-2.17zM464.64 443.8h2.17v2.17h-2.17zM471.15 443.8h2.17v2.17h-2.17zM479.82 443.8h2.17v2.17h-2.17zM486.32 443.8h4.34v2.17h-4.34zM494.99 443.8h2.17v2.17h-2.17zM503.66 443.8h2.17v2.17h-2.17zM510.16 443.8h2.17v2.17h-2.17zM518.83 443.8h2.17v2.17h-2.17zM525.33 443.8h2.17v2.17h-2.17zM534 443.8h2.17v2.17h-2.17zM540.51 443.8h2.17v2.17h-2.17zM549.18 443.8h2.17v2.17h-2.17zM555.68 443.8h2.17v2.17h-2.17zM564.35 443.8h2.17v2.17h-2.17zM570.85 443.8h2.17v2.17h-2.17zM579.52 443.8h2.17v2.17h-2.17zM586.02 443.8h4.33v2.17h-4.33zM594.69 443.8h2.17v2.17h-2.17zM603.36 443.8h2.17v2.17h-2.17zM609.87 443.8h2.17v2.17h-2.17zM618.54 443.8h2.17v2.17h-2.17zM625.04 443.8h2.17v2.17h-2.17zM633.71 443.8h2.17v2.17h-2.17zM640.21 443.8h2.17v2.17h-2.17zM648.88 443.8h2.17v2.17h-2.17zM655.38 443.8h2.17v2.17h-2.17zM664.05 443.8h2.17v2.17h-2.17zM670.56 443.8h2.17v2.17h-2.17zM679.23 443.8h2.17v2.17h-2.17zM685.73 443.8h4.34v2.17h-4.34zM694.4 443.8h2.17v2.17h-2.17zM703.07 443.8h2.17v2.17h-2.17zM709.57 443.8h2.17v2.17h-2.17zM718.24 443.8h2.17v2.17h-2.17zM724.75 443.8h2.17v2.17h-2.17zM733.41 443.8h2.17v2.17h-2.17zM739.92 443.8h2.17v2.17h-2.17zM748.59 443.8h2.17v2.17h-2.17zM755.09 443.8h2.17v2.17h-2.17zM763.76 443.8h2.17v2.17h-2.17zM770.26 443.8h2.17v2.17h-2.17zM778.93 443.8h2.17v2.17h-2.17zM787.6 443.8h2.17v2.17h-2.17zM794.1 443.8h2.17v2.17h-2.17zM802.77 443.8h2.17v2.17h-2.17zM809.28 443.8h2.17v2.17h-2.17zM817.95 443.8h2.17v2.17h-2.17zM824.45 443.8h2.17v2.17h-2.17zM833.12 443.8h2.17v2.17h-2.17zM839.62 443.8h2.17v2.17h-2.17zM848.29 443.8h2.17v2.17h-2.17zM854.79 443.8h2.17v2.17h-2.17zM863.46 443.8h2.17v2.17h-2.17zM869.97 443.8h2.17v2.17h-2.17zM878.64 443.8h2.17v2.17h-2.17zM887.31 443.8h2.17v2.17h-2.17zM893.81 443.8h2.17v2.17h-2.17zM902.48 443.8h2.17v2.17h-2.17zM908.98 443.8h2.17v2.17h-2.17zM917.65 443.8h2.17v2.17h-2.17zM924.15 443.8h2.17v2.17h-2.17zM932.82 443.8h2.17v2.17h-2.17zM939.33 443.8h2.17v2.17h-2.17zM948 443.8h2.17v2.17h-2.17zM954.5 443.8h2.17v2.17h-2.17zM963.17 443.8h2.17v2.17h-2.17zM969.67 443.8h2.17v2.17h-2.17zM978.34 443.8h2.17v2.17h-2.17zM982.68 443.8h2.17v2.17h-2.17zM989.18 443.8h2.17v2.17h-2.17zM997.85 443.8h2.17v2.17h-2.17zM1004.35 443.8h2.17v2.17h-2.17zM1013.02 443.8h2.17v2.17h-2.17zM1019.52 443.8h2.17v2.17h-2.17zM81 105.67h2.17v8.67h-2.17zM176.37 105.67h2.17v8.67h-2.17zM395.29 105.67h2.17v8.67h-2.17zM1127.9 105.67h2.17v8.67h-2.17zM1151.74 105.67h2.17v8.67h-2.17zM1158.24 105.67h2.17v8.67h-2.17zM1212.43 105.67h2.17v8.67h-2.17zM1218.93 105.67h2.17v8.67h-2.17zM1481.2 105.67h2.17v8.67h-2.17zM1535.39 105.67h2.17v8.67h-2.17zM1546.23 105.67h2.17v8.67h-2.17zM81 220.55h2.17v4.34h-2.17zM120.01 220.55h2.17v4.34h-2.17zM141.69 220.55h2.17v4.34h-2.17zM154.69 220.55h2.17v4.34h-2.17zM237.06 220.55h2.17v4.34h-2.17zM325.93 220.55h2.17v4.34h-2.17zM334.6 220.55h2.17v4.34h-2.17zM386.62 220.55h2.17v4.34h-2.17zM655.38 220.55h2.17v4.34h-2.17zM664.05 220.55h2.17v4.34h-2.17zM703.07 220.55h2.17v4.34h-2.17zM770.26 220.55h2.17v4.34h-2.17zM1002.18 220.55h2.17v4.34h-2.17zM81 387.45h2.17v2.17h-2.17zM102.67 387.45h2.17v2.17h-2.17zM137.35 387.45h2.17v2.17h-2.17zM172.03 387.45h2.17v2.17h-2.17zM185.04 387.45h2.17v2.17h-2.17zM189.37 387.45h2.17v2.17h-2.17zM304.25 387.45h2.17v2.17h-2.17zM310.75 387.45h2.17v2.17h-2.17zM319.42 387.45h2.17v2.17h-2.17zM325.93 387.45h2.17v2.17h-2.17zM334.6 387.45h2.17v2.17h-2.17zM341.1 387.45h2.17v2.17h-2.17zM421.3 387.45h4.33v2.17h-4.33zM429.97 387.45h2.17v2.17h-2.17zM436.47 387.45h4.33v2.17h-4.33zM445.14 387.45h2.17v2.17h-2.17zM451.64 387.45h4.34v2.17h-4.34zM460.31 387.45h2.17v2.17h-2.17zM468.98 387.45h2.17v2.17h-2.17zM475.48 387.45h2.17v2.17h-2.17zM484.15 387.45h2.17v2.17h-2.17zM490.66 387.45h2.17v2.17h-2.17zM499.32 387.45h2.17v2.17h-2.17zM505.83 387.45h2.17v2.17h-2.17zM514.5 387.45h2.17v2.17h-2.17zM573.02 387.45h2.17v2.17h-2.17zM586.02 387.45h4.33v2.17h-4.33zM601.2 387.45h2.17v2.17h-2.17zM672.72 387.45h2.17v2.17h-2.17zM685.73 387.45h4.34v2.17h-4.34zM700.9 387.45h2.17v2.17h-2.17zM81 411.29h2.17v28.18h-2.17zM81 474.15h2.17v23.84h-2.17zM83.16 279.07h2.17v2.17h-2.17zM113.51 279.07h2.17v2.17h-2.17zM154.69 279.07h2.17v2.17h-2.17zM239.23 279.07h2.17v2.17h-2.17zM265.24 279.07h2.17v2.17h-2.17zM282.57 279.07h2.17v2.17h-2.17zM293.41 279.07h2.17v2.17h-2.17zM343.26 279.07h2.17v2.17h-2.17zM358.44 279.07h2.17v2.17h-2.17zM388.78 279.07h2.17v2.17h-2.17zM436.47 279.07h2.17v2.17h-2.17zM475.48 279.07h2.17v2.17h-2.17zM479.82 279.07h2.17v2.17h-2.17zM536.17 279.07h2.17v2.17h-2.17zM583.86 279.07h2.17v2.17h-2.17zM609.87 279.07h2.17v2.17h-2.17zM620.7 279.07h2.17v2.17h-2.17zM635.88 279.07h4.34v2.17h-4.34zM648.88 279.07h2.17v2.17h-2.17zM724.75 279.07h2.17v2.17h-2.17zM735.58 279.07h4.33v2.17h-4.33zM785.43 279.07h4.34v2.17h-4.34zM804.94 279.07h2.17v2.17h-2.17zM817.95 279.07h2.17v2.17h-2.17zM835.29 279.07h2.17v2.17h-2.17zM882.97 279.07h2.17v2.17h-2.17zM902.48 279.07h2.17v2.17h-2.17zM928.49 279.07h2.17v2.17h-2.17zM948 279.07h2.17v2.17h-2.17zM1004.35 279.07h2.17v2.17h-2.17zM1032.53 279.07h2.17v2.17h-2.17zM1084.55 279.07h2.17v2.17h-2.17zM1101.89 279.07h2.17v2.17h-2.17zM1134.4 279.07h2.17v2.17h-2.17zM1171.25 279.07h2.17v2.17h-2.17zM1177.75 279.07h2.17v2.17h-2.17zM1212.43 279.07h2.17v2.17h-2.17zM1221.1 279.07h2.17v2.17h-2.17zM1262.28 279.07h2.17v2.17h-2.17zM1303.47 279.07h2.17v2.17h-2.17zM1320.81 279.07h2.17v2.17h-2.17zM1361.99 279.07h2.17v2.17h-2.17zM1411.84 279.07h2.17v2.17h-2.17zM1418.35 279.07h4.33v2.17h-4.33zM1470.37 279.07h2.17v2.17h-2.17zM1476.87 279.07h2.17v2.17h-2.17zM1485.54 279.07h2.17v2.17h-2.17zM1541.89 279.07h2.17v2.17h-2.17zM83.16 385.28h2.17v2.17h-2.17zM169.87 385.28h2.17v2.17h-2.17zM315.09 385.28h2.17v2.17h-2.17zM321.59 385.28h2.17v2.17h-2.17zM330.26 385.28h2.17v2.17h-2.17zM336.76 385.28h2.17v2.17h-2.17zM419.13 385.28h2.17v2.17h-2.17zM425.63 385.28h2.17v2.17h-2.17zM434.3 385.28h2.17v2.17h-2.17zM440.8 385.28h2.17v2.17h-2.17zM449.47 385.28h2.17v2.17h-2.17zM455.98 385.28h2.17v2.17h-2.17zM464.64 385.28h2.17v2.17h-2.17zM471.15 385.28h2.17v2.17h-2.17zM479.82 385.28h2.17v2.17h-2.17zM494.99 385.28h2.17v2.17h-2.17zM85.33 112.18h2.17v2.17h-2.17zM286.91 112.18h2.17v2.17h-2.17zM299.92 112.18h2.17v2.17h-2.17zM534 112.18h2.17v2.17h-2.17zM570.85 112.18h2.17v2.17h-2.17zM618.54 112.18h2.17v2.17h-2.17zM843.96 112.18h2.17v2.17h-2.17zM1101.89 112.18h2.17v2.17h-2.17zM1286.13 112.18h2.17v2.17h-2.17zM85.33 220.55h2.17v2.17h-2.17zM172.03 220.55h2.17v2.17h-2.17zM349.77 220.55h2.17v2.17h-2.17zM354.1 220.55h2.17v2.17h-2.17zM406.12 220.55h2.17v2.17h-2.17zM410.46 220.55h2.17v2.17h-2.17zM544.84 220.55h2.17v2.17h-2.17zM555.68 220.55h2.17v2.17h-2.17zM579.52 220.55h2.17v2.17h-2.17zM1288.29 220.55h2.17v2.17h-2.17zM1346.82 220.55h2.17v2.17h-2.17zM1442.19 220.55h2.17v2.17h-2.17zM1531.05 220.55h2.17v2.17h-2.17zM85.33 331.09h2.17v4.34h-2.17zM284.74 331.09h2.17v4.34h-2.17zM471.15 331.09h2.17v4.34h-2.17zM1331.64 331.09h2.17v4.34h-2.17zM1338.15 331.09h2.17v4.34h-2.17zM85.33 428.63h2.17v6.5h-2.17zM87.5 164.2h2.17v2.17h-2.17zM102.67 164.2h2.17v2.17h-2.17zM416.96 164.2h2.17v2.17h-2.17zM880.8 164.2h2.17v2.17h-2.17zM87.5 276.91h2.17v2.17h-2.17zM152.53 276.91h2.17v2.17h-2.17zM336.76 276.91h2.17v2.17h-2.17zM87.5 385.28h2.17v4.34h-2.17zM89.67 389.62h2.17v2.17h-2.17zM113.51 389.62h2.17v2.17h-2.17zM122.18 389.62h8.67v2.17h-8.67zM148.19 389.62h8.67v2.17h-8.67zM206.71 389.62h47.69v2.17h-47.69zM980.51 389.62h2.17v2.17h-2.17zM1021.69 389.62h563.55v2.17h-563.55zM91.83 166.36h2.17v2.17h-2.17zM286.91 166.36h2.17v2.17h-2.17zM319.42 166.36h2.17v2.17h-2.17zM1067.21 166.36h2.17v2.17h-2.17zM1372.83 166.36h2.17v2.17h-2.17zM96.17 57.99h2.17v2.17h-2.17zM180.7 57.99h2.17v2.17h-2.17zM525.33 57.99h2.17v2.17h-2.17zM902.48 57.99h2.17v2.17h-2.17zM1273.12 57.99h2.17v2.17h-2.17zM96.17 437.3h2.17v6.5h-2.17zM115.68 437.3h2.17v6.5h-2.17zM122.18 437.3h2.17v6.5h-2.17zM98.34 62.32h2.17v2.17h-2.17zM115.68 62.32h2.17v2.17h-2.17zM143.86 62.32h2.17v2.17h-2.17zM182.87 62.32h4.34v2.17h-4.34zM230.56 62.32h2.17v2.17h-2.17zM260.9 62.32h2.17v2.17h-2.17zM315.09 62.32h2.17v2.17h-2.17zM319.42 62.32h2.17v2.17h-2.17zM325.93 62.32h2.17v2.17h-2.17zM330.26 62.32h2.17v2.17h-2.17zM403.95 62.32h2.17v2.17h-2.17zM429.97 62.32h2.17v2.17h-2.17zM434.3 62.32h2.17v2.17h-2.17zM466.81 62.32h2.17v2.17h-2.17zM479.82 62.32h2.17v2.17h-2.17zM564.35 62.32h2.17v2.17h-2.17zM616.37 62.32h4.33v2.17h-4.33zM694.4 62.32h2.17v2.17h-2.17zM742.08 62.32h2.17v2.17h-2.17zM746.42 62.32h2.17v2.17h-2.17zM752.92 62.32h2.17v2.17h-2.17zM791.94 62.32h2.17v2.17h-2.17zM809.28 62.32h2.17v2.17h-2.17zM826.62 62.32h4.34v2.17h-4.34zM917.65 62.32h2.17v2.17h-2.17zM943.66 62.32h2.17v2.17h-2.17zM976.17 62.32h2.17v2.17h-2.17zM995.68 62.32h2.17v2.17h-2.17zM1043.37 62.32h2.17v2.17h-2.17zM1058.54 62.32h2.17v2.17h-2.17zM1073.71 62.32h2.17v2.17h-2.17zM1121.4 62.32h2.17v2.17h-2.17zM1127.9 62.32h2.17v2.17h-2.17zM1138.74 62.32h4.34v2.17h-4.34zM1145.24 62.32h4.34v2.17h-4.34zM1169.08 62.32h2.17v2.17h-2.17zM1192.92 62.32h2.17v2.17h-2.17zM1208.1 62.32h2.17v2.17h-2.17zM1292.63 62.32h2.17v2.17h-2.17zM1309.97 62.32h4.33v2.17h-4.33zM1318.64 62.32h6.5v2.17h-6.5zM1346.82 62.32h2.17v2.17h-2.17zM1357.65 62.32h2.17v2.17h-2.17zM1366.33 62.32h2.17v2.17h-2.17zM1377.16 62.32h2.17v2.17h-2.17zM1431.35 62.32h2.17v2.17h-2.17zM1494.21 62.32h4.34v2.17h-4.34zM1561.4 62.32h2.17v2.17h-2.17zM1585.24 62.32h2.17v2.17h-2.17zM98.34 170.7h4.34v2.17h-4.34zM113.51 170.7h2.17v2.17h-2.17zM135.19 170.7h2.17v2.17h-2.17zM247.9 170.7h2.17v2.17h-2.17zM256.56 170.7h2.17v2.17h-2.17zM278.24 170.7h2.17v2.17h-2.17zM282.57 170.7h2.17v2.17h-2.17zM289.08 170.7h2.17v2.17h-2.17zM312.92 170.7h2.17v2.17h-2.17zM328.09 170.7h2.17v2.17h-2.17zM343.26 170.7h2.17v2.17h-2.17zM412.62 170.7h2.17v2.17h-2.17zM421.3 170.7h2.17v2.17h-2.17zM447.31 170.7h2.17v2.17h-2.17zM477.65 170.7h2.17v2.17h-2.17zM497.16 170.7h2.17v2.17h-2.17zM510.16 170.7h4.33v2.17h-4.33zM562.18 170.7h2.17v2.17h-2.17zM677.06 170.7h2.17v2.17h-2.17zM685.73 170.7h2.17v2.17h-2.17zM755.09 170.7h2.17v2.17h-2.17zM898.14 170.7h2.17v2.17h-2.17zM906.81 170.7h2.17v2.17h-2.17zM930.66 170.7h2.17v2.17h-2.17zM939.33 170.7h2.17v2.17h-2.17zM954.5 170.7h2.17v2.17h-2.17zM969.67 170.7h2.17v2.17h-2.17zM982.68 170.7h2.17v2.17h-2.17zM991.35 170.7h2.17v2.17h-2.17zM1060.71 170.7h2.17v2.17h-2.17zM1095.39 170.7h2.17v2.17h-2.17zM1110.56 170.7h2.17v2.17h-2.17zM1166.91 170.7h2.17v2.17h-2.17zM1175.59 170.7h2.17v2.17h-2.17zM1229.77 170.7h2.17v2.17h-2.17zM1294.8 170.7h2.17v2.17h-2.17zM1309.97 170.7h2.17v2.17h-2.17zM1344.65 170.7h2.17v2.17h-2.17zM1355.49 170.7h2.17v2.17h-2.17zM1424.85 170.7h2.17v2.17h-2.17zM1483.37 170.7h2.17v2.17h-2.17zM1494.21 170.7h2.17v2.17h-2.17zM1522.38 170.7h2.17v2.17h-2.17zM1533.22 170.7h2.17v2.17h-2.17zM1559.23 170.7h2.17v2.17h-2.17zM102.67 426.46h2.17v2.17h-2.17zM107.01 426.46h2.17v2.17h-2.17zM104.84 333.26h2.17v2.17h-2.17zM167.7 333.26h2.17v2.17h-2.17zM241.39 333.26h2.17v2.17h-2.17zM289.08 333.26h2.17v2.17h-2.17zM323.76 333.26h2.17v2.17h-2.17zM330.26 333.26h4.34v2.17h-4.34zM367.11 333.26h2.17v2.17h-2.17zM373.61 333.26h2.17v2.17h-2.17zM449.47 333.26h2.17v2.17h-2.17zM460.31 333.26h2.17v2.17h-2.17zM551.34 333.26h2.17v2.17h-2.17zM564.35 333.26h2.17v2.17h-2.17zM570.85 333.26h4.34v2.17h-4.34zM583.86 333.26h2.17v2.17h-2.17zM590.36 333.26h2.17v2.17h-2.17zM601.2 333.26h2.17v2.17h-2.17zM765.93 333.26h2.17v2.17h-2.17zM781.1 333.26h2.17v2.17h-2.17zM791.94 333.26h2.17v2.17h-2.17zM800.61 333.26h4.34v2.17h-4.34zM809.28 333.26h2.17v2.17h-2.17zM817.95 333.26h2.17v2.17h-2.17zM824.45 333.26h2.17v2.17h-2.17zM835.29 333.26h4.34v2.17h-4.34zM843.96 333.26h2.17v2.17h-2.17zM850.46 333.26h4.34v2.17h-4.34zM859.13 333.26h2.17v2.17h-2.17zM872.13 333.26h2.17v2.17h-2.17zM900.31 333.26h2.17v2.17h-2.17zM1355.49 333.26h2.17v2.17h-2.17zM1383.66 333.26h2.17v2.17h-2.17zM1398.84 333.26h2.17v2.17h-2.17zM1414.01 333.26h2.17v2.17h-2.17zM1440.02 333.26h2.17v2.17h-2.17zM1455.19 333.26h4.34v2.17h-4.34zM1466.03 333.26h2.17v2.17h-2.17zM1472.53 333.26h2.17v2.17h-2.17zM1481.2 333.26h2.17v2.17h-2.17zM1487.7 333.26h2.17v2.17h-2.17zM1496.38 333.26h2.17v2.17h-2.17zM1502.88 333.26h4.33v2.17h-4.33zM1511.55 333.26h2.17v2.17h-2.17zM1518.05 333.26h4.34v2.17h-4.34zM1526.72 333.26h2.17v2.17h-2.17zM1533.22 333.26h4.34v2.17h-4.34zM1541.89 333.26h2.17v2.17h-2.17zM1550.56 333.26h2.17v2.17h-2.17zM1557.07 333.26h2.17v2.17h-2.17zM1565.73 333.26h2.17v2.17h-2.17zM107.01 112.18h2.17v4.33h-2.17zM211.05 112.18h2.17v4.33h-2.17zM380.11 112.18h2.17v4.33h-2.17zM744.25 112.18h2.17v4.33h-2.17zM993.51 112.18h2.17v4.33h-2.17zM1073.71 112.18h2.17v4.33h-2.17zM1192.92 112.18h2.17v4.33h-2.17zM1335.98 112.18h2.17v4.33h-2.17zM1357.65 112.18h2.17v4.33h-2.17zM1572.24 112.18h2.17v4.33h-2.17zM107.01 168.53h2.17v2.17h-2.17zM334.6 168.53h2.17v2.17h-2.17zM375.78 168.53h2.17v2.17h-2.17zM453.81 168.53h2.17v2.17h-2.17zM538.34 168.53h2.17v2.17h-2.17zM575.19 168.53h2.17v2.17h-2.17zM614.2 168.53h2.17v2.17h-2.17zM1223.27 168.53h2.17v2.17h-2.17zM1472.53 168.53h2.17v2.17h-2.17zM1505.04 168.53h2.17v2.17h-2.17zM107.01 272.57h2.17v4.33h-2.17zM360.61 272.57h2.17v4.33h-2.17zM364.94 272.57h2.17v4.33h-2.17zM107.01 365.77h2.17v19.51h-2.17zM111.34 315.92h2.17v17.34h-2.17zM111.34 365.77h2.17v21.68h-2.17zM161.2 365.77h2.17v21.68h-2.17zM195.88 365.77h2.17v21.68h-2.17zM276.07 365.77h2.17v21.68h-2.17zM664.05 365.77h2.17v21.68h-2.17zM670.56 365.77h2.17v21.68h-2.17zM679.23 365.77h2.17v21.68h-2.17zM694.4 365.77h2.17v21.68h-2.17zM703.07 365.77h2.17v21.68h-2.17zM111.34 411.29h2.17v15.17h-2.17zM115.68 378.78h2.17v8.67h-2.17zM130.85 378.78h2.17v8.67h-2.17zM284.74 378.78h2.17v8.67h-2.17zM291.25 378.78h2.17v8.67h-2.17zM299.92 378.78h2.17v8.67h-2.17zM306.42 378.78h2.17v8.67h-2.17zM503.66 378.78h2.17v8.67h-2.17zM510.16 378.78h2.17v8.67h-2.17zM518.83 378.78h2.17v8.67h-2.17zM525.33 378.78h2.17v8.67h-2.17zM534 378.78h2.17v8.67h-2.17zM540.51 378.78h2.17v8.67h-2.17zM549.18 378.78h2.17v8.67h-2.17zM555.68 378.78h2.17v8.67h-2.17zM564.35 378.78h2.17v8.67h-2.17zM570.85 378.78h2.17v8.67h-2.17zM579.52 378.78h2.17v8.67h-2.17zM594.69 378.78h2.17v8.67h-2.17zM603.36 378.78h2.17v8.67h-2.17zM609.87 378.78h2.17v8.67h-2.17zM618.54 378.78h2.17v8.67h-2.17zM625.04 378.78h2.17v8.67h-2.17zM633.71 378.78h2.17v8.67h-2.17zM640.21 378.78h2.17v8.67h-2.17zM648.88 378.78h2.17v8.67h-2.17zM655.38 378.78h2.17v8.67h-2.17zM117.84 116.51h2.17v2.17h-2.17zM124.35 116.51h4.34v2.17h-4.34zM133.02 116.51h2.17v2.17h-2.17zM152.53 116.51h2.17v2.17h-2.17zM159.03 116.51h2.17v2.17h-2.17zM189.37 116.51h2.17v2.17h-2.17zM282.57 116.51h2.17v2.17h-2.17zM293.41 116.51h2.17v2.17h-2.17zM317.25 116.51h2.17v2.17h-2.17zM334.6 116.51h2.17v2.17h-2.17zM421.3 116.51h2.17v2.17h-2.17zM442.97 116.51h2.17v2.17h-2.17zM451.64 116.51h2.17v2.17h-2.17zM481.99 116.51h2.17v2.17h-2.17zM531.84 116.51h2.17v2.17h-2.17zM536.17 116.51h2.17v2.17h-2.17zM564.35 116.51h2.17v2.17h-2.17zM577.35 116.51h6.5v2.17h-6.5zM629.38 116.51h2.17v2.17h-2.17zM638.04 116.51h2.17v2.17h-2.17zM672.72 116.51h2.17v2.17h-2.17zM681.39 116.51h2.17v2.17h-2.17zM685.73 116.51h4.34v2.17h-4.34zM692.23 116.51h2.17v2.17h-2.17zM722.58 116.51h2.17v2.17h-2.17zM761.59 116.51h2.17v2.17h-2.17zM770.26 116.51h2.17v2.17h-2.17zM787.6 116.51h2.17v2.17h-2.17zM804.94 116.51h2.17v2.17h-2.17zM813.61 116.51h2.17v2.17h-2.17zM837.45 116.51h2.17v2.17h-2.17zM841.79 116.51h2.17v2.17h-2.17zM863.46 116.51h2.17v2.17h-2.17zM872.13 116.51h2.17v2.17h-2.17zM880.8 116.51h2.17v2.17h-2.17zM900.31 116.51h2.17v2.17h-2.17zM906.81 116.51h2.17v2.17h-2.17zM934.99 116.51h2.17v2.17h-2.17zM965.34 116.51h2.17v2.17h-2.17zM991.35 116.51h2.17v2.17h-2.17zM1006.52 116.51h2.17v2.17h-2.17zM1030.36 116.51h2.17v2.17h-2.17zM1036.87 116.51h2.17v2.17h-2.17zM1052.04 116.51h2.17v2.17h-2.17zM1080.21 116.51h2.17v2.17h-2.17zM1099.72 116.51h2.17v2.17h-2.17zM1110.56 116.51h2.17v2.17h-2.17zM1114.89 116.51h2.17v2.17h-2.17zM1134.4 116.51h2.17v2.17h-2.17zM1156.08 116.51h2.17v2.17h-2.17zM1164.75 116.51h2.17v2.17h-2.17zM1177.75 116.51h2.17v2.17h-2.17zM1195.09 116.51h2.17v2.17h-2.17zM1199.43 116.51h2.17v2.17h-2.17zM1205.93 116.51h2.17v2.17h-2.17zM1214.6 116.51h2.17v2.17h-2.17zM1264.45 116.51h2.17v2.17h-2.17zM1320.81 116.51h2.17v2.17h-2.17zM1348.98 116.51h2.17v2.17h-2.17zM1359.82 116.51h2.17v2.17h-2.17zM1494.21 116.51h2.17v2.17h-2.17zM1518.05 116.51h4.34v2.17h-4.34zM1524.55 116.51h2.17v2.17h-2.17zM1563.57 116.51h2.17v2.17h-2.17zM1585.24 116.51h2.17v2.17h-2.17zM120.01 378.78h2.17v6.5h-2.17zM122.18 326.76h2.17v8.67h-2.17zM315.09 326.76h2.17v8.67h-2.17zM360.61 326.76h2.17v8.67h-2.17zM395.29 326.76h2.17v8.67h-2.17zM429.97 326.76h2.17v8.67h-2.17zM479.82 326.76h2.17v8.67h-2.17zM544.84 326.76h2.17v8.67h-2.17zM618.54 326.76h2.17v8.67h-2.17zM625.04 326.76h2.17v8.67h-2.17zM633.71 326.76h2.17v8.67h-2.17zM744.25 326.76h2.17v8.67h-2.17zM752.92 326.76h2.17v8.67h-2.17zM759.42 326.76h2.17v8.67h-2.17zM917.65 326.76h2.17v8.67h-2.17zM924.15 326.76h2.17v8.67h-2.17zM932.82 326.76h2.17v8.67h-2.17zM939.33 326.76h2.17v8.67h-2.17zM948 326.76h2.17v8.67h-2.17zM954.5 326.76h2.17v8.67h-2.17zM963.17 326.76h2.17v8.67h-2.17zM1231.94 326.76h2.17v8.67h-2.17zM1238.44 326.76h2.17v8.67h-2.17zM1247.11 326.76h2.17v8.67h-2.17zM1253.62 326.76h2.17v8.67h-2.17zM1262.28 326.76h2.17v8.67h-2.17zM1268.79 326.76h2.17v8.67h-2.17zM1277.46 326.76h2.17v8.67h-2.17zM1286.13 326.76h2.17v8.67h-2.17zM1292.63 326.76h2.17v8.67h-2.17zM1301.3 326.76h2.17v8.67h-2.17zM1307.8 326.76h2.17v8.67h-2.17zM1316.47 326.76h2.17v8.67h-2.17zM1322.97 326.76h2.17v8.67h-2.17zM124.35 224.89h2.17v2.17h-2.17zM152.53 224.89h2.17v2.17h-2.17zM159.03 224.89h2.17v2.17h-2.17zM178.53 224.89h2.17v2.17h-2.17zM239.23 224.89h2.17v2.17h-2.17zM267.4 224.89h2.17v2.17h-2.17zM291.25 224.89h2.17v2.17h-2.17zM308.59 224.89h2.17v2.17h-2.17zM442.97 224.89h2.17v2.17h-2.17zM451.64 224.89h2.17v2.17h-2.17zM590.36 224.89h2.17v2.17h-2.17zM622.87 224.89h2.17v2.17h-2.17zM700.9 224.89h2.17v2.17h-2.17zM707.4 224.89h2.17v2.17h-2.17zM750.75 224.89h2.17v2.17h-2.17zM772.43 224.89h2.17v2.17h-2.17zM800.61 224.89h2.17v2.17h-2.17zM807.11 224.89h4.34v2.17h-4.34zM872.13 224.89h2.17v2.17h-2.17zM915.48 224.89h2.17v2.17h-2.17zM991.35 224.89h2.17v2.17h-2.17zM1015.19 224.89h2.17v2.17h-2.17zM1084.55 224.89h2.17v2.17h-2.17zM1195.09 224.89h2.17v2.17h-2.17zM1221.1 224.89h2.17v2.17h-2.17zM1255.78 224.89h2.17v2.17h-2.17zM1340.32 224.89h2.17v2.17h-2.17zM1383.66 224.89h2.17v2.17h-2.17zM1431.35 224.89h2.17v2.17h-2.17zM130.85 441.64h2.17v2.17h-2.17zM137.35 441.64h2.17v2.17h-2.17zM146.02 441.64h2.17v2.17h-2.17zM154.69 441.64h2.17v2.17h-2.17zM135.19 263.9h2.17v13h-2.17zM185.04 263.9h2.17v13h-2.17zM434.3 263.9h2.17v13h-2.17zM494.99 263.9h2.17v13h-2.17zM137.35 211.88h2.17v13h-2.17zM187.21 211.88h2.17v13h-2.17zM191.54 211.88h2.17v13h-2.17zM286.91 211.88h2.17v13h-2.17zM319.42 211.88h2.17v13h-2.17zM330.26 211.88h2.17v13h-2.17zM421.3 211.88h2.17v13h-2.17zM733.41 211.88h2.17v13h-2.17zM739.92 211.88h2.17v13h-2.17zM744.25 211.88h2.17v13h-2.17zM752.92 211.88h2.17v13h-2.17zM763.76 211.88h2.17v13h-2.17zM1004.35 211.88h2.17v13h-2.17zM1186.42 211.88h2.17v13h-2.17zM1318.64 211.88h2.17v13h-2.17zM1372.83 211.88h2.17v13h-2.17zM1418.35 211.88h2.17v13h-2.17zM1515.88 211.88h2.17v13h-2.17zM1535.39 211.88h2.17v13h-2.17zM137.35 315.92h2.17v13h-2.17zM141.69 378.78h2.17v10.84h-2.17zM187.21 378.78h2.17v10.84h-2.17zM146.02 166.36h2.17v4.34h-2.17zM211.05 166.36h2.17v4.34h-2.17zM254.4 166.36h2.17v4.34h-2.17zM369.28 166.36h2.17v4.34h-2.17zM406.12 166.36h2.17v4.34h-2.17zM570.85 166.36h2.17v4.34h-2.17zM609.87 166.36h2.17v4.34h-2.17zM618.54 166.36h2.17v4.34h-2.17zM640.21 166.36h2.17v4.34h-2.17zM703.07 166.36h2.17v4.34h-2.17zM752.92 166.36h2.17v4.34h-2.17zM837.45 166.36h2.17v4.34h-2.17zM952.33 166.36h2.17v4.34h-2.17zM1117.06 166.36h2.17v4.34h-2.17zM1158.24 166.36h2.17v4.34h-2.17zM1268.79 166.36h2.17v4.34h-2.17zM1500.71 166.36h2.17v4.34h-2.17zM1541.89 166.36h2.17v4.34h-2.17zM1561.4 166.36h2.17v4.34h-2.17zM146.02 324.59h2.17v2.17h-2.17zM148.19 328.93h2.17v2.17h-2.17zM154.69 159.86h2.17v10.84h-2.17zM226.22 159.86h2.17v10.84h-2.17zM234.89 159.86h2.17v10.84h-2.17zM336.76 159.86h2.17v10.84h-2.17zM429.97 159.86h2.17v10.84h-2.17zM525.33 159.86h2.17v10.84h-2.17zM529.67 159.86h2.17v10.84h-2.17zM549.18 159.86h2.17v10.84h-2.17zM560.01 159.86h2.17v10.84h-2.17zM698.73 159.86h2.17v10.84h-2.17zM739.92 159.86h2.17v10.84h-2.17zM744.25 159.86h2.17v10.84h-2.17zM863.46 159.86h2.17v10.84h-2.17zM937.16 159.86h2.17v10.84h-2.17zM963.17 159.86h2.17v10.84h-2.17zM1086.72 159.86h2.17v10.84h-2.17zM1127.9 159.86h2.17v10.84h-2.17zM1169.08 159.86h2.17v10.84h-2.17zM1236.27 159.86h2.17v10.84h-2.17zM1411.84 159.86h2.17v10.84h-2.17zM1442.19 159.86h2.17v10.84h-2.17zM1453.02 159.86h2.17v10.84h-2.17zM1457.36 159.86h2.17v10.84h-2.17zM1531.05 159.86h2.17v10.84h-2.17zM165.53 222.72h2.17v2.17h-2.17zM180.7 222.72h2.17v2.17h-2.17zM202.38 222.72h2.17v2.17h-2.17zM321.59 222.72h2.17v2.17h-2.17zM375.78 222.72h2.17v2.17h-2.17zM390.95 222.72h2.17v2.17h-2.17zM629.38 222.72h2.17v2.17h-2.17zM668.39 222.72h2.17v2.17h-2.17zM724.75 222.72h2.17v2.17h-2.17zM802.77 222.72h2.17v2.17h-2.17zM813.61 222.72h2.17v2.17h-2.17zM843.96 222.72h2.17v2.17h-2.17zM867.8 222.72h2.17v2.17h-2.17zM889.47 222.72h2.17v2.17h-2.17zM893.81 222.72h2.17v2.17h-2.17zM898.14 222.72h2.17v2.17h-2.17zM902.48 222.72h2.17v2.17h-2.17zM1032.53 222.72h2.17v2.17h-2.17zM1039.03 222.72h2.17v2.17h-2.17zM1119.23 222.72h2.17v2.17h-2.17zM1188.59 222.72h2.17v2.17h-2.17zM1286.13 222.72h2.17v2.17h-2.17zM187.21 276.91h2.17v4.34h-2.17zM219.72 276.91h2.17v4.34h-2.17zM503.66 276.91h2.17v4.34h-2.17zM599.03 276.91h2.17v4.34h-2.17zM659.72 276.91h2.17v4.34h-2.17zM683.56 276.91h2.17v4.34h-2.17zM755.09 276.91h2.17v4.34h-2.17zM768.09 276.91h2.17v4.34h-2.17zM824.45 276.91h2.17v4.34h-2.17zM837.45 276.91h2.17v4.34h-2.17zM863.46 276.91h2.17v4.34h-2.17zM954.5 276.91h2.17v4.34h-2.17zM974.01 276.91h2.17v4.34h-2.17zM1067.21 276.91h2.17v4.34h-2.17zM1093.22 276.91h2.17v4.34h-2.17zM1136.57 276.91h2.17v4.34h-2.17zM1162.58 276.91h2.17v4.34h-2.17zM1169.08 276.91h2.17v4.34h-2.17zM1218.93 276.91h2.17v4.34h-2.17zM1247.11 276.91h2.17v4.34h-2.17zM1253.62 276.91h2.17v4.34h-2.17zM1312.14 276.91h2.17v4.34h-2.17zM1318.64 276.91h2.17v4.34h-2.17zM1346.82 276.91h2.17v4.34h-2.17zM1353.32 276.91h2.17v4.34h-2.17zM1427.01 276.91h2.17v4.34h-2.17zM1468.2 276.91h2.17v4.34h-2.17zM1550.56 276.91h2.17v4.34h-2.17zM1557.07 276.91h2.17v4.34h-2.17zM191.54 53.65h2.17v4.34h-2.17zM993.51 53.65h2.17v4.34h-2.17zM195.88 263.9h2.17v15.17h-2.17zM349.77 263.9h2.17v15.17h-2.17zM354.1 263.9h2.17v15.17h-2.17zM371.44 263.9h2.17v15.17h-2.17zM518.83 263.9h2.17v15.17h-2.17zM705.24 263.9h2.17v15.17h-2.17zM200.21 53.65h2.17v8.67h-2.17zM395.29 53.65h2.17v8.67h-2.17zM445.14 53.65h2.17v8.67h-2.17zM534 53.65h2.17v8.67h-2.17zM540.51 53.65h2.17v8.67h-2.17zM590.36 53.65h2.17v8.67h-2.17zM614.2 53.65h2.17v8.67h-2.17zM648.88 53.65h2.17v8.67h-2.17zM683.56 53.65h2.17v8.67h-2.17zM718.24 53.65h2.17v8.67h-2.17zM733.41 53.65h2.17v8.67h-2.17zM739.92 53.65h2.17v8.67h-2.17zM820.11 53.65h2.17v8.67h-2.17zM852.63 53.65h2.17v8.67h-2.17zM1002.18 53.65h2.17v8.67h-2.17zM1104.06 53.65h2.17v8.67h-2.17zM1518.05 53.65h2.17v8.67h-2.17zM1550.56 53.65h2.17v8.67h-2.17zM1572.24 53.65h2.17v8.67h-2.17zM204.55 315.92h2.17v19.51h-2.17zM221.89 315.92h2.17v19.51h-2.17zM237.06 315.92h2.17v19.51h-2.17zM250.06 315.92h2.17v19.51h-2.17zM254.4 315.92h2.17v19.51h-2.17zM271.74 315.92h2.17v19.51h-2.17zM341.1 315.92h2.17v19.51h-2.17zM354.1 315.92h2.17v19.51h-2.17zM421.3 315.92h2.17v19.51h-2.17zM494.99 315.92h2.17v19.51h-2.17zM521 315.92h2.17v19.51h-2.17zM529.67 315.92h2.17v19.51h-2.17zM640.21 315.92h2.17v19.51h-2.17zM648.88 315.92h2.17v19.51h-2.17zM655.38 315.92h2.17v19.51h-2.17zM705.24 315.92h2.17v19.51h-2.17zM713.91 315.92h2.17v19.51h-2.17zM720.41 315.92h2.17v19.51h-2.17zM729.08 315.92h2.17v19.51h-2.17zM969.67 315.92h2.17v19.51h-2.17zM978.34 315.92h2.17v19.51h-2.17zM982.68 315.92h2.17v19.51h-2.17zM989.18 315.92h2.17v19.51h-2.17zM997.85 315.92h2.17v19.51h-2.17zM1004.35 315.92h2.17v19.51h-2.17zM1013.02 315.92h2.17v19.51h-2.17zM1019.52 315.92h2.17v19.51h-2.17zM1147.41 315.92h2.17v19.51h-2.17zM1153.91 315.92h2.17v19.51h-2.17zM1162.58 315.92h2.17v19.51h-2.17zM1169.08 315.92h2.17v19.51h-2.17zM1177.75 315.92h2.17v19.51h-2.17zM1186.42 315.92h2.17v19.51h-2.17zM1192.92 315.92h2.17v19.51h-2.17zM1201.6 315.92h2.17v19.51h-2.17zM1208.1 315.92h2.17v19.51h-2.17zM1216.77 315.92h2.17v19.51h-2.17zM1223.27 315.92h2.17v19.51h-2.17zM204.55 365.77h2.17v23.84h-2.17zM254.4 365.77h2.17v23.84h-2.17zM260.9 365.77h2.17v23.84h-2.17zM269.57 365.77h2.17v23.84h-2.17zM709.57 365.77h2.17v23.84h-2.17zM718.24 365.77h2.17v23.84h-2.17zM724.75 365.77h2.17v23.84h-2.17zM733.41 365.77h2.17v23.84h-2.17zM739.92 365.77h2.17v23.84h-2.17zM748.59 365.77h2.17v23.84h-2.17zM755.09 365.77h2.17v23.84h-2.17zM763.76 365.77h2.17v23.84h-2.17zM770.26 365.77h2.17v23.84h-2.17zM778.93 365.77h2.17v23.84h-2.17zM794.1 365.77h2.17v23.84h-2.17zM802.77 365.77h2.17v23.84h-2.17zM809.28 365.77h2.17v23.84h-2.17zM817.95 365.77h2.17v23.84h-2.17zM824.45 365.77h2.17v23.84h-2.17zM833.12 365.77h2.17v23.84h-2.17zM839.62 365.77h2.17v23.84h-2.17zM848.29 365.77h2.17v23.84h-2.17zM854.79 365.77h2.17v23.84h-2.17zM863.46 365.77h2.17v23.84h-2.17zM869.97 365.77h2.17v23.84h-2.17zM878.64 365.77h2.17v23.84h-2.17zM887.31 365.77h2.17v23.84h-2.17zM893.81 365.77h2.17v23.84h-2.17zM902.48 365.77h2.17v23.84h-2.17zM908.98 365.77h2.17v23.84h-2.17zM917.65 365.77h2.17v23.84h-2.17zM924.15 365.77h2.17v23.84h-2.17zM932.82 365.77h2.17v23.84h-2.17zM939.33 365.77h2.17v23.84h-2.17zM948 365.77h2.17v23.84h-2.17zM954.5 365.77h2.17v23.84h-2.17zM963.17 365.77h2.17v23.84h-2.17zM969.67 365.77h2.17v23.84h-2.17zM978.34 365.77h2.17v23.84h-2.17zM982.68 365.77h2.17v23.84h-2.17zM989.18 365.77h2.17v23.84h-2.17zM997.85 365.77h2.17v23.84h-2.17zM1004.35 365.77h2.17v23.84h-2.17zM1013.02 365.77h2.17v23.84h-2.17zM1019.52 365.77h2.17v23.84h-2.17zM206.71 272.57h2.17v6.5h-2.17zM284.74 272.57h2.17v6.5h-2.17zM291.25 272.57h2.17v6.5h-2.17zM310.75 272.57h2.17v6.5h-2.17zM315.09 272.57h2.17v6.5h-2.17zM219.72 53.65h2.17v2.17h-2.17zM659.72 53.65h2.17v2.17h-2.17zM224.05 270.4h2.17v2.17h-2.17zM915.48 270.4h2.17v2.17h-2.17zM1440.02 270.4h2.17v2.17h-2.17zM241.39 159.86h2.17v8.67h-2.17zM315.09 159.86h2.17v8.67h-2.17zM434.3 159.86h2.17v8.67h-2.17zM633.71 159.86h2.17v8.67h-2.17zM802.77 159.86h2.17v8.67h-2.17zM1058.54 159.86h2.17v8.67h-2.17zM1286.13 159.86h2.17v8.67h-2.17zM1381.5 159.86h2.17v8.67h-2.17zM245.73 57.99h2.17v4.34h-2.17zM286.91 57.99h2.17v4.34h-2.17zM484.15 57.99h2.17v4.34h-2.17zM503.66 57.99h2.17v4.34h-2.17zM579.52 57.99h2.17v4.34h-2.17zM774.6 57.99h2.17v4.34h-2.17zM843.96 57.99h2.17v4.34h-2.17zM997.85 57.99h2.17v4.34h-2.17zM1039.03 57.99h2.17v4.34h-2.17zM1067.21 57.99h2.17v4.34h-2.17zM1082.38 57.99h2.17v4.34h-2.17zM1119.23 57.99h2.17v4.34h-2.17zM1277.46 57.99h2.17v4.34h-2.17zM1565.73 57.99h2.17v4.34h-2.17zM254.4 263.9h2.17v17.34h-2.17zM256.56 211.88h2.17v10.84h-2.17zM345.43 211.88h2.17v10.84h-2.17zM1117.06 211.88h2.17v10.84h-2.17zM1127.9 211.88h2.17v10.84h-2.17zM1158.24 211.88h2.17v10.84h-2.17zM1162.58 211.88h2.17v10.84h-2.17zM1238.44 211.88h2.17v10.84h-2.17zM1247.11 211.88h2.17v10.84h-2.17zM1368.49 211.88h2.17v10.84h-2.17zM1476.87 211.88h2.17v10.84h-2.17zM1481.2 211.88h2.17v10.84h-2.17zM260.9 331.09h2.17v2.17h-2.17zM295.58 331.09h2.17v2.17h-2.17zM321.59 331.09h2.17v2.17h-2.17zM334.6 331.09h2.17v2.17h-2.17zM369.28 331.09h2.17v2.17h-2.17zM386.62 331.09h2.17v2.17h-2.17zM464.64 331.09h2.17v2.17h-2.17zM553.51 331.09h2.17v2.17h-2.17zM560.01 331.09h2.17v2.17h-2.17zM603.36 331.09h2.17v2.17h-2.17zM609.87 331.09h2.17v2.17h-2.17zM768.09 331.09h2.17v2.17h-2.17zM774.6 331.09h2.17v2.17h-2.17zM783.27 331.09h2.17v2.17h-2.17zM789.77 331.09h2.17v2.17h-2.17zM878.64 331.09h2.17v2.17h-2.17zM887.31 331.09h2.17v2.17h-2.17zM893.81 331.09h2.17v2.17h-2.17zM902.48 331.09h2.17v2.17h-2.17zM908.98 331.09h2.17v2.17h-2.17zM1346.82 331.09h2.17v2.17h-2.17zM1353.32 331.09h2.17v2.17h-2.17zM1361.99 331.09h2.17v2.17h-2.17zM1368.49 331.09h2.17v2.17h-2.17zM1377.16 331.09h2.17v2.17h-2.17zM1385.83 331.09h2.17v2.17h-2.17zM1392.34 331.09h2.17v2.17h-2.17zM1401 331.09h2.17v2.17h-2.17zM1407.51 331.09h2.17v2.17h-2.17zM1416.18 331.09h2.17v2.17h-2.17zM1422.68 331.09h2.17v2.17h-2.17zM1431.35 331.09h2.17v2.17h-2.17zM1437.85 331.09h2.17v2.17h-2.17zM289.08 114.34h2.17v2.17h-2.17zM373.61 114.34h2.17v2.17h-2.17zM484.15 114.34h2.17v2.17h-2.17zM733.41 114.34h2.17v2.17h-2.17zM1023.86 114.34h2.17v2.17h-2.17zM295.58 53.65h2.17v6.5h-2.17zM334.6 53.65h2.17v6.5h-2.17zM380.11 53.65h2.17v6.5h-2.17zM544.84 53.65h2.17v6.5h-2.17zM644.55 53.65h2.17v6.5h-2.17zM668.39 53.65h2.17v6.5h-2.17zM1088.88 53.65h2.17v6.5h-2.17zM308.59 60.16h2.17v2.17h-2.17zM566.52 60.16h2.17v2.17h-2.17zM984.84 60.16h2.17v2.17h-2.17zM1539.72 60.16h2.17v2.17h-2.17zM399.62 105.67h2.17v4.34h-2.17zM464.64 105.67h2.17v4.34h-2.17zM590.36 105.67h2.17v4.34h-2.17zM410.46 272.57h2.17v2.17h-2.17zM427.8 51.49h2.17v2.17h-2.17zM887.31 51.49h2.17v2.17h-2.17zM1166.91 51.49h2.17v2.17h-2.17zM1290.46 51.49h2.17v2.17h-2.17zM1355.49 51.49h2.17v2.17h-2.17zM1388 51.49h2.17v2.17h-2.17zM434.3 105.67h2.17v10.84h-2.17zM575.19 105.67h2.17v10.84h-2.17zM655.38 105.67h2.17v10.84h-2.17zM852.63 105.67h2.17v10.84h-2.17zM932.82 105.67h2.17v10.84h-2.17zM1039.03 105.67h2.17v10.84h-2.17zM1067.21 105.67h2.17v10.84h-2.17zM1138.74 105.67h2.17v10.84h-2.17zM1346.82 105.67h2.17v10.84h-2.17zM1353.32 105.67h2.17v10.84h-2.17zM1403.17 105.67h2.17v10.84h-2.17zM1507.21 105.67h2.17v10.84h-2.17zM514.5 211.88h2.17v6.5h-2.17zM633.71 211.88h2.17v6.5h-2.17zM1052.04 211.88h2.17v6.5h-2.17zM1062.88 211.88h2.17v6.5h-2.17zM1112.73 211.88h2.17v6.5h-2.17zM1132.23 211.88h2.17v6.5h-2.17zM1147.41 211.88h2.17v6.5h-2.17zM1173.42 211.88h2.17v6.5h-2.17zM521 272.57h2.17v8.67h-2.17zM703.07 272.57h2.17v8.67h-2.17zM798.44 272.57h2.17v8.67h-2.17zM908.98 272.57h2.17v8.67h-2.17zM919.82 272.57h2.17v8.67h-2.17zM1023.86 272.57h2.17v8.67h-2.17zM1073.71 272.57h2.17v8.67h-2.17zM1086.72 272.57h2.17v8.67h-2.17zM1143.07 272.57h2.17v8.67h-2.17zM1435.68 272.57h2.17v8.67h-2.17zM1461.69 272.57h2.17v8.67h-2.17zM1565.73 272.57h2.17v8.67h-2.17zM592.53 110.01h2.17v2.17h-2.17zM596.86 110.01h2.17v2.17h-2.17zM915.48 110.01h2.17v2.17h-2.17zM622.87 55.82h2.17v2.17h-2.17zM867.8 263.9h2.17v6.5h-2.17zM1019.52 263.9h2.17v6.5h-2.17zM1147.41 263.9h2.17v6.5h-2.17zM1158.24 263.9h2.17v6.5h-2.17zM1576.57 263.9h2.17v6.5h-2.17zM878.64 159.86h2.17v4.34h-2.17zM887.31 159.86h2.17v4.34h-2.17zM924.15 105.67h2.17v6.5h-2.17zM1338.15 105.67h2.17v6.5h-2.17zM1197.26 218.38h2.17v2.17h-2.17zM1296.96 218.38h2.17v2.17h-2.17zM1392.34 218.38h2.17v2.17h-2.17z"/>
<path style="mix-blend-mode:plus-lighter" fill-opacity="0.75" d="M76.66 62.32h2.17v2.17h-2.17zM102.67 62.32h2.17v2.17h-2.17zM107.01 62.32h2.17v2.17h-2.17zM111.34 62.32h2.17v2.17h-2.17zM126.52 62.32h2.17v2.17h-2.17zM130.85 62.32h2.17v2.17h-2.17zM159.03 62.32h2.17v2.17h-2.17zM198.04 62.32h2.17v2.17h-2.17zM215.38 62.32h2.17v2.17h-2.17zM226.22 62.32h2.17v2.17h-2.17zM234.89 62.32h4.34v2.17h-4.34zM250.06 62.32h2.17v2.17h-2.17zM258.73 62.32h2.17v2.17h-2.17zM265.24 62.32h2.17v2.17h-2.17zM276.07 62.32h2.17v2.17h-2.17zM280.41 62.32h2.17v2.17h-2.17zM302.08 62.32h2.17v2.17h-2.17zM306.42 62.32h2.17v2.17h-2.17zM310.75 62.32h2.17v2.17h-2.17zM336.76 62.32h6.5v2.17h-6.5zM351.94 62.32h2.17v2.17h-2.17zM410.46 62.32h2.17v2.17h-2.17zM419.13 62.32h2.17v2.17h-2.17zM438.63 62.32h2.17v2.17h-2.17zM471.15 62.32h2.17v2.17h-2.17zM488.49 62.32h2.17v2.17h-2.17zM499.32 62.32h2.17v2.17h-2.17zM508 62.32h2.17v2.17h-2.17zM514.5 62.32h2.17v2.17h-2.17zM529.67 62.32h2.17v2.17h-2.17zM536.17 62.32h2.17v2.17h-2.17zM553.51 62.32h2.17v2.17h-2.17zM568.68 62.32h2.17v2.17h-2.17zM594.69 62.32h2.17v2.17h-2.17zM599.03 62.32h2.17v2.17h-2.17zM609.87 62.32h2.17v2.17h-2.17zM620.7 62.32h2.17v2.17h-2.17zM640.21 62.32h2.17v2.17h-2.17zM651.05 62.32h2.17v2.17h-2.17zM657.55 62.32h2.17v2.17h-2.17zM674.89 62.32h2.17v2.17h-2.17zM685.73 62.32h6.5v2.17h-6.5zM703.07 62.32h2.17v2.17h-2.17zM720.41 62.32h4.34v2.17h-4.34zM748.59 62.32h2.17v2.17h-2.17zM763.76 62.32h2.17v2.17h-2.17zM770.26 62.32h2.17v2.17h-2.17zM778.93 62.32h2.17v2.17h-2.17zM813.61 62.32h2.17v2.17h-2.17zM833.12 62.32h8.67v2.17h-8.67zM848.29 62.32h2.17v2.17h-2.17zM854.79 62.32h4.34v2.17h-4.34zM882.97 62.32h2.17v2.17h-2.17zM898.14 62.32h4.33v2.17h-4.33zM906.81 62.32h2.17v2.17h-2.17zM913.32 62.32h2.17v2.17h-2.17zM934.99 62.32h2.17v2.17h-2.17zM948 62.32h2.17v2.17h-2.17zM952.33 62.32h4.33v2.17h-4.33zM958.83 62.32h2.17v2.17h-2.17zM978.34 62.32h2.17v2.17h-2.17zM989.18 62.32h2.17v2.17h-2.17zM1000.02 62.32h2.17v2.17h-2.17zM1006.52 62.32h2.17v2.17h-2.17zM1019.52 62.32h2.17v2.17h-2.17zM1047.7 62.32h2.17v2.17h-2.17zM1065.04 62.32h2.17v2.17h-2.17zM1084.55 62.32h2.17v2.17h-2.17zM1101.89 62.32h2.17v2.17h-2.17zM1117.06 62.32h2.17v2.17h-2.17zM1134.4 62.32h4.34v2.17h-4.34zM1149.58 62.32h2.17v2.17h-2.17zM1156.08 62.32h2.17v2.17h-2.17zM1175.59 62.32h2.17v2.17h-2.17zM1205.93 62.32h2.17v2.17h-2.17zM1218.93 62.32h2.17v2.17h-2.17zM1223.27 62.32h2.17v2.17h-2.17zM1231.94 62.32h2.17v2.17h-2.17zM1238.44 62.32h2.17v2.17h-2.17zM1262.28 62.32h2.17v2.17h-2.17zM1275.29 62.32h2.17v2.17h-2.17zM1288.29 62.32h2.17v2.17h-2.17zM1303.47 62.32h2.17v2.17h-2.17zM1316.47 62.32h2.17v2.17h-2.17zM1333.81 62.32h4.34v2.17h-4.34zM1348.98 62.32h6.5v2.17h-6.5zM1368.49 62.32h2.17v2.17h-2.17zM1398.84 62.32h2.17v2.17h-2.17zM1403.17 62.32h2.17v2.17h-2.17zM1416.18 62.32h2.17v2.17h-2.17zM1437.85 62.32h2.17v2.17h-2.17zM1442.19 62.32h2.17v2.17h-2.17zM1448.69 62.32h6.5v2.17h-6.5zM1457.36 62.32h2.17v2.17h-2.17zM1461.69 62.32h2.17v2.17h-2.17zM1470.37 62.32h2.17v2.17h-2.17zM1476.87 62.32h2.17v2.17h-2.17zM1481.2 62.32h2.17v2.17h-2.17zM1500.71 62.32h2.17v2.17h-2.17zM1507.21 62.32h2.17v2.17h-2.17zM1520.22 62.32h2.17v2.17h-2.17zM1526.72 62.32h2.17v2.17h-2.17zM1531.05 62.32h2.17v2.17h-2.17zM1546.23 62.32h2.17v2.17h-2.17zM1554.9 62.32h2.17v2.17h-2.17zM76.66 389.62h2.17v2.17h-2.17zM85.33 389.62h2.17v2.17h-2.17zM91.83 389.62h2.17v2.17h-2.17zM96.17 389.62h2.17v2.17h-2.17zM100.5 389.62h2.17v2.17h-2.17zM104.84 389.62h2.17v2.17h-2.17zM146.02 389.62h2.17v2.17h-2.17zM156.86 389.62h2.17v2.17h-2.17zM200.21 389.62h2.17v2.17h-2.17zM256.56 389.62h2.17v2.17h-2.17zM265.24 389.62h2.17v2.17h-2.17zM271.74 389.62h2.17v2.17h-2.17zM705.24 389.62h2.17v2.17h-2.17zM713.91 389.62h2.17v2.17h-2.17zM720.41 389.62h4.34v2.17h-4.34zM729.08 389.62h2.17v2.17h-2.17zM735.58 389.62h4.33v2.17h-4.33zM744.25 389.62h2.17v2.17h-2.17zM750.75 389.62h4.33v2.17h-4.33zM759.42 389.62h2.17v2.17h-2.17zM768.09 389.62h2.17v2.17h-2.17zM774.6 389.62h2.17v2.17h-2.17zM783.27 389.62h2.17v2.17h-2.17zM789.77 389.62h2.17v2.17h-2.17zM798.44 389.62h2.17v2.17h-2.17zM804.94 389.62h2.17v2.17h-2.17zM813.61 389.62h2.17v2.17h-2.17zM820.11 389.62h4.34v2.17h-4.34zM828.78 389.62h2.17v2.17h-2.17zM835.29 389.62h4.34v2.17h-4.34zM843.96 389.62h2.17v2.17h-2.17zM850.46 389.62h4.34v2.17h-4.34zM859.13 389.62h2.17v2.17h-2.17zM867.8 389.62h2.17v2.17h-2.17zM874.3 389.62h2.17v2.17h-2.17zM882.97 389.62h2.17v2.17h-2.17zM889.47 389.62h2.17v2.17h-2.17zM898.14 389.62h2.17v2.17h-2.17zM904.65 389.62h2.17v2.17h-2.17zM913.32 389.62h2.17v2.17h-2.17zM919.82 389.62h4.34v2.17h-4.34zM928.49 389.62h2.17v2.17h-2.17zM934.99 389.62h4.34v2.17h-4.34zM943.66 389.62h2.17v2.17h-2.17zM950.16 389.62h4.34v2.17h-4.34zM958.83 389.62h2.17v2.17h-2.17zM967.5 389.62h2.17v2.17h-2.17zM974.01 389.62h2.17v2.17h-2.17zM984.84 389.62h4.34v2.17h-4.34zM993.51 389.62h2.17v2.17h-2.17zM1000.02 389.62h4.34v2.17h-4.34zM1008.69 389.62h2.17v2.17h-2.17zM1017.36 389.62h2.17v2.17h-2.17zM78.83 335.43h2.17v2.17h-2.17zM83.16 335.43h4.34v2.17h-4.34zM89.67 335.43h2.17v2.17h-2.17zM94 335.43h2.17v2.17h-2.17zM104.84 335.43h2.17v2.17h-2.17zM111.34 335.43h8.67v2.17h-8.67zM122.18 335.43h4.34v2.17h-4.34zM128.68 335.43h4.34v2.17h-4.34zM135.19 335.43h17.34v2.17h-17.34zM154.69 335.43h2.17v2.17h-2.17zM159.03 335.43h2.17v2.17h-2.17zM163.36 335.43h17.34v2.17h-17.34zM182.87 335.43h2.17v2.17h-2.17zM187.21 335.43h8.67v2.17h-8.67zM198.04 335.43h2.17v2.17h-2.17zM202.38 335.43h4.34v2.17h-4.34zM208.88 335.43h4.34v2.17h-4.34zM217.55 335.43h2.17v2.17h-2.17zM221.89 335.43h8.67v2.17h-8.67zM232.72 335.43h2.17v2.17h-2.17zM237.06 335.43h15.17v2.17h-15.17zM254.4 335.43h2.17v2.17h-2.17zM258.73 335.43h10.84v2.17h-10.84zM271.74 335.43h2.17v2.17h-2.17zM278.24 335.43h2.17v2.17h-2.17zM282.57 335.43h13v2.17h-13zM297.75 335.43h2.17v2.17h-2.17zM302.08 335.43h2.17v2.17h-2.17zM312.92 335.43h8.67v2.17h-8.67zM323.76 335.43h4.34v2.17h-4.34zM330.26 335.43h4.34v2.17h-4.34zM336.76 335.43h8.67v2.17h-8.67zM354.1 335.43h2.17v2.17h-2.17zM358.44 335.43h6.5v2.17h-6.5zM367.11 335.43h2.17v2.17h-2.17zM371.44 335.43h10.84v2.17h-10.84zM384.45 335.43h2.17v2.17h-2.17zM393.12 335.43h6.5v2.17h-6.5zM401.79 335.43h2.17v2.17h-2.17zM416.96 335.43h2.17v2.17h-2.17zM421.3 335.43h4.33v2.17h-4.33zM427.8 335.43h6.5v2.17h-6.5zM440.8 335.43h6.5v2.17h-6.5zM449.47 335.43h15.17v2.17h-15.17zM466.81 335.43h8.67v2.17h-8.67zM477.65 335.43h6.5v2.17h-6.5zM486.32 335.43h4.34v2.17h-4.34zM492.82 335.43h4.34v2.17h-4.34zM521 335.43h4.33v2.17h-4.33zM527.5 335.43h6.5v2.17h-6.5zM536.17 335.43h4.34v2.17h-4.34zM542.67 335.43h10.84v2.17h-10.84zM555.68 335.43h4.34v2.17h-4.34zM562.18 335.43h19.51v2.17h-19.51zM583.86 335.43h8.67v2.17h-8.67zM594.69 335.43h8.67v2.17h-8.67zM605.53 335.43h4.34v2.17h-4.34zM612.03 335.43h2.17v2.17h-2.17zM616.37 335.43h4.33v2.17h-4.33zM622.87 335.43h6.5v2.17h-6.5zM631.54 335.43h13v2.17h-13zM646.71 335.43h6.5v2.17h-6.5zM655.38 335.43h2.17v2.17h-2.17zM705.24 335.43h4.34v2.17h-4.34zM711.74 335.43h6.5v2.17h-6.5zM720.41 335.43h4.34v2.17h-4.34zM726.91 335.43h6.5v2.17h-6.5zM735.58 335.43h4.33v2.17h-4.33zM742.08 335.43h6.5v2.17h-6.5zM750.75 335.43h4.33v2.17h-4.33zM757.26 335.43h6.5v2.17h-6.5zM765.93 335.43h2.17v2.17h-2.17zM770.26 335.43h4.34v2.17h-4.34zM776.76 335.43h6.5v2.17h-6.5zM785.43 335.43h4.34v2.17h-4.34zM791.94 335.43h4.33v2.17h-4.33zM798.44 335.43h13v2.17h-13zM813.61 335.43h2.17v2.17h-2.17zM817.95 335.43h8.67v2.17h-8.67zM828.78 335.43h17.34v2.17h-17.34zM848.29 335.43h13v2.17h-13zM863.46 335.43h2.17v2.17h-2.17zM867.8 335.43h2.17v2.17h-2.17zM872.13 335.43h6.5v2.17h-6.5zM880.8 335.43h4.34v2.17h-4.34zM889.47 335.43h4.34v2.17h-4.34zM895.98 335.43h6.5v2.17h-6.5zM904.65 335.43h4.34v2.17h-4.34zM911.15 335.43h2.17v2.17h-2.17zM915.48 335.43h4.34v2.17h-4.34zM921.99 335.43h6.5v2.17h-6.5zM930.66 335.43h13v2.17h-13zM945.83 335.43h6.5v2.17h-6.5zM954.5 335.43h4.33v2.17h-4.33zM961 335.43h6.5v2.17h-6.5zM969.67 335.43h4.34v2.17h-4.34zM976.17 335.43h4.34v2.17h-4.34zM982.68 335.43h10.84v2.17h-10.84zM995.68 335.43h6.5v2.17h-6.5zM1004.35 335.43h4.34v2.17h-4.34zM1010.85 335.43h6.5v2.17h-6.5zM1019.52 335.43h2.17v2.17h-2.17zM1147.41 335.43h4.33v2.17h-4.33zM1153.91 335.43h4.34v2.17h-4.34zM1160.41 335.43h6.5v2.17h-6.5zM1169.08 335.43h4.34v2.17h-4.34zM1175.59 335.43h6.5v2.17h-6.5zM1184.25 335.43h4.34v2.17h-4.34zM1190.76 335.43h6.5v2.17h-6.5zM1199.43 335.43h4.34v2.17h-4.34zM1205.93 335.43h6.5v2.17h-6.5zM1214.6 335.43h13.01v2.17h-13.01zM1229.77 335.43h13v2.17h-13zM1244.94 335.43h6.5v2.17h-6.5zM1253.62 335.43h4.34v2.17h-4.34zM1260.12 335.43h6.5v2.17h-6.5zM1268.79 335.43h4.34v2.17h-4.34zM1275.29 335.43h6.5v2.17h-6.5zM1283.96 335.43h4.33v2.17h-4.33zM1290.46 335.43h6.5v2.17h-6.5zM1299.13 335.43h4.34v2.17h-4.34zM1305.63 335.43h6.5v2.17h-6.5zM1314.3 335.43h13.01v2.17h-13.01zM1329.48 335.43h17.34v2.17h-17.34zM1348.98 335.43h4.34v2.17h-4.34zM1355.49 335.43h6.5v2.17h-6.5zM1364.16 335.43h4.33v2.17h-4.33zM1372.83 335.43h4.34v2.17h-4.34zM1379.33 335.43h6.5v2.17h-6.5zM1388 335.43h4.34v2.17h-4.34zM1394.5 335.43h6.5v2.17h-6.5zM1403.17 335.43h4.34v2.17h-4.34zM1409.67 335.43h6.5v2.17h-6.5zM1418.35 335.43h4.33v2.17h-4.33zM1424.85 335.43h6.5v2.17h-6.5zM1433.52 335.43h4.34v2.17h-4.34zM1440.02 335.43h6.5v2.17h-6.5zM1448.69 335.43h4.33v2.17h-4.33zM1455.19 335.43h4.34v2.17h-4.34zM1461.69 335.43h2.17v2.17h-2.17zM1466.03 335.43h8.67v2.17h-8.67zM1476.87 335.43h2.17v2.17h-2.17zM1481.2 335.43h8.67v2.17h-8.67zM1492.04 335.43h2.17v2.17h-2.17zM1496.38 335.43h13v2.17h-13zM1511.55 335.43h32.51v2.17h-32.51zM1546.23 335.43h2.17v2.17h-2.17zM1550.56 335.43h8.67v2.17h-8.67zM1561.4 335.43h2.17v2.17h-2.17zM1565.73 335.43h19.51v2.17h-19.51zM81 114.34h2.17v2.17h-2.17zM176.37 114.34h2.17v2.17h-2.17zM286.91 114.34h2.17v2.17h-2.17zM395.29 114.34h2.17v2.17h-2.17zM570.85 114.34h2.17v2.17h-2.17zM618.54 114.34h2.17v2.17h-2.17zM1101.89 114.34h2.17v2.17h-2.17zM1481.2 114.34h2.17v2.17h-2.17zM1546.23 114.34h2.17v2.17h-2.17zM83.16 443.8h2.17v2.17h-2.17zM94 443.8h2.17v2.17h-2.17zM98.34 443.8h2.17v2.17h-2.17zM117.84 443.8h2.17v2.17h-2.17zM128.68 443.8h2.17v2.17h-2.17zM133.02 443.8h2.17v2.17h-2.17zM143.86 443.8h2.17v2.17h-2.17zM148.19 443.8h2.17v2.17h-2.17zM159.03 443.8h2.17v2.17h-2.17zM163.36 443.8h2.17v2.17h-2.17zM174.2 443.8h2.17v2.17h-2.17zM189.37 443.8h2.17v2.17h-2.17zM202.38 443.8h2.17v2.17h-2.17zM217.55 443.8h2.17v2.17h-2.17zM228.39 443.8h2.17v2.17h-2.17zM232.72 443.8h2.17v2.17h-2.17zM243.56 443.8h2.17v2.17h-2.17zM247.9 443.8h2.17v2.17h-2.17zM258.73 443.8h2.17v2.17h-2.17zM263.07 443.8h2.17v2.17h-2.17zM273.91 443.8h2.17v2.17h-2.17zM289.08 443.8h2.17v2.17h-2.17zM302.08 443.8h2.17v2.17h-2.17zM317.25 443.8h2.17v2.17h-2.17zM328.09 443.8h2.17v2.17h-2.17zM332.43 443.8h2.17v2.17h-2.17zM343.26 443.8h2.17v2.17h-2.17zM347.6 443.8h2.17v2.17h-2.17zM358.44 443.8h2.17v2.17h-2.17zM362.77 443.8h2.17v2.17h-2.17zM373.61 443.8h2.17v2.17h-2.17zM388.78 443.8h2.17v2.17h-2.17zM401.79 443.8h2.17v2.17h-2.17zM416.96 443.8h2.17v2.17h-2.17zM427.8 443.8h2.17v2.17h-2.17zM432.13 443.8h2.17v2.17h-2.17zM442.97 443.8h2.17v2.17h-2.17zM447.31 443.8h2.17v2.17h-2.17zM458.14 443.8h2.17v2.17h-2.17zM473.31 443.8h2.17v2.17h-2.17zM501.49 443.8h2.17v2.17h-2.17zM516.66 443.8h2.17v2.17h-2.17zM527.5 443.8h2.17v2.17h-2.17zM531.84 443.8h2.17v2.17h-2.17zM542.67 443.8h2.17v2.17h-2.17zM547.01 443.8h2.17v2.17h-2.17zM557.85 443.8h2.17v2.17h-2.17zM573.02 443.8h2.17v2.17h-2.17zM601.2 443.8h2.17v2.17h-2.17zM616.37 443.8h2.17v2.17h-2.17zM627.21 443.8h2.17v2.17h-2.17zM631.54 443.8h2.17v2.17h-2.17zM642.38 443.8h2.17v2.17h-2.17zM646.71 443.8h2.17v2.17h-2.17zM657.55 443.8h2.17v2.17h-2.17zM672.72 443.8h2.17v2.17h-2.17zM700.9 443.8h2.17v2.17h-2.17zM716.07 443.8h2.17v2.17h-2.17zM726.91 443.8h2.17v2.17h-2.17zM731.25 443.8h2.17v2.17h-2.17zM742.08 443.8h2.17v2.17h-2.17zM746.42 443.8h2.17v2.17h-2.17zM757.26 443.8h2.17v2.17h-2.17zM772.43 443.8h2.17v2.17h-2.17zM785.43 443.8h2.17v2.17h-2.17zM800.61 443.8h2.17v2.17h-2.17zM811.44 443.8h2.17v2.17h-2.17zM815.78 443.8h2.17v2.17h-2.17zM826.62 443.8h2.17v2.17h-2.17zM830.95 443.8h2.17v2.17h-2.17zM841.79 443.8h2.17v2.17h-2.17zM846.12 443.8h2.17v2.17h-2.17zM856.96 443.8h2.17v2.17h-2.17zM872.13 443.8h2.17v2.17h-2.17zM885.14 443.8h2.17v2.17h-2.17zM900.31 443.8h2.17v2.17h-2.17zM911.15 443.8h2.17v2.17h-2.17zM915.48 443.8h2.17v2.17h-2.17zM926.32 443.8h2.17v2.17h-2.17zM930.66 443.8h2.17v2.17h-2.17zM941.49 443.8h2.17v2.17h-2.17zM945.83 443.8h2.17v2.17h-2.17zM956.67 443.8h2.17v2.17h-2.17zM971.84 443.8h2.17v2.17h-2.17zM991.35 443.8h2.17v2.17h-2.17zM995.68 443.8h2.17v2.17h-2.17zM1006.52 443.8h2.17v2.17h-2.17zM85.33 222.72h2.17v2.17h-2.17zM115.68 222.72h2.17v2.17h-2.17zM172.03 222.72h2.17v2.17h-2.17zM256.56 222.72h2.17v2.17h-2.17zM1288.29 222.72h2.17v2.17h-2.17zM1316.47 222.72h2.17v2.17h-2.17zM1416.18 222.72h2.17v2.17h-2.17zM1481.2 222.72h2.17v2.17h-2.17zM1531.05 222.72h2.17v2.17h-2.17zM91.83 53.65h2.17v6.5h-2.17zM96.17 60.16h2.17v2.17h-2.17zM180.7 60.16h2.17v2.17h-2.17zM295.58 60.16h2.17v2.17h-2.17zM544.84 60.16h2.17v2.17h-2.17zM644.55 60.16h2.17v2.17h-2.17zM902.48 60.16h2.17v2.17h-2.17zM1273.12 60.16h2.17v2.17h-2.17zM1541.89 60.16h2.17v2.17h-2.17zM107.01 276.91h2.17v2.17h-2.17zM334.6 276.91h2.17v2.17h-2.17zM107.01 385.28h2.17v2.17h-2.17zM180.7 385.28h2.17v2.17h-2.17zM345.43 385.28h2.17v2.17h-2.17zM351.94 385.28h2.17v2.17h-2.17zM403.95 385.28h2.17v2.17h-2.17zM109.17 279.07h2.17v2.17h-2.17zM141.69 279.07h2.17v2.17h-2.17zM193.71 279.07h2.17v2.17h-2.17zM206.71 279.07h2.17v2.17h-2.17zM289.08 279.07h2.17v2.17h-2.17zM323.76 279.07h2.17v2.17h-2.17zM336.76 279.07h2.17v2.17h-2.17zM349.77 279.07h2.17v2.17h-2.17zM440.8 279.07h2.17v2.17h-2.17zM449.47 279.07h2.17v2.17h-2.17zM518.83 279.07h2.17v2.17h-2.17zM705.24 279.07h2.17v2.17h-2.17zM109.17 387.45h4.33v2.17h-4.33zM115.68 387.45h4.34v2.17h-4.34zM130.85 387.45h4.33v2.17h-4.33zM161.2 387.45h2.17v2.17h-2.17zM182.87 387.45h2.17v2.17h-2.17zM195.88 387.45h2.17v2.17h-2.17zM276.07 387.45h2.17v2.17h-2.17zM284.74 387.45h2.17v2.17h-2.17zM291.25 387.45h2.17v2.17h-2.17zM299.92 387.45h2.17v2.17h-2.17zM312.92 387.45h2.17v2.17h-2.17zM317.25 387.45h2.17v2.17h-2.17zM328.09 387.45h2.17v2.17h-2.17zM332.43 387.45h2.17v2.17h-2.17zM343.26 387.45h2.17v2.17h-2.17zM427.8 387.45h2.17v2.17h-2.17zM462.48 387.45h2.17v2.17h-2.17zM466.81 387.45h2.17v2.17h-2.17zM477.65 387.45h2.17v2.17h-2.17zM481.99 387.45h2.17v2.17h-2.17zM492.82 387.45h2.17v2.17h-2.17zM497.16 387.45h2.17v2.17h-2.17zM508 387.45h2.17v2.17h-2.17zM512.33 387.45h2.17v2.17h-2.17zM525.33 387.45h2.17v2.17h-2.17zM534 387.45h2.17v2.17h-2.17zM540.51 387.45h2.17v2.17h-2.17zM549.18 387.45h2.17v2.17h-2.17zM555.68 387.45h2.17v2.17h-2.17zM564.35 387.45h2.17v2.17h-2.17zM570.85 387.45h2.17v2.17h-2.17zM579.52 387.45h2.17v2.17h-2.17zM594.69 387.45h2.17v2.17h-2.17zM603.36 387.45h2.17v2.17h-2.17zM609.87 387.45h2.17v2.17h-2.17zM618.54 387.45h2.17v2.17h-2.17zM625.04 387.45h2.17v2.17h-2.17zM633.71 387.45h2.17v2.17h-2.17zM640.21 387.45h2.17v2.17h-2.17zM648.88 387.45h2.17v2.17h-2.17zM655.38 387.45h2.17v2.17h-2.17zM664.05 387.45h2.17v2.17h-2.17zM670.56 387.45h2.17v2.17h-2.17zM679.23 387.45h2.17v2.17h-2.17zM694.4 387.45h2.17v2.17h-2.17zM703.07 387.45h2.17v2.17h-2.17zM109.17 426.46h2.17v2.17h-2.17zM113.51 116.51h2.17v2.17h-2.17zM130.85 116.51h2.17v2.17h-2.17zM143.86 116.51h4.33v2.17h-4.33zM165.53 116.51h2.17v2.17h-2.17zM182.87 116.51h2.17v2.17h-2.17zM195.88 116.51h2.17v2.17h-2.17zM204.55 116.51h2.17v2.17h-2.17zM221.89 116.51h2.17v2.17h-2.17zM228.39 116.51h2.17v2.17h-2.17zM237.06 116.51h2.17v2.17h-2.17zM263.07 116.51h2.17v2.17h-2.17zM276.07 116.51h2.17v2.17h-2.17zM371.44 116.51h2.17v2.17h-2.17zM375.78 116.51h2.17v2.17h-2.17zM412.62 116.51h2.17v2.17h-2.17zM440.8 116.51h2.17v2.17h-2.17zM462.48 116.51h2.17v2.17h-2.17zM468.98 116.51h2.17v2.17h-2.17zM494.99 116.51h4.33v2.17h-4.33zM510.16 116.51h2.17v2.17h-2.17zM525.33 116.51h2.17v2.17h-2.17zM562.18 116.51h2.17v2.17h-2.17zM627.21 116.51h2.17v2.17h-2.17zM642.38 116.51h2.17v2.17h-2.17zM674.89 116.51h6.5v2.17h-6.5zM772.43 116.51h2.17v2.17h-2.17zM781.1 116.51h2.17v2.17h-2.17zM796.27 116.51h2.17v2.17h-2.17zM820.11 116.51h2.17v2.17h-2.17zM861.3 116.51h2.17v2.17h-2.17zM891.64 116.51h2.17v2.17h-2.17zM895.98 116.51h2.17v2.17h-2.17zM904.65 116.51h2.17v2.17h-2.17zM911.15 116.51h2.17v2.17h-2.17zM917.65 116.51h2.17v2.17h-2.17zM930.66 116.51h2.17v2.17h-2.17zM945.83 116.51h2.17v2.17h-2.17zM961 116.51h2.17v2.17h-2.17zM976.17 116.51h2.17v2.17h-2.17zM1047.7 116.51h2.17v2.17h-2.17zM1088.88 116.51h4.34v2.17h-4.34zM1140.9 116.51h2.17v2.17h-2.17zM1145.24 116.51h2.17v2.17h-2.17zM1153.91 116.51h2.17v2.17h-2.17zM1182.09 116.51h2.17v2.17h-2.17zM1201.6 116.51h2.17v2.17h-2.17zM1216.77 116.51h2.17v2.17h-2.17zM1225.44 116.51h2.17v2.17h-2.17zM1236.27 116.51h2.17v2.17h-2.17zM1260.12 116.51h2.17v2.17h-2.17zM1275.29 116.51h2.17v2.17h-2.17zM1281.79 116.51h2.17v2.17h-2.17zM1307.8 116.51h2.17v2.17h-2.17zM1312.14 116.51h4.33v2.17h-4.33zM1394.5 116.51h2.17v2.17h-2.17zM1407.51 116.51h4.34v2.17h-4.34zM1444.36 116.51h2.17v2.17h-2.17zM1448.69 116.51h2.17v2.17h-2.17zM1453.02 116.51h2.17v2.17h-2.17zM1459.53 116.51h2.17v2.17h-2.17zM1463.86 116.51h4.34v2.17h-4.34zM1474.7 116.51h2.17v2.17h-2.17zM1500.71 116.51h2.17v2.17h-2.17zM1509.38 116.51h2.17v2.17h-2.17zM1513.71 116.51h2.17v2.17h-2.17zM1528.89 116.51h2.17v2.17h-2.17zM1544.06 116.51h2.17v2.17h-2.17zM1578.74 116.51h2.17v2.17h-2.17zM117.84 170.7h2.17v2.17h-2.17zM124.35 170.7h2.17v2.17h-2.17zM163.36 170.7h2.17v2.17h-2.17zM187.21 170.7h2.17v2.17h-2.17zM224.05 170.7h2.17v2.17h-2.17zM228.39 170.7h2.17v2.17h-2.17zM367.11 170.7h2.17v2.17h-2.17zM397.45 170.7h2.17v2.17h-2.17zM436.47 170.7h2.17v2.17h-2.17zM458.14 170.7h2.17v2.17h-2.17zM462.48 170.7h2.17v2.17h-2.17zM508 170.7h2.17v2.17h-2.17zM523.17 170.7h2.17v2.17h-2.17zM531.84 170.7h2.17v2.17h-2.17zM547.01 170.7h2.17v2.17h-2.17zM657.55 170.7h2.17v2.17h-2.17zM722.58 170.7h2.17v2.17h-2.17zM731.25 170.7h2.17v2.17h-2.17zM737.75 170.7h2.17v2.17h-2.17zM746.42 170.7h2.17v2.17h-2.17zM765.93 170.7h2.17v2.17h-2.17zM807.11 170.7h2.17v2.17h-2.17zM815.78 170.7h2.17v2.17h-2.17zM822.28 170.7h2.17v2.17h-2.17zM848.29 170.7h4.34v2.17h-4.34zM865.63 170.7h2.17v2.17h-2.17zM872.13 170.7h2.17v2.17h-2.17zM937.16 170.7h2.17v2.17h-2.17zM941.49 170.7h2.17v2.17h-2.17zM965.34 170.7h2.17v2.17h-2.17zM1015.19 170.7h2.17v2.17h-2.17zM1041.2 170.7h2.17v2.17h-2.17zM1049.87 170.7h2.17v2.17h-2.17zM1056.37 170.7h2.17v2.17h-2.17zM1071.54 170.7h2.17v2.17h-2.17zM1086.72 170.7h4.34v2.17h-4.34zM1160.41 170.7h2.17v2.17h-2.17zM1197.26 170.7h4.34v2.17h-4.34zM1221.1 170.7h2.17v2.17h-2.17zM1264.45 170.7h2.17v2.17h-2.17zM1268.79 170.7h4.34v2.17h-4.34zM1299.13 170.7h2.17v2.17h-2.17zM1314.3 170.7h2.17v2.17h-2.17zM1333.81 170.7h2.17v2.17h-2.17zM1348.98 170.7h2.17v2.17h-2.17zM1364.16 170.7h2.17v2.17h-2.17zM1370.66 170.7h2.17v2.17h-2.17zM1416.18 170.7h2.17v2.17h-2.17zM1427.01 170.7h2.17v2.17h-2.17zM1433.52 170.7h2.17v2.17h-2.17zM1448.69 170.7h2.17v2.17h-2.17zM1455.19 170.7h2.17v2.17h-2.17zM1544.06 170.7h2.17v2.17h-2.17zM1563.57 170.7h2.17v2.17h-2.17zM135.19 276.91h2.17v4.34h-2.17zM185.04 276.91h2.17v4.34h-2.17zM390.95 276.91h2.17v4.34h-2.17zM434.3 276.91h2.17v4.34h-2.17zM139.52 224.89h2.17v2.17h-2.17zM154.69 224.89h2.17v2.17h-2.17zM165.53 224.89h2.17v2.17h-2.17zM182.87 224.89h2.17v2.17h-2.17zM204.55 224.89h2.17v2.17h-2.17zM237.06 224.89h2.17v2.17h-2.17zM254.4 224.89h2.17v2.17h-2.17zM319.42 224.89h2.17v2.17h-2.17zM325.93 224.89h2.17v2.17h-2.17zM330.26 224.89h2.17v2.17h-2.17zM334.6 224.89h2.17v2.17h-2.17zM356.27 224.89h2.17v2.17h-2.17zM375.78 224.89h2.17v2.17h-2.17zM386.62 224.89h2.17v2.17h-2.17zM390.95 224.89h2.17v2.17h-2.17zM427.8 224.89h2.17v2.17h-2.17zM453.81 224.89h2.17v2.17h-2.17zM464.64 224.89h2.17v2.17h-2.17zM475.48 224.89h2.17v2.17h-2.17zM523.17 224.89h2.17v2.17h-2.17zM540.51 224.89h2.17v2.17h-2.17zM603.36 224.89h2.17v2.17h-2.17zM655.38 224.89h2.17v2.17h-2.17zM664.05 224.89h2.17v2.17h-2.17zM668.39 224.89h2.17v2.17h-2.17zM685.73 224.89h4.34v2.17h-4.34zM703.07 224.89h2.17v2.17h-2.17zM724.75 224.89h2.17v2.17h-2.17zM733.41 224.89h2.17v2.17h-2.17zM739.92 224.89h2.17v2.17h-2.17zM744.25 224.89h2.17v2.17h-2.17zM752.92 224.89h2.17v2.17h-2.17zM763.76 224.89h2.17v2.17h-2.17zM770.26 224.89h2.17v2.17h-2.17zM778.93 224.89h2.17v2.17h-2.17zM789.77 224.89h2.17v2.17h-2.17zM802.77 224.89h2.17v2.17h-2.17zM813.61 224.89h2.17v2.17h-2.17zM889.47 224.89h2.17v2.17h-2.17zM902.48 224.89h2.17v2.17h-2.17zM906.81 224.89h2.17v2.17h-2.17zM921.99 224.89h2.17v2.17h-2.17zM976.17 224.89h2.17v2.17h-2.17zM987.01 224.89h2.17v2.17h-2.17zM1002.18 224.89h4.34v2.17h-4.34zM1019.52 224.89h2.17v2.17h-2.17zM1039.03 224.89h2.17v2.17h-2.17zM1056.37 224.89h2.17v2.17h-2.17zM1065.04 224.89h2.17v2.17h-2.17zM1071.54 224.89h2.17v2.17h-2.17zM1110.56 224.89h2.17v2.17h-2.17zM1186.42 224.89h2.17v2.17h-2.17zM1203.76 224.89h2.17v2.17h-2.17zM1268.79 224.89h2.17v2.17h-2.17zM1279.62 224.89h2.17v2.17h-2.17zM1325.14 224.89h2.17v2.17h-2.17zM1335.98 224.89h2.17v2.17h-2.17zM1424.85 224.89h2.17v2.17h-2.17zM1450.86 224.89h2.17v2.17h-2.17zM1468.2 224.89h2.17v2.17h-2.17zM1502.88 224.89h2.17v2.17h-2.17zM139.52 328.93h2.17v2.17h-2.17zM172.03 313.75h2.17v2.17h-2.17zM191.54 57.99h2.17v2.17h-2.17zM198.04 164.2h2.17v2.17h-2.17zM200.21 333.26h2.17v4.33h-2.17zM213.22 333.26h2.17v4.33h-2.17zM295.58 333.26h2.17v4.33h-2.17zM321.59 333.26h2.17v4.33h-2.17zM328.09 333.26h2.17v4.33h-2.17zM334.6 333.26h2.17v4.33h-2.17zM369.28 333.26h2.17v4.33h-2.17zM382.28 333.26h2.17v4.33h-2.17zM386.62 333.26h4.33v4.33h-4.33zM436.47 333.26h4.33v4.33h-4.33zM447.31 333.26h2.17v4.33h-2.17zM464.64 333.26h2.17v4.33h-2.17zM553.51 333.26h2.17v4.33h-2.17zM560.01 333.26h2.17v4.33h-2.17zM581.69 333.26h2.17v4.33h-2.17zM592.53 333.26h2.17v4.33h-2.17zM603.36 333.26h2.17v4.33h-2.17zM609.87 333.26h2.17v4.33h-2.17zM768.09 333.26h2.17v4.33h-2.17zM774.6 333.26h2.17v4.33h-2.17zM783.27 333.26h2.17v4.33h-2.17zM789.77 333.26h2.17v4.33h-2.17zM796.27 333.26h2.17v4.33h-2.17zM811.44 333.26h2.17v4.33h-2.17zM815.78 333.26h2.17v4.33h-2.17zM826.62 333.26h2.17v4.33h-2.17zM846.12 333.26h2.17v4.33h-2.17zM861.3 333.26h2.17v4.33h-2.17zM865.63 333.26h2.17v4.33h-2.17zM869.97 333.26h2.17v4.33h-2.17zM878.64 333.26h2.17v4.33h-2.17zM885.14 333.26h4.33v4.33h-4.33zM893.81 333.26h2.17v4.33h-2.17zM902.48 333.26h2.17v4.33h-2.17zM908.98 333.26h2.17v4.33h-2.17zM1346.82 333.26h2.17v4.33h-2.17zM1353.32 333.26h2.17v4.33h-2.17zM1361.99 333.26h2.17v4.33h-2.17zM1368.49 333.26h4.34v4.33h-4.34zM1377.16 333.26h2.17v4.33h-2.17zM1385.83 333.26h2.17v4.33h-2.17zM1392.34 333.26h2.17v4.33h-2.17zM1401 333.26h2.17v4.33h-2.17zM1407.51 333.26h2.17v4.33h-2.17zM1416.18 333.26h2.17v4.33h-2.17zM1422.68 333.26h2.17v4.33h-2.17zM1431.35 333.26h2.17v4.33h-2.17zM1437.85 333.26h2.17v4.33h-2.17zM1446.52 333.26h2.17v4.33h-2.17zM1453.02 333.26h2.17v4.33h-2.17zM1459.53 333.26h2.17v4.33h-2.17zM1463.86 333.26h2.17v4.33h-2.17zM1474.7 333.26h2.17v4.33h-2.17zM1479.03 333.26h2.17v4.33h-2.17zM1489.87 333.26h2.17v4.33h-2.17zM1494.21 333.26h2.17v4.33h-2.17zM1509.38 333.26h2.17v4.33h-2.17zM1544.06 333.26h2.17v4.33h-2.17zM1548.39 333.26h2.17v4.33h-2.17zM1559.23 333.26h2.17v4.33h-2.17zM1563.57 333.26h2.17v4.33h-2.17zM219.72 55.82h2.17v2.17h-2.17zM659.72 55.82h2.17v2.17h-2.17zM234.89 220.55h2.17v4.34h-2.17zM241.39 168.53h2.17v2.17h-2.17zM434.3 168.53h2.17v2.17h-2.17zM633.71 168.53h2.17v2.17h-2.17zM778.93 168.53h2.17v2.17h-2.17zM802.77 168.53h2.17v2.17h-2.17zM1372.83 168.53h2.17v2.17h-2.17zM1446.52 168.53h2.17v2.17h-2.17zM284.74 166.36h2.17v4.34h-2.17zM341.1 166.36h2.17v4.34h-2.17zM1266.62 166.36h2.17v4.34h-2.17zM341.1 112.18h2.17v4.33h-2.17zM924.15 112.18h2.17v4.33h-2.17zM1338.15 112.18h2.17v4.33h-2.17zM349.77 105.67h2.17v8.67h-2.17zM399.62 110.01h2.17v2.17h-2.17zM464.64 110.01h2.17v2.17h-2.17zM700.9 110.01h2.17v2.17h-2.17zM1255.78 110.01h2.17v2.17h-2.17zM410.46 274.74h2.17v2.17h-2.17zM514.5 218.38h2.17v2.17h-2.17zM592.53 218.38h2.17v2.17h-2.17zM997.85 218.38h2.17v2.17h-2.17zM1008.69 218.38h2.17v2.17h-2.17zM1091.05 218.38h2.17v2.17h-2.17zM1147.41 218.38h2.17v2.17h-2.17zM1466.03 218.38h2.17v2.17h-2.17zM540.51 159.86h2.17v4.34h-2.17zM889.47 159.86h2.17v4.34h-2.17zM549.18 57.99h2.17v4.34h-2.17zM698.73 57.99h2.17v4.34h-2.17zM1023.86 57.99h2.17v4.34h-2.17zM1173.42 57.99h2.17v4.34h-2.17zM599.03 105.67h2.17v4.34h-2.17zM633.71 218.38h2.17v6.5h-2.17zM1132.23 218.38h2.17v6.5h-2.17zM1173.42 218.38h2.17v6.5h-2.17zM633.71 272.57h2.17v8.67h-2.17zM874.3 272.57h2.17v8.67h-2.17zM690.06 211.88h2.17v13h-2.17zM867.8 270.4h2.17v2.17h-2.17zM1019.52 270.4h2.17v2.17h-2.17zM1147.41 270.4h2.17v2.17h-2.17zM1158.24 270.4h2.17v2.17h-2.17zM1576.57 270.4h2.17v2.17h-2.17zM1117.06 222.72h2.17v4.33h-2.17zM1231.94 263.9h2.17v6.5h-2.17z"/>
<path style="mix-blend-mode:plus-lighter" fill-opacity="0.81" d="M81 439.47h2.17v2.17h-2.17zM83.16 62.32h2.17v2.17h-2.17zM113.51 62.32h2.17v2.17h-2.17zM139.52 62.32h4.34v2.17h-4.34zM161.2 62.32h2.17v2.17h-2.17zM167.7 62.32h2.17v2.17h-2.17zM208.88 62.32h2.17v2.17h-2.17zM213.22 62.32h2.17v2.17h-2.17zM228.39 62.32h2.17v2.17h-2.17zM232.72 62.32h2.17v2.17h-2.17zM273.91 62.32h2.17v2.17h-2.17zM278.24 62.32h2.17v2.17h-2.17zM282.57 62.32h2.17v2.17h-2.17zM312.92 62.32h2.17v2.17h-2.17zM332.43 62.32h2.17v2.17h-2.17zM343.26 62.32h2.17v2.17h-2.17zM358.44 62.32h2.17v2.17h-2.17zM393.12 62.32h2.17v2.17h-2.17zM412.62 62.32h2.17v2.17h-2.17zM432.13 62.32h2.17v2.17h-2.17zM458.14 62.32h2.17v2.17h-2.17zM492.82 62.32h2.17v2.17h-2.17zM497.16 62.32h2.17v2.17h-2.17zM501.49 62.32h2.17v2.17h-2.17zM512.33 62.32h2.17v2.17h-2.17zM521 62.32h2.17v2.17h-2.17zM527.5 62.32h2.17v2.17h-2.17zM542.67 62.32h2.17v2.17h-2.17zM547.01 62.32h2.17v2.17h-2.17zM592.53 62.32h2.17v2.17h-2.17zM612.03 62.32h2.17v2.17h-2.17zM646.71 62.32h2.17v2.17h-2.17zM661.89 62.32h2.17v2.17h-2.17zM707.4 62.32h2.17v2.17h-2.17zM726.91 62.32h2.17v2.17h-2.17zM731.25 62.32h2.17v2.17h-2.17zM737.75 62.32h2.17v2.17h-2.17zM765.93 62.32h2.17v2.17h-2.17zM798.44 62.32h2.17v2.17h-2.17zM811.44 62.32h2.17v2.17h-2.17zM822.28 62.32h2.17v2.17h-2.17zM830.95 62.32h2.17v2.17h-2.17zM841.79 62.32h2.17v2.17h-2.17zM846.12 62.32h2.17v2.17h-2.17zM859.13 62.32h2.17v2.17h-2.17zM915.48 62.32h2.17v2.17h-2.17zM926.32 62.32h4.33v2.17h-4.33zM941.49 62.32h2.17v2.17h-2.17zM965.34 62.32h2.17v2.17h-2.17zM980.51 62.32h2.17v2.17h-2.17zM1010.85 62.32h2.17v2.17h-2.17zM1026.03 62.32h2.17v2.17h-2.17zM1030.36 62.32h2.17v2.17h-2.17zM1045.53 62.32h2.17v2.17h-2.17zM1060.71 62.32h2.17v2.17h-2.17zM1075.88 62.32h2.17v2.17h-2.17zM1093.22 62.32h2.17v2.17h-2.17zM1114.89 62.32h2.17v2.17h-2.17zM1130.07 62.32h2.17v2.17h-2.17zM1164.75 62.32h2.17v2.17h-2.17zM1199.43 62.32h2.17v2.17h-2.17zM1212.43 62.32h4.34v2.17h-4.34zM1227.61 62.32h2.17v2.17h-2.17zM1242.78 62.32h2.17v2.17h-2.17zM1247.11 62.32h2.17v2.17h-2.17zM1257.95 62.32h2.17v2.17h-2.17zM1264.45 62.32h2.17v2.17h-2.17zM1279.62 62.32h4.34v2.17h-4.34zM1294.8 62.32h2.17v2.17h-2.17zM1314.3 62.32h2.17v2.17h-2.17zM1359.82 62.32h2.17v2.17h-2.17zM1364.16 62.32h2.17v2.17h-2.17zM1379.33 62.32h2.17v2.17h-2.17zM1394.5 62.32h2.17v2.17h-2.17zM1409.67 62.32h2.17v2.17h-2.17zM1424.85 62.32h2.17v2.17h-2.17zM1429.18 62.32h2.17v2.17h-2.17zM1444.36 62.32h2.17v2.17h-2.17zM1463.86 62.32h2.17v2.17h-2.17zM1474.7 62.32h2.17v2.17h-2.17zM1483.37 62.32h2.17v2.17h-2.17zM1509.38 62.32h6.5v2.17h-6.5zM1557.07 62.32h2.17v2.17h-2.17zM1570.07 62.32h2.17v2.17h-2.17zM1574.4 62.32h2.17v2.17h-2.17zM1578.74 62.32h2.17v2.17h-2.17zM1583.08 62.32h2.17v2.17h-2.17zM83.16 116.51h2.17v2.17h-2.17zM137.35 116.51h2.17v2.17h-2.17zM178.53 116.51h2.17v2.17h-2.17zM254.4 116.51h2.17v2.17h-2.17zM267.4 116.51h2.17v2.17h-2.17zM271.74 116.51h2.17v2.17h-2.17zM308.59 116.51h2.17v2.17h-2.17zM332.43 116.51h2.17v2.17h-2.17zM347.6 116.51h2.17v2.17h-2.17zM351.94 116.51h2.17v2.17h-2.17zM364.94 116.51h2.17v2.17h-2.17zM377.94 116.51h2.17v2.17h-2.17zM416.96 116.51h2.17v2.17h-2.17zM458.14 116.51h2.17v2.17h-2.17zM471.15 116.51h4.34v2.17h-4.34zM501.49 116.51h2.17v2.17h-2.17zM523.17 116.51h2.17v2.17h-2.17zM586.02 116.51h4.33v2.17h-4.33zM605.53 116.51h2.17v2.17h-2.17zM612.03 116.51h2.17v2.17h-2.17zM622.87 116.51h2.17v2.17h-2.17zM664.05 116.51h4.34v2.17h-4.34zM696.57 116.51h2.17v2.17h-2.17zM707.4 116.51h2.17v2.17h-2.17zM711.74 116.51h2.17v2.17h-2.17zM720.41 116.51h2.17v2.17h-2.17zM737.75 116.51h2.17v2.17h-2.17zM750.75 116.51h2.17v2.17h-2.17zM759.42 116.51h2.17v2.17h-2.17zM811.44 116.51h2.17v2.17h-2.17zM850.46 116.51h4.34v2.17h-4.34zM878.64 116.51h2.17v2.17h-2.17zM913.32 116.51h2.17v2.17h-2.17zM950.16 116.51h2.17v2.17h-2.17zM958.83 116.51h2.17v2.17h-2.17zM1010.85 116.51h2.17v2.17h-2.17zM1065.04 116.51h2.17v2.17h-2.17zM1086.72 116.51h2.17v2.17h-2.17zM1227.61 116.51h4.34v2.17h-4.34zM1247.11 116.51h2.17v2.17h-2.17zM1268.79 116.51h4.34v2.17h-4.34zM1277.46 116.51h2.17v2.17h-2.17zM1299.13 116.51h2.17v2.17h-2.17zM1303.47 116.51h2.17v2.17h-2.17zM1353.32 116.51h2.17v2.17h-2.17zM1403.17 116.51h4.34v2.17h-4.34zM1455.19 116.51h2.17v2.17h-2.17zM1468.2 116.51h2.17v2.17h-2.17zM1498.54 116.51h2.17v2.17h-2.17zM1502.88 116.51h2.17v2.17h-2.17zM1526.72 116.51h2.17v2.17h-2.17zM1559.23 116.51h2.17v2.17h-2.17zM1583.08 116.51h2.17v2.17h-2.17zM87.5 389.62h2.17v2.17h-2.17zM143.86 389.62h2.17v2.17h-2.17zM159.03 389.62h2.17v2.17h-2.17zM198.04 389.62h2.17v2.17h-2.17zM202.38 389.62h4.34v2.17h-4.34zM254.4 389.62h2.17v2.17h-2.17zM258.73 389.62h2.17v2.17h-2.17zM263.07 389.62h2.17v2.17h-2.17zM267.4 389.62h2.17v2.17h-2.17zM707.4 389.62h2.17v2.17h-2.17zM711.74 389.62h2.17v2.17h-2.17zM716.07 389.62h2.17v2.17h-2.17zM726.91 389.62h2.17v2.17h-2.17zM731.25 389.62h2.17v2.17h-2.17zM742.08 389.62h2.17v2.17h-2.17zM746.42 389.62h2.17v2.17h-2.17zM757.26 389.62h2.17v2.17h-2.17zM761.59 389.62h2.17v2.17h-2.17zM765.93 389.62h2.17v2.17h-2.17zM770.26 389.62h4.34v2.17h-4.34zM776.76 389.62h2.17v2.17h-2.17zM781.1 389.62h2.17v2.17h-2.17zM785.43 389.62h4.34v2.17h-4.34zM791.94 389.62h2.17v2.17h-2.17zM796.27 389.62h2.17v2.17h-2.17zM800.61 389.62h2.17v2.17h-2.17zM807.11 389.62h2.17v2.17h-2.17zM811.44 389.62h2.17v2.17h-2.17zM815.78 389.62h2.17v2.17h-2.17zM826.62 389.62h2.17v2.17h-2.17zM830.95 389.62h2.17v2.17h-2.17zM841.79 389.62h2.17v2.17h-2.17zM846.12 389.62h2.17v2.17h-2.17zM856.96 389.62h2.17v2.17h-2.17zM861.3 389.62h2.17v2.17h-2.17zM865.63 389.62h2.17v2.17h-2.17zM869.97 389.62h4.33v2.17h-4.33zM876.47 389.62h2.17v2.17h-2.17zM880.8 389.62h2.17v2.17h-2.17zM885.14 389.62h4.33v2.17h-4.33zM891.64 389.62h2.17v2.17h-2.17zM895.98 389.62h2.17v2.17h-2.17zM900.31 389.62h2.17v2.17h-2.17zM906.81 389.62h2.17v2.17h-2.17zM911.15 389.62h2.17v2.17h-2.17zM915.48 389.62h2.17v2.17h-2.17zM926.32 389.62h2.17v2.17h-2.17zM930.66 389.62h2.17v2.17h-2.17zM941.49 389.62h2.17v2.17h-2.17zM945.83 389.62h2.17v2.17h-2.17zM956.67 389.62h2.17v2.17h-2.17zM961 389.62h2.17v2.17h-2.17zM965.34 389.62h2.17v2.17h-2.17zM969.67 389.62h4.34v2.17h-4.34zM976.17 389.62h2.17v2.17h-2.17zM991.35 389.62h2.17v2.17h-2.17zM995.68 389.62h2.17v2.17h-2.17zM1006.52 389.62h2.17v2.17h-2.17zM1010.85 389.62h2.17v2.17h-2.17zM1015.19 389.62h2.17v2.17h-2.17zM1019.52 389.62h2.17v2.17h-2.17zM91.83 60.16h2.17v2.17h-2.17zM460.31 60.16h2.17v2.17h-2.17zM525.33 60.16h2.17v2.17h-2.17zM98.34 279.07h2.17v2.17h-2.17zM124.35 279.07h2.17v2.17h-2.17zM195.88 279.07h2.17v2.17h-2.17zM258.73 279.07h2.17v2.17h-2.17zM284.74 279.07h2.17v2.17h-2.17zM291.25 279.07h2.17v2.17h-2.17zM334.6 279.07h2.17v2.17h-2.17zM980.51 279.07h2.17v2.17h-2.17zM111.34 333.26h2.17v2.17h-2.17zM115.68 333.26h2.17v2.17h-2.17zM260.9 333.26h2.17v2.17h-2.17zM265.24 333.26h2.17v2.17h-2.17zM445.14 333.26h2.17v2.17h-2.17zM451.64 333.26h2.17v2.17h-2.17zM458.14 333.26h2.17v2.17h-2.17zM566.52 333.26h2.17v2.17h-2.17zM586.02 333.26h4.33v2.17h-4.33zM594.69 333.26h2.17v2.17h-2.17zM807.11 333.26h2.17v2.17h-2.17zM822.28 333.26h2.17v2.17h-2.17zM841.79 333.26h2.17v2.17h-2.17zM856.96 333.26h2.17v2.17h-2.17zM1468.2 333.26h4.34v2.17h-4.34zM1483.37 333.26h2.17v2.17h-2.17zM1498.54 333.26h2.17v2.17h-2.17zM1513.71 333.26h2.17v2.17h-2.17zM1524.55 333.26h2.17v2.17h-2.17zM1528.89 333.26h2.17v2.17h-2.17zM1539.72 333.26h2.17v2.17h-2.17zM1554.9 333.26h2.17v2.17h-2.17zM1567.9 333.26h4.34v2.17h-4.34zM113.51 224.89h2.17v2.17h-2.17zM141.69 224.89h2.17v2.17h-2.17zM191.54 224.89h2.17v2.17h-2.17zM265.24 224.89h2.17v2.17h-2.17zM286.91 224.89h2.17v2.17h-2.17zM421.3 224.89h2.17v2.17h-2.17zM538.34 224.89h2.17v2.17h-2.17zM629.38 224.89h2.17v2.17h-2.17zM633.71 224.89h4.34v2.17h-4.34zM651.05 224.89h2.17v2.17h-2.17zM672.72 224.89h2.17v2.17h-2.17zM690.06 224.89h2.17v2.17h-2.17zM713.91 224.89h2.17v2.17h-2.17zM824.45 224.89h2.17v2.17h-2.17zM828.78 224.89h2.17v2.17h-2.17zM843.96 224.89h2.17v2.17h-2.17zM863.46 224.89h2.17v2.17h-2.17zM867.8 224.89h2.17v2.17h-2.17zM885.14 224.89h2.17v2.17h-2.17zM893.81 224.89h2.17v2.17h-2.17zM898.14 224.89h2.17v2.17h-2.17zM930.66 224.89h2.17v2.17h-2.17zM945.83 224.89h2.17v2.17h-2.17zM1026.03 224.89h2.17v2.17h-2.17zM1125.73 224.89h2.17v2.17h-2.17zM1223.27 224.89h2.17v2.17h-2.17zM1266.62 224.89h2.17v2.17h-2.17zM1288.29 224.89h2.17v2.17h-2.17zM1294.8 224.89h2.17v2.17h-2.17zM1307.8 224.89h2.17v2.17h-2.17zM1318.64 224.89h2.17v2.17h-2.17zM1379.33 224.89h2.17v2.17h-2.17zM1394.5 224.89h2.17v2.17h-2.17zM1418.35 224.89h2.17v2.17h-2.17zM1455.19 224.89h2.17v2.17h-2.17zM1463.86 224.89h2.17v2.17h-2.17zM1494.21 224.89h2.17v2.17h-2.17zM1507.21 224.89h2.17v2.17h-2.17zM1578.74 224.89h2.17v2.17h-2.17zM113.51 443.8h2.17v2.17h-2.17zM124.35 443.8h2.17v2.17h-2.17zM139.52 443.8h2.17v2.17h-2.17zM152.53 443.8h2.17v2.17h-2.17zM167.7 443.8h2.17v2.17h-2.17zM178.53 443.8h2.17v2.17h-2.17zM182.87 443.8h2.17v2.17h-2.17zM193.71 443.8h2.17v2.17h-2.17zM198.04 443.8h2.17v2.17h-2.17zM208.88 443.8h2.17v2.17h-2.17zM213.22 443.8h2.17v2.17h-2.17zM224.05 443.8h2.17v2.17h-2.17zM252.23 443.8h2.17v2.17h-2.17zM267.4 443.8h2.17v2.17h-2.17zM278.24 443.8h2.17v2.17h-2.17zM282.57 443.8h2.17v2.17h-2.17zM293.41 443.8h2.17v2.17h-2.17zM297.75 443.8h2.17v2.17h-2.17zM308.59 443.8h2.17v2.17h-2.17zM312.92 443.8h2.17v2.17h-2.17zM323.76 443.8h2.17v2.17h-2.17zM351.94 443.8h2.17v2.17h-2.17zM367.11 443.8h2.17v2.17h-2.17zM377.94 443.8h2.17v2.17h-2.17zM382.28 443.8h2.17v2.17h-2.17zM393.12 443.8h2.17v2.17h-2.17zM397.45 443.8h2.17v2.17h-2.17zM408.29 443.8h2.17v2.17h-2.17zM412.62 443.8h2.17v2.17h-2.17zM423.46 443.8h2.17v2.17h-2.17zM451.64 443.8h2.17v2.17h-2.17zM462.48 443.8h2.17v2.17h-2.17zM466.81 443.8h2.17v2.17h-2.17zM477.65 443.8h2.17v2.17h-2.17zM481.99 443.8h2.17v2.17h-2.17zM492.82 443.8h2.17v2.17h-2.17zM497.16 443.8h2.17v2.17h-2.17zM508 443.8h2.17v2.17h-2.17zM512.33 443.8h2.17v2.17h-2.17zM523.17 443.8h2.17v2.17h-2.17zM551.34 443.8h2.17v2.17h-2.17zM562.18 443.8h2.17v2.17h-2.17zM566.52 443.8h2.17v2.17h-2.17zM577.35 443.8h2.17v2.17h-2.17zM581.69 443.8h2.17v2.17h-2.17zM592.53 443.8h2.17v2.17h-2.17zM596.86 443.8h2.17v2.17h-2.17zM607.7 443.8h2.17v2.17h-2.17zM612.03 443.8h2.17v2.17h-2.17zM622.87 443.8h2.17v2.17h-2.17zM651.05 443.8h2.17v2.17h-2.17zM661.89 443.8h2.17v2.17h-2.17zM666.22 443.8h2.17v2.17h-2.17zM677.06 443.8h2.17v2.17h-2.17zM681.39 443.8h2.17v2.17h-2.17zM692.23 443.8h2.17v2.17h-2.17zM696.57 443.8h2.17v2.17h-2.17zM707.4 443.8h2.17v2.17h-2.17zM711.74 443.8h2.17v2.17h-2.17zM722.58 443.8h2.17v2.17h-2.17zM750.75 443.8h2.17v2.17h-2.17zM761.59 443.8h2.17v2.17h-2.17zM765.93 443.8h2.17v2.17h-2.17zM776.76 443.8h2.17v2.17h-2.17zM781.1 443.8h2.17v2.17h-2.17zM791.94 443.8h2.17v2.17h-2.17zM796.27 443.8h2.17v2.17h-2.17zM807.11 443.8h2.17v2.17h-2.17zM822.28 443.8h2.17v2.17h-2.17zM850.46 443.8h2.17v2.17h-2.17zM861.3 443.8h2.17v2.17h-2.17zM865.63 443.8h2.17v2.17h-2.17zM876.47 443.8h2.17v2.17h-2.17zM880.8 443.8h2.17v2.17h-2.17zM891.64 443.8h2.17v2.17h-2.17zM895.98 443.8h2.17v2.17h-2.17zM906.81 443.8h2.17v2.17h-2.17zM921.99 443.8h2.17v2.17h-2.17zM950.16 443.8h2.17v2.17h-2.17zM961 443.8h2.17v2.17h-2.17zM965.34 443.8h2.17v2.17h-2.17zM976.17 443.8h2.17v2.17h-2.17zM1000.02 443.8h2.17v2.17h-2.17zM1010.85 443.8h2.17v2.17h-2.17zM1015.19 443.8h2.17v2.17h-2.17zM120.01 385.28h2.17v2.17h-2.17zM410.46 385.28h2.17v2.17h-2.17zM126.52 272.57h2.17v6.5h-2.17zM130.85 170.7h2.17v2.17h-2.17zM172.03 170.7h2.17v2.17h-2.17zM211.05 170.7h2.17v2.17h-2.17zM234.89 170.7h2.17v2.17h-2.17zM254.4 170.7h2.17v2.17h-2.17zM260.9 170.7h2.17v2.17h-2.17zM284.74 170.7h2.17v2.17h-2.17zM304.25 170.7h2.17v2.17h-2.17zM330.26 170.7h2.17v2.17h-2.17zM341.1 170.7h2.17v2.17h-2.17zM369.28 170.7h2.17v2.17h-2.17zM403.95 170.7h4.34v2.17h-4.34zM429.97 170.7h2.17v2.17h-2.17zM434.3 170.7h2.17v2.17h-2.17zM492.82 170.7h4.34v2.17h-4.34zM529.67 170.7h2.17v2.17h-2.17zM557.85 170.7h2.17v2.17h-2.17zM568.68 170.7h4.34v2.17h-4.34zM581.69 170.7h2.17v2.17h-2.17zM594.69 170.7h2.17v2.17h-2.17zM603.36 170.7h2.17v2.17h-2.17zM618.54 170.7h4.34v2.17h-4.34zM638.04 170.7h4.34v2.17h-4.34zM696.57 170.7h2.17v2.17h-2.17zM703.07 170.7h4.34v2.17h-4.34zM739.92 170.7h2.17v2.17h-2.17zM744.25 170.7h2.17v2.17h-2.17zM748.59 170.7h2.17v2.17h-2.17zM824.45 170.7h2.17v2.17h-2.17zM893.81 170.7h2.17v2.17h-2.17zM917.65 170.7h4.34v2.17h-4.34zM928.49 170.7h2.17v2.17h-2.17zM948 170.7h2.17v2.17h-2.17zM963.17 170.7h2.17v2.17h-2.17zM1017.36 170.7h2.17v2.17h-2.17zM1108.39 170.7h2.17v2.17h-2.17zM1117.06 170.7h4.34v2.17h-4.34zM1123.57 170.7h2.17v2.17h-2.17zM1127.9 170.7h2.17v2.17h-2.17zM1158.24 170.7h2.17v2.17h-2.17zM1169.08 170.7h2.17v2.17h-2.17zM1186.42 170.7h2.17v2.17h-2.17zM1223.27 170.7h2.17v2.17h-2.17zM1236.27 170.7h4.34v2.17h-4.34zM1251.45 170.7h2.17v2.17h-2.17zM1266.62 170.7h2.17v2.17h-2.17zM1281.79 170.7h2.17v2.17h-2.17zM1301.3 170.7h2.17v2.17h-2.17zM1307.8 170.7h2.17v2.17h-2.17zM1316.47 170.7h2.17v2.17h-2.17zM1351.15 170.7h2.17v2.17h-2.17zM1372.83 170.7h2.17v2.17h-2.17zM1420.51 170.7h2.17v2.17h-2.17zM1440.02 170.7h2.17v2.17h-2.17zM1457.36 170.7h2.17v2.17h-2.17zM1463.86 170.7h2.17v2.17h-2.17zM1470.37 170.7h2.17v2.17h-2.17zM1500.71 170.7h4.33v2.17h-4.33zM1513.71 170.7h2.17v2.17h-2.17zM1531.05 170.7h2.17v2.17h-2.17zM1535.39 170.7h2.17v2.17h-2.17zM1561.4 170.7h2.17v2.17h-2.17zM1565.73 170.7h2.17v2.17h-2.17zM1572.24 170.7h2.17v2.17h-2.17zM137.35 328.93h2.17v2.17h-2.17zM141.69 324.59h4.34v2.17h-4.34zM165.53 315.92h2.17v17.34h-2.17zM167.7 387.45h2.17v2.17h-2.17zM308.59 387.45h2.17v2.17h-2.17zM323.76 387.45h2.17v2.17h-2.17zM336.76 387.45h4.34v2.17h-4.34zM416.96 387.45h2.17v2.17h-2.17zM432.13 387.45h2.17v2.17h-2.17zM442.97 387.45h2.17v2.17h-2.17zM447.31 387.45h2.17v2.17h-2.17zM458.14 387.45h2.17v2.17h-2.17zM473.31 387.45h2.17v2.17h-2.17zM486.32 387.45h4.34v2.17h-4.34zM501.49 387.45h2.17v2.17h-2.17zM516.66 387.45h2.17v2.17h-2.17zM306.42 218.38h2.17v2.17h-2.17zM640.21 218.38h2.17v2.17h-2.17zM1112.73 218.38h2.17v2.17h-2.17zM315.09 168.53h2.17v2.17h-2.17zM709.57 168.53h2.17v2.17h-2.17zM713.91 168.53h2.17v2.17h-2.17zM1058.54 168.53h2.17v2.17h-2.17zM1097.55 168.53h2.17v2.17h-2.17zM1227.61 168.53h2.17v2.17h-2.17zM345.43 276.91h2.17v2.17h-2.17zM445.14 276.91h2.17v2.17h-2.17zM360.61 276.91h2.17v4.34h-2.17zM364.94 276.91h2.17v4.34h-2.17zM410.46 222.72h2.17v2.17h-2.17zM579.52 222.72h2.17v2.17h-2.17zM1162.58 222.72h2.17v2.17h-2.17zM1257.95 222.72h2.17v2.17h-2.17zM1346.82 222.72h2.17v2.17h-2.17zM1442.19 222.72h2.17v2.17h-2.17zM1561.4 222.72h2.17v2.17h-2.17zM514.5 114.34h2.17v2.17h-2.17zM648.88 114.34h2.17v2.17h-2.17zM514.5 220.55h2.17v4.34h-2.17zM1058.54 220.55h2.17v4.34h-2.17zM1147.41 220.55h2.17v4.34h-2.17zM1546.23 220.55h2.17v4.34h-2.17zM590.36 110.01h2.17v2.17h-2.17zM599.03 110.01h2.17v2.17h-2.17zM614.2 263.9h2.17v8.67h-2.17zM729.08 53.65h2.17v8.67h-2.17zM794.1 166.36h2.17v4.34h-2.17zM1292.63 166.36h2.17v4.34h-2.17zM1346.82 166.36h2.17v4.34h-2.17zM794.1 263.9h2.17v6.5h-2.17zM828.78 263.9h2.17v6.5h-2.17zM913.32 263.9h2.17v6.5h-2.17zM885.14 164.2h4.33v2.17h-4.33zM1290.46 164.2h2.17v2.17h-2.17zM943.66 112.18h2.17v4.33h-2.17zM1296.96 112.18h2.17v4.33h-2.17zM1361.99 112.18h2.17v4.33h-2.17zM1496.38 112.18h2.17v4.33h-2.17zM993.51 57.99h2.17v4.34h-2.17zM1342.48 57.99h2.17v4.34h-2.17zM1013.02 272.57h2.17v8.67h-2.17zM1062.88 218.38h2.17v6.5h-2.17zM1158.24 222.72h2.17v4.33h-2.17zM1247.11 222.72h2.17v4.33h-2.17zM1231.94 270.4h2.17v2.17h-2.17zM1461.69 105.67h2.17v10.84h-2.17z"/>
<path style="mix-blend-mode:plus-lighter" fill-opacity="0.88" d="M78.83 60.16h2.17v2.17h-2.17zM120.01 60.16h2.17v2.17h-2.17zM135.19 60.16h2.17v2.17h-2.17zM380.11 60.16h2.17v2.17h-2.17zM603.36 60.16h2.17v2.17h-2.17zM1108.39 60.16h2.17v2.17h-2.17zM1405.34 60.16h2.17v2.17h-2.17zM81 224.89h2.17v2.17h-2.17zM89.67 224.89h2.17v2.17h-2.17zM117.84 224.89h4.33v2.17h-4.33zM146.02 224.89h2.17v2.17h-2.17zM180.7 224.89h2.17v2.17h-2.17zM187.21 224.89h2.17v2.17h-2.17zM302.08 224.89h2.17v2.17h-2.17zM321.59 224.89h2.17v2.17h-2.17zM338.93 224.89h2.17v2.17h-2.17zM486.32 224.89h2.17v2.17h-2.17zM514.5 224.89h4.34v2.17h-4.34zM566.52 224.89h2.17v2.17h-2.17zM659.72 224.89h2.17v2.17h-2.17zM681.39 224.89h2.17v2.17h-2.17zM839.62 224.89h2.17v2.17h-2.17zM1032.53 224.89h2.17v2.17h-2.17zM1058.54 224.89h2.17v2.17h-2.17zM1062.88 224.89h2.17v2.17h-2.17zM1078.05 224.89h2.17v2.17h-2.17zM1119.23 224.89h2.17v2.17h-2.17zM1132.23 224.89h4.34v2.17h-4.34zM1147.41 224.89h4.33v2.17h-4.33zM1162.58 224.89h4.34v2.17h-4.34zM1171.25 224.89h4.34v2.17h-4.34zM1188.59 224.89h2.17v2.17h-2.17zM1212.43 224.89h2.17v2.17h-2.17zM1286.13 224.89h2.17v2.17h-2.17zM1372.83 224.89h2.17v2.17h-2.17zM1515.88 224.89h2.17v2.17h-2.17zM1563.57 224.89h2.17v2.17h-2.17zM81 441.64h2.17v2.17h-2.17zM85.33 62.32h2.17v2.17h-2.17zM100.5 62.32h2.17v2.17h-2.17zM124.35 62.32h2.17v2.17h-2.17zM165.53 62.32h2.17v2.17h-2.17zM193.71 62.32h2.17v2.17h-2.17zM211.05 62.32h2.17v2.17h-2.17zM245.73 62.32h2.17v2.17h-2.17zM267.4 62.32h4.33v2.17h-4.33zM284.74 62.32h8.67v2.17h-8.67zM297.75 62.32h2.17v2.17h-2.17zM317.25 62.32h2.17v2.17h-2.17zM323.76 62.32h2.17v2.17h-2.17zM328.09 62.32h2.17v2.17h-2.17zM371.44 62.32h2.17v2.17h-2.17zM388.78 62.32h2.17v2.17h-2.17zM395.29 62.32h2.17v2.17h-2.17zM408.29 62.32h2.17v2.17h-2.17zM445.14 62.32h2.17v2.17h-2.17zM473.31 62.32h2.17v2.17h-2.17zM484.15 62.32h2.17v2.17h-2.17zM503.66 62.32h4.33v2.17h-4.33zM516.66 62.32h2.17v2.17h-2.17zM531.84 62.32h2.17v2.17h-2.17zM538.34 62.32h4.34v2.17h-4.34zM555.68 62.32h2.17v2.17h-2.17zM573.02 62.32h4.33v2.17h-4.33zM579.52 62.32h2.17v2.17h-2.17zM583.86 62.32h2.17v2.17h-2.17zM590.36 62.32h2.17v2.17h-2.17zM607.7 62.32h2.17v2.17h-2.17zM614.2 62.32h2.17v2.17h-2.17zM627.21 62.32h4.33v2.17h-4.33zM638.04 62.32h2.17v2.17h-2.17zM642.38 62.32h2.17v2.17h-2.17zM648.88 62.32h2.17v2.17h-2.17zM664.05 62.32h4.34v2.17h-4.34zM716.07 62.32h4.34v2.17h-4.34zM733.41 62.32h2.17v2.17h-2.17zM755.09 62.32h2.17v2.17h-2.17zM772.43 62.32h2.17v2.17h-2.17zM776.76 62.32h2.17v2.17h-2.17zM781.1 62.32h2.17v2.17h-2.17zM785.43 62.32h2.17v2.17h-2.17zM789.77 62.32h2.17v2.17h-2.17zM802.77 62.32h6.5v2.17h-6.5zM815.78 62.32h4.33v2.17h-4.33zM843.96 62.32h2.17v2.17h-2.17zM850.46 62.32h4.34v2.17h-4.34zM867.8 62.32h2.17v2.17h-2.17zM885.14 62.32h2.17v2.17h-2.17zM893.81 62.32h2.17v2.17h-2.17zM904.65 62.32h2.17v2.17h-2.17zM924.15 62.32h2.17v2.17h-2.17zM945.83 62.32h2.17v2.17h-2.17zM963.17 62.32h2.17v2.17h-2.17zM969.67 62.32h2.17v2.17h-2.17zM974.01 62.32h2.17v2.17h-2.17zM1002.18 62.32h2.17v2.17h-2.17zM1015.19 62.32h2.17v2.17h-2.17zM1034.7 62.32h4.34v2.17h-4.34zM1054.2 62.32h2.17v2.17h-2.17zM1067.21 62.32h2.17v2.17h-2.17zM1082.38 62.32h2.17v2.17h-2.17zM1095.39 62.32h2.17v2.17h-2.17zM1104.06 62.32h4.34v2.17h-4.34zM1132.23 62.32h2.17v2.17h-2.17zM1143.07 62.32h2.17v2.17h-2.17zM1151.74 62.32h4.34v2.17h-4.34zM1160.41 62.32h2.17v2.17h-2.17zM1179.92 62.32h2.17v2.17h-2.17zM1210.26 62.32h2.17v2.17h-2.17zM1216.77 62.32h2.17v2.17h-2.17zM1240.61 62.32h2.17v2.17h-2.17zM1244.94 62.32h2.17v2.17h-2.17zM1249.28 62.32h2.17v2.17h-2.17zM1277.46 62.32h2.17v2.17h-2.17zM1305.63 62.32h2.17v2.17h-2.17zM1327.31 62.32h2.17v2.17h-2.17zM1344.65 62.32h2.17v2.17h-2.17zM1370.66 62.32h2.17v2.17h-2.17zM1383.66 62.32h2.17v2.17h-2.17zM1422.68 62.32h2.17v2.17h-2.17zM1435.68 62.32h2.17v2.17h-2.17zM1455.19 62.32h2.17v2.17h-2.17zM1466.03 62.32h4.34v2.17h-4.34zM1498.54 62.32h2.17v2.17h-2.17zM1515.88 62.32h2.17v2.17h-2.17zM1548.39 62.32h2.17v2.17h-2.17zM1552.73 62.32h2.17v2.17h-2.17zM1559.23 62.32h2.17v2.17h-2.17zM1567.9 62.32h2.17v2.17h-2.17zM1572.24 62.32h2.17v2.17h-2.17zM85.33 435.13h2.17v2.17h-2.17zM94 376.61h2.17v2.17h-2.17zM96.17 443.8h2.17v2.17h-2.17zM115.68 443.8h2.17v2.17h-2.17zM122.18 443.8h2.17v2.17h-2.17zM130.85 443.8h2.17v2.17h-2.17zM137.35 443.8h2.17v2.17h-2.17zM146.02 443.8h2.17v2.17h-2.17zM154.69 443.8h2.17v2.17h-2.17zM161.2 443.8h2.17v2.17h-2.17zM169.87 443.8h2.17v2.17h-2.17zM176.37 443.8h2.17v2.17h-2.17zM185.04 443.8h2.17v2.17h-2.17zM191.54 443.8h2.17v2.17h-2.17zM200.21 443.8h2.17v2.17h-2.17zM206.71 443.8h2.17v2.17h-2.17zM215.38 443.8h2.17v2.17h-2.17zM221.89 443.8h2.17v2.17h-2.17zM230.56 443.8h2.17v2.17h-2.17zM237.06 443.8h4.34v2.17h-4.34zM245.73 443.8h2.17v2.17h-2.17zM254.4 443.8h2.17v2.17h-2.17zM260.9 443.8h2.17v2.17h-2.17zM269.57 443.8h2.17v2.17h-2.17zM276.07 443.8h2.17v2.17h-2.17zM284.74 443.8h2.17v2.17h-2.17zM291.25 443.8h2.17v2.17h-2.17zM299.92 443.8h2.17v2.17h-2.17zM306.42 443.8h2.17v2.17h-2.17zM315.09 443.8h2.17v2.17h-2.17zM321.59 443.8h2.17v2.17h-2.17zM330.26 443.8h2.17v2.17h-2.17zM336.76 443.8h4.34v2.17h-4.34zM345.43 443.8h2.17v2.17h-2.17zM354.1 443.8h2.17v2.17h-2.17zM360.61 443.8h2.17v2.17h-2.17zM369.28 443.8h2.17v2.17h-2.17zM375.78 443.8h2.17v2.17h-2.17zM384.45 443.8h2.17v2.17h-2.17zM390.95 443.8h2.17v2.17h-2.17zM399.62 443.8h2.17v2.17h-2.17zM406.12 443.8h2.17v2.17h-2.17zM414.79 443.8h2.17v2.17h-2.17zM421.3 443.8h2.17v2.17h-2.17zM429.97 443.8h2.17v2.17h-2.17zM436.47 443.8h4.33v2.17h-4.33zM445.14 443.8h2.17v2.17h-2.17zM453.81 443.8h2.17v2.17h-2.17zM460.31 443.8h2.17v2.17h-2.17zM468.98 443.8h2.17v2.17h-2.17zM475.48 443.8h2.17v2.17h-2.17zM484.15 443.8h2.17v2.17h-2.17zM490.66 443.8h2.17v2.17h-2.17zM499.32 443.8h2.17v2.17h-2.17zM505.83 443.8h2.17v2.17h-2.17zM514.5 443.8h2.17v2.17h-2.17zM521 443.8h2.17v2.17h-2.17zM529.67 443.8h2.17v2.17h-2.17zM536.17 443.8h4.34v2.17h-4.34zM544.84 443.8h2.17v2.17h-2.17zM553.51 443.8h2.17v2.17h-2.17zM560.01 443.8h2.17v2.17h-2.17zM568.68 443.8h2.17v2.17h-2.17zM575.19 443.8h2.17v2.17h-2.17zM583.86 443.8h2.17v2.17h-2.17zM590.36 443.8h2.17v2.17h-2.17zM599.03 443.8h2.17v2.17h-2.17zM605.53 443.8h2.17v2.17h-2.17zM614.2 443.8h2.17v2.17h-2.17zM620.7 443.8h2.17v2.17h-2.17zM629.38 443.8h2.17v2.17h-2.17zM635.88 443.8h4.34v2.17h-4.34zM644.55 443.8h2.17v2.17h-2.17zM653.22 443.8h2.17v2.17h-2.17zM659.72 443.8h2.17v2.17h-2.17zM668.39 443.8h2.17v2.17h-2.17zM674.89 443.8h2.17v2.17h-2.17zM683.56 443.8h2.17v2.17h-2.17zM690.06 443.8h2.17v2.17h-2.17zM698.73 443.8h2.17v2.17h-2.17zM705.24 443.8h2.17v2.17h-2.17zM713.91 443.8h2.17v2.17h-2.17zM720.41 443.8h2.17v2.17h-2.17zM729.08 443.8h2.17v2.17h-2.17zM735.58 443.8h4.33v2.17h-4.33zM744.25 443.8h2.17v2.17h-2.17zM752.92 443.8h2.17v2.17h-2.17zM759.42 443.8h2.17v2.17h-2.17zM768.09 443.8h2.17v2.17h-2.17zM774.6 443.8h2.17v2.17h-2.17zM783.27 443.8h2.17v2.17h-2.17zM789.77 443.8h2.17v2.17h-2.17zM798.44 443.8h2.17v2.17h-2.17zM804.94 443.8h2.17v2.17h-2.17zM813.61 443.8h2.17v2.17h-2.17zM820.11 443.8h2.17v2.17h-2.17zM828.78 443.8h2.17v2.17h-2.17zM835.29 443.8h4.34v2.17h-4.34zM843.96 443.8h2.17v2.17h-2.17zM852.63 443.8h2.17v2.17h-2.17zM859.13 443.8h2.17v2.17h-2.17zM867.8 443.8h2.17v2.17h-2.17zM874.3 443.8h2.17v2.17h-2.17zM882.97 443.8h2.17v2.17h-2.17zM889.47 443.8h2.17v2.17h-2.17zM898.14 443.8h2.17v2.17h-2.17zM904.65 443.8h2.17v2.17h-2.17zM913.32 443.8h2.17v2.17h-2.17zM919.82 443.8h2.17v2.17h-2.17zM928.49 443.8h2.17v2.17h-2.17zM934.99 443.8h4.34v2.17h-4.34zM943.66 443.8h2.17v2.17h-2.17zM952.33 443.8h2.17v2.17h-2.17zM958.83 443.8h2.17v2.17h-2.17zM967.5 443.8h2.17v2.17h-2.17zM974.01 443.8h2.17v2.17h-2.17zM984.84 443.8h4.34v2.17h-4.34zM993.51 443.8h2.17v2.17h-2.17zM1002.18 443.8h2.17v2.17h-2.17zM1008.69 443.8h2.17v2.17h-2.17zM1017.36 443.8h2.17v2.17h-2.17zM1585.24 443.8h2.17v2.17h-2.17zM100.5 279.07h2.17v2.17h-2.17zM202.38 279.07h4.34v2.17h-4.34zM345.43 279.07h2.17v2.17h-2.17zM354.1 279.07h2.17v2.17h-2.17zM445.14 279.07h2.17v2.17h-2.17zM107.01 116.51h2.17v2.17h-2.17zM135.19 116.51h2.17v2.17h-2.17zM150.36 116.51h2.17v2.17h-2.17zM187.21 116.51h2.17v2.17h-2.17zM208.88 116.51h4.34v2.17h-4.34zM217.55 116.51h2.17v2.17h-2.17zM232.72 116.51h2.17v2.17h-2.17zM247.9 116.51h2.17v2.17h-2.17zM265.24 116.51h2.17v2.17h-2.17zM310.75 116.51h2.17v2.17h-2.17zM321.59 116.51h2.17v2.17h-2.17zM330.26 116.51h2.17v2.17h-2.17zM336.76 116.51h2.17v2.17h-2.17zM341.1 116.51h2.17v2.17h-2.17zM367.11 116.51h2.17v2.17h-2.17zM380.11 116.51h2.17v2.17h-2.17zM384.45 116.51h2.17v2.17h-2.17zM388.78 116.51h2.17v2.17h-2.17zM410.46 116.51h2.17v2.17h-2.17zM429.97 116.51h6.5v2.17h-6.5zM445.14 116.51h2.17v2.17h-2.17zM486.32 116.51h2.17v2.17h-2.17zM499.32 116.51h2.17v2.17h-2.17zM544.84 116.51h2.17v2.17h-2.17zM557.85 116.51h2.17v2.17h-2.17zM568.68 116.51h2.17v2.17h-2.17zM573.02 116.51h4.33v2.17h-4.33zM633.71 116.51h2.17v2.17h-2.17zM640.21 116.51h2.17v2.17h-2.17zM668.39 116.51h2.17v2.17h-2.17zM690.06 116.51h2.17v2.17h-2.17zM698.73 116.51h2.17v2.17h-2.17zM724.75 116.51h2.17v2.17h-2.17zM733.41 116.51h2.17v2.17h-2.17zM744.25 116.51h2.17v2.17h-2.17zM757.26 116.51h2.17v2.17h-2.17zM822.28 116.51h2.17v2.17h-2.17zM828.78 116.51h2.17v2.17h-2.17zM839.62 116.51h2.17v2.17h-2.17zM856.96 116.51h2.17v2.17h-2.17zM885.14 116.51h2.17v2.17h-2.17zM919.82 116.51h4.34v2.17h-4.34zM932.82 116.51h2.17v2.17h-2.17zM948 116.51h2.17v2.17h-2.17zM963.17 116.51h2.17v2.17h-2.17zM971.84 116.51h2.17v2.17h-2.17zM993.51 116.51h2.17v2.17h-2.17zM997.85 116.51h2.17v2.17h-2.17zM1017.36 116.51h2.17v2.17h-2.17zM1021.69 116.51h2.17v2.17h-2.17zM1028.19 116.51h2.17v2.17h-2.17zM1032.53 116.51h2.17v2.17h-2.17zM1049.87 116.51h2.17v2.17h-2.17zM1056.37 116.51h2.17v2.17h-2.17zM1062.88 116.51h2.17v2.17h-2.17zM1067.21 116.51h2.17v2.17h-2.17zM1073.71 116.51h2.17v2.17h-2.17zM1138.74 116.51h2.17v2.17h-2.17zM1169.08 116.51h4.34v2.17h-4.34zM1192.92 116.51h2.17v2.17h-2.17zM1197.26 116.51h2.17v2.17h-2.17zM1203.76 116.51h2.17v2.17h-2.17zM1234.11 116.51h2.17v2.17h-2.17zM1238.44 116.51h2.17v2.17h-2.17zM1290.46 116.51h2.17v2.17h-2.17zM1301.3 116.51h2.17v2.17h-2.17zM1305.63 116.51h2.17v2.17h-2.17zM1338.15 116.51h2.17v2.17h-2.17zM1342.48 116.51h2.17v2.17h-2.17zM1346.82 116.51h2.17v2.17h-2.17zM1357.65 116.51h2.17v2.17h-2.17zM1364.16 116.51h2.17v2.17h-2.17zM1383.66 116.51h2.17v2.17h-2.17zM1418.35 116.51h2.17v2.17h-2.17zM1446.52 116.51h2.17v2.17h-2.17zM1450.86 116.51h2.17v2.17h-2.17zM1457.36 116.51h2.17v2.17h-2.17zM1489.87 116.51h2.17v2.17h-2.17zM1507.21 116.51h2.17v2.17h-2.17zM1515.88 116.51h2.17v2.17h-2.17zM1533.22 116.51h2.17v2.17h-2.17zM1550.56 116.51h2.17v2.17h-2.17zM1572.24 116.51h2.17v2.17h-2.17zM1576.57 116.51h2.17v2.17h-2.17zM1580.91 116.51h2.17v2.17h-2.17zM111.34 389.62h2.17v2.17h-2.17zM115.68 389.62h2.17v2.17h-2.17zM130.85 389.62h2.17v2.17h-2.17zM141.69 389.62h2.17v2.17h-2.17zM161.2 389.62h2.17v2.17h-2.17zM195.88 389.62h2.17v2.17h-2.17zM260.9 389.62h2.17v2.17h-2.17zM269.57 389.62h2.17v2.17h-2.17zM709.57 389.62h2.17v2.17h-2.17zM718.24 389.62h2.17v2.17h-2.17zM724.75 389.62h2.17v2.17h-2.17zM733.41 389.62h2.17v2.17h-2.17zM739.92 389.62h2.17v2.17h-2.17zM748.59 389.62h2.17v2.17h-2.17zM755.09 389.62h2.17v2.17h-2.17zM763.76 389.62h2.17v2.17h-2.17zM778.93 389.62h2.17v2.17h-2.17zM794.1 389.62h2.17v2.17h-2.17zM802.77 389.62h2.17v2.17h-2.17zM809.28 389.62h2.17v2.17h-2.17zM817.95 389.62h2.17v2.17h-2.17zM824.45 389.62h2.17v2.17h-2.17zM833.12 389.62h2.17v2.17h-2.17zM839.62 389.62h2.17v2.17h-2.17zM848.29 389.62h2.17v2.17h-2.17zM854.79 389.62h2.17v2.17h-2.17zM863.46 389.62h2.17v2.17h-2.17zM878.64 389.62h2.17v2.17h-2.17zM893.81 389.62h2.17v2.17h-2.17zM902.48 389.62h2.17v2.17h-2.17zM908.98 389.62h2.17v2.17h-2.17zM917.65 389.62h2.17v2.17h-2.17zM924.15 389.62h2.17v2.17h-2.17zM932.82 389.62h2.17v2.17h-2.17zM939.33 389.62h2.17v2.17h-2.17zM948 389.62h2.17v2.17h-2.17zM954.5 389.62h2.17v2.17h-2.17zM963.17 389.62h2.17v2.17h-2.17zM978.34 389.62h2.17v2.17h-2.17zM982.68 389.62h2.17v2.17h-2.17zM989.18 389.62h2.17v2.17h-2.17zM997.85 389.62h2.17v2.17h-2.17zM1004.35 389.62h2.17v2.17h-2.17zM1013.02 389.62h2.17v2.17h-2.17zM111.34 426.46h2.17v2.17h-2.17zM130.85 333.26h2.17v2.17h-2.17zM165.53 333.26h2.17v2.17h-2.17zM375.78 333.26h2.17v2.17h-2.17zM380.11 333.26h2.17v2.17h-2.17zM455.98 333.26h2.17v2.17h-2.17zM568.68 333.26h2.17v2.17h-2.17zM575.19 333.26h2.17v2.17h-2.17zM798.44 333.26h2.17v2.17h-2.17zM804.94 333.26h2.17v2.17h-2.17zM813.61 333.26h2.17v2.17h-2.17zM820.11 333.26h2.17v2.17h-2.17zM833.12 333.26h2.17v2.17h-2.17zM839.62 333.26h2.17v2.17h-2.17zM848.29 333.26h2.17v2.17h-2.17zM854.79 333.26h2.17v2.17h-2.17zM863.46 333.26h2.17v2.17h-2.17zM1461.69 333.26h2.17v2.17h-2.17zM1476.87 333.26h2.17v2.17h-2.17zM1485.54 333.26h2.17v2.17h-2.17zM1492.04 333.26h2.17v2.17h-2.17zM1500.71 333.26h2.17v2.17h-2.17zM1507.21 333.26h2.17v2.17h-2.17zM1515.88 333.26h2.17v2.17h-2.17zM1522.38 333.26h2.17v2.17h-2.17zM1531.05 333.26h2.17v2.17h-2.17zM1537.56 333.26h2.17v2.17h-2.17zM1546.23 333.26h2.17v2.17h-2.17zM1552.73 333.26h2.17v2.17h-2.17zM1561.4 333.26h2.17v2.17h-2.17zM146.02 170.7h4.34v2.17h-4.34zM178.53 170.7h2.17v2.17h-2.17zM185.04 170.7h2.17v2.17h-2.17zM226.22 170.7h2.17v2.17h-2.17zM239.23 170.7h4.33v2.17h-4.33zM466.81 170.7h2.17v2.17h-2.17zM525.33 170.7h2.17v2.17h-2.17zM549.18 170.7h2.17v2.17h-2.17zM560.01 170.7h2.17v2.17h-2.17zM607.7 170.7h2.17v2.17h-2.17zM612.03 170.7h2.17v2.17h-2.17zM659.72 170.7h2.17v2.17h-2.17zM698.73 170.7h2.17v2.17h-2.17zM750.75 170.7h2.17v2.17h-2.17zM778.93 170.7h2.17v2.17h-2.17zM794.1 170.7h2.17v2.17h-2.17zM846.12 170.7h2.17v2.17h-2.17zM863.46 170.7h2.17v2.17h-2.17zM943.66 170.7h4.34v2.17h-4.34zM950.16 170.7h2.17v2.17h-2.17zM993.51 170.7h2.17v2.17h-2.17zM997.85 170.7h2.17v2.17h-2.17zM1058.54 170.7h2.17v2.17h-2.17zM1091.05 170.7h2.17v2.17h-2.17zM1179.92 170.7h2.17v2.17h-2.17zM1195.09 170.7h2.17v2.17h-2.17zM1227.61 170.7h2.17v2.17h-2.17zM1292.63 170.7h2.17v2.17h-2.17zM1346.82 170.7h2.17v2.17h-2.17zM1411.84 170.7h2.17v2.17h-2.17zM1442.19 170.7h2.17v2.17h-2.17zM1446.52 170.7h2.17v2.17h-2.17zM1461.69 170.7h2.17v2.17h-2.17zM1472.53 170.7h2.17v2.17h-2.17zM1489.87 170.7h2.17v2.17h-2.17zM1515.88 170.7h2.17v2.17h-2.17zM1539.72 170.7h4.34v2.17h-4.34zM1585.24 170.7h2.17v2.17h-2.17zM146.02 326.76h2.17v4.33h-2.17zM169.87 114.34h2.17v2.17h-2.17zM258.73 114.34h2.17v2.17h-2.17zM269.57 114.34h2.17v2.17h-2.17zM319.42 114.34h2.17v2.17h-2.17zM774.6 114.34h2.17v2.17h-2.17zM843.96 114.34h2.17v2.17h-2.17zM1125.73 114.34h4.34v2.17h-4.34zM1158.24 114.34h2.17v2.17h-2.17zM1212.43 114.34h2.17v2.17h-2.17zM169.87 387.45h2.17v2.17h-2.17zM306.42 387.45h2.17v2.17h-2.17zM315.09 387.45h2.17v2.17h-2.17zM321.59 387.45h2.17v2.17h-2.17zM330.26 387.45h2.17v2.17h-2.17zM419.13 387.45h2.17v2.17h-2.17zM425.63 387.45h2.17v2.17h-2.17zM434.3 387.45h2.17v2.17h-2.17zM440.8 387.45h2.17v2.17h-2.17zM449.47 387.45h2.17v2.17h-2.17zM455.98 387.45h2.17v2.17h-2.17zM464.64 387.45h2.17v2.17h-2.17zM471.15 387.45h2.17v2.17h-2.17zM479.82 387.45h2.17v2.17h-2.17zM494.99 387.45h2.17v2.17h-2.17zM503.66 387.45h2.17v2.17h-2.17zM510.16 387.45h2.17v2.17h-2.17zM518.83 387.45h2.17v2.17h-2.17zM176.37 222.72h2.17v2.17h-2.17zM345.43 222.72h2.17v2.17h-2.17zM429.97 222.72h2.17v2.17h-2.17zM544.84 222.72h2.17v2.17h-2.17zM609.87 222.72h2.17v2.17h-2.17zM1097.55 222.72h2.17v2.17h-2.17zM1277.46 222.72h2.17v2.17h-2.17zM1327.31 222.72h2.17v2.17h-2.17zM1476.87 222.72h2.17v2.17h-2.17zM1492.04 222.72h2.17v2.17h-2.17zM1576.57 222.72h2.17v2.17h-2.17zM208.88 218.38h2.17v2.17h-2.17zM293.41 218.38h2.17v2.17h-2.17zM362.77 218.38h2.17v2.17h-2.17zM616.37 218.38h2.17v2.17h-2.17zM880.8 218.38h2.17v2.17h-2.17zM926.32 218.38h2.17v2.17h-2.17zM211.05 272.57h2.17v8.67h-2.17zM594.69 272.57h2.17v8.67h-2.17zM1227.61 272.57h2.17v8.67h-2.17zM280.41 211.88h2.17v15.17h-2.17zM395.29 276.91h2.17v4.34h-2.17zM410.46 276.91h2.17v4.34h-2.17zM494.99 276.91h2.17v4.34h-2.17zM399.62 168.53h2.17v2.17h-2.17zM967.5 168.53h2.17v2.17h-2.17zM464.64 53.65h2.17v8.67h-2.17zM1392.34 53.65h2.17v8.67h-2.17zM464.64 112.18h2.17v4.33h-2.17zM1411.84 112.18h2.17v4.33h-2.17zM1476.87 112.18h2.17v4.33h-2.17zM1561.4 112.18h2.17v4.33h-2.17zM540.51 164.2h2.17v2.17h-2.17zM878.64 164.2h2.17v2.17h-2.17zM889.47 164.2h2.17v2.17h-2.17zM579.52 263.9h2.17v13h-2.17zM659.72 57.99h2.17v4.34h-2.17zM679.23 263.9h2.17v8.67h-2.17zM1078.05 263.9h2.17v8.67h-2.17zM763.76 263.9h2.17v6.5h-2.17zM794.1 270.4h2.17v2.17h-2.17zM828.78 270.4h2.17v2.17h-2.17zM913.32 270.4h2.17v2.17h-2.17zM859.13 211.88h2.17v13h-2.17zM1008.69 220.55h2.17v4.34h-2.17zM1112.73 220.55h2.17v4.34h-2.17zM1392.34 220.55h2.17v4.34h-2.17zM1013.02 159.86h2.17v8.67h-2.17zM1127.9 222.72h2.17v4.33h-2.17zM1327.31 166.36h2.17v6.5h-2.17zM1361.99 159.86h2.17v10.84h-2.17zM1427.01 112.18h2.17v2.17h-2.17zM1585.24 263.9h2.17v17.34h-2.17zM1585.24 552.18h2.17v2.17h-2.17z"/>
<path style="mix-blend-mode:plus-lighter" fill-opacity="0.94" d="M78.83 389.62h6.5v2.17h-6.5zM94 389.62h2.17v2.17h-2.17zM98.34 389.62h2.17v2.17h-2.17zM102.67 389.62h2.17v2.17h-2.17zM107.01 389.62h4.34v2.17h-4.34zM117.84 389.62h4.33v2.17h-4.33zM133.02 389.62h8.67v2.17h-8.67zM163.36 389.62h17.34v2.17h-17.34zM182.87 389.62h13v2.17h-13zM273.91 389.62h71.53v2.17h-71.53zM347.6 389.62h357.64v2.17h-357.64zM81 62.32h2.17v2.17h-2.17zM96.17 62.32h2.17v2.17h-2.17zM109.17 62.32h2.17v2.17h-2.17zM122.18 62.32h2.17v2.17h-2.17zM180.7 62.32h2.17v2.17h-2.17zM187.21 62.32h4.34v2.17h-4.34zM200.21 62.32h2.17v2.17h-2.17zM206.71 62.32h2.17v2.17h-2.17zM256.56 62.32h2.17v2.17h-2.17zM295.58 62.32h2.17v2.17h-2.17zM299.92 62.32h2.17v2.17h-2.17zM321.59 62.32h2.17v2.17h-2.17zM364.94 62.32h2.17v2.17h-2.17zM369.28 62.32h2.17v2.17h-2.17zM375.78 62.32h2.17v2.17h-2.17zM380.11 62.32h2.17v2.17h-2.17zM390.95 62.32h2.17v2.17h-2.17zM401.79 62.32h2.17v2.17h-2.17zM414.79 62.32h2.17v2.17h-2.17zM421.3 62.32h2.17v2.17h-2.17zM455.98 62.32h2.17v2.17h-2.17zM460.31 62.32h2.17v2.17h-2.17zM464.64 62.32h2.17v2.17h-2.17zM468.98 62.32h2.17v2.17h-2.17zM475.48 62.32h2.17v2.17h-2.17zM486.32 62.32h2.17v2.17h-2.17zM490.66 62.32h2.17v2.17h-2.17zM544.84 62.32h2.17v2.17h-2.17zM549.18 62.32h2.17v2.17h-2.17zM625.04 62.32h2.17v2.17h-2.17zM653.22 62.32h2.17v2.17h-2.17zM672.72 62.32h2.17v2.17h-2.17zM677.06 62.32h2.17v2.17h-2.17zM681.39 62.32h4.33v2.17h-4.33zM698.73 62.32h2.17v2.17h-2.17zM709.57 62.32h2.17v2.17h-2.17zM724.75 62.32h2.17v2.17h-2.17zM729.08 62.32h2.17v2.17h-2.17zM739.92 62.32h2.17v2.17h-2.17zM744.25 62.32h2.17v2.17h-2.17zM750.75 62.32h2.17v2.17h-2.17zM759.42 62.32h2.17v2.17h-2.17zM774.6 62.32h2.17v2.17h-2.17zM783.27 62.32h2.17v2.17h-2.17zM820.11 62.32h2.17v2.17h-2.17zM824.45 62.32h2.17v2.17h-2.17zM869.97 62.32h2.17v2.17h-2.17zM878.64 62.32h2.17v2.17h-2.17zM982.68 62.32h2.17v2.17h-2.17zM987.01 62.32h2.17v2.17h-2.17zM993.51 62.32h2.17v2.17h-2.17zM997.85 62.32h2.17v2.17h-2.17zM1023.86 62.32h2.17v2.17h-2.17zM1028.19 62.32h2.17v2.17h-2.17zM1041.2 62.32h2.17v2.17h-2.17zM1052.04 62.32h2.17v2.17h-2.17zM1112.73 62.32h2.17v2.17h-2.17zM1119.23 62.32h2.17v2.17h-2.17zM1158.24 62.32h2.17v2.17h-2.17zM1162.58 62.32h2.17v2.17h-2.17zM1171.25 62.32h2.17v2.17h-2.17zM1186.42 62.32h2.17v2.17h-2.17zM1221.1 62.32h2.17v2.17h-2.17zM1301.3 62.32h2.17v2.17h-2.17zM1342.48 62.32h2.17v2.17h-2.17zM1361.99 62.32h2.17v2.17h-2.17zM1390.17 62.32h2.17v2.17h-2.17zM1407.51 62.32h2.17v2.17h-2.17zM1492.04 62.32h2.17v2.17h-2.17zM1537.56 62.32h2.17v2.17h-2.17zM1541.89 62.32h2.17v2.17h-2.17zM1563.57 62.32h2.17v2.17h-2.17zM81 116.51h2.17v2.17h-2.17zM98.34 116.51h2.17v2.17h-2.17zM161.2 116.51h4.33v2.17h-4.33zM176.37 116.51h2.17v2.17h-2.17zM180.7 116.51h2.17v2.17h-2.17zM278.24 116.51h2.17v2.17h-2.17zM464.64 116.51h2.17v2.17h-2.17zM477.65 116.51h2.17v2.17h-2.17zM492.82 116.51h2.17v2.17h-2.17zM512.33 116.51h4.34v2.17h-4.34zM542.67 116.51h2.17v2.17h-2.17zM646.71 116.51h4.34v2.17h-4.34zM655.38 116.51h4.33v2.17h-4.33zM735.58 116.51h2.17v2.17h-2.17zM763.76 116.51h2.17v2.17h-2.17zM802.77 116.51h2.17v2.17h-2.17zM830.95 116.51h2.17v2.17h-2.17zM865.63 116.51h2.17v2.17h-2.17zM908.98 116.51h2.17v2.17h-2.17zM924.15 116.51h2.17v2.17h-2.17zM928.49 116.51h2.17v2.17h-2.17zM941.49 116.51h4.34v2.17h-4.34zM1008.69 116.51h2.17v2.17h-2.17zM1023.86 116.51h2.17v2.17h-2.17zM1039.03 116.51h2.17v2.17h-2.17zM1045.53 116.51h2.17v2.17h-2.17zM1095.39 116.51h2.17v2.17h-2.17zM1112.73 116.51h2.17v2.17h-2.17zM1119.23 116.51h2.17v2.17h-2.17zM1184.25 116.51h2.17v2.17h-2.17zM1242.78 116.51h2.17v2.17h-2.17zM1296.96 116.51h2.17v2.17h-2.17zM1309.97 116.51h2.17v2.17h-2.17zM1335.98 116.51h2.17v2.17h-2.17zM1361.99 116.51h2.17v2.17h-2.17zM1370.66 116.51h2.17v2.17h-2.17zM1390.17 116.51h2.17v2.17h-2.17zM1411.84 116.51h2.17v2.17h-2.17zM1437.85 116.51h2.17v2.17h-2.17zM1461.69 116.51h2.17v2.17h-2.17zM1496.38 116.51h2.17v2.17h-2.17zM1567.9 116.51h2.17v2.17h-2.17zM81 443.8h2.17v2.17h-2.17zM81 497.99h2.17v2.17h-2.17zM85.33 114.34h2.17v2.17h-2.17zM167.7 114.34h2.17v2.17h-2.17zM239.23 114.34h2.17v2.17h-2.17zM291.25 114.34h2.17v2.17h-2.17zM297.75 114.34h4.33v2.17h-4.33zM304.25 114.34h2.17v2.17h-2.17zM338.93 114.34h2.17v2.17h-2.17zM414.79 114.34h2.17v2.17h-2.17zM521 114.34h2.17v2.17h-2.17zM534 114.34h2.17v2.17h-2.17zM538.34 114.34h2.17v2.17h-2.17zM601.2 114.34h2.17v2.17h-2.17zM846.12 114.34h2.17v2.17h-2.17zM854.79 114.34h2.17v2.17h-2.17zM1000.02 114.34h2.17v2.17h-2.17zM1004.35 114.34h2.17v2.17h-2.17zM1104.06 114.34h2.17v2.17h-2.17zM1151.74 114.34h2.17v2.17h-2.17zM1218.93 114.34h2.17v2.17h-2.17zM1244.94 114.34h2.17v2.17h-2.17zM1283.96 114.34h6.5v2.17h-6.5zM1420.51 114.34h6.5v2.17h-6.5zM1485.54 114.34h4.34v2.17h-4.34zM1535.39 114.34h2.17v2.17h-2.17zM85.33 437.3h2.17v6.5h-2.17zM91.83 168.53h4.34v2.17h-4.34zM156.86 168.53h2.17v2.17h-2.17zM317.25 168.53h4.34v2.17h-4.34zM382.28 168.53h2.17v2.17h-2.17zM393.12 168.53h2.17v2.17h-2.17zM419.13 168.53h2.17v2.17h-2.17zM473.31 168.53h2.17v2.17h-2.17zM770.26 168.53h2.17v2.17h-2.17zM1010.85 168.53h2.17v2.17h-2.17zM1067.21 168.53h2.17v2.17h-2.17zM1203.76 168.53h2.17v2.17h-2.17zM1255.78 168.53h2.17v2.17h-2.17zM1359.82 168.53h2.17v2.17h-2.17zM1390.17 168.53h2.17v2.17h-2.17zM1398.84 168.53h2.17v2.17h-2.17zM1405.34 168.53h2.17v2.17h-2.17zM98.34 376.61h2.17v2.17h-2.17zM104.84 60.16h2.17v2.17h-2.17zM117.84 60.16h2.17v2.17h-2.17zM128.68 60.16h2.17v2.17h-2.17zM172.03 60.16h2.17v2.17h-2.17zM217.55 60.16h2.17v2.17h-2.17zM254.4 60.16h2.17v2.17h-2.17zM304.25 60.16h2.17v2.17h-2.17zM334.6 60.16h2.17v2.17h-2.17zM692.23 60.16h2.17v2.17h-2.17zM711.74 60.16h2.17v2.17h-2.17zM863.46 60.16h2.17v2.17h-2.17zM950.16 60.16h2.17v2.17h-2.17zM1049.87 60.16h2.17v2.17h-2.17zM1088.88 60.16h2.17v2.17h-2.17zM1110.56 60.16h2.17v2.17h-2.17zM1184.25 60.16h2.17v2.17h-2.17zM1270.95 60.16h2.17v2.17h-2.17zM1299.13 60.16h2.17v2.17h-2.17zM1340.32 60.16h2.17v2.17h-2.17zM1533.22 60.16h2.17v2.17h-2.17zM107.01 170.7h2.17v2.17h-2.17zM180.7 170.7h2.17v2.17h-2.17zM325.93 170.7h2.17v2.17h-2.17zM334.6 170.7h6.5v2.17h-6.5zM360.61 170.7h2.17v2.17h-2.17zM375.78 170.7h2.17v2.17h-2.17zM388.78 170.7h2.17v2.17h-2.17zM395.29 170.7h2.17v2.17h-2.17zM399.62 170.7h2.17v2.17h-2.17zM575.19 170.7h2.17v2.17h-2.17zM609.87 170.7h2.17v2.17h-2.17zM614.2 170.7h2.17v2.17h-2.17zM679.23 170.7h2.17v2.17h-2.17zM709.57 170.7h2.17v2.17h-2.17zM713.91 170.7h2.17v2.17h-2.17zM735.58 170.7h2.17v2.17h-2.17zM752.92 170.7h2.17v2.17h-2.17zM763.76 170.7h2.17v2.17h-2.17zM813.61 170.7h2.17v2.17h-2.17zM835.29 170.7h4.34v2.17h-4.34zM952.33 170.7h2.17v2.17h-2.17zM1097.55 170.7h2.17v2.17h-2.17zM1177.75 170.7h2.17v2.17h-2.17zM1242.78 170.7h2.17v2.17h-2.17zM1247.11 170.7h2.17v2.17h-2.17zM1453.02 170.7h2.17v2.17h-2.17zM1518.05 170.7h4.34v2.17h-4.34zM1567.9 170.7h4.34v2.17h-4.34zM115.68 224.89h2.17v2.17h-2.17zM176.37 224.89h2.17v2.17h-2.17zM345.43 224.89h2.17v2.17h-2.17zM429.97 224.89h2.17v2.17h-2.17zM579.52 224.89h2.17v2.17h-2.17zM609.87 224.89h2.17v2.17h-2.17zM859.13 224.89h2.17v2.17h-2.17zM1008.69 224.89h2.17v2.17h-2.17zM1112.73 224.89h2.17v2.17h-2.17zM1231.94 224.89h2.17v2.17h-2.17zM1346.82 224.89h2.17v2.17h-2.17zM1357.65 224.89h2.17v2.17h-2.17zM1392.34 224.89h2.17v2.17h-2.17zM1442.19 224.89h2.17v2.17h-2.17zM1476.87 224.89h2.17v2.17h-2.17zM1481.2 224.89h2.17v2.17h-2.17zM1531.05 224.89h2.17v2.17h-2.17zM1546.23 224.89h2.17v2.17h-2.17zM126.52 279.07h2.17v2.17h-2.17zM146.02 279.07h2.17v2.17h-2.17zM310.75 279.07h2.17v2.17h-2.17zM315.09 279.07h2.17v2.17h-2.17zM325.93 279.07h2.17v2.17h-2.17zM180.7 387.45h2.17v4.33h-2.17zM345.43 387.45h2.17v4.33h-2.17zM191.54 276.91h2.17v4.34h-2.17zM250.06 276.91h2.17v4.34h-2.17zM384.45 276.91h2.17v4.34h-2.17zM252.23 218.38h2.17v2.17h-2.17zM950.16 218.38h2.17v2.17h-2.17zM971.84 218.38h2.17v2.17h-2.17zM1052.04 218.38h2.17v2.17h-2.17zM299.92 159.86h2.17v13h-2.17zM399.62 112.18h2.17v4.33h-2.17zM1132.23 112.18h2.17v4.33h-2.17zM425.63 53.65h2.17v4.34h-2.17zM425.63 272.57h2.17v8.67h-2.17zM484.15 272.57h2.17v8.67h-2.17zM1572.24 272.57h2.17v8.67h-2.17zM490.66 211.88h2.17v15.17h-2.17zM848.29 211.88h2.17v15.17h-2.17zM640.21 220.55h2.17v6.5h-2.17zM997.85 220.55h2.17v6.5h-2.17zM1197.26 220.55h2.17v6.5h-2.17zM1296.96 220.55h2.17v6.5h-2.17zM733.41 263.9h2.17v8.67h-2.17zM1082.38 263.9h2.17v8.67h-2.17zM763.76 270.4h2.17v2.17h-2.17zM789.77 166.36h2.17v4.34h-2.17zM989.18 105.67h2.17v10.84h-2.17zM1097.55 57.99h2.17v2.17h-2.17zM1197.26 57.99h2.17v4.34h-2.17zM1238.44 222.72h2.17v2.17h-2.17zM1338.15 222.72h2.17v2.17h-2.17zM1381.5 222.72h2.17v2.17h-2.17zM1322.97 166.36h2.17v6.5h-2.17zM1381.5 168.53h2.17v4.33h-2.17zM1466.03 220.55h2.17v4.34h-2.17z"/>
<path style="mix-blend-mode:plus-lighter" fill-opacity="1" d="M76.66 552.18h1508.58v2.17h-1508.58zM78.83 62.32h2.17v2.17h-2.17zM87.5 62.32h8.67v2.17h-8.67zM104.84 62.32h2.17v2.17h-2.17zM117.84 62.32h4.33v2.17h-4.33zM128.68 62.32h2.17v2.17h-2.17zM133.02 62.32h4.34v2.17h-4.34zM163.36 62.32h2.17v2.17h-2.17zM172.03 62.32h2.17v2.17h-2.17zM176.37 62.32h4.34v2.17h-4.34zM217.55 62.32h2.17v2.17h-2.17zM224.05 62.32h2.17v2.17h-2.17zM252.23 62.32h4.33v2.17h-4.33zM263.07 62.32h2.17v2.17h-2.17zM304.25 62.32h2.17v2.17h-2.17zM308.59 62.32h2.17v2.17h-2.17zM334.6 62.32h2.17v2.17h-2.17zM367.11 62.32h2.17v2.17h-2.17zM377.94 62.32h2.17v2.17h-2.17zM416.96 62.32h2.17v2.17h-2.17zM436.47 62.32h2.17v2.17h-2.17zM523.17 62.32h4.34v2.17h-4.34zM534 62.32h2.17v2.17h-2.17zM551.34 62.32h2.17v2.17h-2.17zM566.52 62.32h2.17v2.17h-2.17zM596.86 62.32h2.17v2.17h-2.17zM601.2 62.32h4.33v2.17h-4.33zM631.54 62.32h6.5v2.17h-6.5zM644.55 62.32h2.17v2.17h-2.17zM659.72 62.32h2.17v2.17h-2.17zM670.56 62.32h2.17v2.17h-2.17zM679.23 62.32h2.17v2.17h-2.17zM692.23 62.32h2.17v2.17h-2.17zM711.74 62.32h4.34v2.17h-4.34zM757.26 62.32h2.17v2.17h-2.17zM794.1 62.32h4.34v2.17h-4.34zM863.46 62.32h2.17v2.17h-2.17zM872.13 62.32h2.17v2.17h-2.17zM880.8 62.32h2.17v2.17h-2.17zM902.48 62.32h2.17v2.17h-2.17zM937.16 62.32h2.17v2.17h-2.17zM950.16 62.32h2.17v2.17h-2.17zM956.67 62.32h2.17v2.17h-2.17zM984.84 62.32h2.17v2.17h-2.17zM1032.53 62.32h2.17v2.17h-2.17zM1039.03 62.32h2.17v2.17h-2.17zM1049.87 62.32h2.17v2.17h-2.17zM1086.72 62.32h6.5v2.17h-6.5zM1099.72 62.32h2.17v2.17h-2.17zM1108.39 62.32h4.34v2.17h-4.34zM1173.42 62.32h2.17v2.17h-2.17zM1182.09 62.32h4.34v2.17h-4.34zM1195.09 62.32h4.34v2.17h-4.34zM1203.76 62.32h2.17v2.17h-2.17zM1268.79 62.32h6.5v2.17h-6.5zM1296.96 62.32h4.34v2.17h-4.34zM1325.14 62.32h2.17v2.17h-2.17zM1338.15 62.32h4.33v2.17h-4.33zM1392.34 62.32h2.17v2.17h-2.17zM1405.34 62.32h2.17v2.17h-2.17zM1411.84 62.32h2.17v2.17h-2.17zM1440.02 62.32h2.17v2.17h-2.17zM1459.53 62.32h2.17v2.17h-2.17zM1479.03 62.32h2.17v2.17h-2.17zM1489.87 62.32h2.17v2.17h-2.17zM1518.05 62.32h2.17v2.17h-2.17zM1522.38 62.32h4.34v2.17h-4.34zM1528.89 62.32h2.17v2.17h-2.17zM1533.22 62.32h4.34v2.17h-4.34zM1539.72 62.32h2.17v2.17h-2.17zM1550.56 62.32h2.17v2.17h-2.17zM1565.73 62.32h2.17v2.17h-2.17zM78.83 116.51h2.17v2.17h-2.17zM85.33 116.51h2.17v2.17h-2.17zM94 116.51h2.17v2.17h-2.17zM120.01 116.51h2.17v2.17h-2.17zM167.7 116.51h4.33v2.17h-4.33zM193.71 116.51h2.17v2.17h-2.17zM198.04 116.51h2.17v2.17h-2.17zM219.72 116.51h2.17v2.17h-2.17zM230.56 116.51h2.17v2.17h-2.17zM239.23 116.51h2.17v2.17h-2.17zM243.56 116.51h2.17v2.17h-2.17zM256.56 116.51h4.34v2.17h-4.34zM269.57 116.51h2.17v2.17h-2.17zM286.91 116.51h6.5v2.17h-6.5zM297.75 116.51h8.67v2.17h-8.67zM319.42 116.51h2.17v2.17h-2.17zM338.93 116.51h2.17v2.17h-2.17zM373.61 116.51h2.17v2.17h-2.17zM393.12 116.51h8.67v2.17h-8.67zM414.79 116.51h2.17v2.17h-2.17zM427.8 116.51h2.17v2.17h-2.17zM484.15 116.51h2.17v2.17h-2.17zM508 116.51h2.17v2.17h-2.17zM521 116.51h2.17v2.17h-2.17zM534 116.51h2.17v2.17h-2.17zM538.34 116.51h2.17v2.17h-2.17zM566.52 116.51h2.17v2.17h-2.17zM570.85 116.51h2.17v2.17h-2.17zM601.2 116.51h2.17v2.17h-2.17zM614.2 116.51h6.5v2.17h-6.5zM631.54 116.51h2.17v2.17h-2.17zM635.88 116.51h2.17v2.17h-2.17zM644.55 116.51h2.17v2.17h-2.17zM716.07 116.51h2.17v2.17h-2.17zM774.6 116.51h2.17v2.17h-2.17zM843.96 116.51h4.33v2.17h-4.33zM854.79 116.51h2.17v2.17h-2.17zM876.47 116.51h2.17v2.17h-2.17zM937.16 116.51h2.17v2.17h-2.17zM969.67 116.51h2.17v2.17h-2.17zM989.18 116.51h2.17v2.17h-2.17zM1000.02 116.51h6.5v2.17h-6.5zM1101.89 116.51h6.5v2.17h-6.5zM1125.73 116.51h8.67v2.17h-8.67zM1149.58 116.51h4.33v2.17h-4.33zM1158.24 116.51h4.34v2.17h-4.34zM1210.26 116.51h4.34v2.17h-4.34zM1218.93 116.51h4.34v2.17h-4.34zM1244.94 116.51h2.17v2.17h-2.17zM1253.62 116.51h2.17v2.17h-2.17zM1283.96 116.51h6.5v2.17h-6.5zM1318.64 116.51h2.17v2.17h-2.17zM1372.83 116.51h4.34v2.17h-4.34zM1420.51 116.51h6.5v2.17h-6.5zM1429.18 116.51h2.17v2.17h-2.17zM1476.87 116.51h13.01v2.17h-13.01zM1535.39 116.51h2.17v2.17h-2.17zM1546.23 116.51h4.34v2.17h-4.34zM1561.4 116.51h2.17v2.17h-2.17zM78.83 170.7h2.17v2.17h-2.17zM89.67 170.7h8.67v2.17h-8.67zM150.36 170.7h8.67v2.17h-8.67zM167.7 170.7h4.33v2.17h-4.33zM217.55 170.7h2.17v2.17h-2.17zM221.89 170.7h2.17v2.17h-2.17zM315.09 170.7h6.5v2.17h-6.5zM371.44 170.7h2.17v2.17h-2.17zM377.94 170.7h2.17v2.17h-2.17zM382.28 170.7h4.33v2.17h-4.33zM393.12 170.7h2.17v2.17h-2.17zM419.13 170.7h2.17v2.17h-2.17zM423.46 170.7h2.17v2.17h-2.17zM451.64 170.7h4.34v2.17h-4.34zM464.64 170.7h2.17v2.17h-2.17zM473.31 170.7h2.17v2.17h-2.17zM484.15 170.7h2.17v2.17h-2.17zM538.34 170.7h2.17v2.17h-2.17zM577.35 170.7h4.34v2.17h-4.34zM605.53 170.7h2.17v2.17h-2.17zM633.71 170.7h2.17v2.17h-2.17zM653.22 170.7h2.17v2.17h-2.17zM687.9 170.7h8.67v2.17h-8.67zM770.26 170.7h2.17v2.17h-2.17zM789.77 170.7h2.17v2.17h-2.17zM802.77 170.7h2.17v2.17h-2.17zM826.62 170.7h8.67v2.17h-8.67zM854.79 170.7h2.17v2.17h-2.17zM911.15 170.7h2.17v2.17h-2.17zM926.32 170.7h2.17v2.17h-2.17zM967.5 170.7h2.17v2.17h-2.17zM976.17 170.7h2.17v2.17h-2.17zM1002.18 170.7h2.17v2.17h-2.17zM1010.85 170.7h2.17v2.17h-2.17zM1067.21 170.7h2.17v2.17h-2.17zM1075.88 170.7h2.17v2.17h-2.17zM1082.38 170.7h2.17v2.17h-2.17zM1106.22 170.7h2.17v2.17h-2.17zM1121.4 170.7h2.17v2.17h-2.17zM1162.58 170.7h4.34v2.17h-4.34zM1188.59 170.7h2.17v2.17h-2.17zM1203.76 170.7h2.17v2.17h-2.17zM1210.26 170.7h2.17v2.17h-2.17zM1216.77 170.7h2.17v2.17h-2.17zM1255.78 170.7h2.17v2.17h-2.17zM1359.82 170.7h4.34v2.17h-4.34zM1390.17 170.7h2.17v2.17h-2.17zM1398.84 170.7h2.17v2.17h-2.17zM1405.34 170.7h2.17v2.17h-2.17zM1481.2 170.7h2.17v2.17h-2.17zM1492.04 170.7h2.17v2.17h-2.17zM1505.04 170.7h2.17v2.17h-2.17zM1537.56 170.7h2.17v2.17h-2.17zM1574.4 170.7h10.84v2.17h-10.84zM78.83 224.89h2.17v2.17h-2.17zM85.33 224.89h2.17v2.17h-2.17zM135.19 224.89h4.34v2.17h-4.34zM172.03 224.89h2.17v2.17h-2.17zM202.38 224.89h2.17v2.17h-2.17zM206.71 224.89h2.17v2.17h-2.17zM219.72 224.89h2.17v2.17h-2.17zM232.72 224.89h4.34v2.17h-4.34zM256.56 224.89h4.34v2.17h-4.34zM273.91 224.89h2.17v2.17h-2.17zM284.74 224.89h2.17v2.17h-2.17zM410.46 224.89h4.34v2.17h-4.34zM419.13 224.89h2.17v2.17h-2.17zM436.47 224.89h2.17v2.17h-2.17zM501.49 224.89h2.17v2.17h-2.17zM508 224.89h2.17v2.17h-2.17zM525.33 224.89h2.17v2.17h-2.17zM542.67 224.89h4.34v2.17h-4.34zM564.35 224.89h2.17v2.17h-2.17zM581.69 224.89h2.17v2.17h-2.17zM961 224.89h2.17v2.17h-2.17zM1097.55 224.89h2.17v2.17h-2.17zM1104.06 224.89h2.17v2.17h-2.17zM1140.9 224.89h2.17v2.17h-2.17zM1156.08 224.89h2.17v2.17h-2.17zM1179.92 224.89h2.17v2.17h-2.17zM1238.44 224.89h4.34v2.17h-4.34zM1249.28 224.89h2.17v2.17h-2.17zM1257.95 224.89h2.17v2.17h-2.17zM1277.46 224.89h2.17v2.17h-2.17zM1316.47 224.89h2.17v2.17h-2.17zM1327.31 224.89h2.17v2.17h-2.17zM1338.15 224.89h2.17v2.17h-2.17zM1348.98 224.89h2.17v2.17h-2.17zM1370.66 224.89h2.17v2.17h-2.17zM1381.5 224.89h2.17v2.17h-2.17zM1403.17 224.89h2.17v2.17h-2.17zM1416.18 224.89h2.17v2.17h-2.17zM1427.01 224.89h2.17v2.17h-2.17zM1440.02 224.89h2.17v2.17h-2.17zM1466.03 224.89h2.17v2.17h-2.17zM1479.03 224.89h2.17v2.17h-2.17zM1489.87 224.89h4.34v2.17h-4.34zM1518.05 224.89h2.17v2.17h-2.17zM1533.22 224.89h4.34v2.17h-4.34zM1548.39 224.89h2.17v2.17h-2.17zM1559.23 224.89h4.34v2.17h-4.34zM1574.4 224.89h4.34v2.17h-4.34zM78.83 279.07h2.17v2.17h-2.17zM87.5 279.07h2.17v2.17h-2.17zM107.01 279.07h2.17v2.17h-2.17zM117.84 279.07h4.33v2.17h-4.33zM148.19 279.07h2.17v2.17h-2.17zM152.53 279.07h2.17v2.17h-2.17zM167.7 279.07h6.5v2.17h-6.5zM267.4 279.07h2.17v2.17h-2.17zM312.92 279.07h2.17v2.17h-2.17zM371.44 279.07h2.17v2.17h-2.17zM377.94 279.07h2.17v2.17h-2.17zM416.96 279.07h2.17v2.17h-2.17zM78.83 333.26h2.17v2.17h-2.17zM182.87 333.26h2.17v2.17h-2.17zM243.56 333.26h2.17v2.17h-2.17zM78.83 387.45h2.17v2.17h-2.17zM83.16 387.45h2.17v2.17h-2.17zM107.01 387.45h2.17v2.17h-2.17zM120.01 387.45h2.17v2.17h-2.17zM135.19 387.45h2.17v2.17h-2.17zM174.2 387.45h6.5v2.17h-6.5zM347.6 387.45h69.36v2.17h-69.36zM78.83 441.64h2.17v4.33h-2.17zM78.83 497.99h2.17v2.17h-2.17zM85.33 443.8h2.17v2.17h-2.17zM89.67 443.8h2.17v2.17h-2.17zM980.51 443.8h2.17v2.17h-2.17zM1021.69 443.8h563.55v2.17h-563.55zM87.5 166.36h2.17v6.5h-2.17zM102.67 166.36h4.33v6.5h-4.33zM198.04 166.36h2.17v6.5h-2.17zM280.41 166.36h2.17v6.5h-2.17zM416.96 166.36h2.17v6.5h-2.17zM471.15 166.36h2.17v6.5h-2.17zM540.51 166.36h4.34v6.5h-4.34zM726.91 166.36h2.17v6.5h-2.17zM783.27 166.36h2.17v6.5h-2.17zM876.47 166.36h15.17v6.5h-15.17zM902.48 166.36h2.17v6.5h-2.17zM1045.53 166.36h2.17v6.5h-2.17zM1288.29 166.36h4.34v6.5h-4.34zM94 378.78h2.17v10.84h-2.17zM98.34 378.78h2.17v10.84h-2.17zM102.67 222.72h2.17v4.33h-2.17zM126.52 222.72h2.17v4.33h-2.17zM198.04 222.72h2.17v4.33h-2.17zM347.6 222.72h8.67v4.33h-8.67zM397.45 222.72h2.17v4.33h-2.17zM406.12 222.72h4.33v4.33h-4.33zM414.79 222.72h4.33v4.33h-4.33zM527.5 222.72h2.17v4.33h-2.17zM547.01 222.72h17.34v4.33h-17.34zM601.2 222.72h2.17v4.33h-2.17zM1045.53 222.72h2.17v4.33h-2.17zM1205.93 222.72h2.17v4.33h-2.17zM1214.6 222.72h2.17v4.33h-2.17zM1229.77 222.72h2.17v4.33h-2.17zM1305.63 222.72h2.17v4.33h-2.17zM1359.82 222.72h2.17v4.33h-2.17zM1368.49 222.72h2.17v4.33h-2.17zM1405.34 222.72h2.17v4.33h-2.17zM1429.18 222.72h2.17v4.33h-2.17zM1453.02 222.72h2.17v4.33h-2.17zM1505.04 222.72h2.17v4.33h-2.17zM1520.22 222.72h2.17v4.33h-2.17zM102.67 276.91h2.17v4.34h-2.17zM137.35 276.91h2.17v4.34h-2.17zM156.86 276.91h2.17v4.34h-2.17zM453.81 276.91h2.17v4.34h-2.17zM471.15 276.91h2.17v4.34h-2.17zM508 276.91h2.17v4.34h-2.17zM579.52 276.91h2.17v4.34h-2.17zM616.37 276.91h2.17v4.34h-2.17zM102.67 428.63h2.17v17.34h-2.17zM107.01 428.63h6.5v17.34h-6.5zM104.84 411.29h2.17v34.68h-2.17zM137.35 331.09h4.33v4.34h-4.33zM146.02 331.09h4.34v4.34h-4.34zM159.03 331.09h2.17v4.34h-2.17zM141.69 326.76h4.34v8.67h-4.34zM148.19 112.18h2.17v6.5h-2.17zM590.36 112.18h10.84v6.5h-10.84zM670.56 112.18h2.17v6.5h-2.17zM700.9 112.18h2.17v6.5h-2.17zM776.76 112.18h2.17v6.5h-2.17zM915.48 112.18h2.17v6.5h-2.17zM1015.19 112.18h2.17v6.5h-2.17zM1054.2 112.18h2.17v6.5h-2.17zM1255.78 112.18h2.17v6.5h-2.17zM150.36 263.9h2.17v17.34h-2.17zM226.22 263.9h2.17v17.34h-2.17zM761.59 263.9h2.17v17.34h-2.17zM869.97 263.9h4.33v17.34h-4.33zM963.17 263.9h4.34v17.34h-4.34zM1015.19 263.9h4.34v17.34h-4.34zM1080.21 263.9h2.17v17.34h-2.17zM1151.74 263.9h4.34v17.34h-4.34zM1234.11 263.9h4.34v17.34h-4.34zM1329.48 263.9h8.67v17.34h-8.67zM1444.36 263.9h8.67v17.34h-8.67zM1580.91 263.9h4.33v17.34h-4.33zM159.03 159.86h2.17v13h-2.17zM711.74 159.86h2.17v13h-2.17zM781.1 159.86h2.17v13h-2.17zM791.94 159.86h2.17v13h-2.17zM1000.02 159.86h2.17v13h-2.17zM1244.94 159.86h2.17v13h-2.17zM1325.14 159.86h2.17v13h-2.17zM172.03 315.92h2.17v19.51h-2.17zM174.2 57.99h2.17v6.5h-2.17zM219.72 57.99h4.34v6.5h-4.34zM356.27 57.99h2.17v6.5h-2.17zM423.46 57.99h4.33v6.5h-4.33zM462.48 57.99h2.17v6.5h-2.17zM477.65 57.99h2.17v6.5h-2.17zM622.87 57.99h2.17v6.5h-2.17zM700.9 57.99h2.17v6.5h-2.17zM861.3 57.99h2.17v6.5h-2.17zM865.63 57.99h2.17v6.5h-2.17zM991.35 57.99h2.17v6.5h-2.17zM1004.35 57.99h2.17v6.5h-2.17zM1013.02 57.99h2.17v6.5h-2.17zM1021.69 57.99h2.17v6.5h-2.17zM1225.44 57.99h2.17v6.5h-2.17zM1260.12 57.99h2.17v6.5h-2.17zM1414.01 57.99h2.17v6.5h-2.17zM1418.35 57.99h4.33v6.5h-4.33zM1487.7 57.99h2.17v6.5h-2.17zM1576.57 57.99h2.17v6.5h-2.17zM178.53 272.57h2.17v8.67h-2.17zM224.05 272.57h2.17v8.67h-2.17zM228.39 272.57h2.17v8.67h-2.17zM462.48 272.57h2.17v8.67h-2.17zM531.84 272.57h2.17v8.67h-2.17zM547.01 272.57h2.17v8.67h-2.17zM562.18 272.57h2.17v8.67h-2.17zM577.35 272.57h2.17v8.67h-2.17zM614.2 272.57h2.17v8.67h-2.17zM655.38 272.57h2.17v8.67h-2.17zM677.06 272.57h4.34v8.67h-4.34zM731.25 272.57h4.34v8.67h-4.34zM763.76 272.57h2.17v8.67h-2.17zM791.94 272.57h4.33v8.67h-4.33zM828.78 272.57h4.33v8.67h-4.33zM867.8 272.57h2.17v8.67h-2.17zM913.32 272.57h4.33v8.67h-4.33zM961 272.57h2.17v8.67h-2.17zM967.5 272.57h2.17v8.67h-2.17zM1019.52 272.57h2.17v8.67h-2.17zM1078.05 272.57h2.17v8.67h-2.17zM1082.38 272.57h2.17v8.67h-2.17zM1147.41 272.57h4.33v8.67h-4.33zM1156.08 272.57h4.34v8.67h-4.34zM1229.77 272.57h4.33v8.67h-4.33zM1238.44 272.57h4.34v8.67h-4.34zM1325.14 272.57h4.34v8.67h-4.34zM1338.15 272.57h4.33v8.67h-4.33zM1440.02 272.57h4.34v8.67h-4.34zM1453.02 272.57h4.34v8.67h-4.34zM1574.4 272.57h6.5v8.67h-6.5zM191.54 60.16h2.17v4.33h-2.17zM668.39 60.16h2.17v4.33h-2.17zM1097.55 60.16h2.17v4.33h-2.17zM208.88 220.55h2.17v6.5h-2.17zM252.23 220.55h2.17v6.5h-2.17zM293.41 220.55h2.17v6.5h-2.17zM306.42 220.55h2.17v6.5h-2.17zM362.77 220.55h2.17v6.5h-2.17zM592.53 220.55h2.17v6.5h-2.17zM616.37 220.55h2.17v6.5h-2.17zM880.8 220.55h2.17v6.5h-2.17zM926.32 220.55h2.17v6.5h-2.17zM950.16 220.55h2.17v6.5h-2.17zM971.84 220.55h2.17v6.5h-2.17zM1052.04 220.55h2.17v6.5h-2.17zM1091.05 220.55h2.17v6.5h-2.17zM286.91 168.53h2.17v4.33h-2.17zM785.43 168.53h2.17v4.33h-2.17zM1013.02 168.53h2.17v4.33h-2.17zM1286.13 168.53h2.17v4.33h-2.17zM349.77 114.34h2.17v4.34h-2.17zM1427.01 114.34h2.17v4.34h-2.17zM427.8 53.65h2.17v10.84h-2.17zM887.31 53.65h2.17v10.84h-2.17zM1166.91 53.65h2.17v10.84h-2.17zM1290.46 53.65h2.17v10.84h-2.17zM1355.49 53.65h2.17v10.84h-2.17zM1388 53.65h2.17v10.84h-2.17zM785.43 105.67h2.17v13.01h-2.17zM1175.59 105.67h2.17v13.01h-2.17z"/>
</g>
</g>
<g filter="url(#c)">
<g font-family="'DejaVu Sans', 'Liberation Sans', sans-serif" font-weight="200" font-size="34.7" fill="#222" stroke="#222" stroke-width="1" stroke-linejoin="round">
<text x="75.45" y="593" text-anchor="middle">0</text>
<text x="226.47" y="593" text-anchor="middle">100</text>
<text x="377.49" y="593" text-anchor="middle">200</text>
<text x="528.51" y="593" text-anchor="middle">300</text>
<text x="679.53" y="593" text-anchor="middle">400</text>
<text x="830.55" y="593" text-anchor="middle">500</text>
<text x="981.57" y="593" text-anchor="middle">600</text>
<text x="1132.59" y="593" text-anchor="middle">700</text>
<text x="1283.61" y="593" text-anchor="middle">800</text>
<text x="1434.63" y="593" text-anchor="middle">900</text>
<text x="1585.65" y="593" text-anchor="middle">1000</text>
<text x="73.6" y="539.65" text-anchor="end">1</text>
<text x="71.5" y="488.75" text-anchor="end">2</text>
<text x="70.3" y="428.15" text-anchor="end">3</text>
<text x="70.3" y="374.45" text-anchor="end">4</text>
<text x="70.3" y="319.25" text-anchor="end">5</text>
<text x="70.3" y="265.55" text-anchor="end">6</text>
<text x="70.3" y="211.65" text-anchor="end">7</text>
<text x="70.3" y="159.85" text-anchor="end">8</text>
<text x="70.3" y="105.15" text-anchor="end">9</text>
<text x="70.3" y="49.5" text-anchor="end">10</text>
</g>
</g>
</svg>
</div>
<div class="hl" style="left:249.4px;top:655.75px;width:1376.8px;height:63.15px"></div>
<div class="hl" style="left:11.3px;top:729.2px;width:1093.7px;height:63.85px"></div>
<p class="cap">
<span class="w b" style="left:15.84px;top:643.85px;transform:scaleX(0.9238)">Figure</span>
<span class="w b" style="left:171.28px;top:643.85px;transform:scaleX(0.9450)">15</span><span class="w" style="left:225.08px;top:643.85px;transform:scaleX(1.0492)">.</span>
<span class="w" style="left:253.28px;top:643.85px;transform:scaleX(0.9443)">The</span>
<span class="w" style="left:350.72px;top:643.85px;transform:scaleX(1.0177)">digits</span>
<span class="w" style="left:481.24px;top:643.85px;transform:scaleX(1.0755)">of</span>
<span class="w" style="left:543.47px;top:643.85px;transform:scaleX(1.0343)">the</span>
<span class="w" style="left:631.29px;top:643.85px;transform:scaleX(1.0719)">first</span>
<span class="w" style="left:732.33px;top:643.85px;transform:scaleX(1.0069)">1000</span>
<span class="w" style="left:856.5px;top:643.85px;transform:scaleX(1.0312)">approximations</span>
<span class="w" style="left:1209.42px;top:643.85px;transform:scaleX(1.0881)">of</span>
<span class="w" style="left:1269.88px;top:643.85px;transform:scaleX(0.9302)">π,</span>
<span class="w" style="left:1328.64px;top:643.85px;transform:scaleX(1.0194)">shown</span>
<span class="w" style="left:1488.28px;top:643.85px;transform:scaleX(1.0549)">to</span>
<span class="w" style="left:1550.97px;top:643.85px;transform:scaleX(1.0343)">the</span>
<span class="w" style="left:16.9px;top:717.85px;transform:scaleX(1.0878)">tenth</span>
<span class="w" style="left:145.24px;top:717.85px;transform:scaleX(1.0725)">digit,</span>
<span class="w" style="left:265.77px;top:717.85px;transform:scaleX(0.8505)">as</span>
<span class="w" style="left:323px;top:717.85px;transform:scaleX(1.0346)">amplitudes</span>
<span class="w" style="left:575.89px;top:717.85px;transform:scaleX(1.1082)">of</span>
<span class="w" style="left:631.79px;top:717.85px;transform:scaleX(0.8352)">a</span>
<span class="w" style="left:670.35px;top:717.85px;transform:scaleX(1.0412)">10-partial</span>
<span class="w" style="left:891.84px;top:717.85px;transform:scaleX(1.0296)">spectrum.</span>
</p>
</body>
</html>
